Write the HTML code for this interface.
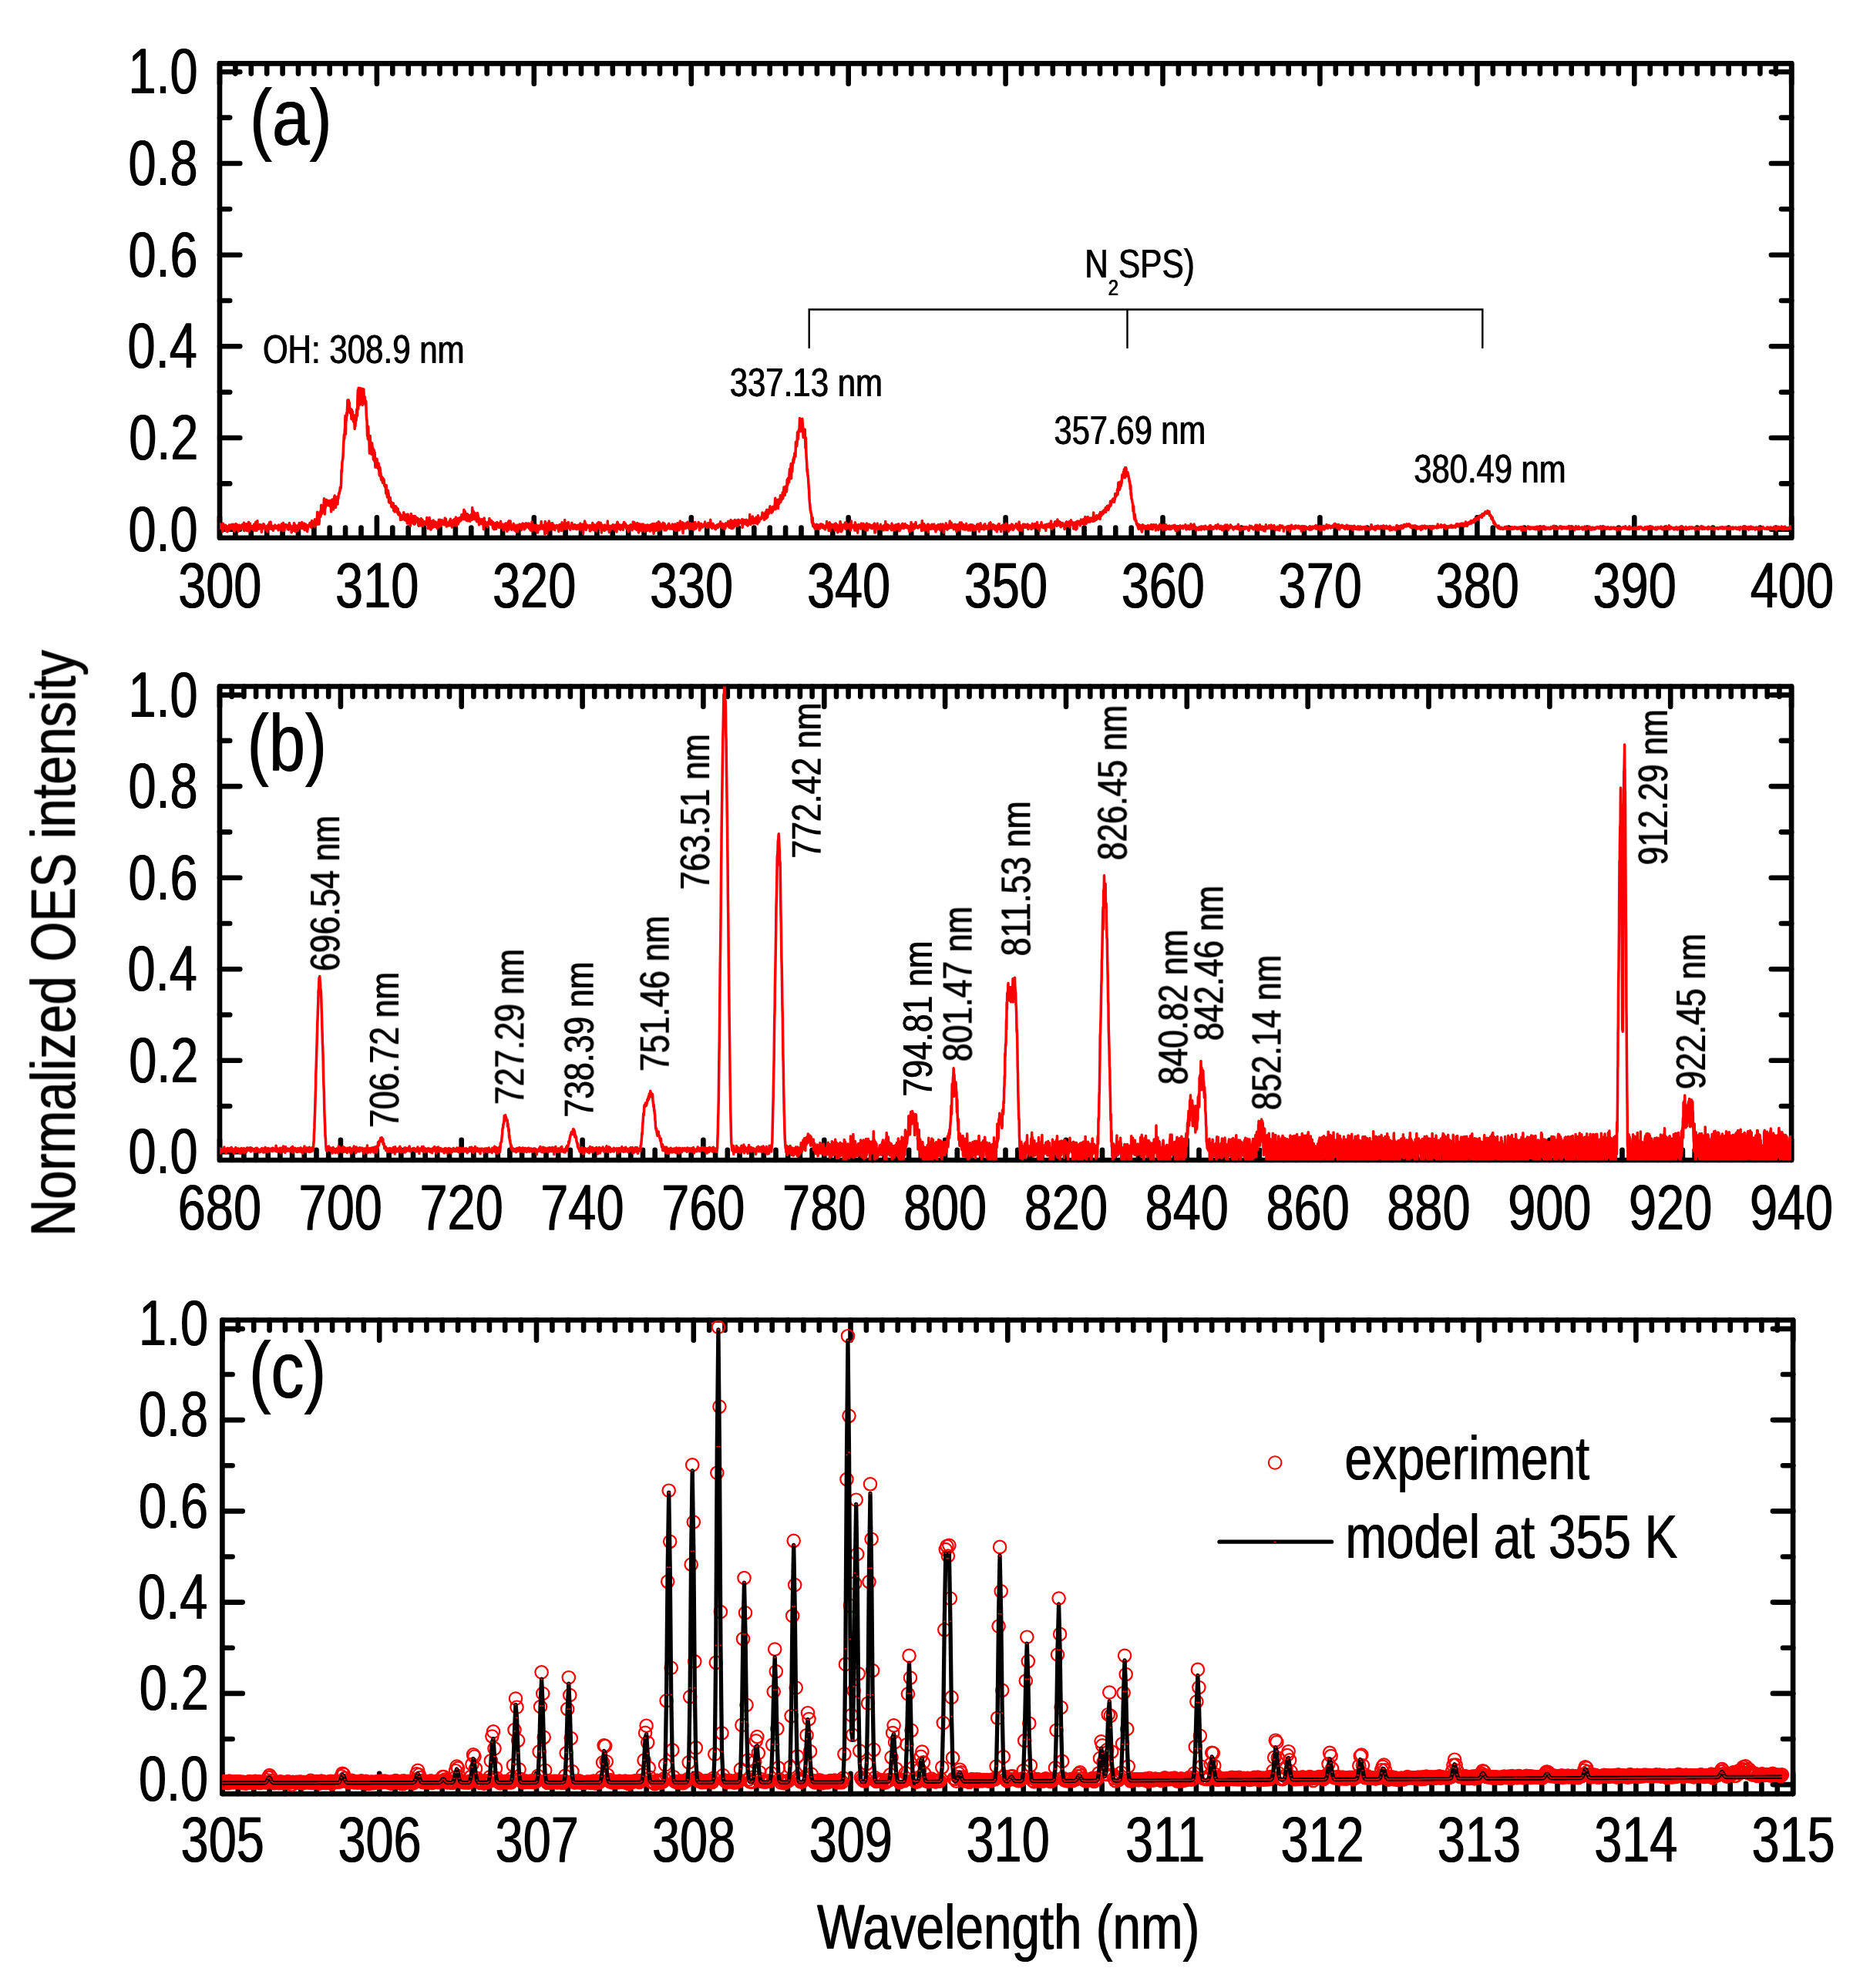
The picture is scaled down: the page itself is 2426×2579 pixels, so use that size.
<!DOCTYPE html><html><head><meta charset="utf-8"><title>OES spectra</title><style>html,body{margin:0;padding:0;background:#fff}svg{display:block}text{font-family:"Liberation Sans", sans-serif;fill:#000;filter:url(#bd)}</style></head><body>
<svg width="2426" height="2579" viewBox="0 0 2426 2579"><rect width="2426" height="2579" fill="#fff"/>
<defs><filter id="bd" x="-5%" y="-20%" width="110%" height="140%"><feOffset dx="1.2" dy="0" result="o"/><feMerge><feMergeNode in="SourceGraphic"/><feMergeNode in="o"/></feMerge></filter></defs>
<path d="M305.4 697.7v-13.2M305.4 82.4v13.2M325.8 697.7v-13.2M325.8 82.4v13.2M346.2 697.7v-13.2M346.2 82.4v13.2M366.6 697.7v-13.2M366.6 82.4v13.2M387 697.7v-13.2M387 82.4v13.2M407.4 697.7v-13.2M407.4 82.4v13.2M427.7 697.7v-13.2M427.7 82.4v13.2M448.1 697.7v-13.2M448.1 82.4v13.2M468.5 697.7v-13.2M468.5 82.4v13.2M509.3 697.7v-13.2M509.3 82.4v13.2M529.7 697.7v-13.2M529.7 82.4v13.2M550.1 697.7v-13.2M550.1 82.4v13.2M570.5 697.7v-13.2M570.5 82.4v13.2M590.9 697.7v-13.2M590.9 82.4v13.2M611.3 697.7v-13.2M611.3 82.4v13.2M631.7 697.7v-13.2M631.7 82.4v13.2M652.1 697.7v-13.2M652.1 82.4v13.2M672.4 697.7v-13.2M672.4 82.4v13.2M713.2 697.7v-13.2M713.2 82.4v13.2M733.6 697.7v-13.2M733.6 82.4v13.2M754 697.7v-13.2M754 82.4v13.2M774.4 697.7v-13.2M774.4 82.4v13.2M794.8 697.7v-13.2M794.8 82.4v13.2M815.2 697.7v-13.2M815.2 82.4v13.2M835.6 697.7v-13.2M835.6 82.4v13.2M856 697.7v-13.2M856 82.4v13.2M876.4 697.7v-13.2M876.4 82.4v13.2M917.2 697.7v-13.2M917.2 82.4v13.2M937.5 697.7v-13.2M937.5 82.4v13.2M957.9 697.7v-13.2M957.9 82.4v13.2M978.3 697.7v-13.2M978.3 82.4v13.2M998.7 697.7v-13.2M998.7 82.4v13.2M1019.1 697.7v-13.2M1019.1 82.4v13.2M1039.5 697.7v-13.2M1039.5 82.4v13.2M1059.9 697.7v-13.2M1059.9 82.4v13.2M1080.3 697.7v-13.2M1080.3 82.4v13.2M1121.1 697.7v-13.2M1121.1 82.4v13.2M1141.5 697.7v-13.2M1141.5 82.4v13.2M1161.9 697.7v-13.2M1161.9 82.4v13.2M1182.2 697.7v-13.2M1182.2 82.4v13.2M1202.6 697.7v-13.2M1202.6 82.4v13.2M1223 697.7v-13.2M1223 82.4v13.2M1243.4 697.7v-13.2M1243.4 82.4v13.2M1263.8 697.7v-13.2M1263.8 82.4v13.2M1284.2 697.7v-13.2M1284.2 82.4v13.2M1325 697.7v-13.2M1325 82.4v13.2M1345.4 697.7v-13.2M1345.4 82.4v13.2M1365.8 697.7v-13.2M1365.8 82.4v13.2M1386.2 697.7v-13.2M1386.2 82.4v13.2M1406.6 697.7v-13.2M1406.6 82.4v13.2M1427 697.7v-13.2M1427 82.4v13.2M1447.3 697.7v-13.2M1447.3 82.4v13.2M1467.7 697.7v-13.2M1467.7 82.4v13.2M1488.1 697.7v-13.2M1488.1 82.4v13.2M1528.9 697.7v-13.2M1528.9 82.4v13.2M1549.3 697.7v-13.2M1549.3 82.4v13.2M1569.7 697.7v-13.2M1569.7 82.4v13.2M1590.1 697.7v-13.2M1590.1 82.4v13.2M1610.5 697.7v-13.2M1610.5 82.4v13.2M1630.9 697.7v-13.2M1630.9 82.4v13.2M1651.3 697.7v-13.2M1651.3 82.4v13.2M1671.7 697.7v-13.2M1671.7 82.4v13.2M1692 697.7v-13.2M1692 82.4v13.2M1732.8 697.7v-13.2M1732.8 82.4v13.2M1753.2 697.7v-13.2M1753.2 82.4v13.2M1773.6 697.7v-13.2M1773.6 82.4v13.2M1794 697.7v-13.2M1794 82.4v13.2M1814.4 697.7v-13.2M1814.4 82.4v13.2M1834.8 697.7v-13.2M1834.8 82.4v13.2M1855.2 697.7v-13.2M1855.2 82.4v13.2M1875.6 697.7v-13.2M1875.6 82.4v13.2M1896 697.7v-13.2M1896 82.4v13.2M1936.8 697.7v-13.2M1936.8 82.4v13.2M1957.1 697.7v-13.2M1957.1 82.4v13.2M1977.5 697.7v-13.2M1977.5 82.4v13.2M1997.9 697.7v-13.2M1997.9 82.4v13.2M2018.3 697.7v-13.2M2018.3 82.4v13.2M2038.7 697.7v-13.2M2038.7 82.4v13.2M2059.1 697.7v-13.2M2059.1 82.4v13.2M2079.5 697.7v-13.2M2079.5 82.4v13.2M2099.9 697.7v-13.2M2099.9 82.4v13.2M2140.7 697.7v-13.2M2140.7 82.4v13.2M2161.1 697.7v-13.2M2161.1 82.4v13.2M2181.5 697.7v-13.2M2181.5 82.4v13.2M2201.8 697.7v-13.2M2201.8 82.4v13.2M2222.2 697.7v-13.2M2222.2 82.4v13.2M2242.6 697.7v-13.2M2242.6 82.4v13.2M2263 697.7v-13.2M2263 82.4v13.2M2283.4 697.7v-13.2M2283.4 82.4v13.2M2303.8 697.7v-13.2M2303.8 82.4v13.2M285 697.7v-26.3M285 82.4v26.3M488.9 697.7v-26.3M488.9 82.4v26.3M692.8 697.7v-26.3M692.8 82.4v26.3M896.8 697.7v-26.3M896.8 82.4v26.3M1100.7 697.7v-26.3M1100.7 82.4v26.3M1304.6 697.7v-26.3M1304.6 82.4v26.3M1508.5 697.7v-26.3M1508.5 82.4v26.3M1712.4 697.7v-26.3M1712.4 82.4v26.3M1916.4 697.7v-26.3M1916.4 82.4v26.3M2120.3 697.7v-26.3M2120.3 82.4v26.3M2324.2 697.7v-26.3M2324.2 82.4v26.3M285 686.7h26.3M2324.2 686.7h-26.3M285 627.4h13.2M2324.2 627.4h-13.2M285 568h26.3M2324.2 568h-26.3M285 508.7h13.2M2324.2 508.7h-13.2M285 449.3h26.3M2324.2 449.3h-26.3M285 390h13.2M2324.2 390h-13.2M285 330.7h26.3M2324.2 330.7h-26.3M285 271.3h13.2M2324.2 271.3h-13.2M285 212h26.3M2324.2 212h-26.3M285 152.6h13.2M2324.2 152.6h-13.2M285 93.3h26.3M2324.2 93.3h-26.3" stroke="#000" stroke-width="6.6" stroke-linecap="round" fill="none"/>
<rect x="285" y="82.4" width="2039.2" height="615.3" fill="none" stroke="#000" stroke-width="6.6" stroke-linejoin="round"/>
<clipPath id="cp1"><rect x="285" y="82.4" width="2039.2" height="615.3"/></clipPath>
<polyline points="285,683.6 285.4,679.5 285.8,680 286.3,685.3 286.7,684.7 287.1,685.4 287.5,682 287.9,683.9 288.3,681.4 288.8,689.4 289.2,678.9 289.6,684 290,681.6 290.4,684.2 290.9,684.9 291.3,682.3 291.7,681.2 292.1,684.4 292.5,684.2 292.9,681.6 293.4,686.4 293.8,688.4 294.2,682.5 294.6,685.8 295,689.7 295.5,686.2 295.9,685.2 296.3,687.4 296.7,688.3 297.1,683.6 297.5,681 298,684.5 298.4,686 298.8,682.5 299.2,681.5 299.6,684.7 300,682.1 300.5,680.5 300.9,684.4 301.3,686.2 301.7,682.7 302.1,683 302.6,680.3 303,687.7 303.4,685.8 303.8,686.3 304.2,689.1 304.6,683.3 305.1,682.1 305.5,686 305.9,679.5 306.3,681.2 306.7,681.8 307.2,682.5 307.6,680.8 308,687.8 308.4,681.8 308.8,681.9 309.2,689.2 309.7,682.7 310.1,684.5 310.5,681.3 310.9,685.1 311.3,683.8 311.8,682.7 312.2,686.4 312.6,681.9 313,684.1 313.4,682.2 313.8,685.3 314.3,680.4 314.7,681.9 315.1,684.3 315.5,681.8 315.9,679.9 316.4,678.2 316.8,688.6 317.2,681 317.6,682.3 318,684 318.4,686.8 318.9,679.9 319.3,687.6 319.7,682 320.1,679.7 320.5,688.7 321,684.7 321.4,687.8 321.8,683 322.2,679.1 322.6,677.5 323,689.2 323.5,685.5 323.9,681.6 324.3,678.9 324.7,682.4 325.1,686 325.5,682.8 326,683.8 326.4,684.4 326.8,686 327.2,682.5 327.6,682.8 328.1,684 328.5,684.4 328.9,687.7 329.3,685.2 329.7,680 330.1,684.3 330.6,688.2 331,679.6 331.4,682.1 331.8,677.3 332.2,683.5 332.7,685.1 333.1,688.2 333.5,679.7 333.9,675.8 334.3,686.3 334.7,685.7 335.2,681.9 335.6,686.3 336,684.6 336.4,684.8 336.8,683.1 337.3,680.4 337.7,683.7 338.1,680.9 338.5,685 338.9,682.7 339.3,690.3 339.8,688.2 340.2,681.3 340.6,685.5 341,682 341.4,682.1 341.9,679.7 342.3,681.2 342.7,680.6 343.1,684.1 343.5,685.9 343.9,686 344.4,685.2 344.8,687.2 345.2,685.4 345.6,684 346,683 346.5,684.8 346.9,689.6 347.3,684 347.7,683 348.1,680.4 348.5,682 349,685.7 349.4,686 349.8,677.6 350.2,681.4 350.6,678.1 351,677.2 351.5,686.2 351.9,682.6 352.3,682.3 352.7,682 353.1,682.1 353.6,683.1 354,683.2 354.4,688.3 354.8,684.2 355.2,686 355.6,683.3 356.1,685.2 356.5,681.8 356.9,681.2 357.3,682.8 357.7,682.8 358.2,683.4 358.6,685.1 359,684.2 359.4,685.3 359.8,682.5 360.2,683.7 360.7,682 361.1,687.8 361.5,681 361.9,686.1 362.3,686 362.8,684.3 363.2,685.5 363.6,682.8 364,685.5 364.4,687 364.8,686.3 365.3,679.7 365.7,683.6 366.1,687.3 366.5,683.7 366.9,688.5 367.4,678.3 367.8,688.4 368.2,682.3 368.6,682.1 369,688.2 369.4,682.8 369.9,680.7 370.3,682.3 370.7,682.9 371.1,680.8 371.5,683.2 372,682.7 372.4,684.1 372.8,681.8 373.2,686.6 373.6,681.3 374,685.3 374.5,687.1 374.9,682.6 375.3,678.6 375.7,680.8 376.1,685.3 376.5,681.6 377,685.1 377.4,684.1 377.8,683.5 378.2,690.8 378.6,683.1 379.1,686.9 379.5,685.9 379.9,688.2 380.3,688.4 380.7,686.6 381.1,681.2 381.6,678.6 382,683.8 382.4,680.4 382.8,684.5 383.2,689.6 383.7,683.3 384.1,682.4 384.5,685 384.9,682.8 385.3,682 385.7,686.4 386.2,688.2 386.6,684.4 387,684.4 387.4,684.8 387.8,680.7 388.3,678.5 388.7,685 389.1,681.6 389.5,680.9 389.9,681.6 390.3,680.5 390.8,684.9 391.2,681.5 391.6,677.6 392,681.3 392.4,685.6 392.9,681.9 393.3,679.9 393.7,682.6 394.1,685.5 394.5,679 394.9,687.5 395.4,682.2 395.8,683.8 396.2,687.4 396.6,680 397,682.7 397.5,687.3 397.9,681.9 398.3,685 398.7,689.5 399.1,685.8 399.5,682.7 400,681.3 400.4,682.5 400.8,682.6 401.2,681 401.6,682.9 402.1,678.3 402.5,681.2 402.9,680.5 403.3,679.5 403.7,684.2 404.1,682.9 404.6,675.6 405,679.1 405.4,680.8 405.8,678.5 406.2,680.9 406.6,678.2 407.1,680.9 407.5,677.7 407.9,683.3 408.3,673.8 408.7,679.4 409.2,682.6 409.6,678 410,678.2 410.4,676.2 410.8,680.2 411.2,674.9 411.7,664.2 412.1,679.9 412.5,674.3 412.9,676.2 413.3,674.3 413.8,680 414.2,676.6 414.6,670 415,670.5 415.4,663.5 415.8,670.4 416.3,666.1 416.7,655.2 417.1,667 417.5,666.3 417.9,662 418.4,660.8 418.8,656.3 419.2,657.7 419.6,659.9 420,656.1 420.4,646.7 420.9,651.7 421.3,667 421.7,656.8 422.1,659.4 422.5,653.6 423,656.5 423.4,648.3 423.8,651.9 424.2,651.9 424.6,654.5 425,655.2 425.5,653.6 425.9,649.8 426.3,652.5 426.7,655.8 427.1,649.4 427.6,653.4 428,654.2 428.4,656.7 428.8,655.6 429.2,655.7 429.6,663.8 430.1,648.8 430.5,650.3 430.9,653.1 431.3,647.9 431.7,650 432.1,650 432.6,661 433,651.9 433.4,648.7 433.8,644.2 434.2,643 434.7,644.4 435.1,654.4 435.5,658.3 435.9,647 436.3,649 436.7,645 437.2,649.1 437.6,647.5 438,653.9 438.4,644.6 438.8,646.7 439.3,641.9 439.7,639.9 440.1,640.8 440.5,637.4 440.9,637.3 441.3,632.4 441.8,632 442.2,633.3 442.6,627.2 443,609.7 443.4,612.4 443.9,600.4 444.3,597.1 444.7,596 445.1,590.8 445.5,579.5 445.9,572.3 446.4,563.7 446.8,569.3 447.2,559.5 447.6,553.4 448,539.2 448.5,563.1 448.9,541.3 449.3,545.2 449.7,535.6 450.1,539.3 450.5,530.4 451,518.9 451.4,524.8 451.8,521.3 452.2,518.9 452.6,529.3 453.1,521.7 453.5,529.3 453.9,535.7 454.3,532 454.7,535.4 455.1,530.4 455.6,538.1 456,543.5 456.4,531.4 456.8,535.2 457.2,533.8 457.6,538.9 458.1,544.4 458.5,547.1 458.9,546.6 459.3,538.8 459.7,545.1 460.2,556.5 460.6,545.7 461,552.6 461.4,539.1 461.8,546.1 462.2,544.1 462.7,531.7 463.1,530.5 463.5,539.5 463.9,519.2 464.3,506.1 464.8,530.8 465.2,503.2 465.6,520.3 466,518.4 466.4,515.6 466.8,524.9 467.3,503.4 467.7,509.2 468.1,518.3 468.5,514.2 468.9,523.4 469.4,513.9 469.8,504.2 470.2,525.5 470.6,516.4 471,512.7 471.4,506.6 471.9,505.1 472.3,519.7 472.7,522.6 473.1,514.4 473.5,521.3 474,525 474.4,519.9 474.8,520.7 475.2,536 475.6,544.2 476,544.1 476.5,565.5 476.9,558.2 477.3,569.8 477.7,553.3 478.1,564.8 478.6,569.6 479,572.9 479.4,588.1 479.8,569.8 480.2,565.6 480.6,580.9 481.1,573.7 481.5,574.7 481.9,589.3 482.3,576 482.7,574.8 483.1,582.5 483.6,585.4 484,581.8 484.4,596.2 484.8,588.2 485.2,584.1 485.7,598.1 486.1,586.9 486.5,595.9 486.9,606.2 487.3,596.6 487.7,602.5 488.2,596.8 488.6,605.9 489,595.3 489.4,606 489.8,601.5 490.3,607.6 490.7,607.4 491.1,600.9 491.5,607.1 491.9,611.4 492.3,616.9 492.8,606.1 493.2,609.4 493.6,615.9 494,614.3 494.4,621.7 494.9,622.8 495.3,623.1 495.7,618.7 496.1,620.2 496.5,626.3 496.9,620.6 497.4,621.6 497.8,625.6 498.2,622.8 498.6,630 499,630.4 499.5,628.9 499.9,632.3 500.3,629.9 500.7,640 501.1,629.5 501.5,640.2 502,638.7 502.4,645 502.8,637.9 503.2,636.2 503.6,638.3 504.1,640.5 504.5,651.4 504.9,649.4 505.3,649.2 505.7,652.3 506.1,645.3 506.6,650.2 507,652.1 507.4,651.2 507.8,657.2 508.2,657.6 508.6,658 509.1,653.3 509.5,654.5 509.9,654.1 510.3,652.8 510.7,662.5 511.2,660 511.6,658 512,664 512.4,661.6 512.8,656.4 513.2,656.7 513.7,657.3 514.1,661.6 514.5,663.1 514.9,659 515.3,664.8 515.8,662.8 516.2,659.9 516.6,666.4 517,667.8 517.4,666.2 517.8,664.6 518.3,665.6 518.7,667.3 519.1,666.5 519.5,674.4 519.9,672 520.4,668.7 520.8,672.5 521.2,674.1 521.6,673.8 522,672.9 522.4,670.6 522.9,673.6 523.3,669.5 523.7,664.7 524.1,671.1 524.5,666.5 525,669.9 525.4,674.8 525.8,672.1 526.2,674.7 526.6,669 527,675.5 527.5,667.4 527.9,670.1 528.3,678.9 528.7,669.7 529.1,667.3 529.6,675.2 530,669.5 530.4,678.9 530.8,672.3 531.2,678.7 531.6,671.8 532.1,679.4 532.5,682.3 532.9,672.6 533.3,666.5 533.7,676.1 534.1,671.6 534.6,674.1 535,675.7 535.4,672.8 535.8,669.6 536.2,679.1 536.7,673.4 537.1,674.3 537.5,680.2 537.9,670.5 538.3,669.6 538.7,679.1 539.2,670.6 539.6,676.2 540,677 540.4,671.8 540.8,676.1 541.3,675.9 541.7,672.3 542.1,673.1 542.5,674.4 542.9,681.8 543.3,682.4 543.8,673.9 544.2,680.4 544.6,677.1 545,681 545.4,678.2 545.9,681.8 546.3,672.6 546.7,681 547.1,678.3 547.5,678.5 547.9,674.2 548.4,682.5 548.8,678.2 549.2,678.8 549.6,676.5 550,676.8 550.5,679.8 550.9,677.6 551.3,679.6 551.7,677 552.1,678.8 552.5,680.6 553,678.7 553.4,677.5 553.8,671.6 554.2,680.3 554.6,677.9 555.1,674.3 555.5,685.5 555.9,684.5 556.3,682.8 556.7,679.5 557.1,671.6 557.6,678 558,675.5 558.4,680 558.8,687.1 559.2,686.6 559.6,676.3 560.1,679 560.5,683.6 560.9,676.1 561.3,684.4 561.7,676.1 562.2,675.1 562.6,682 563,683 563.4,677 563.8,683 564.2,676.9 564.7,683.3 565.1,677.1 565.5,679.3 565.9,680.9 566.3,682.4 566.8,678.8 567.2,685.5 567.6,680.4 568,680.8 568.4,677.5 568.8,683.5 569.3,674.3 569.7,680.5 570.1,683.1 570.5,675.3 570.9,674.4 571.4,680.2 571.8,682.3 572.2,679.5 572.6,681.7 573,680.5 573.4,674.7 573.9,678.4 574.3,679.1 574.7,678.5 575.1,679.8 575.5,677 576,676.9 576.4,680.7 576.8,679.3 577.2,672.1 577.6,678.3 578,680.2 578.5,673.2 578.9,679.5 579.3,683 579.7,677.5 580.1,682.4 580.6,681.1 581,678.6 581.4,680 581.8,681.9 582.2,681.3 582.6,681.4 583.1,676 583.5,681.8 583.9,681.4 584.3,673.3 584.7,681.3 585.1,675 585.6,675.5 586,680.1 586.4,684 586.8,678.2 587.2,677.2 587.7,676.1 588.1,678.6 588.5,674.8 588.9,674 589.3,681.4 589.7,673.4 590.2,677.1 590.6,679.2 591,678.1 591.4,670.9 591.8,673.5 592.3,682.1 592.7,675.9 593.1,676.4 593.5,676.2 593.9,677.1 594.3,679.9 594.8,672.2 595.2,677.7 595.6,675.7 596,676.2 596.4,676.3 596.9,671.3 597.3,672 597.7,674.9 598.1,675.2 598.5,673.1 598.9,667.7 599.4,669.9 599.8,669 600.2,670.3 600.6,669.5 601,667.3 601.5,673.7 601.9,661.3 602.3,669.5 602.7,669.2 603.1,663.2 603.5,667.5 604,668.6 604.4,671.1 604.8,674.9 605.2,669.5 605.6,666.7 606.1,674.1 606.5,667.1 606.9,675.8 607.3,674.8 607.7,670.3 608.1,671.5 608.6,668.8 609,673.2 609.4,673.8 609.8,676.2 610.2,673.6 610.7,672.7 611.1,673.5 611.5,667.2 611.9,670.1 612.3,674.3 612.7,658.6 613.2,669.5 613.6,671.1 614,663 614.4,663.7 614.8,672 615.2,673.5 615.7,672.4 616.1,665.6 616.5,670.9 616.9,673 617.3,670.8 617.8,667.2 618.2,676.2 618.6,673.3 619,676.8 619.4,665.5 619.8,666.9 620.3,670 620.7,673.9 621.1,671.6 621.5,680.8 621.9,673.4 622.4,678.9 622.8,679.1 623.2,677.4 623.6,676.6 624,673.9 624.4,673.8 624.9,675.5 625.3,679.6 625.7,674.7 626.1,677.5 626.5,673.7 627,680.6 627.4,686.7 627.8,679.8 628.2,671.9 628.6,677.4 629,679.8 629.5,676.7 629.9,678.1 630.3,678.3 630.7,681.3 631.1,679.6 631.6,679.3 632,681.9 632.4,683.5 632.8,679.7 633.2,677.2 633.6,678.2 634.1,678.8 634.5,678.8 634.9,672.5 635.3,679.7 635.7,677.4 636.2,674.6 636.6,680.5 637,679.9 637.4,677.6 637.8,675.7 638.2,680 638.7,679.9 639.1,680.8 639.5,684.8 639.9,677.8 640.3,682 640.7,686.6 641.2,681.8 641.6,686.7 642,684.6 642.4,681.5 642.8,684.4 643.3,678.5 643.7,686.2 644.1,681.1 644.5,680.2 644.9,677.6 645.3,679.3 645.8,681.4 646.2,681.9 646.6,682.4 647,678.9 647.4,684.3 647.9,680.9 648.3,682.8 648.7,681.9 649.1,683.4 649.5,676.3 649.9,684.7 650.4,682.1 650.8,682.1 651.2,681.2 651.6,681.7 652,681.8 652.5,680.2 652.9,687.6 653.3,683.1 653.7,686.8 654.1,682.4 654.5,686.6 655,686 655.4,683.3 655.8,678.9 656.2,681.4 656.6,682.2 657.1,678.9 657.5,685.9 657.9,689.3 658.3,684.4 658.7,683.9 659.1,679.4 659.6,676.7 660,687.1 660.4,675.7 660.8,678.5 661.2,680.6 661.7,682 662.1,675.9 662.5,682.9 662.9,684.5 663.3,682.7 663.7,687.2 664.2,681.7 664.6,683.4 665,682.1 665.4,682 665.8,686.3 666.2,679.2 666.7,686.1 667.1,680.5 667.5,687.9 667.9,682 668.3,685.6 668.8,683 669.2,685 669.6,689.6 670,686.4 670.4,682.9 670.8,681.3 671.3,687.5 671.7,689.4 672.1,685.7 672.5,683.7 672.9,685 673.4,685.5 673.8,680.6 674.2,680.2 674.6,680.9 675,685.9 675.4,682.9 675.9,683.7 676.3,687.4 676.7,680.5 677.1,682.9 677.5,684.6 678,678.9 678.4,680.9 678.8,680.6 679.2,679.6 679.6,681 680,686.9 680.5,684.3 680.9,680.1 681.3,685.4 681.7,683 682.1,681.9 682.6,678.8 683,679.3 683.4,680.5 683.8,683.7 684.2,680.4 684.6,681.6 685.1,683.6 685.5,679.1 685.9,681.7 686.3,685.4 686.7,679.4 687.2,683.9 687.6,681.4 688,687.7 688.4,683.2 688.8,685.9 689.2,686 689.7,688.8 690.1,676.8 690.5,683.6 690.9,682.4 691.3,679.9 691.7,683.5 692.2,681.6 692.6,687.2 693,682.6 693.4,684.4 693.8,681.7 694.3,682.6 694.7,687.3 695.1,688.6 695.5,686.2 695.9,681 696.3,681.9 696.8,682 697.2,689.1 697.6,691.1 698,685 698.4,684.2 698.9,685 699.3,682.1 699.7,683.7 700.1,686.7 700.5,685.8 700.9,682.8 701.4,683 701.8,683.4 702.2,676.5 702.6,684 703,682.8 703.5,686.1 703.9,684.2 704.3,681.6 704.7,681.5 705.1,683.7 705.5,682 706,683 706.4,688.8 706.8,692.9 707.2,676.4 707.6,680.7 708.1,683.4 708.5,688.3 708.9,687 709.3,679.2 709.7,691.4 710.1,684.2 710.6,680.6 711,682.8 711.4,681 711.8,683.6 712.2,676.1 712.7,686.2 713.1,687.2 713.5,682.4 713.9,679 714.3,683.4 714.7,680.1 715.2,684.8 715.6,686.7 716,679.1 716.4,678.6 716.8,678.7 717.2,684.5 717.7,686.6 718.1,686.7 718.5,683.9 718.9,681.5 719.3,681.7 719.8,687.4 720.2,682.6 720.6,683.2 721,682.9 721.4,683.3 721.8,683.8 722.3,681.5 722.7,682.8 723.1,682.5 723.5,685.3 723.9,682 724.4,683.6 724.8,689.5 725.2,681.8 725.6,684 726,680.5 726.4,683.7 726.9,683.5 727.3,682.6 727.7,683.2 728.1,684.5 728.5,688.5 729,677.8 729.4,687.9 729.8,684.2 730.2,681.3 730.6,682.1 731,681.5 731.5,680.9 731.9,679.5 732.3,682.3 732.7,674.6 733.1,686.2 733.6,682.5 734,684.3 734.4,684.8 734.8,682.4 735.2,678.9 735.6,685.3 736.1,685.3 736.5,681.1 736.9,681.6 737.3,677.5 737.7,680.2 738.2,682.5 738.6,684.2 739,682.6 739.4,683.7 739.8,687.2 740.2,683.2 740.7,683.7 741.1,683.9 741.5,684.5 741.9,678.2 742.3,681.2 742.7,680.5 743.2,685 743.6,686.2 744,684.1 744.4,682.5 744.8,684.2 745.3,683.8 745.7,680.4 746.1,682.3 746.5,686.1 746.9,684.5 747.3,685.2 747.8,682.7 748.2,686.7 748.6,683.8 749,681.2 749.4,683.1 749.9,685.9 750.3,685 750.7,682.9 751.1,681.8 751.5,680.8 751.9,683.7 752.4,687.1 752.8,679 753.2,682.4 753.6,682 754,682.3 754.5,686.3 754.9,684.2 755.3,682.5 755.7,680.2 756.1,683.1 756.5,692.4 757,683.9 757.4,682.2 757.8,679.4 758.2,681.1 758.6,675.9 759.1,679.1 759.5,679.3 759.9,680.5 760.3,687.3 760.7,680.7 761.1,681.5 761.6,684.8 762,681.5 762.4,682 762.8,684.6 763.2,683.6 763.7,684 764.1,682.6 764.5,684.5 764.9,681.6 765.3,688.9 765.7,684.1 766.2,688.2 766.6,684.7 767,681.7 767.4,683.2 767.8,683.6 768.2,683 768.7,678.6 769.1,686.5 769.5,680.6 769.9,687.7 770.3,684.6 770.8,682.8 771.2,685.7 771.6,682.6 772,681.1 772.4,686.8 772.8,683.5 773.3,684.4 773.7,688.9 774.1,683.8 774.5,685.6 774.9,679.3 775.4,685.8 775.8,678.3 776.2,684.8 776.6,677.6 777,681.7 777.4,681.9 777.9,680.9 778.3,680.6 778.7,679.1 779.1,678.2 779.5,684.3 780,686.9 780.4,691.1 780.8,684.4 781.2,681 781.6,682.1 782,682.9 782.5,684.3 782.9,685.1 783.3,684.1 783.7,682.1 784.1,688.4 784.6,681.1 785,687.5 785.4,683.7 785.8,685.1 786.2,684.3 786.6,686.3 787.1,686.6 787.5,683.9 787.9,686.4 788.3,676.1 788.7,684.5 789.2,685.2 789.6,684.9 790,686.4 790.4,690.5 790.8,684 791.2,682.4 791.7,687.7 792.1,683.3 792.5,686.8 792.9,683.4 793.3,682.2 793.7,681.9 794.2,682 794.6,685.3 795,680.7 795.4,684.6 795.8,682.2 796.3,681.2 796.7,684.2 797.1,687 797.5,681.5 797.9,686.5 798.3,685.9 798.8,686.5 799.2,680.8 799.6,683.8 800,689.9 800.4,681.1 800.9,677.2 801.3,678 801.7,684.9 802.1,683 802.5,681.8 802.9,680.7 803.4,683.2 803.8,686.5 804.2,681.1 804.6,681.5 805,687.2 805.5,684.4 805.9,682.5 806.3,683.3 806.7,681.7 807.1,681 807.5,681.7 808,683.6 808.4,687.2 808.8,681.5 809.2,679.2 809.6,677.5 810.1,683.4 810.5,683.4 810.9,679 811.3,679.1 811.7,682.3 812.1,681.2 812.6,685.5 813,681.6 813.4,685.7 813.8,683.7 814.2,683.6 814.7,684.6 815.1,689.5 815.5,685.7 815.9,682.3 816.3,683.5 816.7,684.4 817.2,682 817.6,681.3 818,680.8 818.4,685.6 818.8,683.2 819.3,684.3 819.7,685.8 820.1,687.7 820.5,683.6 820.9,685.8 821.3,677 821.8,683.6 822.2,683.9 822.6,684.4 823,677.8 823.4,686 823.8,683.7 824.3,685.5 824.7,683.6 825.1,683.4 825.5,680.1 825.9,687.4 826.4,683.3 826.8,678.6 827.2,684.8 827.6,683.8 828,685.9 828.4,690.9 828.9,683.6 829.3,679.8 829.7,684.6 830.1,688.7 830.5,682.5 831,683 831.4,680.3 831.8,680.6 832.2,684 832.6,682.1 833,688.5 833.5,680 833.9,682.7 834.3,680.1 834.7,680.2 835.1,684.1 835.6,683.7 836,685.8 836.4,689.3 836.8,683.6 837.2,682.8 837.6,686.4 838.1,681.2 838.5,683 838.9,681.9 839.3,685.5 839.7,688.4 840.2,681 840.6,681.5 841,683.6 841.4,684.5 841.8,684 842.2,683.6 842.7,684.7 843.1,689.1 843.5,680.9 843.9,687.6 844.3,684.2 844.8,684.1 845.2,682.5 845.6,687.9 846,679.7 846.4,681.3 846.8,681 847.3,679.5 847.7,685.5 848.1,692.3 848.5,682.2 848.9,679.4 849.3,679.8 849.8,684.7 850.2,683.4 850.6,682.3 851,688.4 851.4,685.1 851.9,685 852.3,678.5 852.7,685.1 853.1,678.6 853.5,683.1 853.9,688 854.4,676.7 854.8,686 855.2,681.3 855.6,678.2 856,684.7 856.5,686.7 856.9,680.1 857.3,682.9 857.7,686.7 858.1,686.3 858.5,684.2 859,680.3 859.4,683.9 859.8,681.2 860.2,678.3 860.6,679.4 861.1,678.9 861.5,679.5 861.9,687.8 862.3,679.5 862.7,682.1 863.1,683.4 863.6,686.2 864,687.7 864.4,686.3 864.8,683.1 865.2,686.5 865.7,685.4 866.1,684.9 866.5,681.1 866.9,683.9 867.3,683.5 867.7,679.2 868.2,684 868.6,681.3 869,686.1 869.4,682.1 869.8,682.7 870.3,682.5 870.7,684.4 871.1,686 871.5,683.9 871.9,684.4 872.3,680 872.8,680.4 873.2,686.5 873.6,681.2 874,684.4 874.4,681.7 874.8,684.4 875.3,687.3 875.7,680 876.1,681.7 876.5,686.5 876.9,688.5 877.4,684.5 877.8,686.4 878.2,684 878.6,681.1 879,678.7 879.4,684 879.9,678.9 880.3,679.5 880.7,684.2 881.1,687.8 881.5,680.4 882,681.1 882.4,676 882.8,678.7 883.2,680.6 883.6,678 884,685.9 884.5,682.3 884.9,683.6 885.3,677.8 885.7,681.2 886.1,691.7 886.6,678.8 887,685.5 887.4,680.5 887.8,684.2 888.2,682.1 888.6,680.9 889.1,682.2 889.5,685.5 889.9,678.7 890.3,681.6 890.7,682.8 891.2,680.7 891.6,684.3 892,677.2 892.4,682 892.8,681.6 893.2,681.7 893.7,685.3 894.1,686.1 894.5,682 894.9,681.6 895.3,678.7 895.8,681.3 896.2,685.8 896.6,681.1 897,680.2 897.4,679.7 897.8,681.6 898.3,686.1 898.7,679.2 899.1,684.7 899.5,680.9 899.9,687.1 900.3,680.3 900.8,684.8 901.2,679.4 901.6,677.4 902,679.1 902.4,685.9 902.9,685.2 903.3,685 903.7,680.5 904.1,681.5 904.5,682 904.9,681.5 905.4,680.7 905.8,680.5 906.2,677.5 906.6,682.6 907,681.8 907.5,687.8 907.9,686.2 908.3,684.4 908.7,685.8 909.1,681.7 909.5,679.3 910,683.6 910.4,683.7 910.8,683.8 911.2,681.9 911.6,683.9 912.1,681 912.5,681.4 912.9,681.2 913.3,680 913.7,682.1 914.1,681.8 914.6,677.1 915,682.3 915.4,679.9 915.8,682 916.2,683.5 916.7,683.5 917.1,684.5 917.5,682.1 917.9,683.9 918.3,683.3 918.7,678.5 919.2,682.4 919.6,678.7 920,681.2 920.4,679.5 920.8,683.8 921.3,681.5 921.7,674.3 922.1,679.5 922.5,679 922.9,681.2 923.3,679.4 923.8,685.3 924.2,684.3 924.6,680.6 925,679.4 925.4,683 925.8,682.3 926.3,682.8 926.7,682.3 927.1,685.2 927.5,685.9 927.9,681.9 928.4,686.8 928.8,684.5 929.2,683.6 929.6,684.7 930,680.9 930.4,682.9 930.9,681.8 931.3,684.5 931.7,683.7 932.1,680 932.5,680.4 933,682.8 933.4,680.4 933.8,680.9 934.2,680.9 934.6,676.7 935,682.5 935.5,680.1 935.9,680.1 936.3,682 936.7,684.7 937.1,679.2 937.6,680.4 938,681 938.4,681.1 938.8,681.1 939.2,683.7 939.6,680.2 940.1,686.3 940.5,681.1 940.9,685.4 941.3,682 941.7,678.8 942.2,681.7 942.6,682.3 943,679.3 943.4,681.6 943.8,682 944.2,681.9 944.7,676.2 945.1,678.7 945.5,679.2 945.9,684.1 946.3,678.7 946.8,684.3 947.2,679.1 947.6,683.7 948,674.6 948.4,685.3 948.8,676.7 949.3,677.9 949.7,685.5 950.1,680.9 950.5,675.9 950.9,676.8 951.3,685 951.8,681.6 952.2,683.5 952.6,683 953,681.8 953.4,674.4 953.9,679.4 954.3,680.4 954.7,680.7 955.1,677.7 955.5,677.5 955.9,682.3 956.4,675.1 956.8,682.6 957.2,680.2 957.6,678 958,674.2 958.5,680.2 958.9,678.3 959.3,675.2 959.7,677.2 960.1,675.6 960.5,675.8 961,678 961.4,676.9 961.8,675.9 962.2,678.7 962.6,673.8 963.1,684.4 963.5,681.2 963.9,674 964.3,677 964.7,680.1 965.1,677 965.6,674.8 966,679.6 966.4,675.6 966.8,678.2 967.2,678.1 967.7,677.8 968.1,674.2 968.5,680.8 968.9,678.5 969.3,675.3 969.7,680.9 970.2,681.9 970.6,675.3 971,676.9 971.4,677.2 971.8,676.3 972.3,679.6 972.7,667.6 973.1,679.4 973.5,677.6 973.9,680.5 974.3,677.3 974.8,671.3 975.2,675.8 975.6,673.9 976,677.1 976.4,669.9 976.8,674.8 977.3,679.1 977.7,672.7 978.1,676.1 978.5,673 978.9,674.3 979.4,673.7 979.8,674 980.2,677.1 980.6,678.8 981,670.9 981.4,674.2 981.9,672.8 982.3,675 982.7,679.7 983.1,677.2 983.5,668.7 984,675.3 984.4,673.9 984.8,677.1 985.2,674 985.6,673.3 986,672.7 986.5,672 986.9,673.6 987.3,673.2 987.7,671.2 988.1,670 988.6,671.2 989,665 989.4,669.7 989.8,669.6 990.2,672 990.6,666.4 991.1,672.7 991.5,674.4 991.9,672.1 992.3,666.7 992.7,672.1 993.2,664 993.6,668 994,672.6 994.4,668.1 994.8,661.2 995.2,669.6 995.7,670.8 996.1,664.5 996.5,661.5 996.9,662.2 997.3,666.3 997.8,664.3 998.2,663.5 998.6,660.3 999,656.7 999.4,663.9 999.8,658.8 1000.3,663.9 1000.7,660.4 1001.1,665.2 1001.5,664.2 1001.9,659.8 1002.3,663.8 1002.8,657.3 1003.2,661.8 1003.6,659.2 1004,659.3 1004.4,659.7 1004.9,657.6 1005.3,653.8 1005.7,646.2 1006.1,660.7 1006.5,655 1006.9,656.1 1007.4,658.2 1007.8,653.4 1008.2,657 1008.6,653.5 1009,648.2 1009.5,659.4 1009.9,650.5 1010.3,649.1 1010.7,653.6 1011.1,647.5 1011.5,647.5 1012,649.4 1012.4,642.8 1012.8,651.5 1013.2,643.5 1013.6,646 1014.1,648.3 1014.5,644.2 1014.9,644 1015.3,638.7 1015.7,646.8 1016.1,640.9 1016.6,641 1017,632.1 1017.4,641.8 1017.8,632.1 1018.2,642.4 1018.7,633 1019.1,633.9 1019.5,630.7 1019.9,634.1 1020.3,638.1 1020.7,635.4 1021.2,622.2 1021.6,625.6 1022,629 1022.4,620.2 1022.8,626 1023.3,624.7 1023.7,625.4 1024.1,613.5 1024.5,608.5 1024.9,620.1 1025.3,613 1025.8,608.3 1026.2,601.5 1026.6,620.8 1027,607.3 1027.4,603.2 1027.8,611.6 1028.3,600.8 1028.7,600 1029.1,595.5 1029.5,600.1 1029.9,593.1 1030.4,596.3 1030.8,588.1 1031.2,588.2 1031.6,588.8 1032,592.1 1032.4,573.6 1032.9,574.1 1033.3,572.9 1033.7,578.8 1034.1,574.6 1034.5,560.7 1035,563.2 1035.4,569.6 1035.8,561.6 1036.2,558.2 1036.6,557.3 1037,558.8 1037.5,542.4 1037.9,546.4 1038.3,551.2 1038.7,559.6 1039.1,553.6 1039.6,550 1040,544.7 1040.4,552.2 1040.8,543.2 1041.2,549.1 1041.6,554.5 1042.1,567.5 1042.5,559.1 1042.9,563.1 1043.3,558 1043.7,558.9 1044.2,557.1 1044.6,569.9 1045,581.5 1045.4,568.3 1045.8,585.2 1046.2,594.3 1046.7,600.6 1047.1,612 1047.5,609.1 1047.9,616.5 1048.3,617.5 1048.8,625.5 1049.2,632.1 1049.6,636 1050,646.8 1050.4,651.9 1050.8,654.6 1051.3,662.5 1051.7,662.2 1052.1,665.9 1052.5,665.5 1052.9,670.1 1053.4,678 1053.8,674 1054.2,671.5 1054.6,682.4 1055,680.4 1055.4,679.2 1055.9,683.9 1056.3,682.3 1056.7,681.2 1057.1,685.5 1057.5,681.4 1057.9,681.4 1058.4,686.3 1058.8,682.9 1059.2,680.2 1059.6,683.8 1060,682.2 1060.5,681.7 1060.9,684.2 1061.3,680.9 1061.7,682.5 1062.1,686.4 1062.5,682.2 1063,681.3 1063.4,681.5 1063.8,685.4 1064.2,682.4 1064.6,679.9 1065.1,683 1065.5,680.4 1065.9,680.1 1066.3,683.8 1066.7,681.9 1067.1,684.5 1067.6,680.7 1068,683.9 1068.4,685.2 1068.8,683.7 1069.2,683.9 1069.7,682.6 1070.1,682.4 1070.5,686.9 1070.9,685.4 1071.3,682.7 1071.7,682.3 1072.2,683.4 1072.6,676.4 1073,680.6 1073.4,683.9 1073.8,681.7 1074.3,680 1074.7,682.6 1075.1,688.4 1075.5,683.4 1075.9,683.5 1076.3,677.8 1076.8,688.6 1077.2,679.4 1077.6,684 1078,681.1 1078.4,684.4 1078.9,683.1 1079.3,680.5 1079.7,683.4 1080.1,680.7 1080.5,683.8 1080.9,684.7 1081.4,684.2 1081.8,685 1082.2,683.9 1082.6,679.9 1083,686.8 1083.4,688.1 1083.9,683.6 1084.3,679 1084.7,680.7 1085.1,680 1085.5,680.2 1086,685.6 1086.4,683.2 1086.8,690.8 1087.2,685.2 1087.6,681.9 1088,687.8 1088.5,689.1 1088.9,687.1 1089.3,683 1089.7,680.4 1090.1,676.5 1090.6,679.7 1091,687.6 1091.4,689.8 1091.8,683.1 1092.2,680.7 1092.6,687.9 1093.1,684.9 1093.5,684.7 1093.9,683.4 1094.3,684 1094.7,682.1 1095.2,680.6 1095.6,683.3 1096,681.5 1096.4,678.1 1096.8,686.2 1097.2,686.3 1097.7,682.1 1098.1,678.5 1098.5,683 1098.9,680.5 1099.3,684.3 1099.8,681 1100.2,685.1 1100.6,681.6 1101,682.4 1101.4,682.4 1101.8,679.7 1102.3,680.5 1102.7,685 1103.1,681 1103.5,688 1103.9,680.7 1104.4,676 1104.8,682 1105.2,682 1105.6,683.2 1106,681.1 1106.4,684.6 1106.9,681.5 1107.3,684.1 1107.7,684.5 1108.1,683 1108.5,683.5 1108.9,688 1109.4,677.8 1109.8,682.9 1110.2,687.9 1110.6,680.4 1111,683.4 1111.5,682.8 1111.9,681.4 1112.3,685.7 1112.7,691.2 1113.1,683.6 1113.5,682.7 1114,680.6 1114.4,685.3 1114.8,684 1115.2,682.2 1115.6,684.2 1116.1,684 1116.5,682.6 1116.9,686 1117.3,679.1 1117.7,685.8 1118.1,683.2 1118.6,684.2 1119,685.2 1119.4,681.9 1119.8,680.6 1120.2,679.4 1120.7,681.8 1121.1,684.5 1121.5,681 1121.9,687.2 1122.3,683.2 1122.7,681.9 1123.2,681.8 1123.6,686.4 1124,687.3 1124.4,678.9 1124.8,684.7 1125.3,687.7 1125.7,686.7 1126.1,683.3 1126.5,680.2 1126.9,683.4 1127.3,680.2 1127.8,682.8 1128.2,682.1 1128.6,680.8 1129,684.4 1129.4,682.6 1129.9,684.4 1130.3,685.1 1130.7,681.7 1131.1,685.6 1131.5,683.2 1131.9,685.5 1132.4,683.7 1132.8,684.8 1133.2,680.6 1133.6,683.2 1134,683.3 1134.4,679.1 1134.9,691.1 1135.3,686.4 1135.7,690.7 1136.1,683.5 1136.5,682.4 1137,681.8 1137.4,682.8 1137.8,685.8 1138.2,678.9 1138.6,682.7 1139,684.2 1139.5,686.5 1139.9,682.5 1140.3,684.9 1140.7,684.7 1141.1,683 1141.6,683 1142,685.7 1142.4,680.3 1142.8,686.2 1143.2,686.5 1143.6,682.8 1144.1,683.3 1144.5,683.4 1144.9,684.7 1145.3,683.5 1145.7,685.1 1146.2,687.9 1146.6,681.7 1147,686.3 1147.4,684.2 1147.8,681.7 1148.2,683.6 1148.7,676.4 1149.1,687.3 1149.5,685.6 1149.9,683.4 1150.3,680.1 1150.8,684.3 1151.2,687.4 1151.6,680.7 1152,686 1152.4,684.2 1152.8,681.3 1153.3,685.4 1153.7,684.8 1154.1,682.4 1154.5,684.2 1154.9,682.9 1155.4,686.1 1155.8,684 1156.2,686.5 1156.6,687.7 1157,679.1 1157.4,682.5 1157.9,681.3 1158.3,686.2 1158.7,683.7 1159.1,684.2 1159.5,687.4 1159.9,682.3 1160.4,685.6 1160.8,684.2 1161.2,687.6 1161.6,681.1 1162,681.7 1162.5,682.7 1162.9,686 1163.3,685.1 1163.7,680.5 1164.1,684.4 1164.5,683 1165,683.3 1165.4,686.6 1165.8,679.7 1166.2,688.8 1166.6,683.1 1167.1,683.9 1167.5,687.9 1167.9,682.8 1168.3,682.3 1168.7,683.6 1169.1,685.8 1169.6,682.5 1170,680.8 1170.4,683.1 1170.8,679.2 1171.2,681.5 1171.7,681.7 1172.1,680.1 1172.5,685.4 1172.9,685 1173.3,682.4 1173.7,682.3 1174.2,679.8 1174.6,680.7 1175,683.2 1175.4,683.1 1175.8,684.4 1176.3,684.6 1176.7,684.8 1177.1,681.4 1177.5,684.9 1177.9,684.6 1178.3,683.3 1178.8,685 1179.2,684.3 1179.6,689.3 1180,682.7 1180.4,684.4 1180.9,683.2 1181.3,682.7 1181.7,688.4 1182.1,677.5 1182.5,683.2 1182.9,683.1 1183.4,688.1 1183.8,681.9 1184.2,682.5 1184.6,684.4 1185,682.8 1185.4,680.2 1185.9,684.3 1186.3,685.7 1186.7,680 1187.1,682.7 1187.5,683.8 1188,677.5 1188.4,682.9 1188.8,683.8 1189.2,682.7 1189.6,684.4 1190,682.8 1190.5,683 1190.9,685 1191.3,684 1191.7,682.6 1192.1,682.4 1192.6,681.9 1193,681.4 1193.4,682.7 1193.8,682.1 1194.2,684.3 1194.6,684 1195.1,680.7 1195.5,688.4 1195.9,682.5 1196.3,675.4 1196.7,688.1 1197.2,679.6 1197.6,687.9 1198,682.5 1198.4,679.4 1198.8,679.7 1199.2,685.8 1199.7,686.8 1200.1,687.2 1200.5,681.7 1200.9,684.5 1201.3,683.5 1201.8,682.9 1202.2,682.5 1202.6,682.2 1203,683.3 1203.4,687.7 1203.8,679.9 1204.3,690.5 1204.7,680.5 1205.1,685.1 1205.5,684.1 1205.9,684.9 1206.4,684.6 1206.8,683.7 1207.2,684.3 1207.6,686.4 1208,681.5 1208.4,685.1 1208.9,680.2 1209.3,684 1209.7,685.4 1210.1,682.5 1210.5,681.4 1210.9,686 1211.4,684.3 1211.8,680 1212.2,686.1 1212.6,685.8 1213,683.2 1213.5,686.7 1213.9,689.8 1214.3,687.8 1214.7,682.7 1215.1,682 1215.5,682.1 1216,682.7 1216.4,686.7 1216.8,681.9 1217.2,680.7 1217.6,685.4 1218.1,681.3 1218.5,684.6 1218.9,683.2 1219.3,682.7 1219.7,687.4 1220.1,680 1220.6,685.8 1221,683.9 1221.4,684.9 1221.8,682.5 1222.2,682.6 1222.7,683.6 1223.1,680.1 1223.5,682.9 1223.9,684.6 1224.3,690.8 1224.7,684.3 1225.2,684.4 1225.6,685.8 1226,685.8 1226.4,682.2 1226.8,681 1227.3,678.9 1227.7,680.8 1228.1,685.4 1228.5,683 1228.9,687 1229.3,681.8 1229.8,682.7 1230.2,685.2 1230.6,683.9 1231,684.3 1231.4,685.2 1231.9,680.3 1232.3,675.9 1232.7,681.6 1233.1,681 1233.5,683.2 1233.9,684.5 1234.4,678.2 1234.8,684.5 1235.2,682.6 1235.6,683.9 1236,682.2 1236.4,683.7 1236.9,682.2 1237.3,686.8 1237.7,683.9 1238.1,680.2 1238.5,686.2 1239,685.3 1239.4,680.2 1239.8,682.6 1240.2,681 1240.6,689.2 1241,683.3 1241.5,686.8 1241.9,687.1 1242.3,682.6 1242.7,680.7 1243.1,687.3 1243.6,686.4 1244,685.1 1244.4,683.9 1244.8,686.9 1245.2,678.1 1245.6,682.2 1246.1,684.5 1246.5,684.9 1246.9,677.9 1247.3,678.1 1247.7,684.8 1248.2,682.8 1248.6,680.5 1249,686.6 1249.4,685.1 1249.8,680.3 1250.2,685.4 1250.7,684.7 1251.1,687 1251.5,685.5 1251.9,682 1252.3,685.7 1252.8,686.9 1253.2,685.2 1253.6,679.3 1254,683.2 1254.4,685.1 1254.8,683.3 1255.3,682.6 1255.7,683.4 1256.1,688.1 1256.5,682.9 1256.9,684.2 1257.4,681.6 1257.8,687 1258.2,681.1 1258.6,684.9 1259,687.9 1259.4,680.4 1259.9,685 1260.3,682.8 1260.7,684.1 1261.1,681 1261.5,681 1262,681 1262.4,682 1262.8,687.7 1263.2,687.8 1263.6,683.2 1264,686.1 1264.5,682.6 1264.9,683.3 1265.3,687.2 1265.7,686.3 1266.1,686.5 1266.5,685.9 1267,684.2 1267.4,682 1267.8,680.4 1268.2,686.1 1268.6,685.1 1269.1,679.9 1269.5,681.5 1269.9,683.1 1270.3,689.5 1270.7,686.2 1271.1,683.3 1271.6,685.2 1272,678.8 1272.4,683.5 1272.8,683 1273.2,686.4 1273.7,686.3 1274.1,685.3 1274.5,685.2 1274.9,684.3 1275.3,682.8 1275.7,683.1 1276.2,681.3 1276.6,687 1277,683.2 1277.4,683.1 1277.8,679.8 1278.3,684.2 1278.7,682.9 1279.1,685.7 1279.5,682.7 1279.9,682.7 1280.3,685.2 1280.8,684.8 1281.2,683.8 1281.6,682.3 1282,686.5 1282.4,681.5 1282.9,684.5 1283.3,679.1 1283.7,680.1 1284.1,684.7 1284.5,685.2 1284.9,677.7 1285.4,682.1 1285.8,682.3 1286.2,684.7 1286.6,684 1287,681.7 1287.5,682.2 1287.9,685.7 1288.3,680.6 1288.7,682.9 1289.1,686 1289.5,681.2 1290,684.1 1290.4,681.8 1290.8,685 1291.2,682.8 1291.6,687.6 1292,682.7 1292.5,687.3 1292.9,683.2 1293.3,689.8 1293.7,683.8 1294.1,681.9 1294.6,682.5 1295,680.7 1295.4,686.2 1295.8,679.8 1296.2,679.7 1296.6,686.5 1297.1,685.5 1297.5,685 1297.9,683.7 1298.3,683.2 1298.7,689.6 1299.2,682.2 1299.6,684.2 1300,686.1 1300.4,681.3 1300.8,684.4 1301.2,680.9 1301.7,682.3 1302.1,684.4 1302.5,680.8 1302.9,681.7 1303.3,684.8 1303.8,687.5 1304.2,684.9 1304.6,682.1 1305,684.1 1305.4,679.3 1305.8,682.9 1306.3,683.1 1306.7,682.6 1307.1,685.7 1307.5,683.9 1307.9,685.1 1308.4,689.2 1308.8,687.8 1309.2,681.8 1309.6,684.6 1310,683.8 1310.4,687.1 1310.9,684.9 1311.3,681.7 1311.7,683.3 1312.1,684.8 1312.5,679.9 1313,683.7 1313.4,684.4 1313.8,680.8 1314.2,687.6 1314.6,682.2 1315,686.2 1315.5,685.4 1315.9,685.1 1316.3,683.2 1316.7,683.2 1317.1,682.8 1317.5,683 1318,680.2 1318.4,679.5 1318.8,681.8 1319.2,681.7 1319.6,684.4 1320.1,686.1 1320.5,682.1 1320.9,683.4 1321.3,681.4 1321.7,687.7 1322.1,677.1 1322.6,686.4 1323,683.3 1323.4,681.1 1323.8,686.7 1324.2,684.7 1324.7,688.2 1325.1,686.8 1325.5,687.9 1325.9,683.1 1326.3,682.7 1326.7,684.1 1327.2,680.4 1327.6,680.1 1328,683.4 1328.4,683.9 1328.8,684 1329.3,684.4 1329.7,680.3 1330.1,682.8 1330.5,684.1 1330.9,683.8 1331.3,682 1331.8,684.2 1332.2,682.6 1332.6,683.4 1333,680.1 1333.4,680.6 1333.9,686.6 1334.3,683.6 1334.7,681.6 1335.1,684.3 1335.5,681.4 1335.9,682.5 1336.4,681.8 1336.8,683.4 1337.2,682.5 1337.6,682 1338,686.6 1338.5,685.3 1338.9,685.5 1339.3,679.3 1339.7,682.5 1340.1,682.3 1340.5,682.7 1341,684.3 1341.4,684.9 1341.8,681.2 1342.2,684 1342.6,679.4 1343,682.6 1343.5,682.9 1343.9,683.6 1344.3,683.2 1344.7,683 1345.1,679.5 1345.6,677.6 1346,685.7 1346.4,682.4 1346.8,681.4 1347.2,685.1 1347.6,684.4 1348.1,684 1348.5,688.5 1348.9,681.4 1349.3,683 1349.7,683.1 1350.2,682.7 1350.6,682.3 1351,677.6 1351.4,682.5 1351.8,680.9 1352.2,684 1352.7,682 1353.1,683.5 1353.5,683.1 1353.9,684.9 1354.3,684.6 1354.8,681.7 1355.2,681 1355.6,681.7 1356,684.2 1356.4,682 1356.8,688.5 1357.3,680.5 1357.7,682.7 1358.1,682 1358.5,680 1358.9,683.6 1359.4,680.4 1359.8,683.6 1360.2,681.3 1360.6,683.5 1361,681.8 1361.4,679.2 1361.9,684 1362.3,683.8 1362.7,683.1 1363.1,681.6 1363.5,675.9 1364,683.3 1364.4,686.5 1364.8,683.1 1365.2,685 1365.6,682.4 1366,680.9 1366.5,682.9 1366.9,682 1367.3,684.5 1367.7,679.5 1368.1,681.4 1368.5,676.9 1369,676.8 1369.4,681.1 1369.8,679.7 1370.2,678.6 1370.6,676.8 1371.1,682.4 1371.5,678.6 1371.9,674 1372.3,678.6 1372.7,677.9 1373.1,678.4 1373.6,681.3 1374,676.4 1374.4,678.1 1374.8,678.5 1375.2,677.4 1375.7,677.4 1376.1,683.8 1376.5,678.5 1376.9,681.1 1377.3,679.6 1377.7,681.8 1378.2,682.3 1378.6,678.4 1379,680.7 1379.4,681.5 1379.8,681.6 1380.3,680.9 1380.7,681.2 1381.1,686.5 1381.5,683.2 1381.9,681.7 1382.3,679.5 1382.8,678.1 1383.2,683.2 1383.6,676.7 1384,680.8 1384.4,679.8 1384.9,682.1 1385.3,682.2 1385.7,677.6 1386.1,681.3 1386.5,681 1386.9,678.1 1387.4,676.8 1387.8,684 1388.2,681 1388.6,680.5 1389,676.4 1389.5,674.8 1389.9,680.4 1390.3,679.4 1390.7,678.3 1391.1,677.6 1391.5,680.8 1392,678.1 1392.4,681.6 1392.8,686 1393.2,683 1393.6,679.3 1394,678 1394.5,684.8 1394.9,683.7 1395.3,679.6 1395.7,687.1 1396.1,678.2 1396.6,677 1397,686 1397.4,677.5 1397.8,679.6 1398.2,675.9 1398.6,678.4 1399.1,679.5 1399.5,678.6 1399.9,676.6 1400.3,678.3 1400.7,678.5 1401.2,681.8 1401.6,677.3 1402,678.3 1402.4,674.1 1402.8,678.2 1403.2,678.3 1403.7,679.4 1404.1,676.3 1404.5,678.3 1404.9,679.3 1405.3,674 1405.8,673.5 1406.2,678.4 1406.6,679.6 1407,674.6 1407.4,679 1407.8,670.6 1408.3,677.2 1408.7,674.6 1409.1,679.6 1409.5,676.6 1409.9,673.9 1410.4,675.3 1410.8,677.4 1411.2,670.4 1411.6,674.2 1412,676.3 1412.4,677 1412.9,676.1 1413.3,672.2 1413.7,677 1414.1,675 1414.5,676.8 1415,671.9 1415.4,675 1415.8,672.4 1416.2,673 1416.6,675.5 1417,672.3 1417.5,671.6 1417.9,676.3 1418.3,671.8 1418.7,664.9 1419.1,673.7 1419.5,671.4 1420,675.8 1420.4,671.4 1420.8,673.6 1421.2,670.2 1421.6,671.9 1422.1,674.4 1422.5,668.8 1422.9,671.7 1423.3,673.3 1423.7,670.5 1424.1,672.7 1424.6,669.2 1425,670.1 1425.4,670.6 1425.8,667.8 1426.2,672.2 1426.7,666.5 1427.1,673.4 1427.5,664.4 1427.9,667.5 1428.3,668.3 1428.7,669.2 1429.2,665.7 1429.6,667.1 1430,666.8 1430.4,663.5 1430.8,666.8 1431.3,665.9 1431.7,663.9 1432.1,661.9 1432.5,664.6 1432.9,663.4 1433.3,663.3 1433.8,661.1 1434.2,658.8 1434.6,664.5 1435,662 1435.4,661.4 1435.9,659.3 1436.3,656.5 1436.7,659.9 1437.1,658.8 1437.5,655.9 1437.9,661.6 1438.4,659.8 1438.8,658.4 1439.2,656.7 1439.6,655.5 1440,656.9 1440.5,650.2 1440.9,656.2 1441.3,654.2 1441.7,650.1 1442.1,650.3 1442.5,651.8 1443,650 1443.4,648 1443.8,649.6 1444.2,647 1444.6,650.7 1445,647.1 1445.5,651.2 1445.9,648.2 1446.3,648.1 1446.7,640.4 1447.1,644.5 1447.6,641.3 1448,644 1448.4,640.9 1448.8,640.2 1449.2,640.9 1449.6,634.7 1450.1,641.4 1450.5,633.3 1450.9,625.9 1451.3,635.6 1451.7,631.7 1452.2,635.6 1452.6,629.5 1453,633.8 1453.4,624.9 1453.8,627.2 1454.2,630.4 1454.7,627.2 1455.1,626.8 1455.5,621 1455.9,615.7 1456.3,618.4 1456.8,619.6 1457.2,616.9 1457.6,611.9 1458,619.5 1458.4,608.8 1458.8,609.4 1459.3,619.7 1459.7,606.7 1460.1,616.8 1460.5,611.7 1460.9,606.8 1461.4,616.8 1461.8,617.5 1462.2,615 1462.6,615.3 1463,612.8 1463.4,615.4 1463.9,616.9 1464.3,618.9 1464.7,620.2 1465.1,625.1 1465.5,624.2 1466,628.4 1466.4,634.8 1466.8,629.5 1467.2,642.3 1467.6,639.8 1468,647.5 1468.5,647.8 1468.9,650.6 1469.3,652.9 1469.7,654.6 1470.1,663.1 1470.6,656.7 1471,665.2 1471.4,670.3 1471.8,673.5 1472.2,667 1472.6,670.3 1473.1,675.5 1473.5,675.1 1473.9,675.1 1474.3,678.7 1474.7,680.6 1475.1,680.5 1475.6,679.4 1476,681.6 1476.4,684.6 1476.8,680.9 1477.2,686.3 1477.7,684.5 1478.1,680.7 1478.5,682.9 1478.9,683.1 1479.3,683.4 1479.7,681.7 1480.2,683.9 1480.6,687.8 1481,683.4 1481.4,690.1 1481.8,688.1 1482.3,680.8 1482.7,681.9 1483.1,684.9 1483.5,684.2 1483.9,683.9 1484.3,682 1484.8,685.6 1485.2,685.8 1485.6,685.3 1486,683.8 1486.4,683.5 1486.9,684.8 1487.3,682.5 1487.7,686.1 1488.1,684.2 1488.5,685.4 1488.9,686.1 1489.4,681.6 1489.8,684.7 1490.2,686.1 1490.6,684 1491,686 1491.5,682.9 1491.9,682.4 1492.3,682 1492.7,686.2 1493.1,684.4 1493.5,680.4 1494,684.5 1494.4,681.6 1494.8,681.1 1495.2,686.8 1495.6,681.7 1496.1,682.6 1496.5,682.3 1496.9,680.7 1497.3,683.2 1497.7,683.9 1498.1,682.9 1498.6,684.7 1499,683.1 1499.4,688 1499.8,680.7 1500.2,685.1 1500.6,683 1501.1,683.5 1501.5,683.9 1501.9,683.9 1502.3,684 1502.7,687.3 1503.2,685.1 1503.6,681.7 1504,686.1 1504.4,686.1 1504.8,680 1505.2,681.7 1505.7,681 1506.1,684.1 1506.5,683.6 1506.9,682.6 1507.3,683 1507.8,684.3 1508.2,686.9 1508.6,685.5 1509,687 1509.4,681.1 1509.8,684.9 1510.3,684.5 1510.7,683.6 1511.1,684.1 1511.5,683.1 1511.9,685.3 1512.4,687.1 1512.8,680.8 1513.2,685.5 1513.6,685.1 1514,685.7 1514.4,685.2 1514.9,684.1 1515.3,682.7 1515.7,686.2 1516.1,683.6 1516.5,685.5 1517,681.9 1517.4,686.5 1517.8,684 1518.2,682.8 1518.6,686.8 1519,684 1519.5,683.9 1519.9,685.7 1520.3,684.6 1520.7,682.3 1521.1,683.7 1521.6,685 1522,684.6 1522.4,683.4 1522.8,681.8 1523.2,682.7 1523.6,682.8 1524.1,681.3 1524.5,687.1 1524.9,686.9 1525.3,688.5 1525.7,682.7 1526.1,688.5 1526.6,684.3 1527,682.8 1527.4,686.9 1527.8,685.5 1528.2,684.7 1528.7,682.9 1529.1,687.1 1529.5,683.7 1529.9,682.9 1530.3,684 1530.7,684 1531.2,681.9 1531.6,683.8 1532,684.3 1532.4,684.9 1532.8,683.1 1533.3,684.8 1533.7,683.1 1534.1,684.1 1534.5,682.2 1534.9,685.7 1535.3,684.1 1535.8,683.6 1536.2,683.5 1536.6,682.2 1537,683.5 1537.4,682.6 1537.9,680.7 1538.3,682.7 1538.7,686.2 1539.1,686.9 1539.5,683.1 1539.9,685 1540.4,683.8 1540.8,684.6 1541.2,681.9 1541.6,682.1 1542,686.3 1542.5,683.8 1542.9,684.8 1543.3,686.7 1543.7,683.1 1544.1,684.6 1544.5,683.5 1545,679.8 1545.4,681.9 1545.8,682.3 1546.2,685 1546.6,686.4 1547.1,682 1547.5,684.8 1547.9,684.2 1548.3,685 1548.7,684.1 1549.1,680 1549.6,684.9 1550,684.8 1550.4,683.9 1550.8,683.8 1551.2,686.5 1551.6,687.5 1552.1,685.4 1552.5,684.7 1552.9,685.7 1553.3,686.1 1553.7,686 1554.2,685 1554.6,684.6 1555,687.3 1555.4,685.3 1555.8,683.7 1556.2,684.6 1556.7,686.8 1557.1,685 1557.5,684.4 1557.9,683 1558.3,687.3 1558.8,683.2 1559.2,685.2 1559.6,684 1560,683.2 1560.4,685.9 1560.8,685.8 1561.3,684.6 1561.7,683.1 1562.1,685.4 1562.5,686.9 1562.9,685.6 1563.4,683.7 1563.8,682.3 1564.2,685.3 1564.6,685 1565,684.7 1565.4,684.6 1565.9,686.1 1566.3,685.2 1566.7,684 1567.1,684.2 1567.5,684.4 1568,686.2 1568.4,685.4 1568.8,685.7 1569.2,682.6 1569.6,681.9 1570,683.8 1570.5,681.6 1570.9,684.9 1571.3,684.9 1571.7,686.7 1572.1,684 1572.6,685.2 1573,684.3 1573.4,683.6 1573.8,684.8 1574.2,686.4 1574.6,684.5 1575.1,684.5 1575.5,684.4 1575.9,683.3 1576.3,684.8 1576.7,684.9 1577.1,681.4 1577.6,682.6 1578,684.6 1578.4,686 1578.8,685.2 1579.2,683.8 1579.7,683 1580.1,680.3 1580.5,684.8 1580.9,684.1 1581.3,685 1581.7,684.3 1582.2,685.1 1582.6,686.2 1583,682.6 1583.4,684.2 1583.8,682.2 1584.3,685.2 1584.7,683.9 1585.1,683.3 1585.5,687.6 1585.9,686.6 1586.3,683.1 1586.8,684.2 1587.2,687.5 1587.6,685.6 1588,686.2 1588.4,685.2 1588.9,681.8 1589.3,685.3 1589.7,680.9 1590.1,684.8 1590.5,685.6 1590.9,681.7 1591.4,682.8 1591.8,682 1592.2,681.1 1592.6,682.6 1593,682.3 1593.5,687.2 1593.9,685.7 1594.3,683.6 1594.7,684 1595.1,683.1 1595.5,685.1 1596,682.5 1596.4,681 1596.8,683.4 1597.2,682.9 1597.6,683.5 1598.1,682.8 1598.5,684 1598.9,685.2 1599.3,684 1599.7,684.1 1600.1,686.9 1600.6,683.9 1601,684.3 1601.4,684 1601.8,685.2 1602.2,683.5 1602.6,683.3 1603.1,685.5 1603.5,683.8 1603.9,683 1604.3,683.1 1604.7,685.9 1605.2,686 1605.6,684.3 1606,686.1 1606.4,680.2 1606.8,685.7 1607.2,685.7 1607.7,683.3 1608.1,685.2 1608.5,688.3 1608.9,684.6 1609.3,686 1609.8,685.3 1610.2,687.1 1610.6,685.9 1611,684.7 1611.4,684.6 1611.8,686.3 1612.3,685.6 1612.7,685.9 1613.1,684.3 1613.5,684.7 1613.9,686.5 1614.4,683.4 1614.8,685.6 1615.2,683.9 1615.6,686 1616,684 1616.4,684.7 1616.9,684.4 1617.3,683.7 1617.7,683.8 1618.1,684.3 1618.5,684.3 1619,686.6 1619.4,684.6 1619.8,688.1 1620.2,688.2 1620.6,685 1621,684.9 1621.5,682.1 1621.9,683.5 1622.3,682.7 1622.7,685 1623.1,683.8 1623.6,682.6 1624,683.7 1624.4,684 1624.8,684.4 1625.2,686 1625.6,686 1626.1,686.8 1626.5,683.9 1626.9,684.9 1627.3,685.6 1627.7,683.9 1628.1,685.4 1628.6,682.8 1629,681.4 1629.4,683.8 1629.8,685.6 1630.2,686.9 1630.7,681.3 1631.1,683.8 1631.5,686.4 1631.9,682.8 1632.3,687.2 1632.7,685.2 1633.2,684.9 1633.6,685.1 1634,686.3 1634.4,680.7 1634.8,685.1 1635.3,683.9 1635.7,684.4 1636.1,687.1 1636.5,685.4 1636.9,684.2 1637.3,683 1637.8,685.1 1638.2,683.9 1638.6,685 1639,683.6 1639.4,688.5 1639.9,683.5 1640.3,685.5 1640.7,685.4 1641.1,689 1641.5,686.2 1641.9,683.5 1642.4,680.8 1642.8,685.6 1643.2,685.6 1643.6,683.7 1644,684 1644.5,685.4 1644.9,684.8 1645.3,685.1 1645.7,683.5 1646.1,683.2 1646.5,681.7 1647,683 1647.4,683.4 1647.8,684.3 1648.2,683 1648.6,686.1 1649.1,681.1 1649.5,684.1 1649.9,682.3 1650.3,685.8 1650.7,682.9 1651.1,683.9 1651.6,684.8 1652,685.6 1652.4,685.9 1652.8,681.6 1653.2,682.6 1653.6,684.3 1654.1,684.2 1654.5,685.7 1654.9,687.4 1655.3,687.3 1655.7,685.5 1656.2,684.7 1656.6,686.4 1657,683.2 1657.4,683.7 1657.8,684.3 1658.2,687.3 1658.7,684.8 1659.1,684.6 1659.5,686.5 1659.9,688 1660.3,681.5 1660.8,683.5 1661.2,685.1 1661.6,682 1662,682.8 1662.4,683.8 1662.8,684.2 1663.3,683.3 1663.7,682.2 1664.1,684.4 1664.5,684.9 1664.9,683.6 1665.4,689 1665.8,684.4 1666.2,685.2 1666.6,684.6 1667,684.8 1667.4,684 1667.9,684.4 1668.3,684.4 1668.7,684.7 1669.1,683.8 1669.5,685.3 1670,683 1670.4,687.2 1670.8,684.2 1671.2,683.8 1671.6,686.5 1672,685.2 1672.5,682.5 1672.9,684.7 1673.3,685.9 1673.7,689.2 1674.1,684 1674.6,684.4 1675,683.6 1675.4,681.3 1675.8,684.5 1676.2,684.3 1676.6,685.6 1677.1,684.6 1677.5,684.6 1677.9,683.4 1678.3,683.7 1678.7,685.7 1679.2,685.3 1679.6,682.4 1680,686 1680.4,683.4 1680.8,682 1681.2,683.5 1681.7,684.2 1682.1,682.4 1682.5,684 1682.9,684.6 1683.3,684.9 1683.7,682.8 1684.2,683.5 1684.6,682.2 1685,685.1 1685.4,685 1685.8,685.2 1686.3,684.1 1686.7,685.6 1687.1,683.1 1687.5,684 1687.9,686.1 1688.3,689.1 1688.8,687.4 1689.2,682.4 1689.6,684.7 1690,684.3 1690.4,685.2 1690.9,684 1691.3,687.5 1691.7,687.6 1692.1,687.1 1692.5,684.5 1692.9,683.5 1693.4,683.8 1693.8,684.8 1694.2,686.5 1694.6,683.4 1695,685 1695.5,684.6 1695.9,684.7 1696.3,685.3 1696.7,685.7 1697.1,685.5 1697.5,686.5 1698,684.2 1698.4,684.8 1698.8,683 1699.2,687.3 1699.6,682.8 1700.1,684.7 1700.5,684.8 1700.9,685.8 1701.3,685.8 1701.7,686.9 1702.1,683.2 1702.6,684.9 1703,683.5 1703.4,683.3 1703.8,685.3 1704.2,685 1704.7,685.1 1705.1,683 1705.5,684.4 1705.9,684.3 1706.3,683.5 1706.7,684.7 1707.2,681.5 1707.6,686 1708,682.7 1708.4,682.5 1708.8,686.3 1709.2,683.3 1709.7,684.2 1710.1,683.3 1710.5,686.4 1710.9,684.2 1711.3,686.1 1711.8,685.1 1712.2,682.5 1712.6,684.8 1713,688 1713.4,686.7 1713.8,686.3 1714.3,683 1714.7,685.6 1715.1,686.8 1715.5,682.8 1715.9,684.1 1716.4,683.9 1716.8,685.5 1717.2,682.2 1717.6,684.4 1718,687.1 1718.4,685.8 1718.9,685.3 1719.3,684.2 1719.7,682.8 1720.1,685 1720.5,684.7 1721,680.5 1721.4,683.5 1721.8,684.4 1722.2,683.5 1722.6,685.3 1723,682.6 1723.5,681.8 1723.9,684.1 1724.3,681.6 1724.7,683.5 1725.1,682.6 1725.6,684 1726,684 1726.4,685 1726.8,682.4 1727.2,683.1 1727.6,683 1728.1,684.2 1728.5,684.2 1728.9,683.4 1729.3,681.7 1729.7,681.9 1730.2,683.4 1730.6,681.9 1731,679.7 1731.4,682.1 1731.8,679.2 1732.2,681.6 1732.7,680.3 1733.1,683 1733.5,680.5 1733.9,684 1734.3,681.9 1734.7,682.8 1735.2,685.3 1735.6,684.4 1736,680.7 1736.4,681.7 1736.8,680.6 1737.3,682.2 1737.7,686.9 1738.1,682.3 1738.5,683.5 1738.9,683.5 1739.3,683.5 1739.8,684 1740.2,684.4 1740.6,681.2 1741,682.4 1741.4,684.1 1741.9,683.9 1742.3,681.9 1742.7,682.8 1743.1,683.2 1743.5,685.3 1743.9,684.3 1744.4,685.3 1744.8,686.5 1745.2,682.6 1745.6,684.4 1746,684.6 1746.5,685.4 1746.9,683 1747.3,681.2 1747.7,683.4 1748.1,683 1748.5,686.2 1749,684.2 1749.4,684.1 1749.8,682.3 1750.2,684.5 1750.6,685.9 1751.1,684.7 1751.5,685.2 1751.9,682.6 1752.3,683.7 1752.7,684.2 1753.1,684.4 1753.6,683.4 1754,685.4 1754.4,686 1754.8,687.4 1755.2,683 1755.7,683.9 1756.1,683.7 1756.5,684.6 1756.9,682.3 1757.3,686.1 1757.7,682.9 1758.2,685.9 1758.6,685.3 1759,686.4 1759.4,684.5 1759.8,685.1 1760.2,684.1 1760.7,685.5 1761.1,686.7 1761.5,683.9 1761.9,682.8 1762.3,683.6 1762.8,684.8 1763.2,684.1 1763.6,687.1 1764,685.2 1764.4,683 1764.8,684 1765.3,685.9 1765.7,683.5 1766.1,684.9 1766.5,683.6 1766.9,686.7 1767.4,685.4 1767.8,684.2 1768.2,684.3 1768.6,683.9 1769,684.7 1769.4,685 1769.9,684 1770.3,683.5 1770.7,686.8 1771.1,685.1 1771.5,685 1772,684.5 1772.4,683.3 1772.8,686.5 1773.2,683.9 1773.6,687.1 1774,685.7 1774.5,685.4 1774.9,685.1 1775.3,685.5 1775.7,685.4 1776.1,685.2 1776.6,685.1 1777,687.2 1777.4,686.6 1777.8,685.3 1778.2,683.9 1778.6,683.3 1779.1,680.7 1779.5,684.5 1779.9,685.8 1780.3,684.4 1780.7,683.7 1781.2,684.5 1781.6,686.1 1782,684.8 1782.4,684.7 1782.8,686.6 1783.2,686.3 1783.7,683 1784.1,687.7 1784.5,684.4 1784.9,685 1785.3,682.8 1785.7,683.8 1786.2,685.9 1786.6,682.9 1787,685.4 1787.4,681.9 1787.8,682.4 1788.3,684.8 1788.7,683.6 1789.1,684.4 1789.5,685.9 1789.9,683.2 1790.3,684.1 1790.8,683.5 1791.2,683.2 1791.6,682.7 1792,683.2 1792.4,684.8 1792.9,684.5 1793.3,684.1 1793.7,684.8 1794.1,685 1794.5,682.1 1794.9,684 1795.4,682.1 1795.8,685.7 1796.2,684.7 1796.6,685.2 1797,685.2 1797.5,685 1797.9,684.8 1798.3,685.2 1798.7,682.2 1799.1,683.7 1799.5,685.6 1800,685.4 1800.4,683.6 1800.8,683.9 1801.2,685.4 1801.6,683.4 1802.1,686.5 1802.5,685.2 1802.9,682.3 1803.3,688.1 1803.7,684.9 1804.1,683.3 1804.6,684.8 1805,685.6 1805.4,685.8 1805.8,687.4 1806.2,686.4 1806.7,684.5 1807.1,685.4 1807.5,684.6 1807.9,684.8 1808.3,684.2 1808.7,686.8 1809.2,685 1809.6,685 1810,685 1810.4,685.8 1810.8,687.5 1811.2,683.7 1811.7,683.5 1812.1,681.4 1812.5,683.6 1812.9,682.4 1813.3,683.8 1813.8,685.1 1814.2,683.9 1814.6,686.1 1815,684.2 1815.4,684.6 1815.8,685.8 1816.3,682.8 1816.7,682.8 1817.1,683.6 1817.5,683 1817.9,681.8 1818.4,684 1818.8,685.5 1819.2,684.8 1819.6,682.5 1820,682.9 1820.4,685 1820.9,681.1 1821.3,682.5 1821.7,680.4 1822.1,680.9 1822.5,682.9 1823,682 1823.4,683 1823.8,683 1824.2,682.2 1824.6,681 1825,679.8 1825.5,682.8 1825.9,680.6 1826.3,681.4 1826.7,681.8 1827.1,680 1827.6,682 1828,679.7 1828.4,682.1 1828.8,682.9 1829.2,680.7 1829.6,683.8 1830.1,683.5 1830.5,682.3 1830.9,682.2 1831.3,682.7 1831.7,685.1 1832.2,684.4 1832.6,682.1 1833,682.3 1833.4,684.4 1833.8,682.9 1834.2,683.1 1834.7,682.2 1835.1,684.6 1835.5,681.9 1835.9,684.3 1836.3,682.1 1836.7,682.9 1837.2,685.5 1837.6,684.6 1838,683.9 1838.4,683 1838.8,686.1 1839.3,684.9 1839.7,683.5 1840.1,683.6 1840.5,685.6 1840.9,685.4 1841.3,683.7 1841.8,685.6 1842.2,683.9 1842.6,683 1843,684.2 1843.4,687.6 1843.9,682.7 1844.3,682.7 1844.7,682.4 1845.1,683.1 1845.5,686.3 1845.9,682.4 1846.4,683.7 1846.8,682.9 1847.2,684.3 1847.6,684.4 1848,684.4 1848.5,682.1 1848.9,683.8 1849.3,684.4 1849.7,685.7 1850.1,683.5 1850.5,684.1 1851,683.9 1851.4,682.8 1851.8,683.1 1852.2,684 1852.6,683.7 1853.1,683.9 1853.5,683.1 1853.9,683.1 1854.3,683.8 1854.7,685 1855.1,682.9 1855.6,682.8 1856,685.3 1856.4,683.4 1856.8,684.4 1857.2,686.7 1857.7,683.9 1858.1,682.7 1858.5,684.8 1858.9,684.7 1859.3,682.6 1859.7,685.2 1860.2,685 1860.6,684.2 1861,683 1861.4,683 1861.8,684.4 1862.2,684.1 1862.7,683.6 1863.1,684.2 1863.5,684.8 1863.9,685 1864.3,682.8 1864.8,683.9 1865.2,680 1865.6,682.8 1866,684.5 1866.4,683.6 1866.8,683.1 1867.3,683 1867.7,683 1868.1,682.9 1868.5,683.7 1868.9,682.6 1869.4,680.7 1869.8,684 1870.2,683.9 1870.6,682.5 1871,681.8 1871.4,682.3 1871.9,681.8 1872.3,683.3 1872.7,683.5 1873.1,682.4 1873.5,682.4 1874,681.1 1874.4,681.2 1874.8,685.4 1875.2,682.1 1875.6,683.9 1876,685.7 1876.5,682.5 1876.9,683.2 1877.3,683.4 1877.7,684.5 1878.1,684.2 1878.6,683.1 1879,684.7 1879.4,682.9 1879.8,682.6 1880.2,682.9 1880.6,682.3 1881.1,682.8 1881.5,684.1 1881.9,683.9 1882.3,682.4 1882.7,681.3 1883.2,682.3 1883.6,683.1 1884,682.2 1884.4,684.6 1884.8,683.6 1885.2,682.7 1885.7,682.3 1886.1,682.6 1886.5,682.5 1886.9,683.6 1887.3,682.8 1887.8,681.7 1888.2,684.2 1888.6,683.4 1889,682.3 1889.4,679.9 1889.8,680.9 1890.3,679.7 1890.7,679.9 1891.1,682.1 1891.5,681.6 1891.9,682.9 1892.3,679.9 1892.8,680.4 1893.2,680.5 1893.6,680.3 1894,680.5 1894.4,680.8 1894.9,680.6 1895.3,679.4 1895.7,681.8 1896.1,682 1896.5,680.6 1896.9,679.1 1897.4,680.2 1897.8,680.7 1898.2,679.3 1898.6,680.1 1899,682.5 1899.5,681.3 1899.9,682.6 1900.3,680.1 1900.7,680.3 1901.1,679.1 1901.5,676.9 1902,680.2 1902.4,679.3 1902.8,679.7 1903.2,682.6 1903.6,679.9 1904.1,679.8 1904.5,678.4 1904.9,679.7 1905.3,680.1 1905.7,677.6 1906.1,678.3 1906.6,679.2 1907,678.9 1907.4,678.2 1907.8,676.6 1908.2,675.6 1908.7,679 1909.1,675.7 1909.5,676.9 1909.9,676.4 1910.3,675.4 1910.7,677.7 1911.2,675.2 1911.6,677.8 1912,676.5 1912.4,676.8 1912.8,673.3 1913.3,673.2 1913.7,674.1 1914.1,674.2 1914.5,675.4 1914.9,672.1 1915.3,672.4 1915.8,672.8 1916.2,673.9 1916.6,673.9 1917,673.3 1917.4,671.2 1917.8,674 1918.3,672.3 1918.7,669.9 1919.1,670.6 1919.5,669.2 1919.9,670.7 1920.4,670.3 1920.8,668.7 1921.2,669.4 1921.6,669.5 1922,670.3 1922.4,671.3 1922.9,666.8 1923.3,669.1 1923.7,669.2 1924.1,666.5 1924.5,668.6 1925,668.8 1925.4,667.3 1925.8,666.2 1926.2,665.2 1926.6,664.5 1927,663.9 1927.5,665.4 1927.9,664.7 1928.3,665.4 1928.7,666.2 1929.1,664.7 1929.6,664.7 1930,662.6 1930.4,664.4 1930.8,666.2 1931.2,664.5 1931.6,665.9 1932.1,663.7 1932.5,668.8 1932.9,667.9 1933.3,668.5 1933.7,668.1 1934.2,669.2 1934.6,672.1 1935,673.3 1935.4,671.5 1935.8,670.7 1936.2,671.7 1936.7,675 1937.1,674.8 1937.5,677.3 1937.9,678.9 1938.3,676.4 1938.8,677.9 1939.2,679.8 1939.6,680.5 1940,679.6 1940.4,680.8 1940.8,682.1 1941.3,681.8 1941.7,682.6 1942.1,683.4 1942.5,684 1942.9,682.4 1943.3,684.2 1943.8,685.2 1944.2,682.1 1944.6,682.8 1945,683.7 1945.4,684.5 1945.9,684.3 1946.3,686.2 1946.7,684.7 1947.1,684.4 1947.5,684.9 1947.9,684.3 1948.4,685.6 1948.8,684.6 1949.2,686.5 1949.6,684.9 1950,685.5 1950.5,686.3 1950.9,685.3 1951.3,684.8 1951.7,685.5 1952.1,683.8 1952.5,685.6 1953,683.8 1953.4,684.1 1953.8,685.5 1954.2,683.3 1954.6,686.4 1955.1,684.3 1955.5,684.8 1955.9,684 1956.3,686.6 1956.7,686.2 1957.1,685.8 1957.6,684.9 1958,684.8 1958.4,684.9 1958.8,685.2 1959.2,685.7 1959.7,686.4 1960.1,685.4 1960.5,684.3 1960.9,683.8 1961.3,685.4 1961.7,683.7 1962.2,686.4 1962.6,684.1 1963,686.1 1963.4,684.6 1963.8,685.9 1964.3,686 1964.7,685.5 1965.1,683.4 1965.5,685.6 1965.9,684.2 1966.3,684.7 1966.8,684.6 1967.2,684.6 1967.6,684.2 1968,686.2 1968.4,684.9 1968.8,684.5 1969.3,685.5 1969.7,684.5 1970.1,686 1970.5,684.1 1970.9,685.7 1971.4,685.2 1971.8,684.1 1972.2,683.8 1972.6,685.5 1973,685.6 1973.4,683.9 1973.9,688 1974.3,683.5 1974.7,683.6 1975.1,686 1975.5,683.7 1976,684.5 1976.4,684.4 1976.8,687.4 1977.2,685.4 1977.6,685.1 1978,685.4 1978.5,685.3 1978.9,685.2 1979.3,687.9 1979.7,685.1 1980.1,685.7 1980.6,685 1981,685.4 1981.4,684.9 1981.8,684.6 1982.2,683.1 1982.6,685.8 1983.1,683.2 1983.5,685.2 1983.9,685.9 1984.3,686.4 1984.7,684 1985.2,686.5 1985.6,684 1986,684.6 1986.4,685.5 1986.8,685.6 1987.2,684.4 1987.7,684.8 1988.1,684.2 1988.5,684.9 1988.9,685.5 1989.3,684.4 1989.8,686.2 1990.2,684.1 1990.6,684.9 1991,686.1 1991.4,686 1991.8,685.3 1992.3,686.8 1992.7,683.5 1993.1,684 1993.5,686.1 1993.9,685.1 1994.3,683.2 1994.8,684.5 1995.2,686 1995.6,687.2 1996,686.6 1996.4,683.7 1996.9,684.6 1997.3,686.3 1997.7,684.2 1998.1,685.3 1998.5,685.6 1998.9,685.5 1999.4,685.4 1999.8,683.2 2000.2,685.9 2000.6,685.4 2001,683.6 2001.5,683.4 2001.9,686 2002.3,682.8 2002.7,683.8 2003.1,686.5 2003.5,683.1 2004,686.5 2004.4,684.3 2004.8,686.1 2005.2,686.8 2005.6,684.1 2006.1,684.5 2006.5,685 2006.9,684.8 2007.3,685.1 2007.7,685.2 2008.1,686 2008.6,684.4 2009,684.9 2009.4,685.2 2009.8,685.5 2010.2,685.2 2010.7,686.5 2011.1,685.3 2011.5,686 2011.9,683.7 2012.3,685.9 2012.7,685.4 2013.2,684.9 2013.6,684.2 2014,684.5 2014.4,684.9 2014.8,682.8 2015.3,685 2015.7,684.6 2016.1,682.2 2016.5,685.9 2016.9,684 2017.3,684.5 2017.8,686.3 2018.2,685.6 2018.6,684.1 2019,686.4 2019.4,685.2 2019.8,684 2020.3,685.2 2020.7,684.7 2021.1,685.6 2021.5,685.6 2021.9,685.6 2022.4,685.3 2022.8,684.3 2023.2,684.9 2023.6,683 2024,684.4 2024.4,684.7 2024.9,682.7 2025.3,685.1 2025.7,685.8 2026.1,684.8 2026.5,686.1 2027,684.5 2027.4,683.6 2027.8,684.3 2028.2,685.4 2028.6,685.1 2029,684.5 2029.5,683.8 2029.9,685.4 2030.3,685.4 2030.7,683.9 2031.1,684.8 2031.6,684.6 2032,684.5 2032.4,685.7 2032.8,685.1 2033.2,683.9 2033.6,685.1 2034.1,685.2 2034.5,684.7 2034.9,684.6 2035.3,682.4 2035.7,685.8 2036.2,684.8 2036.6,683 2037,684.9 2037.4,684.6 2037.8,686.4 2038.2,684 2038.7,684.1 2039.1,684.2 2039.5,685.2 2039.9,684.6 2040.3,685 2040.8,684.1 2041.2,685 2041.6,684.2 2042,686.3 2042.4,685.3 2042.8,687.8 2043.3,685.1 2043.7,684.2 2044.1,685.2 2044.5,682.7 2044.9,686 2045.3,685.3 2045.8,685.9 2046.2,685.5 2046.6,685.4 2047,686.4 2047.4,686 2047.9,683 2048.3,685.2 2048.7,684.1 2049.1,686.2 2049.5,685.1 2049.9,684.5 2050.4,685.2 2050.8,685.5 2051.2,685.2 2051.6,685 2052,684.2 2052.5,683.8 2052.9,686.3 2053.3,687 2053.7,685.2 2054.1,685 2054.5,684.3 2055,683.9 2055.4,685.7 2055.8,683 2056.2,684.7 2056.6,686.7 2057.1,684 2057.5,684.7 2057.9,684.7 2058.3,686.6 2058.7,685.3 2059.1,684.8 2059.6,685.1 2060,684.3 2060.4,683.8 2060.8,683.5 2061.2,683.8 2061.7,685.1 2062.1,683.3 2062.5,684.7 2062.9,684.2 2063.3,685.2 2063.7,686.4 2064.2,687.2 2064.6,684.8 2065,685.7 2065.4,685 2065.8,684.1 2066.3,686.5 2066.7,686.7 2067.1,684.7 2067.5,684.6 2067.9,685.3 2068.3,685.5 2068.8,686.6 2069.2,685.1 2069.6,685.7 2070,684.6 2070.4,684.1 2070.8,685.6 2071.3,684.6 2071.7,684.8 2072.1,684.3 2072.5,683.5 2072.9,684.4 2073.4,684.3 2073.8,684.2 2074.2,685.4 2074.6,685 2075,684.7 2075.4,683.8 2075.9,683.7 2076.3,682.8 2076.7,686.1 2077.1,685.1 2077.5,686.7 2078,685.5 2078.4,686.6 2078.8,683.9 2079.2,684.3 2079.6,686.1 2080,684.7 2080.5,684.3 2080.9,683.3 2081.3,684.2 2081.7,684.9 2082.1,685.1 2082.6,684.4 2083,684.7 2083.4,685.5 2083.8,686.2 2084.2,684 2084.6,685.7 2085.1,685.3 2085.5,684.2 2085.9,685.1 2086.3,683.9 2086.7,686.1 2087.2,684.3 2087.6,686.3 2088,686.5 2088.4,686 2088.8,684.9 2089.2,685.7 2089.7,686.4 2090.1,683.9 2090.5,686 2090.9,685.1 2091.3,684.8 2091.8,685.5 2092.2,684.7 2092.6,684.4 2093,685.1 2093.4,684 2093.8,685.6 2094.3,686.1 2094.7,684.8 2095.1,686 2095.5,684.7 2095.9,685.1 2096.3,685.5 2096.8,684.5 2097.2,684.5 2097.6,687.9 2098,685.3 2098.4,684.9 2098.9,684.6 2099.3,685.6 2099.7,686.1 2100.1,684.9 2100.5,684.4 2100.9,687 2101.4,686.5 2101.8,685.6 2102.2,687.6 2102.6,685.6 2103,684.2 2103.5,686.1 2103.9,684.9 2104.3,685.9 2104.7,684.6 2105.1,684.4 2105.5,683.8 2106,685 2106.4,684 2106.8,684.7 2107.2,685.5 2107.6,683.6 2108.1,685.6 2108.5,684.9 2108.9,682.7 2109.3,684.2 2109.7,685.8 2110.1,684.8 2110.6,685.6 2111,685.2 2111.4,686.5 2111.8,684.8 2112.2,686.5 2112.7,684.7 2113.1,684.7 2113.5,684.2 2113.9,682.9 2114.3,686.7 2114.7,686.2 2115.2,686 2115.6,685.6 2116,684.2 2116.4,685.4 2116.8,685.6 2117.3,686.1 2117.7,685.7 2118.1,685.5 2118.5,685.2 2118.9,686.4 2119.3,685.1 2119.8,684.5 2120.2,684.7 2120.6,686.3 2121,684.3 2121.4,684.3 2121.9,684.8 2122.3,686.2 2122.7,686.5 2123.1,685 2123.5,686 2123.9,686.3 2124.4,684.2 2124.8,684.2 2125.2,684.4 2125.6,683.8 2126,684.2 2126.4,686.2 2126.9,684 2127.3,684.9 2127.7,684.6 2128.1,683.5 2128.5,684.6 2129,683.5 2129.4,685 2129.8,685.4 2130.2,685.7 2130.6,685.2 2131,686.7 2131.5,685.1 2131.9,685.2 2132.3,685.6 2132.7,687.2 2133.1,687.1 2133.6,684.4 2134,686 2134.4,683.7 2134.8,685.8 2135.2,684.7 2135.6,686.5 2136.1,685.7 2136.5,685.3 2136.9,684.5 2137.3,683.4 2137.7,684.1 2138.2,686.5 2138.6,685.1 2139,685.2 2139.4,685.7 2139.8,684.5 2140.2,683.5 2140.7,685.5 2141.1,684 2141.5,683.7 2141.9,686.1 2142.3,683.4 2142.8,683.4 2143.2,684.8 2143.6,683.4 2144,684.8 2144.4,684 2144.8,684.4 2145.3,685.9 2145.7,684.8 2146.1,685.2 2146.5,685.5 2146.9,686.2 2147.4,685.8 2147.8,686.3 2148.2,684 2148.6,687 2149,685 2149.4,685.7 2149.9,686.3 2150.3,684.4 2150.7,685.8 2151.1,683.9 2151.5,685.2 2151.9,684.8 2152.4,685.2 2152.8,684.5 2153.2,684.2 2153.6,685.5 2154,685.1 2154.5,683.4 2154.9,685.6 2155.3,683.3 2155.7,685.5 2156.1,685.6 2156.5,686.7 2157,685.9 2157.4,686.7 2157.8,685.6 2158.2,684.4 2158.6,685.1 2159.1,685.7 2159.5,686.1 2159.9,685.7 2160.3,686.5 2160.7,686.3 2161.1,683.2 2161.6,684.9 2162,686 2162.4,684.4 2162.8,683.7 2163.2,685.7 2163.7,685.2 2164.1,686.3 2164.5,686.6 2164.9,683.8 2165.3,681.8 2165.7,685.8 2166.2,686.6 2166.6,683.7 2167,684.1 2167.4,684.6 2167.8,683.7 2168.3,685.4 2168.7,684.8 2169.1,684.3 2169.5,685.4 2169.9,684.6 2170.3,685.3 2170.8,684.7 2171.2,684.9 2171.6,687 2172,685 2172.4,686.5 2172.9,685.9 2173.3,686.7 2173.7,684.3 2174.1,685.4 2174.5,685.5 2174.9,683.9 2175.4,684.4 2175.8,685.3 2176.2,687.1 2176.6,684.5 2177,685.4 2177.4,685.4 2177.9,684.4 2178.3,685.7 2178.7,685.2 2179.1,684.3 2179.5,684.6 2180,685.7 2180.4,683.7 2180.8,684 2181.2,683.3 2181.6,685.2 2182,684.9 2182.5,684.1 2182.9,684.7 2183.3,685 2183.7,685.2 2184.1,685.4 2184.6,685.7 2185,685.7 2185.4,684.7 2185.8,685.4 2186.2,686.4 2186.6,685.1 2187.1,683.5 2187.5,683.8 2187.9,687 2188.3,685.9 2188.7,684.4 2189.2,685 2189.6,685 2190,685.2 2190.4,685 2190.8,686.1 2191.2,684 2191.7,686.1 2192.1,685.2 2192.5,683.7 2192.9,684.1 2193.3,685.1 2193.8,685.1 2194.2,685.7 2194.6,685.6 2195,685.3 2195.4,683.9 2195.8,685.5 2196.3,684.6 2196.7,684.7 2197.1,684.7 2197.5,685.4 2197.9,684.4 2198.4,685 2198.8,685 2199.2,685.5 2199.6,687.1 2200,684.4 2200.4,684.4 2200.9,685.6 2201.3,685.3 2201.7,684.8 2202.1,686 2202.5,684.4 2202.9,684.4 2203.4,684.3 2203.8,684.2 2204.2,686.9 2204.6,684.6 2205,685.5 2205.5,684.1 2205.9,684.1 2206.3,684.3 2206.7,685.2 2207.1,682.5 2207.5,685.1 2208,686.1 2208.4,684.2 2208.8,686.4 2209.2,683.3 2209.6,684.1 2210.1,683.9 2210.5,684.1 2210.9,684.7 2211.3,686.3 2211.7,685.6 2212.1,684.6 2212.6,685.3 2213,684.7 2213.4,685.7 2213.8,685.8 2214.2,684.8 2214.7,684.4 2215.1,685.1 2215.5,686 2215.9,686.6 2216.3,683.2 2216.7,686.1 2217.2,685.9 2217.6,685.8 2218,684.3 2218.4,685.8 2218.8,684.6 2219.3,684.8 2219.7,686.2 2220.1,685 2220.5,686.2 2220.9,685.3 2221.3,684.4 2221.8,685.3 2222.2,685.9 2222.6,685.5 2223,685.3 2223.4,684.8 2223.9,687.2 2224.3,686.8 2224.7,684.7 2225.1,685.2 2225.5,685.1 2225.9,684.9 2226.4,685.3 2226.8,685.5 2227.2,685 2227.6,684.5 2228,684.8 2228.4,685.1 2228.9,686.1 2229.3,684.9 2229.7,686.2 2230.1,685.8 2230.5,685 2231,685 2231.4,684.1 2231.8,684.3 2232.2,684.7 2232.6,685.4 2233,685.2 2233.5,685.4 2233.9,683.6 2234.3,684.7 2234.7,685.7 2235.1,685.9 2235.6,684 2236,685.9 2236.4,684.8 2236.8,685 2237.2,684.2 2237.6,685.9 2238.1,684.7 2238.5,685 2238.9,684.4 2239.3,683.9 2239.7,685.1 2240.2,685.4 2240.6,684.3 2241,686.4 2241.4,685 2241.8,686 2242.2,686.2 2242.7,686.6 2243.1,686.7 2243.5,684.4 2243.9,684.4 2244.3,685.1 2244.8,684.2 2245.2,685.1 2245.6,685.6 2246,686.1 2246.4,684.4 2246.8,684.4 2247.3,684 2247.7,685.9 2248.1,685.4 2248.5,686.4 2248.9,684.1 2249.4,684.5 2249.8,684.7 2250.2,685.2 2250.6,685.3 2251,685.5 2251.4,684.2 2251.9,685.7 2252.3,684.3 2252.7,684.9 2253.1,686.1 2253.5,686.5 2253.9,685.9 2254.4,685.2 2254.8,686.3 2255.2,684.6 2255.6,684.1 2256,684.7 2256.5,686.7 2256.9,687.3 2257.3,684.4 2257.7,683.8 2258.1,685.5 2258.5,684.7 2259,685.4 2259.4,685.7 2259.8,684.2 2260.2,685.6 2260.6,684.4 2261.1,683.6 2261.5,685.3 2261.9,683.5 2262.3,686.3 2262.7,684.3 2263.1,685.1 2263.6,682.8 2264,685.1 2264.4,685.9 2264.8,683.7 2265.2,686.5 2265.7,684.7 2266.1,685.8 2266.5,683.9 2266.9,685.2 2267.3,684.4 2267.7,685.2 2268.2,686.2 2268.6,687.1 2269,683.5 2269.4,684.9 2269.8,686.2 2270.3,685.4 2270.7,684.3 2271.1,686.5 2271.5,683.1 2271.9,685.4 2272.3,685.5 2272.8,684 2273.2,685 2273.6,686.1 2274,684.3 2274.4,684.8 2274.9,684.1 2275.3,686 2275.7,686.2 2276.1,684.6 2276.5,685.6 2276.9,687.1 2277.4,685.7 2277.8,684.6 2278.2,685.8 2278.6,684 2279,685.6 2279.4,685.3 2279.9,686.6 2280.3,685.9 2280.7,685.3 2281.1,684.7 2281.5,685 2282,684.2 2282.4,687.1 2282.8,685.2 2283.2,685.3 2283.6,686.1 2284,685.2 2284.5,685.9 2284.9,684.8 2285.3,685.5 2285.7,684.7 2286.1,686 2286.6,684 2287,684.8 2287.4,683.6 2287.8,685.3 2288.2,685.6 2288.6,685.1 2289.1,685.6 2289.5,686.1 2289.9,685.2 2290.3,685.2 2290.7,685.8 2291.2,685.5 2291.6,686.1 2292,685.1 2292.4,686.4 2292.8,683.7 2293.2,685.2 2293.7,684.3 2294.1,686.3 2294.5,684.9 2294.9,685.3 2295.3,684.3 2295.8,684.4 2296.2,686.7 2296.6,684.2 2297,686.5 2297.4,684 2297.8,685.2 2298.3,686.3 2298.7,684.6 2299.1,685.2 2299.5,686.1 2299.9,685.9 2300.4,684.8 2300.8,686.4 2301.2,686 2301.6,683.5 2302,685.9 2302.4,684.9 2302.9,684.8 2303.3,684.3 2303.7,684.4 2304.1,687.5 2304.5,685.6 2304.9,684.1 2305.4,685.9 2305.8,683.6 2306.2,685 2306.6,686.3 2307,684.7 2307.5,683.4 2307.9,685.8 2308.3,684.7 2308.7,686 2309.1,685.7 2309.5,685.1 2310,684.7 2310.4,684.9 2310.8,685 2311.2,683 2311.6,686.2 2312.1,686.9 2312.5,684.7 2312.9,685 2313.3,686.5 2313.7,683.7 2314.1,685.8 2314.6,686.5 2315,684.8 2315.4,684.6 2315.8,683.1 2316.2,686.6 2316.7,686.4 2317.1,685.5 2317.5,685.6 2317.9,685.3 2318.3,685.8 2318.7,686.6 2319.2,685.6 2319.6,684.6 2320,684.5 2320.4,685.8 2320.8,684.7 2321.3,684.8 2321.7,685.7 2322.1,685.5 2322.5,685.2 2322.9,682.7 2323.3,685.1 2323.8,686 2324.2,685.4" fill="none" stroke="#ff0000" stroke-width="3.5" stroke-linejoin="round" clip-path="url(#cp1)"/>
<path d="M300.7 1505v-13.2M300.7 890.5v13.2M316.4 1505v-13.2M316.4 890.5v13.2M332.1 1505v-13.2M332.1 890.5v13.2M347.7 1505v-13.2M347.7 890.5v13.2M363.4 1505v-13.2M363.4 890.5v13.2M379.1 1505v-13.2M379.1 890.5v13.2M394.8 1505v-13.2M394.8 890.5v13.2M410.5 1505v-13.2M410.5 890.5v13.2M426.2 1505v-13.2M426.2 890.5v13.2M457.5 1505v-13.2M457.5 890.5v13.2M473.2 1505v-13.2M473.2 890.5v13.2M488.9 1505v-13.2M488.9 890.5v13.2M504.6 1505v-13.2M504.6 890.5v13.2M520.3 1505v-13.2M520.3 890.5v13.2M536 1505v-13.2M536 890.5v13.2M551.7 1505v-13.2M551.7 890.5v13.2M567.3 1505v-13.2M567.3 890.5v13.2M583 1505v-13.2M583 890.5v13.2M614.4 1505v-13.2M614.4 890.5v13.2M630.1 1505v-13.2M630.1 890.5v13.2M645.8 1505v-13.2M645.8 890.5v13.2M661.4 1505v-13.2M661.4 890.5v13.2M677.1 1505v-13.2M677.1 890.5v13.2M692.8 1505v-13.2M692.8 890.5v13.2M708.5 1505v-13.2M708.5 890.5v13.2M724.2 1505v-13.2M724.2 890.5v13.2M739.9 1505v-13.2M739.9 890.5v13.2M771.2 1505v-13.2M771.2 890.5v13.2M786.9 1505v-13.2M786.9 890.5v13.2M802.6 1505v-13.2M802.6 890.5v13.2M818.3 1505v-13.2M818.3 890.5v13.2M834 1505v-13.2M834 890.5v13.2M849.7 1505v-13.2M849.7 890.5v13.2M865.4 1505v-13.2M865.4 890.5v13.2M881 1505v-13.2M881 890.5v13.2M896.7 1505v-13.2M896.7 890.5v13.2M928.1 1505v-13.2M928.1 890.5v13.2M943.8 1505v-13.2M943.8 890.5v13.2M959.5 1505v-13.2M959.5 890.5v13.2M975.2 1505v-13.2M975.2 890.5v13.2M990.8 1505v-13.2M990.8 890.5v13.2M1006.5 1505v-13.2M1006.5 890.5v13.2M1022.2 1505v-13.2M1022.2 890.5v13.2M1037.9 1505v-13.2M1037.9 890.5v13.2M1053.6 1505v-13.2M1053.6 890.5v13.2M1085 1505v-13.2M1085 890.5v13.2M1100.6 1505v-13.2M1100.6 890.5v13.2M1116.3 1505v-13.2M1116.3 890.5v13.2M1132 1505v-13.2M1132 890.5v13.2M1147.7 1505v-13.2M1147.7 890.5v13.2M1163.4 1505v-13.2M1163.4 890.5v13.2M1179.1 1505v-13.2M1179.1 890.5v13.2M1194.8 1505v-13.2M1194.8 890.5v13.2M1210.4 1505v-13.2M1210.4 890.5v13.2M1241.8 1505v-13.2M1241.8 890.5v13.2M1257.5 1505v-13.2M1257.5 890.5v13.2M1273.2 1505v-13.2M1273.2 890.5v13.2M1288.9 1505v-13.2M1288.9 890.5v13.2M1304.5 1505v-13.2M1304.5 890.5v13.2M1320.2 1505v-13.2M1320.2 890.5v13.2M1335.9 1505v-13.2M1335.9 890.5v13.2M1351.6 1505v-13.2M1351.6 890.5v13.2M1367.3 1505v-13.2M1367.3 890.5v13.2M1398.7 1505v-13.2M1398.7 890.5v13.2M1414.3 1505v-13.2M1414.3 890.5v13.2M1430 1505v-13.2M1430 890.5v13.2M1445.7 1505v-13.2M1445.7 890.5v13.2M1461.4 1505v-13.2M1461.4 890.5v13.2M1477.1 1505v-13.2M1477.1 890.5v13.2M1492.8 1505v-13.2M1492.8 890.5v13.2M1508.5 1505v-13.2M1508.5 890.5v13.2M1524.1 1505v-13.2M1524.1 890.5v13.2M1555.5 1505v-13.2M1555.5 890.5v13.2M1571.2 1505v-13.2M1571.2 890.5v13.2M1586.9 1505v-13.2M1586.9 890.5v13.2M1602.6 1505v-13.2M1602.6 890.5v13.2M1618.3 1505v-13.2M1618.3 890.5v13.2M1633.9 1505v-13.2M1633.9 890.5v13.2M1649.6 1505v-13.2M1649.6 890.5v13.2M1665.3 1505v-13.2M1665.3 890.5v13.2M1681 1505v-13.2M1681 890.5v13.2M1712.4 1505v-13.2M1712.4 890.5v13.2M1728.1 1505v-13.2M1728.1 890.5v13.2M1743.7 1505v-13.2M1743.7 890.5v13.2M1759.4 1505v-13.2M1759.4 890.5v13.2M1775.1 1505v-13.2M1775.1 890.5v13.2M1790.8 1505v-13.2M1790.8 890.5v13.2M1806.5 1505v-13.2M1806.5 890.5v13.2M1822.2 1505v-13.2M1822.2 890.5v13.2M1837.9 1505v-13.2M1837.9 890.5v13.2M1869.2 1505v-13.2M1869.2 890.5v13.2M1884.9 1505v-13.2M1884.9 890.5v13.2M1900.6 1505v-13.2M1900.6 890.5v13.2M1916.3 1505v-13.2M1916.3 890.5v13.2M1932 1505v-13.2M1932 890.5v13.2M1947.7 1505v-13.2M1947.7 890.5v13.2M1963.3 1505v-13.2M1963.3 890.5v13.2M1979 1505v-13.2M1979 890.5v13.2M1994.7 1505v-13.2M1994.7 890.5v13.2M2026.1 1505v-13.2M2026.1 890.5v13.2M2041.8 1505v-13.2M2041.8 890.5v13.2M2057.4 1505v-13.2M2057.4 890.5v13.2M2073.1 1505v-13.2M2073.1 890.5v13.2M2088.8 1505v-13.2M2088.8 890.5v13.2M2104.5 1505v-13.2M2104.5 890.5v13.2M2120.2 1505v-13.2M2120.2 890.5v13.2M2135.9 1505v-13.2M2135.9 890.5v13.2M2151.6 1505v-13.2M2151.6 890.5v13.2M2182.9 1505v-13.2M2182.9 890.5v13.2M2198.6 1505v-13.2M2198.6 890.5v13.2M2214.3 1505v-13.2M2214.3 890.5v13.2M2230 1505v-13.2M2230 890.5v13.2M2245.7 1505v-13.2M2245.7 890.5v13.2M2261.4 1505v-13.2M2261.4 890.5v13.2M2277 1505v-13.2M2277 890.5v13.2M2292.7 1505v-13.2M2292.7 890.5v13.2M2308.4 1505v-13.2M2308.4 890.5v13.2M285 1505v-26.3M285 890.5v26.3M441.9 1505v-26.3M441.9 890.5v26.3M598.7 1505v-26.3M598.7 890.5v26.3M755.6 1505v-26.3M755.6 890.5v26.3M912.4 1505v-26.3M912.4 890.5v26.3M1069.3 1505v-26.3M1069.3 890.5v26.3M1226.1 1505v-26.3M1226.1 890.5v26.3M1383 1505v-26.3M1383 890.5v26.3M1539.8 1505v-26.3M1539.8 890.5v26.3M1696.7 1505v-26.3M1696.7 890.5v26.3M1853.5 1505v-26.3M1853.5 890.5v26.3M2010.4 1505v-26.3M2010.4 890.5v26.3M2167.2 1505v-26.3M2167.2 890.5v26.3M2324.1 1505v-26.3M2324.1 890.5v26.3M285 1494.3h26.3M2324.1 1494.3h-26.3M285 1435h13.2M2324.1 1435h-13.2M285 1375.8h26.3M2324.1 1375.8h-26.3M285 1316.5h13.2M2324.1 1316.5h-13.2M285 1257.2h26.3M2324.1 1257.2h-26.3M285 1198h13.2M2324.1 1198h-13.2M285 1138.7h26.3M2324.1 1138.7h-26.3M285 1079.4h13.2M2324.1 1079.4h-13.2M285 1020.1h26.3M2324.1 1020.1h-26.3M285 960.9h13.2M2324.1 960.9h-13.2M285 901.6h26.3M2324.1 901.6h-26.3" stroke="#000" stroke-width="6.6" stroke-linecap="round" fill="none"/>
<rect x="285" y="890.5" width="2039.1" height="614.5" fill="none" stroke="#000" stroke-width="6.6" stroke-linejoin="round"/>
<clipPath id="cp2"><rect x="285" y="890.5" width="2039.1" height="614.5"/></clipPath>
<polyline points="285,1492.9 285.3,1489.9 285.7,1495.7 286,1493.8 286.3,1490.5 286.6,1491.2 287,1491.9 287.3,1490.6 287.6,1494.2 288,1491.3 288.3,1493.9 288.6,1494.2 289,1491 289.3,1493.3 289.6,1492.5 289.9,1490.8 290.3,1493.7 290.6,1490.8 290.9,1488 291.3,1492.3 291.6,1490.2 291.9,1490.5 292.2,1494.1 292.6,1494.3 292.9,1491.9 293.2,1495.7 293.6,1491.8 293.9,1491.4 294.2,1491.1 294.6,1491.1 294.9,1489.6 295.2,1492.5 295.5,1489.5 295.9,1491 296.2,1491 296.5,1492.2 296.9,1490.2 297.2,1493.2 297.5,1490.6 297.8,1489.9 298.2,1493.1 298.5,1493.6 298.8,1493.2 299.2,1492 299.5,1491.2 299.8,1490.3 300.2,1488.5 300.5,1489 300.8,1491.4 301.1,1492.6 301.5,1494 301.8,1490.4 302.1,1491 302.5,1492.4 302.8,1492.2 303.1,1492.1 303.4,1496.4 303.8,1492 304.1,1491.3 304.4,1492.1 304.8,1493.8 305.1,1491.8 305.4,1491 305.8,1488.7 306.1,1490 306.4,1490.8 306.7,1492 307.1,1494.2 307.4,1492.7 307.7,1494.3 308.1,1492.1 308.4,1490 308.7,1490 309,1490.3 309.4,1491.8 309.7,1490.1 310,1492.4 310.4,1495.3 310.7,1491.6 311,1491.8 311.4,1494.9 311.7,1492.8 312,1496.2 312.3,1492.7 312.7,1489.7 313,1493 313.3,1489.6 313.7,1491.5 314,1493.2 314.3,1495 314.6,1490.6 315,1490.7 315.3,1494.5 315.6,1492.6 316,1489.9 316.3,1493.2 316.6,1491.2 317,1495.3 317.3,1493.5 317.6,1490.6 317.9,1494 318.3,1494.4 318.6,1494.3 318.9,1492.5 319.3,1494.7 319.6,1492.1 319.9,1490.9 320.2,1489.2 320.6,1492.6 320.9,1489 321.2,1490.9 321.6,1492.3 321.9,1491 322.2,1489.2 322.6,1489.2 322.9,1490.5 323.2,1492 323.5,1490.4 323.9,1491.5 324.2,1491.6 324.5,1491.4 324.9,1488.7 325.2,1494 325.5,1492 325.8,1493.8 326.2,1490.3 326.5,1489.9 326.8,1489.5 327.2,1492.5 327.5,1491.8 327.8,1490.5 328.2,1491.5 328.5,1491.3 328.8,1491.5 329.1,1491.4 329.5,1492.1 329.8,1491.1 330.1,1494.4 330.5,1492.6 330.8,1494.2 331.1,1492 331.4,1493.1 331.8,1490.9 332.1,1489.6 332.4,1494 332.8,1493.2 333.1,1491.3 333.4,1489.3 333.8,1490.5 334.1,1491.1 334.4,1492 334.7,1492.6 335.1,1491.2 335.4,1491 335.7,1491.6 336.1,1492.9 336.4,1494.7 336.7,1493.4 337,1492.5 337.4,1493.9 337.7,1491.3 338,1494.4 338.4,1492.4 338.7,1491.2 339,1490.4 339.3,1491.4 339.7,1489.7 340,1492.9 340.3,1493.2 340.7,1489.9 341,1493.4 341.3,1492.1 341.7,1494.9 342,1489.9 342.3,1490.6 342.6,1493.2 343,1494.9 343.3,1491.4 343.6,1491.4 344,1489.8 344.3,1488.6 344.6,1491.4 344.9,1492.2 345.3,1492.3 345.6,1492.4 345.9,1494.3 346.3,1493.4 346.6,1492 346.9,1494.8 347.3,1494.2 347.6,1489.7 347.9,1493 348.2,1490.5 348.6,1489.9 348.9,1491.8 349.2,1490.4 349.6,1492.2 349.9,1493.4 350.2,1492.1 350.5,1491.7 350.9,1491.6 351.2,1491.7 351.5,1492.6 351.9,1490 352.2,1492.2 352.5,1492.6 352.9,1490.2 353.2,1493.6 353.5,1491.9 353.8,1489.3 354.2,1491.7 354.5,1489.4 354.8,1492.3 355.2,1492.7 355.5,1492.1 355.8,1492.8 356.1,1492.5 356.5,1492.6 356.8,1490.4 357.1,1491.1 357.5,1492.2 357.8,1493.1 358.1,1486.2 358.5,1492.2 358.8,1489.4 359.1,1493.9 359.4,1493.1 359.8,1489.7 360.1,1493.8 360.4,1493.7 360.8,1491.9 361.1,1493.1 361.4,1492.3 361.7,1491.6 362.1,1490.3 362.4,1491.5 362.7,1491.3 363.1,1489.5 363.4,1489.3 363.7,1492.4 364.1,1495.1 364.4,1493.6 364.7,1489.9 365,1492.7 365.4,1493.1 365.7,1492.6 366,1489 366.4,1491.7 366.7,1492.5 367,1493 367.3,1493.7 367.7,1486.9 368,1491.9 368.3,1491.6 368.7,1492.4 369,1489.9 369.3,1493.6 369.7,1495.2 370,1492.8 370.3,1491.2 370.6,1487.8 371,1491.9 371.3,1493.3 371.6,1492.2 372,1493.2 372.3,1493.2 372.6,1491.7 372.9,1491.3 373.3,1493 373.6,1489.9 373.9,1491.9 374.3,1491.6 374.6,1492.7 374.9,1491.2 375.3,1491.1 375.6,1490.6 375.9,1493.2 376.2,1490.7 376.6,1492.8 376.9,1491.6 377.2,1490.5 377.6,1489.1 377.9,1492.6 378.2,1493.7 378.5,1491.5 378.9,1489.6 379.2,1492.4 379.5,1487.5 379.9,1495.1 380.2,1489.1 380.5,1489.7 380.9,1489.8 381.2,1493.2 381.5,1489.4 381.8,1489.7 382.2,1489.6 382.5,1492.2 382.8,1492.2 383.2,1489.5 383.5,1491.2 383.8,1492.4 384.1,1493.3 384.5,1491.3 384.8,1494.2 385.1,1490.8 385.5,1491.5 385.8,1494.5 386.1,1491 386.5,1489.7 386.8,1491.3 387.1,1494.1 387.4,1492.9 387.8,1490.3 388.1,1494.1 388.4,1492.4 388.8,1489.8 389.1,1492.3 389.4,1492.8 389.7,1490.4 390.1,1489 390.4,1491.1 390.7,1494.1 391.1,1494.6 391.4,1492.2 391.7,1495 392.1,1491.9 392.4,1490.2 392.7,1496.5 393,1492.1 393.4,1491.2 393.7,1492.7 394,1491.1 394.4,1490.9 394.7,1489.9 395,1487 395.3,1491.2 395.7,1493.4 396,1493.6 396.3,1494 396.7,1490.5 397,1491.2 397.3,1491 397.7,1491.4 398,1489 398.3,1489.9 398.6,1490 399,1493 399.3,1492.4 399.6,1494.1 400,1492.9 400.3,1491.6 400.6,1494 400.9,1492.9 401.3,1488.2 401.6,1492.1 401.9,1494.4 402.3,1494 402.6,1491.9 402.9,1490.3 403.3,1491.9 403.6,1490.3 403.9,1491.2 404.2,1493.8 404.6,1490 404.9,1492.6 405.2,1488.5 405.6,1492.8 405.9,1492 406.2,1491.5 406.5,1488.4 406.9,1483.1 407.2,1478.9 407.5,1469.7 407.9,1463.4 408.2,1452.1 408.5,1445.4 408.9,1432.1 409.2,1420.9 409.5,1412.2 409.8,1393.2 410.2,1383.2 410.5,1373.1 410.8,1362.8 411.2,1350.3 411.5,1338.9 411.8,1326.4 412.1,1320.4 412.5,1307.1 412.8,1300.8 413.1,1285.7 413.5,1282.5 413.8,1274.3 414.1,1268.2 414.5,1272.6 414.8,1266.4 415.1,1272.8 415.4,1274 415.8,1283 416.1,1284.2 416.4,1285.8 416.8,1296.3 417.1,1307.6 417.4,1315.8 417.7,1328.4 418.1,1339.2 418.4,1353.1 418.7,1357.9 419.1,1370.4 419.4,1386.2 419.7,1401.7 420.1,1411.2 420.4,1417.8 420.7,1436.8 421,1445.6 421.4,1455.4 421.7,1461.8 422,1473.7 422.4,1477.4 422.7,1484.9 423,1488.2 423.3,1492.4 423.7,1490.7 424,1492.6 424.3,1492.8 424.7,1489.8 425,1491.1 425.3,1487.6 425.7,1491 426,1491.6 426.3,1491.5 426.6,1486.9 427,1489.5 427.3,1492.2 427.6,1491.2 428,1492.6 428.3,1490.5 428.6,1492.6 428.9,1492.7 429.3,1490.9 429.6,1489.3 429.9,1490.2 430.3,1490.4 430.6,1491.6 430.9,1496 431.3,1492 431.6,1492.1 431.9,1490.8 432.2,1488.6 432.6,1490.4 432.9,1494.8 433.2,1491.7 433.6,1492.1 433.9,1490.5 434.2,1491.8 434.5,1495.1 434.9,1493.3 435.2,1492.3 435.5,1495.4 435.9,1492 436.2,1492.2 436.5,1489.9 436.9,1492 437.2,1492.9 437.5,1492 437.8,1491.7 438.2,1490 438.5,1493.4 438.8,1495.7 439.2,1486.9 439.5,1490.4 439.8,1491.7 440.1,1487.5 440.5,1493.8 440.8,1493.2 441.1,1492.5 441.5,1490.9 441.8,1492.6 442.1,1490.4 442.4,1492.4 442.8,1489.5 443.1,1490.9 443.4,1494.7 443.8,1491.8 444.1,1493.8 444.4,1492 444.8,1491.8 445.1,1487.8 445.4,1492.2 445.7,1494.6 446.1,1491.6 446.4,1493.9 446.7,1488.5 447.1,1490.5 447.4,1489 447.7,1492.5 448,1493.7 448.4,1491.3 448.7,1494.2 449,1493.5 449.4,1493.1 449.7,1492.1 450,1494.5 450.4,1495.5 450.7,1489.3 451,1492.8 451.3,1492.1 451.7,1490.7 452,1491 452.3,1493 452.7,1492.6 453,1488.9 453.3,1489.5 453.6,1490.5 454,1488.8 454.3,1495.1 454.6,1491.5 455,1492.3 455.3,1495.2 455.6,1491.2 456,1490.6 456.3,1491.3 456.6,1495 456.9,1492.2 457.3,1491.4 457.6,1492.2 457.9,1491.3 458.3,1490.9 458.6,1489.2 458.9,1491.3 459.2,1487 459.6,1491.4 459.9,1491.2 460.2,1490.3 460.6,1491.9 460.9,1492.3 461.2,1489.5 461.6,1495.6 461.9,1494.9 462.2,1488 462.5,1490.4 462.9,1490.8 463.2,1491.2 463.5,1491.2 463.9,1493.4 464.2,1492.2 464.5,1493.6 464.8,1489.7 465.2,1490.6 465.5,1491.3 465.8,1491 466.2,1492 466.5,1493.8 466.8,1488.7 467.2,1490.5 467.5,1492 467.8,1490.7 468.1,1489.4 468.5,1489.6 468.8,1490.5 469.1,1490.2 469.5,1492.1 469.8,1489.3 470.1,1490 470.4,1490 470.8,1494 471.1,1490.6 471.4,1490.5 471.8,1490.3 472.1,1496.4 472.4,1495.1 472.8,1491.2 473.1,1493.4 473.4,1491 473.7,1491.9 474.1,1490.2 474.4,1492.7 474.7,1493.6 475.1,1490.8 475.4,1492.2 475.7,1493.9 476,1495.3 476.4,1486.1 476.7,1492.4 477,1492.2 477.4,1495.3 477.7,1493.6 478,1492 478.4,1491.2 478.7,1490.4 479,1493.1 479.3,1490.9 479.7,1489.7 480,1492.7 480.3,1491.9 480.7,1495 481,1493.2 481.3,1494.3 481.6,1490.6 482,1492.1 482.3,1488.9 482.6,1491.4 483,1490.3 483.3,1490.8 483.6,1491.4 484,1493.7 484.3,1488.8 484.6,1491.9 484.9,1495.1 485.3,1492.8 485.6,1493.8 485.9,1489.6 486.3,1489.9 486.6,1489 486.9,1487.7 487.2,1492.7 487.6,1494.7 487.9,1492.6 488.2,1489.7 488.6,1494.9 488.9,1490.4 489.2,1487.1 489.6,1489.6 489.9,1487.5 490.2,1488.2 490.5,1482.4 490.9,1481.2 491.2,1486.1 491.5,1485 491.9,1482.5 492.2,1480.7 492.5,1480.7 492.8,1479.7 493.2,1478.6 493.5,1477.9 493.8,1476.3 494.2,1479.4 494.5,1480.7 494.8,1480 495.2,1475.7 495.5,1478.6 495.8,1479.2 496.1,1478.5 496.5,1479.3 496.8,1477.7 497.1,1484.4 497.5,1483.2 497.8,1482.9 498.1,1483.6 498.4,1486.6 498.8,1489.7 499.1,1488 499.4,1489.5 499.8,1489.1 500.1,1487.5 500.4,1488.8 500.8,1492.6 501.1,1492.3 501.4,1490.9 501.7,1489.4 502.1,1491.7 502.4,1491.2 502.7,1494.4 503.1,1492.5 503.4,1493.1 503.7,1491.3 504,1492.1 504.4,1493.2 504.7,1493.6 505,1491.3 505.4,1492.9 505.7,1489.6 506,1491.4 506.4,1492.2 506.7,1490 507,1493.9 507.3,1490 507.7,1493 508,1490.4 508.3,1493 508.7,1493.5 509,1495.1 509.3,1491.7 509.6,1490.9 510,1494.3 510.3,1488.5 510.6,1491.8 511,1493.8 511.3,1488.2 511.6,1492.5 512,1489.1 512.3,1496.9 512.6,1487.8 512.9,1491.4 513.3,1491.8 513.6,1491.2 513.9,1493.9 514.3,1490.1 514.6,1491 514.9,1491.2 515.2,1492.8 515.6,1493.9 515.9,1491.1 516.2,1490.3 516.6,1491.5 516.9,1492.1 517.2,1492.7 517.6,1490.5 517.9,1489.1 518.2,1492.1 518.5,1493.3 518.9,1487.3 519.2,1494.6 519.5,1491.3 519.9,1492 520.2,1489.4 520.5,1492 520.8,1494.8 521.2,1493.8 521.5,1491.6 521.8,1491.8 522.2,1493 522.5,1492.8 522.8,1494.6 523.2,1494.5 523.5,1492.9 523.8,1493 524.1,1492 524.5,1493.9 524.8,1488.9 525.1,1495 525.5,1490.2 525.8,1490.8 526.1,1488.9 526.4,1489.2 526.8,1494.1 527.1,1491.1 527.4,1490.4 527.8,1490 528.1,1490.8 528.4,1492.8 528.8,1489.4 529.1,1491.9 529.4,1492.6 529.7,1491.4 530.1,1492.5 530.4,1492.9 530.7,1491.5 531.1,1486.9 531.4,1491.1 531.7,1491.6 532,1492.5 532.4,1491.1 532.7,1493.8 533,1490.8 533.4,1491.2 533.7,1491.5 534,1490.8 534.4,1492.1 534.7,1490.5 535,1490.7 535.3,1490.7 535.7,1491.7 536,1490.1 536.3,1492 536.7,1489.4 537,1491.9 537.3,1489.4 537.6,1491.2 538,1491.7 538.3,1493.5 538.6,1490.5 539,1491 539.3,1491.6 539.6,1490.9 540,1491.4 540.3,1493.3 540.6,1493.8 540.9,1490.5 541.3,1491.4 541.6,1488.9 541.9,1488 542.3,1490.2 542.6,1490.5 542.9,1490.7 543.2,1491.5 543.6,1492.8 543.9,1496.4 544.2,1490.3 544.6,1490.6 544.9,1491.6 545.2,1491.4 545.5,1489.9 545.9,1490 546.2,1491.3 546.5,1492.1 546.9,1490.6 547.2,1490.2 547.5,1487.7 547.9,1493.3 548.2,1490.8 548.5,1493.3 548.8,1492.5 549.2,1487.4 549.5,1492.4 549.8,1491.9 550.2,1492.7 550.5,1490.1 550.8,1492.4 551.1,1494.7 551.5,1491.4 551.8,1490.2 552.1,1491.7 552.5,1491.4 552.8,1492.9 553.1,1493.4 553.5,1491.7 553.8,1493.7 554.1,1492.5 554.4,1493.5 554.8,1492.1 555.1,1490.3 555.4,1491.8 555.8,1489.6 556.1,1491 556.4,1491.9 556.7,1493.4 557.1,1491.5 557.4,1493.8 557.7,1490.3 558.1,1494.2 558.4,1494.2 558.7,1493.3 559.1,1494.8 559.4,1491.5 559.7,1493.1 560,1492.6 560.4,1490.6 560.7,1495.7 561,1492.2 561.4,1491.1 561.7,1489.9 562,1491.5 562.3,1492.9 562.7,1490 563,1490.1 563.3,1487.7 563.7,1487.8 564,1492.1 564.3,1489.2 564.7,1491.3 565,1493.6 565.3,1490.4 565.6,1489.4 566,1496 566.3,1489.3 566.6,1493.2 567,1488.8 567.3,1491.3 567.6,1491.5 567.9,1489.2 568.3,1492.3 568.6,1487.9 568.9,1493.5 569.3,1492.8 569.6,1493.7 569.9,1490.8 570.3,1491.9 570.6,1490.3 570.9,1489.8 571.2,1490.3 571.6,1489.8 571.9,1489.8 572.2,1491.9 572.6,1493.1 572.9,1493.5 573.2,1490.4 573.5,1492.7 573.9,1493.5 574.2,1493.3 574.5,1492.2 574.9,1491.4 575.2,1492.2 575.5,1493.6 575.9,1490.8 576.2,1495.8 576.5,1492.4 576.8,1489.9 577.2,1491.3 577.5,1489.7 577.8,1491.6 578.2,1490.8 578.5,1491.8 578.8,1492.6 579.1,1491.2 579.5,1490.1 579.8,1495.4 580.1,1493.3 580.5,1495.7 580.8,1493.6 581.1,1494.2 581.5,1492.8 581.8,1492.4 582.1,1490.2 582.4,1489.7 582.8,1493.4 583.1,1492.8 583.4,1490.8 583.8,1493.1 584.1,1492.6 584.4,1495.3 584.7,1490.6 585.1,1491.4 585.4,1493.7 585.7,1494.3 586.1,1493.8 586.4,1491.1 586.7,1492.8 587.1,1494.1 587.4,1492.5 587.7,1490.4 588,1489.6 588.4,1489.5 588.7,1491.7 589,1491.4 589.4,1491.3 589.7,1490.7 590,1490.8 590.3,1493.6 590.7,1493.2 591,1492.6 591.3,1490.6 591.7,1492.8 592,1493.2 592.3,1490 592.7,1489.2 593,1493.5 593.3,1492.1 593.6,1489.8 594,1492.6 594.3,1490.2 594.6,1494.4 595,1492.2 595.3,1490.7 595.6,1489.1 595.9,1490.1 596.3,1494.8 596.6,1494.6 596.9,1493.4 597.3,1490.4 597.6,1490.5 597.9,1489.9 598.3,1490.6 598.6,1492.9 598.9,1492.5 599.2,1493.5 599.6,1490.4 599.9,1494.1 600.2,1491.7 600.6,1491.4 600.9,1489.6 601.2,1493.2 601.5,1491.1 601.9,1493.7 602.2,1490 602.5,1492.5 602.9,1492.4 603.2,1493.6 603.5,1492.9 603.9,1493 604.2,1493 604.5,1489.8 604.8,1493.6 605.2,1491.4 605.5,1490.3 605.8,1493.9 606.2,1495.7 606.5,1491 606.8,1494.8 607.1,1493.3 607.5,1492 607.8,1491.4 608.1,1492.3 608.5,1493.1 608.8,1490.1 609.1,1491.4 609.5,1488.4 609.8,1493.5 610.1,1492 610.4,1491.9 610.8,1490.9 611.1,1491.4 611.4,1491.8 611.8,1488.3 612.1,1492.1 612.4,1491 612.7,1491.5 613.1,1492.9 613.4,1490.5 613.7,1495.2 614.1,1489.8 614.4,1494.6 614.7,1492.4 615.1,1491.7 615.4,1492.7 615.7,1492.8 616,1489.7 616.4,1487.5 616.7,1490 617,1491.5 617.4,1493 617.7,1493.2 618,1489.7 618.3,1490.2 618.7,1489.5 619,1490 619.3,1489.5 619.7,1492.9 620,1493.2 620.3,1493.7 620.7,1491.9 621,1492.2 621.3,1491.6 621.6,1494 622,1491.5 622.3,1490.4 622.6,1491.7 623,1496.7 623.3,1491.9 623.6,1492.5 623.9,1490.2 624.3,1492.1 624.6,1490.7 624.9,1492.5 625.3,1491.3 625.6,1490.1 625.9,1492.3 626.3,1491.3 626.6,1491.5 626.9,1490.7 627.2,1492.1 627.6,1491 627.9,1495.1 628.2,1492.3 628.6,1490.4 628.9,1490.6 629.2,1493.6 629.5,1493.3 629.9,1491.1 630.2,1491.2 630.5,1491 630.9,1491.7 631.2,1491.6 631.5,1490 631.9,1493.5 632.2,1494.3 632.5,1490 632.8,1493.2 633.2,1490.6 633.5,1493 633.8,1493.8 634.2,1489.1 634.5,1492 634.8,1494.4 635.1,1492.2 635.5,1492.2 635.8,1492.2 636.1,1491.6 636.5,1493.9 636.8,1492.4 637.1,1491.1 637.5,1490.8 637.8,1491.7 638.1,1493.3 638.4,1495.4 638.8,1489.3 639.1,1493.8 639.4,1492.7 639.8,1491.8 640.1,1491.1 640.4,1491.9 640.7,1493.3 641.1,1491.9 641.4,1488.2 641.7,1487.4 642.1,1492.2 642.4,1490.7 642.7,1495 643.1,1491.5 643.4,1490.6 643.7,1492.4 644,1488.6 644.4,1490.3 644.7,1490.8 645,1496.5 645.4,1492.9 645.7,1490.6 646,1492.7 646.3,1495 646.7,1492.9 647,1489.1 647.3,1490.6 647.7,1490.1 648,1490.9 648.3,1487.6 648.6,1494.4 649,1490.2 649.3,1483 649.6,1482.7 650,1482.2 650.3,1481 650.6,1481.5 651,1476.4 651.3,1473.3 651.6,1472.2 651.9,1465.1 652.3,1463.2 652.6,1463.4 652.9,1458.6 653.3,1458.3 653.6,1455.6 653.9,1455.3 654.2,1447.4 654.6,1454.4 654.9,1450.4 655.2,1447.1 655.6,1446.6 655.9,1452 656.2,1450.7 656.6,1449.3 656.9,1451.5 657.2,1452.2 657.5,1452.6 657.9,1453.9 658.2,1453.1 658.5,1460.9 658.9,1457.4 659.2,1462.3 659.5,1463.2 659.8,1467.5 660.2,1464.8 660.5,1475.5 660.8,1472.3 661.2,1477.9 661.5,1479.9 661.8,1479.1 662.2,1484.2 662.5,1484.1 662.8,1484.8 663.1,1489.9 663.5,1486.4 663.8,1488.7 664.1,1491.9 664.5,1491.4 664.8,1493.1 665.1,1491.3 665.4,1490.2 665.8,1490 666.1,1491.4 666.4,1492.7 666.8,1492.9 667.1,1493.5 667.4,1492.3 667.8,1490.7 668.1,1492.8 668.4,1493 668.7,1493.7 669.1,1490.8 669.4,1492.2 669.7,1494.7 670.1,1489.8 670.4,1489.9 670.7,1491.7 671,1492.4 671.4,1491.8 671.7,1493.4 672,1490 672.4,1489.3 672.7,1489.9 673,1491.3 673.4,1491.4 673.7,1490.8 674,1488.7 674.3,1493.2 674.7,1491.8 675,1493 675.3,1493.9 675.7,1491.2 676,1489.8 676.3,1493.7 676.6,1490 677,1490.6 677.3,1490.9 677.6,1489.4 678,1492.9 678.3,1488.9 678.6,1492.4 679,1490.8 679.3,1494.5 679.6,1490 679.9,1491.7 680.3,1492.8 680.6,1493.6 680.9,1491.4 681.3,1489.4 681.6,1490.8 681.9,1492.4 682.2,1493.1 682.6,1493.6 682.9,1492.4 683.2,1494.6 683.6,1492.5 683.9,1489.8 684.2,1491.9 684.6,1492.1 684.9,1492.9 685.2,1490.5 685.5,1490.7 685.9,1489.3 686.2,1493 686.5,1493.8 686.9,1492.9 687.2,1494 687.5,1491.9 687.8,1492.6 688.2,1493.3 688.5,1491.9 688.8,1490 689.2,1490.5 689.5,1492.9 689.8,1491.7 690.2,1491.3 690.5,1490.6 690.8,1492.4 691.1,1494.1 691.5,1491.2 691.8,1493.5 692.1,1492.5 692.5,1492.3 692.8,1490.2 693.1,1492.7 693.4,1491.5 693.8,1492.2 694.1,1492.8 694.4,1490.3 694.8,1492.6 695.1,1491 695.4,1491.3 695.8,1495.1 696.1,1494.7 696.4,1497.4 696.7,1491.3 697.1,1491.4 697.4,1492.7 697.7,1492.7 698.1,1492.4 698.4,1492.9 698.7,1491.9 699,1491.9 699.4,1493.4 699.7,1489.3 700,1490 700.4,1492.5 700.7,1488 701,1487.5 701.4,1489.6 701.7,1489.7 702,1492.8 702.3,1492.4 702.7,1494.6 703,1492.5 703.3,1490.1 703.7,1492.5 704,1494.8 704.3,1488.9 704.6,1488.3 705,1489.1 705.3,1494.5 705.6,1490.3 706,1493.3 706.3,1492 706.6,1490.5 707,1489.1 707.3,1492.9 707.6,1492.4 707.9,1494 708.3,1491.8 708.6,1493.5 708.9,1492.7 709.3,1490.4 709.6,1491.8 709.9,1491.6 710.2,1491.3 710.6,1490.4 710.9,1489.3 711.2,1493.9 711.6,1494.6 711.9,1490.9 712.2,1490.5 712.6,1489.3 712.9,1490.4 713.2,1488.7 713.5,1490.9 713.9,1492.9 714.2,1490 714.5,1493.4 714.9,1493 715.2,1491 715.5,1492.2 715.8,1490.1 716.2,1492.4 716.5,1488.5 716.8,1493.6 717.2,1490.5 717.5,1492.6 717.8,1489.2 718.2,1492.8 718.5,1490.4 718.8,1497.4 719.1,1493.1 719.5,1488.8 719.8,1491.4 720.1,1491.6 720.5,1490.2 720.8,1487.5 721.1,1493.7 721.4,1491.9 721.8,1492.6 722.1,1490.5 722.4,1493 722.8,1494.5 723.1,1494.5 723.4,1490.6 723.8,1491.4 724.1,1490.2 724.4,1494.6 724.7,1493.4 725.1,1492.7 725.4,1490.2 725.7,1490.9 726.1,1492 726.4,1493.5 726.7,1491.4 727,1492.6 727.4,1490.1 727.7,1488.6 728,1491.5 728.4,1493.7 728.7,1487.5 729,1490.6 729.4,1490.8 729.7,1491.5 730,1491.4 730.3,1491.6 730.7,1491.3 731,1494.4 731.3,1493 731.7,1491.9 732,1491.5 732.3,1491.4 732.6,1490.9 733,1495 733.3,1493.4 733.6,1492.9 734,1491.5 734.3,1492 734.6,1487.9 735,1491.8 735.3,1491.1 735.6,1492.8 735.9,1485.9 736.3,1488.2 736.6,1487.6 736.9,1487.5 737.3,1485 737.6,1484.6 737.9,1480.4 738.2,1482.9 738.6,1480.9 738.9,1479.7 739.2,1476.3 739.6,1475.5 739.9,1473 740.2,1472.6 740.6,1471.4 740.9,1471.4 741.2,1468.7 741.5,1468.7 741.9,1468.3 742.2,1471.5 742.5,1468.8 742.9,1469 743.2,1471 743.5,1464.8 743.8,1464.7 744.2,1465.6 744.5,1467.1 744.8,1465.8 745.2,1472.7 745.5,1467.7 745.8,1475.1 746.2,1471.9 746.5,1473 746.8,1473.5 747.1,1474.4 747.5,1475.6 747.8,1479.6 748.1,1480.9 748.5,1482.5 748.8,1482 749.1,1484.2 749.4,1487.7 749.8,1484.2 750.1,1489.2 750.4,1489 750.8,1490.3 751.1,1491.1 751.4,1489.4 751.7,1492.2 752.1,1493.9 752.4,1492.8 752.7,1493.6 753.1,1494.5 753.4,1490.1 753.7,1489.7 754.1,1494.3 754.4,1488.9 754.7,1488.5 755,1494.2 755.4,1491 755.7,1492.2 756,1490.2 756.4,1497 756.7,1490.6 757,1492.4 757.3,1490.9 757.7,1490.1 758,1496 758.3,1491.8 758.7,1491.7 759,1490.7 759.3,1489.7 759.7,1490.4 760,1493.1 760.3,1490.5 760.6,1493.1 761,1490.4 761.3,1492 761.6,1492 762,1491.5 762.3,1494.6 762.6,1492.3 762.9,1493.9 763.3,1490.1 763.6,1489.5 763.9,1494.3 764.3,1495.7 764.6,1491.3 764.9,1492.7 765.3,1493.4 765.6,1487.6 765.9,1492.5 766.2,1493.6 766.6,1492.2 766.9,1491.2 767.2,1488.9 767.6,1491.2 767.9,1494 768.2,1492.6 768.5,1488.4 768.9,1494.8 769.2,1491.8 769.5,1489.6 769.9,1491.2 770.2,1492.1 770.5,1493.3 770.9,1491.4 771.2,1490.8 771.5,1491.3 771.8,1489.9 772.2,1491.3 772.5,1489.4 772.8,1491.5 773.2,1490.1 773.5,1492.3 773.8,1488.6 774.1,1489.5 774.5,1490.5 774.8,1493.5 775.1,1491.4 775.5,1497 775.8,1492.3 776.1,1491.4 776.5,1493.2 776.8,1491.4 777.1,1490.5 777.4,1488.5 777.8,1491.7 778.1,1494.5 778.4,1495.9 778.8,1492 779.1,1490.1 779.4,1489.7 779.7,1491.5 780.1,1492.9 780.4,1492.9 780.7,1491.9 781.1,1491.5 781.4,1490.6 781.7,1491.5 782.1,1488.1 782.4,1491.4 782.7,1490.8 783,1489.8 783.4,1490 783.7,1492.8 784,1494.6 784.4,1494 784.7,1491 785,1490.6 785.3,1491.1 785.7,1490.3 786,1489.3 786.3,1493 786.7,1487.1 787,1486.9 787.3,1490.3 787.7,1492 788,1491.2 788.3,1494.2 788.6,1491.6 789,1493.1 789.3,1491.8 789.6,1492.2 790,1488 790.3,1493.2 790.6,1491.1 790.9,1492.4 791.3,1488.8 791.6,1489.7 791.9,1494.4 792.3,1493.4 792.6,1491.1 792.9,1492.8 793.3,1490.8 793.6,1491.5 793.9,1493.6 794.2,1492.2 794.6,1490.8 794.9,1491.8 795.2,1491.4 795.6,1491 795.9,1491.9 796.2,1489.2 796.5,1493.9 796.9,1490.8 797.2,1492.6 797.5,1490.9 797.9,1490.1 798.2,1490.5 798.5,1490.4 798.9,1490.3 799.2,1490.7 799.5,1492.1 799.8,1490.3 800.2,1489.9 800.5,1490.1 800.8,1491.1 801.2,1491.1 801.5,1495.2 801.8,1493.1 802.1,1492 802.5,1489.8 802.8,1489.5 803.1,1491.4 803.5,1493.7 803.8,1490.8 804.1,1489.9 804.5,1490.3 804.8,1492.9 805.1,1493.6 805.4,1493.3 805.8,1493.6 806.1,1489.9 806.4,1491.1 806.8,1487.8 807.1,1488.7 807.4,1489.8 807.7,1492.9 808.1,1490.5 808.4,1490.8 808.7,1494.2 809.1,1493.9 809.4,1493 809.7,1489.4 810.1,1492.4 810.4,1494.1 810.7,1491.5 811,1490.6 811.4,1493.8 811.7,1488.2 812,1493 812.4,1489.8 812.7,1490.4 813,1493 813.3,1491.9 813.7,1491.6 814,1492.3 814.3,1490.3 814.7,1491.6 815,1494.8 815.3,1491.5 815.7,1493.7 816,1492.1 816.3,1491.3 816.6,1491.9 817,1489.8 817.3,1491.8 817.6,1492.6 818,1488.7 818.3,1490.4 818.6,1491.9 818.9,1491.7 819.3,1492.4 819.6,1491.5 819.9,1493.4 820.3,1488.5 820.6,1489.5 820.9,1495.7 821.3,1493.4 821.6,1491.8 821.9,1492.8 822.2,1495.5 822.6,1490.4 822.9,1493.8 823.2,1490.5 823.6,1490.9 823.9,1488.9 824.2,1493.3 824.5,1488.4 824.9,1493.9 825.2,1489 825.5,1489.8 825.9,1490.9 826.2,1493.6 826.5,1488.8 826.9,1490.2 827.2,1494.7 827.5,1496.4 827.8,1492.9 828.2,1493.2 828.5,1490.4 828.8,1491.4 829.2,1491.1 829.5,1492.6 829.8,1489.9 830.1,1492.2 830.5,1492.9 830.8,1493.1 831.1,1485.8 831.5,1485.5 831.8,1484.9 832.1,1480.2 832.5,1475.9 832.8,1470.2 833.1,1472 833.4,1464.7 833.8,1458.5 834.1,1455.1 834.4,1450.6 834.8,1444.5 835.1,1447.2 835.4,1443.6 835.7,1437.1 836.1,1433.5 836.4,1434.5 836.7,1434.5 837.1,1435.5 837.4,1430.9 837.7,1431.5 838.1,1434.6 838.4,1433.1 838.7,1433.8 839,1429.8 839.4,1430.9 839.7,1427.1 840,1426.2 840.4,1427.8 840.7,1424.9 841,1424.4 841.3,1422.5 841.7,1426.2 842,1422.8 842.3,1419.1 842.7,1421.1 843,1422.9 843.3,1420.7 843.7,1415.2 844,1421.1 844.3,1421.2 844.6,1417.3 845,1420.1 845.3,1422.9 845.6,1423.1 846,1420.1 846.3,1422.9 846.6,1419.5 846.9,1426.4 847.3,1430.6 847.6,1431.9 847.9,1435.8 848.3,1433.5 848.6,1441.2 848.9,1439.5 849.3,1445 849.6,1445.3 849.9,1453.2 850.2,1454.4 850.6,1463.5 850.9,1462.8 851.2,1465.8 851.6,1464.1 851.9,1468.4 852.2,1468.1 852.5,1471.8 852.9,1473.4 853.2,1471 853.5,1468.1 853.9,1470.9 854.2,1467.9 854.5,1472.1 854.9,1472.7 855.2,1473.4 855.5,1474.1 855.8,1476 856.2,1476.2 856.5,1478.6 856.8,1480.3 857.2,1476.7 857.5,1479.3 857.8,1482.9 858.1,1484.8 858.5,1487.9 858.8,1485.1 859.1,1488.6 859.5,1484.8 859.8,1492.5 860.1,1489.4 860.4,1488.5 860.8,1492.1 861.1,1487.7 861.4,1489.6 861.8,1489.7 862.1,1493 862.4,1489.6 862.8,1489.6 863.1,1491.2 863.4,1488.2 863.7,1490.8 864.1,1495.6 864.4,1490.8 864.7,1488.3 865.1,1492.5 865.4,1490.1 865.7,1492.6 866,1491.5 866.4,1496.4 866.7,1494.7 867,1492 867.4,1492.5 867.7,1494.9 868,1490.2 868.4,1490.8 868.7,1493.1 869,1495.2 869.3,1490.4 869.7,1492.4 870,1490.2 870.3,1489.4 870.7,1492.1 871,1491.9 871.3,1490.1 871.6,1492 872,1495.1 872.3,1490.4 872.6,1491 873,1492.6 873.3,1490.6 873.6,1492.3 874,1492.3 874.3,1490.1 874.6,1494.1 874.9,1494.6 875.3,1491.9 875.6,1494 875.9,1490.1 876.3,1493 876.6,1494.8 876.9,1492.4 877.2,1495.7 877.6,1489.1 877.9,1491.7 878.2,1490.4 878.6,1490.7 878.9,1491.3 879.2,1493.5 879.6,1490.2 879.9,1492.2 880.2,1493 880.5,1495.4 880.9,1489.3 881.2,1492.1 881.5,1492.4 881.9,1495.1 882.2,1489.9 882.5,1491.8 882.8,1489.8 883.2,1491.7 883.5,1493.2 883.8,1490.6 884.2,1494.5 884.5,1494.5 884.8,1491.8 885.2,1490.3 885.5,1489.6 885.8,1491.8 886.1,1491.9 886.5,1491.3 886.8,1492 887.1,1492.6 887.5,1490.7 887.8,1492.6 888.1,1492 888.4,1489.5 888.8,1491.2 889.1,1492.6 889.4,1490.4 889.8,1491.9 890.1,1490.4 890.4,1493.2 890.8,1493 891.1,1494.2 891.4,1489.6 891.7,1489.1 892.1,1489.5 892.4,1491 892.7,1491.3 893.1,1492.1 893.4,1490.6 893.7,1492 894,1493.5 894.4,1489.8 894.7,1490 895,1490.7 895.4,1491.8 895.7,1492.3 896,1491.5 896.4,1491.3 896.7,1493.8 897,1492.5 897.3,1493.6 897.7,1489.6 898,1494.1 898.3,1493.8 898.7,1493.3 899,1491.4 899.3,1493.3 899.6,1488.5 900,1490.3 900.3,1496 900.6,1491.3 901,1491 901.3,1494 901.6,1491.8 902,1491.5 902.3,1492.8 902.6,1491.9 902.9,1491.1 903.3,1492.6 903.6,1491.8 903.9,1493.8 904.3,1490.5 904.6,1492.8 904.9,1489.5 905.2,1488 905.6,1488.7 905.9,1492.5 906.2,1490.9 906.6,1492.1 906.9,1490.8 907.2,1493.2 907.6,1493.5 907.9,1491.8 908.2,1493.1 908.5,1489.5 908.9,1490.4 909.2,1491.1 909.5,1491.9 909.9,1492 910.2,1489.9 910.5,1491.5 910.8,1491.7 911.2,1488.3 911.5,1491.4 911.8,1492.1 912.2,1492.1 912.5,1489.4 912.8,1492.6 913.2,1492.5 913.5,1489.7 913.8,1489.6 914.1,1489.1 914.5,1493.2 914.8,1490.9 915.1,1492.7 915.5,1490.9 915.8,1494.6 916.1,1492 916.4,1489.7 916.8,1491.3 917.1,1496.1 917.4,1489.8 917.8,1491 918.1,1492.2 918.4,1491.7 918.8,1492.3 919.1,1489.5 919.4,1491.7 919.7,1494.6 920.1,1493.3 920.4,1488.6 920.7,1489.5 921.1,1490.1 921.4,1493.1 921.7,1490.6 922,1489.7 922.4,1491.5 922.7,1490.3 923,1489.5 923.4,1489.7 923.7,1490.8 924,1490.7 924.4,1494 924.7,1492.2 925,1490 925.3,1488.3 925.7,1491.3 926,1489.5 926.3,1491.6 926.7,1493.5 927,1490.8 927.3,1490.7 927.6,1493.3 928,1493.3 928.3,1491.5 928.6,1492.6 929,1490.6 929.3,1494.3 929.6,1490 930,1492.8 930.3,1490.2 930.6,1490.1 930.9,1477.9 931.3,1469 931.6,1451.2 931.9,1443.6 932.3,1425.2 932.6,1396.9 932.9,1372.2 933.2,1354.4 933.6,1319.3 933.9,1288.5 934.2,1256.2 934.6,1230 934.9,1205.7 935.2,1176.4 935.6,1125.9 935.9,1103.4 936.2,1070.5 936.5,1049.2 936.9,1021.9 937.2,996.9 937.5,978.8 937.9,954.6 938.2,942.4 938.5,923.2 938.8,901.2 939.2,900 939.5,899.5 939.8,881 940.2,885.3 940.5,898.6 940.8,918.6 941.2,909.3 941.5,923.5 941.8,952.9 942.1,959.9 942.5,996.2 942.8,1017.2 943.1,1044.7 943.5,1069.2 943.8,1100.4 944.1,1123.1 944.4,1163.1 944.8,1191 945.1,1224.3 945.4,1254.7 945.8,1289.3 946.1,1315.7 946.4,1339.1 946.8,1367.5 947.1,1397.8 947.4,1417.6 947.7,1438.8 948.1,1454.8 948.4,1468.6 948.7,1480.8 949.1,1484.8 949.4,1488.4 949.7,1491.3 950,1492.6 950.4,1491.2 950.7,1493.2 951,1489.3 951.4,1486.6 951.7,1497.3 952,1490.8 952.4,1491.5 952.7,1491.2 953,1492.2 953.3,1494.8 953.7,1491.8 954,1492.5 954.3,1491.9 954.7,1491.7 955,1492.7 955.3,1486.6 955.6,1494.3 956,1492.4 956.3,1494.4 956.6,1491.9 957,1488.2 957.3,1491.7 957.6,1493.4 958,1494.5 958.3,1490.4 958.6,1493.2 958.9,1490.2 959.3,1493.1 959.6,1492.8 959.9,1491.7 960.3,1495.2 960.6,1488.9 960.9,1494.1 961.2,1491.3 961.6,1490.6 961.9,1486.3 962.2,1490.5 962.6,1489.7 962.9,1492.7 963.2,1491.9 963.5,1491.6 963.9,1489.2 964.2,1493.8 964.5,1490.7 964.9,1485.1 965.2,1493.8 965.5,1495.8 965.9,1492.8 966.2,1491.9 966.5,1487.8 966.8,1490.5 967.2,1489 967.5,1493.2 967.8,1491.7 968.2,1490.9 968.5,1493.5 968.8,1490.9 969.1,1492.2 969.5,1491 969.8,1494.8 970.1,1496.3 970.5,1488.4 970.8,1491.5 971.1,1491.8 971.5,1485.6 971.8,1489.2 972.1,1490.5 972.4,1493.1 972.8,1490.7 973.1,1491 973.4,1492.1 973.8,1488.2 974.1,1489.7 974.4,1490.2 974.7,1493.4 975.1,1493.1 975.4,1488.9 975.7,1490.9 976.1,1492.8 976.4,1490.7 976.7,1491.4 977.1,1492.5 977.4,1491.9 977.7,1489.7 978,1490.7 978.4,1493.5 978.7,1493.2 979,1490.7 979.4,1493.9 979.7,1491.1 980,1491.7 980.3,1494.6 980.7,1497.2 981,1493.5 981.3,1491.5 981.7,1491.5 982,1488.5 982.3,1491.5 982.7,1491.7 983,1490.6 983.3,1492.6 983.6,1487.3 984,1492.9 984.3,1493.6 984.6,1492.7 985,1488.6 985.3,1492.9 985.6,1493.4 985.9,1490.1 986.3,1488.7 986.6,1492.6 986.9,1489.8 987.3,1493.1 987.6,1488.1 987.9,1494.2 988.3,1492.2 988.6,1492.6 988.9,1493.8 989.2,1491.8 989.6,1489.9 989.9,1493.6 990.2,1486.9 990.6,1491 990.9,1490.7 991.2,1493.5 991.5,1491.7 991.9,1489.4 992.2,1494.1 992.5,1493.3 992.9,1493.7 993.2,1494.9 993.5,1490 993.9,1493.6 994.2,1487.5 994.5,1494.7 994.8,1492.5 995.2,1491.5 995.5,1494.1 995.8,1497 996.2,1493.2 996.5,1491.7 996.8,1494 997.1,1490.9 997.5,1496.3 997.8,1490.8 998.1,1486.3 998.5,1489.1 998.8,1489.1 999.1,1492.5 999.5,1492.7 999.8,1488.7 1000.1,1492.5 1000.4,1490 1000.8,1493.9 1001.1,1488.3 1001.4,1484.2 1001.8,1483.7 1002.1,1468.9 1002.4,1455.6 1002.7,1442.2 1003.1,1427.4 1003.4,1407.4 1003.7,1393.4 1004.1,1376.2 1004.4,1349.4 1004.7,1323 1005.1,1310.7 1005.4,1280.6 1005.7,1265.7 1006,1249.8 1006.4,1225.9 1006.7,1205.4 1007,1175.7 1007.4,1162.9 1007.7,1149.8 1008,1131.2 1008.3,1111 1008.7,1108.3 1009,1103.3 1009.3,1090.5 1009.7,1093.4 1010,1083.9 1010.3,1081.7 1010.7,1089.7 1011,1098.9 1011.3,1103.6 1011.6,1122.5 1012,1117.9 1012.3,1128 1012.6,1156.8 1013,1185.3 1013.3,1197 1013.6,1220.8 1013.9,1243.7 1014.3,1257.1 1014.6,1279.3 1014.9,1303.5 1015.3,1318.4 1015.6,1344.5 1015.9,1369.4 1016.3,1384.3 1016.6,1409.1 1016.9,1423.4 1017.2,1440.9 1017.6,1451.4 1017.9,1465.3 1018.2,1476.3 1018.6,1481.6 1018.9,1486.4 1019.2,1490.2 1019.5,1488.3 1019.9,1494.7 1020.2,1490.4 1020.5,1486.5 1020.9,1491.6 1021.2,1498.4 1021.5,1488.6 1021.9,1492.2 1022.2,1489.6 1022.5,1490.7 1022.8,1489.7 1023.2,1487.7 1023.5,1491.2 1023.8,1489.1 1024.2,1495.8 1024.5,1494.5 1024.8,1492 1025.1,1486.4 1025.5,1494.3 1025.8,1492.7 1026.1,1489.4 1026.5,1493.4 1026.8,1496 1027.1,1498.2 1027.5,1488.9 1027.8,1495.5 1028.1,1490.4 1028.4,1489.8 1028.8,1495.1 1029.1,1490.1 1029.4,1499.1 1029.8,1492 1030.1,1495.3 1030.4,1490.8 1030.7,1490.9 1031,1491 1031.3,1489.4 1031.6,1493.9 1031.9,1496.9 1032.3,1496.1 1032.6,1488 1032.9,1495.4 1033.2,1492.9 1033.5,1490.3 1033.8,1492.2 1034.1,1495.3 1034.4,1499.6 1034.8,1488.1 1035.1,1493.8 1035.4,1497.8 1035.7,1494.1 1036,1491.4 1036.3,1499.1 1036.6,1490.8 1037,1491.2 1037.3,1489.2 1037.6,1490.7 1037.9,1494.4 1038.2,1496.6 1038.5,1490.5 1038.8,1491.4 1039.2,1482.8 1039.5,1489.7 1039.8,1486.3 1040.1,1487.3 1040.4,1494.2 1040.7,1483.4 1041,1487.8 1041.3,1491.4 1041.7,1483.1 1042,1479.1 1042.3,1484.2 1042.6,1484.4 1042.9,1485.4 1043.2,1483.9 1043.5,1476.8 1043.9,1480.7 1044.2,1478.8 1044.5,1477.6 1044.8,1492.6 1045.1,1478.6 1045.4,1476.5 1045.7,1477.7 1046.1,1485 1046.4,1481.6 1046.7,1474.9 1047,1475.9 1047.3,1475.6 1047.6,1482.7 1047.9,1476.2 1048.3,1470.9 1048.6,1477.3 1048.9,1471.4 1049.2,1473.7 1049.5,1474.1 1049.8,1481.3 1050.1,1481.4 1050.4,1481.8 1050.8,1473.6 1051.1,1473.5 1051.4,1484.7 1051.7,1486.3 1052,1480.1 1052.3,1474.9 1052.6,1480.3 1053,1479.1 1053.3,1480.4 1053.6,1480.4 1053.9,1484.4 1054.2,1482 1054.5,1481.6 1054.8,1486 1055.2,1477.9 1055.5,1491.7 1055.8,1488.9 1056.1,1491.7 1056.4,1482.9 1056.7,1483.3 1057,1492.6 1057.3,1489.1 1057.7,1492 1058,1496.8 1058.3,1494.5 1058.6,1489.2 1058.9,1488.3 1059.2,1494.9 1059.5,1491.5 1059.9,1487.5 1060.2,1484.9 1060.5,1490 1060.8,1495.7 1061.1,1499.5 1061.4,1491.4 1061.7,1493.2 1062.1,1494.6 1062.4,1495.1 1062.7,1494.5 1063,1490.9 1063.3,1488.3 1063.6,1495.8 1063.9,1482.4 1064.2,1484.6 1064.6,1492.9 1064.9,1490.1 1065.2,1484 1065.5,1496.3 1065.8,1494.8 1066.1,1494.8 1066.4,1496.8 1066.8,1488 1067.1,1492.8 1067.4,1491.2 1067.7,1491.2 1068,1492.7 1068.3,1483.9 1068.6,1492.5 1069,1496.1 1069.3,1498.8 1069.6,1495.2 1069.9,1490.7 1070.2,1490.8 1070.5,1490.2 1070.8,1493.8 1071.2,1489.4 1071.5,1489.3 1071.8,1497.9 1072.1,1489.6 1072.4,1489.5 1072.7,1493.1 1073,1485.9 1073.3,1491.3 1073.7,1495.6 1074,1486.6 1074.3,1482.2 1074.6,1497.7 1074.9,1492 1075.2,1486.9 1075.5,1488.4 1075.9,1486.2 1076.2,1484.6 1076.5,1501.2 1076.8,1487.9 1077.1,1500.3 1077.4,1496.7 1077.7,1497.5 1078.1,1489 1078.4,1500.6 1078.7,1491.1 1079,1499.8 1079.3,1480.8 1079.6,1494.5 1079.9,1491.7 1080.2,1498.1 1080.6,1494.8 1080.9,1484.4 1081.2,1490.3 1081.5,1498 1081.8,1494.4 1082.1,1492.5 1082.4,1481.9 1082.8,1492.3 1083.1,1489.2 1083.4,1485.8 1083.7,1478.3 1084,1488 1084.3,1497.6 1084.6,1497.2 1085,1482.1 1085.3,1489.3 1085.6,1502.5 1085.9,1494.5 1086.2,1494.2 1086.5,1493.6 1086.8,1488 1087.2,1487.8 1087.5,1484 1087.8,1502.4 1088.1,1489.9 1088.4,1492.8 1088.7,1497.7 1089,1486.8 1089.3,1499.3 1089.7,1499.6 1090,1482.3 1090.3,1489.3 1090.6,1486.9 1090.9,1484 1091.2,1499 1091.5,1483.6 1091.9,1491 1092.2,1488.5 1092.5,1486.9 1092.8,1487.8 1093.1,1493.8 1093.4,1491.7 1093.7,1490.6 1094.1,1485.3 1094.4,1504.6 1094.7,1483.2 1095,1497.1 1095.3,1478.6 1095.6,1488.7 1095.9,1481.1 1096.2,1492.9 1096.6,1481.2 1096.9,1489 1097.2,1489 1097.5,1488.8 1097.8,1506.5 1098.1,1500.5 1098.4,1501.3 1098.8,1491 1099.1,1492.9 1099.4,1486.5 1099.7,1489.4 1100,1484 1100.3,1495.8 1100.6,1489.4 1101,1494.6 1101.3,1498.7 1101.6,1502.4 1101.9,1492.2 1102.2,1497.3 1102.5,1494.9 1102.8,1497.5 1103.1,1498.4 1103.5,1474.1 1103.8,1491.4 1104.1,1499.8 1104.4,1492.9 1104.7,1491.5 1105,1500.8 1105.3,1485 1105.7,1497.5 1106,1488.4 1106.3,1494.6 1106.6,1496.8 1106.9,1471.4 1107.2,1495.6 1107.5,1501.4 1107.9,1495.1 1108.2,1498.1 1108.5,1484.9 1108.8,1489.1 1109.1,1499.4 1109.4,1480.6 1109.7,1493.3 1110.1,1500.3 1110.4,1484.8 1110.7,1487.6 1111,1498.4 1111.3,1499.2 1111.6,1492.9 1111.9,1496.2 1112.2,1488.3 1112.6,1490 1112.9,1499.6 1113.2,1499 1113.5,1493.5 1113.8,1483.4 1114.1,1496.1 1114.4,1488 1114.8,1496.1 1115.1,1489 1115.4,1495.7 1115.7,1489.1 1116,1497.8 1116.3,1496.9 1116.6,1479.1 1117,1485.8 1117.3,1500.3 1117.6,1484.1 1117.9,1493.1 1118.2,1482.9 1118.5,1500.9 1118.8,1492.7 1119.1,1494.9 1119.5,1496.7 1119.8,1499.8 1120.1,1478.9 1120.4,1492 1120.7,1494.1 1121,1503.2 1121.3,1484.4 1121.7,1484.3 1122,1493.1 1122.3,1501.3 1122.6,1488 1122.9,1491.9 1123.2,1501.9 1123.5,1477.6 1123.9,1486.9 1124.2,1498.7 1124.5,1497.5 1124.8,1486.5 1125.1,1483.7 1125.4,1487.8 1125.7,1488.2 1126.1,1494.4 1126.4,1477.4 1126.7,1493.6 1127,1490.1 1127.3,1489 1127.6,1493.6 1127.9,1486.2 1128.2,1480.8 1128.6,1507.1 1128.9,1493.1 1129.2,1482.8 1129.5,1481.7 1129.8,1494.8 1130.1,1486.8 1130.4,1490.2 1130.8,1490.5 1131.1,1496 1131.4,1484.4 1131.7,1483 1132,1480.2 1132.3,1489.6 1132.6,1490.5 1133,1483.4 1133.3,1467.8 1133.6,1493.1 1133.9,1492 1134.2,1478.8 1134.5,1499.5 1134.8,1509.5 1135.1,1484.3 1135.5,1481.3 1135.8,1481.8 1136.1,1484.1 1136.4,1483.4 1136.7,1496.3 1137,1483.7 1137.3,1498.5 1137.7,1502.6 1138,1492.9 1138.3,1500.7 1138.6,1499.3 1138.9,1496.1 1139.2,1494.4 1139.5,1490.3 1139.9,1498.8 1140.2,1495.8 1140.5,1492.5 1140.8,1490.3 1141.1,1487.9 1141.4,1485.8 1141.7,1489.7 1142,1488.1 1142.4,1486.5 1142.7,1491.5 1143,1490.1 1143.3,1498.2 1143.6,1489.7 1143.9,1484.1 1144.2,1496.3 1144.6,1481.6 1144.9,1495.2 1145.2,1483.4 1145.5,1478.9 1145.8,1489.7 1146.1,1494.3 1146.4,1488 1146.8,1494.4 1147.1,1498.2 1147.4,1483.6 1147.7,1505.8 1148,1484.6 1148.3,1497.3 1148.6,1484.4 1149,1495.2 1149.3,1477.7 1149.6,1495.2 1149.9,1508.3 1150.2,1469.4 1150.5,1491.2 1150.8,1492.4 1151.1,1491.5 1151.5,1493.9 1151.8,1489.2 1152.1,1497.2 1152.4,1475 1152.7,1496.7 1153,1486.6 1153.3,1481.4 1153.7,1493.1 1154,1484.9 1154.3,1495.6 1154.6,1499 1154.9,1497.5 1155.2,1483.3 1155.5,1483.6 1155.9,1498.3 1156.2,1483.8 1156.5,1498.3 1156.8,1490.1 1157.1,1486.2 1157.4,1507 1157.7,1486.8 1158,1493.8 1158.4,1502.7 1158.7,1486.4 1159,1489.4 1159.3,1488.9 1159.6,1493.7 1159.9,1496.7 1160.2,1501.5 1160.6,1493.4 1160.9,1499.6 1161.2,1495 1161.5,1488.6 1161.8,1485.6 1162.1,1488.5 1162.4,1489.5 1162.8,1493.7 1163.1,1484.5 1163.4,1482.8 1163.7,1495.4 1164,1495 1164.3,1499.1 1164.6,1493.9 1165,1495 1165.3,1476.9 1165.6,1481.4 1165.9,1501.9 1166.2,1485.8 1166.5,1493.5 1166.8,1504.8 1167.1,1489.8 1167.5,1496.8 1167.8,1489.4 1168.1,1487.8 1168.4,1496.6 1168.7,1480.4 1169,1490.7 1169.3,1497.6 1169.7,1504 1170,1474.9 1170.3,1497.7 1170.6,1491.2 1170.9,1489.6 1171.2,1485 1171.5,1501.9 1171.9,1510.1 1172.2,1490.9 1172.5,1503 1172.8,1493.9 1173.1,1476.1 1173.4,1495.8 1173.7,1485.5 1174,1498.2 1174.4,1466 1174.7,1490.3 1175,1482.9 1175.3,1485.3 1175.6,1487.1 1175.9,1472.4 1176.2,1480.4 1176.6,1483.6 1176.9,1478.7 1177.2,1474.9 1177.5,1469.9 1177.8,1467.7 1178.1,1473.3 1178.4,1469.3 1178.8,1447.7 1179.1,1464.6 1179.4,1450.7 1179.7,1463.6 1180,1456 1180.3,1462.4 1180.6,1471.8 1180.9,1459.3 1181.3,1446.8 1181.6,1442.6 1181.9,1443 1182.2,1454.9 1182.5,1452.3 1182.8,1458.1 1183.1,1446.3 1183.5,1441.6 1183.8,1446 1184.1,1453.7 1184.4,1444.6 1184.7,1447.3 1185,1444.6 1185.3,1450.4 1185.7,1448.1 1186,1456.2 1186.3,1458.1 1186.6,1472.6 1186.9,1452 1187.2,1453.6 1187.5,1463.8 1187.9,1445.4 1188.2,1449.2 1188.5,1446.6 1188.8,1462.4 1189.1,1465.1 1189.4,1462.3 1189.7,1459.5 1190,1457.1 1190.4,1478.4 1190.7,1474.5 1191,1491.1 1191.3,1479.6 1191.6,1472.7 1191.9,1476.5 1192.2,1465.7 1192.6,1480.3 1192.9,1490.4 1193.2,1494.4 1193.5,1487.8 1193.8,1478.1 1194.1,1501 1194.4,1499.1 1194.8,1491.3 1195.1,1494.5 1195.4,1485.1 1195.7,1495.5 1196,1491.6 1196.3,1492 1196.6,1490.3 1196.9,1481.5 1197.3,1501.8 1197.6,1505.1 1197.9,1503.3 1198.2,1494.2 1198.5,1491.1 1198.8,1487.9 1199.1,1489.6 1199.5,1491 1199.8,1505.5 1200.1,1497 1200.4,1488.7 1200.7,1501.4 1201,1495.6 1201.3,1495.3 1201.7,1488.2 1202,1498.7 1202.3,1504.7 1202.6,1494.8 1202.9,1494.2 1203.2,1485.6 1203.5,1496.6 1203.8,1493.7 1204.2,1495.9 1204.5,1495.6 1204.8,1476.2 1205.1,1511.3 1205.4,1487.5 1205.7,1498 1206,1491.4 1206.4,1503.7 1206.7,1490.5 1207,1498.2 1207.3,1487.7 1207.6,1481.6 1207.9,1501.5 1208.2,1504.2 1208.6,1483.2 1208.9,1477.1 1209.2,1491.9 1209.5,1507.8 1209.8,1503.9 1210.1,1484.7 1210.4,1478.6 1210.8,1492.9 1211.1,1502.3 1211.4,1483.2 1211.7,1502.4 1212,1497.2 1212.3,1496.8 1212.6,1496.9 1212.9,1487.8 1213.3,1499.4 1213.6,1490.8 1213.9,1483.7 1214.2,1483.6 1214.5,1481.7 1214.8,1494.8 1215.1,1505 1215.5,1490.5 1215.8,1490.2 1216.1,1489.7 1216.4,1494.9 1216.7,1488.5 1217,1499.8 1217.3,1485.7 1217.7,1478.4 1218,1490.9 1218.3,1491.5 1218.6,1487 1218.9,1487.7 1219.2,1487.5 1219.5,1490.3 1219.8,1494 1220.2,1479.8 1220.5,1501 1220.8,1483.3 1221.1,1498.4 1221.4,1488.2 1221.7,1499.1 1222,1503.7 1222.4,1499.8 1222.7,1499.2 1223,1481.5 1223.3,1496.2 1223.6,1496.7 1223.9,1498.6 1224.2,1491.1 1224.6,1490.7 1224.9,1485.8 1225.2,1495 1225.5,1498.4 1225.8,1489.1 1226.1,1481.4 1226.4,1481.8 1226.8,1494.4 1227.1,1490 1227.4,1482.9 1227.7,1489.2 1228,1494.7 1228.3,1481.7 1228.6,1485.1 1228.9,1479.3 1229.3,1474.2 1229.6,1483.7 1229.9,1487.8 1230.2,1484.1 1230.5,1471.4 1230.8,1475.8 1231.1,1469.4 1231.5,1476.3 1231.8,1465.5 1232.1,1472 1232.4,1469.8 1232.7,1460.9 1233,1457.5 1233.3,1453.7 1233.7,1446.4 1234,1434.1 1234.3,1442 1234.6,1445.6 1234.9,1423 1235.2,1406.1 1235.5,1408.3 1235.8,1422.6 1236.2,1405.2 1236.5,1396.5 1236.8,1395.6 1237.1,1385.8 1237.4,1392.6 1237.7,1422.2 1238,1394.1 1238.4,1406.1 1238.7,1408.7 1239,1417.3 1239.3,1416.4 1239.6,1412 1239.9,1403.7 1240.2,1407.5 1240.6,1416 1240.9,1416.2 1241.2,1434.6 1241.5,1443.3 1241.8,1426.4 1242.1,1443.1 1242.4,1454.5 1242.7,1450.5 1243.1,1466.7 1243.4,1452.3 1243.7,1478.4 1244,1475.4 1244.3,1475 1244.6,1476.8 1244.9,1486.2 1245.3,1470.6 1245.6,1473.3 1245.9,1478.5 1246.2,1475.3 1246.5,1484.2 1246.8,1473.9 1247.1,1486.6 1247.5,1491.2 1247.8,1485.1 1248.1,1486 1248.4,1482.5 1248.7,1480.7 1249,1473.6 1249.3,1497.5 1249.7,1500.1 1250,1486.2 1250.3,1478.9 1250.6,1481.5 1250.9,1490.6 1251.2,1492 1251.5,1492.7 1251.8,1477.3 1252.2,1492.6 1252.5,1488.8 1252.8,1500.7 1253.1,1484.4 1253.4,1492.5 1253.7,1493.5 1254,1493.7 1254.4,1492.5 1254.7,1470.8 1255,1486.8 1255.3,1486.4 1255.6,1497.2 1255.9,1502.2 1256.2,1507.8 1256.6,1495.9 1256.9,1490.1 1257.2,1489.6 1257.5,1502.5 1257.8,1486.4 1258.1,1495.6 1258.4,1482.8 1258.7,1493.3 1259.1,1491 1259.4,1496.9 1259.7,1496.6 1260,1491.1 1260.3,1487 1260.6,1485.9 1260.9,1496.7 1261.3,1500.8 1261.6,1488.1 1261.9,1481.6 1262.2,1495 1262.5,1494.5 1262.8,1494.7 1263.1,1488.8 1263.5,1484 1263.8,1498.4 1264.1,1488 1264.4,1480.4 1264.7,1486.7 1265,1497.1 1265.3,1502.2 1265.7,1491 1266,1481 1266.3,1485.2 1266.6,1480.3 1266.9,1493.9 1267.2,1490.7 1267.5,1497.3 1267.8,1487 1268.2,1492.6 1268.5,1497.1 1268.8,1494 1269.1,1486.8 1269.4,1484.4 1269.7,1485.2 1270,1473.4 1270.4,1485.3 1270.7,1498 1271,1482.8 1271.3,1497.4 1271.6,1499.3 1271.9,1485.5 1272.2,1495.4 1272.6,1490.9 1272.9,1494.7 1273.2,1492.3 1273.5,1504 1273.8,1484.1 1274.1,1481.7 1274.4,1492.7 1274.7,1481.5 1275.1,1484.4 1275.4,1481.8 1275.7,1479.7 1276,1500.1 1276.3,1484.7 1276.6,1491.9 1276.9,1485.1 1277.3,1492.8 1277.6,1475.2 1277.9,1478.2 1278.2,1490.8 1278.5,1487.4 1278.8,1489 1279.1,1488.8 1279.5,1483.7 1279.8,1498 1280.1,1501.4 1280.4,1482.2 1280.7,1488.1 1281,1494.1 1281.3,1495.8 1281.6,1501.9 1282,1492.8 1282.3,1503.8 1282.6,1489.7 1282.9,1488.6 1283.2,1495.8 1283.5,1483.1 1283.8,1485.1 1284.2,1489.4 1284.5,1496.5 1284.8,1495.9 1285.1,1498.1 1285.4,1505.8 1285.7,1491 1286,1485.5 1286.4,1502.6 1286.7,1488.4 1287,1493 1287.3,1490.3 1287.6,1485.7 1287.9,1484.2 1288.2,1496.4 1288.6,1485.6 1288.9,1494.4 1289.2,1510.7 1289.5,1475.8 1289.8,1491 1290.1,1493.7 1290.4,1481.1 1290.7,1487.7 1291.1,1495 1291.4,1488.3 1291.7,1486.3 1292,1488.9 1292.3,1503.9 1292.6,1482.7 1292.9,1489 1293.3,1487.5 1293.6,1476.7 1293.9,1457.9 1294.2,1481.3 1294.5,1467 1294.8,1478.3 1295.1,1476.9 1295.5,1464.7 1295.8,1452.3 1296.1,1455.2 1296.4,1453.3 1296.7,1444.2 1297,1448.6 1297.3,1456 1297.6,1458.2 1298,1452.5 1298.3,1447.2 1298.6,1452.7 1298.9,1452.5 1299.2,1455.9 1299.5,1458.9 1299.8,1463.4 1300.2,1461.1 1300.5,1440.4 1300.8,1444.4 1301.1,1439.2 1301.4,1445.3 1301.7,1442.2 1302,1428.5 1302.4,1431 1302.7,1410.6 1303,1410.2 1303.3,1395.3 1303.6,1398.5 1303.9,1366.3 1304.2,1369.4 1304.5,1354.8 1304.9,1356.6 1305.2,1345.9 1305.5,1323.6 1305.8,1335.2 1306.1,1300.4 1306.4,1309.2 1306.7,1288.2 1307.1,1297.7 1307.4,1288.1 1307.7,1284.3 1308,1275.5 1308.3,1292.3 1308.6,1280.9 1308.9,1284.9 1309.3,1281.8 1309.6,1297.8 1309.9,1290.9 1310.2,1298.3 1310.5,1295.3 1310.8,1281.9 1311.1,1280.7 1311.5,1299.8 1311.8,1292 1312.1,1290.4 1312.4,1297.5 1312.7,1291.3 1313,1296.4 1313.3,1280.2 1313.6,1293 1314,1269.8 1314.3,1300.1 1314.6,1275.6 1314.9,1274.3 1315.2,1285.3 1315.5,1294.6 1315.8,1276.7 1316.2,1289.6 1316.5,1268.2 1316.8,1279 1317.1,1283.5 1317.4,1287.3 1317.7,1287.8 1318,1302.8 1318.4,1306.9 1318.7,1318.9 1319,1338.1 1319.3,1335.9 1319.6,1344.5 1319.9,1362 1320.2,1383.8 1320.5,1392.6 1320.9,1420.2 1321.2,1430.8 1321.5,1443.4 1321.8,1452.2 1322.1,1451.4 1322.4,1473.5 1322.7,1479.9 1323.1,1493 1323.4,1491.7 1323.7,1502.4 1324,1484.7 1324.3,1492.8 1324.6,1484.6 1324.9,1481.3 1325.3,1488.1 1325.6,1489.1 1325.9,1490.6 1326.2,1494.9 1326.5,1508.1 1326.8,1490.3 1327.1,1496.9 1327.5,1499.2 1327.8,1496 1328.1,1491.8 1328.4,1486.4 1328.7,1499.1 1329,1501.2 1329.3,1483.5 1329.6,1487.5 1330,1485.6 1330.3,1493.7 1330.6,1502.1 1330.9,1481.6 1331.2,1482.2 1331.5,1496.2 1331.8,1488.5 1332.2,1483.4 1332.5,1472.8 1332.8,1482.5 1333.1,1487.4 1333.4,1493.2 1333.7,1495 1334,1492 1334.4,1496.5 1334.7,1486.7 1335,1490.4 1335.3,1493.2 1335.6,1499.1 1335.9,1490.6 1336.2,1493.9 1336.5,1488.5 1336.9,1498.5 1337.2,1486.3 1337.5,1492.3 1337.8,1476.9 1338.1,1497.1 1338.4,1476.4 1338.7,1469.3 1339.1,1491.5 1339.4,1475.7 1339.7,1482.5 1340,1500.3 1340.3,1495.3 1340.6,1483.3 1340.9,1488.6 1341.3,1484.3 1341.6,1487.7 1341.9,1479.8 1342.2,1492.7 1342.5,1498.9 1342.8,1495.9 1343.1,1491.1 1343.4,1497.7 1343.8,1491.1 1344.1,1492.5 1344.4,1493.3 1344.7,1491.2 1345,1493.8 1345.3,1483.4 1345.6,1490.1 1346,1485.1 1346.3,1501.8 1346.6,1490.7 1346.9,1494.5 1347.2,1505.7 1347.5,1475.5 1347.8,1500.9 1348.2,1484.7 1348.5,1485.2 1348.8,1482.2 1349.1,1494.3 1349.4,1510.3 1349.7,1486.1 1350,1491.7 1350.4,1485.9 1350.7,1492.1 1351,1481.1 1351.3,1486.9 1351.6,1493.5 1351.9,1472.6 1352.2,1495.3 1352.5,1507.4 1352.9,1489.9 1353.2,1487.2 1353.5,1486.5 1353.8,1494.9 1354.1,1490.9 1354.4,1497.2 1354.7,1493.9 1355.1,1485.7 1355.4,1494.7 1355.7,1485.3 1356,1492.6 1356.3,1490.1 1356.6,1493.2 1356.9,1482.1 1357.3,1489.9 1357.6,1496.7 1357.9,1489.9 1358.2,1481.8 1358.5,1488.8 1358.8,1498.8 1359.1,1496.6 1359.4,1498.7 1359.8,1480.6 1360.1,1489.5 1360.4,1484.3 1360.7,1484.7 1361,1493.4 1361.3,1482.6 1361.6,1491.8 1362,1488.5 1362.3,1506.3 1362.6,1491.8 1362.9,1494.2 1363.2,1497 1363.5,1489.6 1363.8,1500.8 1364.2,1493.3 1364.5,1510.7 1364.8,1493 1365.1,1496.6 1365.4,1478.2 1365.7,1490 1366,1486.9 1366.4,1513.7 1366.7,1494.7 1367,1500.3 1367.3,1481.5 1367.6,1484.1 1367.9,1490.6 1368.2,1490.2 1368.5,1490.7 1368.9,1491.9 1369.2,1486.6 1369.5,1487 1369.8,1492.7 1370.1,1497.1 1370.4,1479.2 1370.7,1494.8 1371.1,1497 1371.4,1473.8 1371.7,1490.7 1372,1492.6 1372.3,1501.7 1372.6,1499.3 1372.9,1480.9 1373.3,1493.8 1373.6,1482.5 1373.9,1499.5 1374.2,1485 1374.5,1490 1374.8,1494.2 1375.1,1504.5 1375.4,1480.8 1375.8,1489.9 1376.1,1491.1 1376.4,1484.1 1376.7,1498.5 1377,1480 1377.3,1484.6 1377.6,1486.5 1378,1486.1 1378.3,1495.7 1378.6,1491.9 1378.9,1487.2 1379.2,1494.5 1379.5,1480.3 1379.8,1484.3 1380.2,1480 1380.5,1502.1 1380.8,1478.8 1381.1,1494.3 1381.4,1496.4 1381.7,1492.8 1382,1479.8 1382.3,1487.1 1382.7,1487.5 1383,1482.7 1383.3,1482.3 1383.6,1481.8 1383.9,1483.4 1384.2,1488.2 1384.5,1486.6 1384.9,1501 1385.2,1491.8 1385.5,1507.4 1385.8,1491.4 1386.1,1489.9 1386.4,1496.4 1386.7,1494.7 1387.1,1482.7 1387.4,1493.4 1387.7,1490.6 1388,1476.3 1388.3,1488.3 1388.6,1483.8 1388.9,1487.4 1389.3,1486.5 1389.6,1482.2 1389.9,1492.5 1390.2,1485.2 1390.5,1494.6 1390.8,1494 1391.1,1486.2 1391.4,1495.6 1391.8,1510.9 1392.1,1492.8 1392.4,1481.2 1392.7,1498.7 1393,1486.6 1393.3,1493.9 1393.6,1502.7 1394,1493.6 1394.3,1508.6 1394.6,1482.2 1394.9,1494.2 1395.2,1488.4 1395.5,1491.4 1395.8,1502.6 1396.2,1494.4 1396.5,1482.4 1396.8,1485.3 1397.1,1494.3 1397.4,1496.9 1397.7,1492 1398,1501.3 1398.3,1489.6 1398.7,1503.9 1399,1497.2 1399.3,1485.1 1399.6,1491.5 1399.9,1496.5 1400.2,1490.4 1400.5,1493.5 1400.9,1489.6 1401.2,1483.3 1401.5,1492.3 1401.8,1504.4 1402.1,1488.3 1402.4,1497.6 1402.7,1482.8 1403.1,1484.1 1403.4,1491.6 1403.7,1488 1404,1502.6 1404.3,1504.7 1404.6,1494.1 1404.9,1488.9 1405.3,1481.2 1405.6,1496.6 1405.9,1498.5 1406.2,1497.9 1406.5,1497.1 1406.8,1490.1 1407.1,1502.3 1407.4,1485.7 1407.8,1501.4 1408.1,1474.4 1408.4,1492.5 1408.7,1490.8 1409,1504 1409.3,1489.3 1409.6,1505.9 1410,1485.1 1410.3,1496.3 1410.6,1489.6 1410.9,1487.6 1411.2,1484.4 1411.5,1481.3 1411.8,1482.9 1412.2,1485.8 1412.5,1496.1 1412.8,1500.1 1413.1,1485.8 1413.4,1489 1413.7,1495.4 1414,1491.9 1414.3,1484.3 1414.7,1484.6 1415,1496 1415.3,1501.4 1415.6,1506 1415.9,1494.9 1416.2,1493.8 1416.5,1501.5 1416.9,1483.4 1417.2,1477.1 1417.5,1497.2 1417.8,1485.8 1418.1,1492.3 1418.4,1487.1 1418.7,1490.1 1419.1,1492 1419.4,1484.3 1419.7,1486.1 1420,1494.5 1420.3,1487.7 1420.6,1495.9 1420.9,1491.7 1421.2,1486.8 1421.6,1487.8 1421.9,1503.1 1422.2,1486.9 1422.5,1500.4 1422.8,1489.7 1423.1,1485.8 1423.4,1500.9 1423.8,1494.5 1424.1,1475.4 1424.4,1472.9 1424.7,1483.7 1425,1451 1425.3,1453 1425.6,1445.9 1426,1421.8 1426.3,1415.4 1426.6,1395.3 1426.9,1378.2 1427.2,1343.8 1427.5,1340.3 1427.8,1329.6 1428.2,1314.4 1428.5,1295.6 1428.8,1277.9 1429.1,1272.2 1429.4,1246 1429.7,1242.5 1430,1227.3 1430.3,1209.5 1430.7,1186.4 1431,1177.2 1431.3,1205.5 1431.6,1155 1431.9,1159.7 1432.2,1154 1432.5,1135.8 1432.9,1155.8 1433.2,1158.4 1433.5,1168.8 1433.8,1162.9 1434.1,1146.4 1434.4,1168.6 1434.7,1177.9 1435.1,1171.9 1435.4,1195.7 1435.7,1204.1 1436,1216.7 1436.3,1218.1 1436.6,1242.8 1436.9,1255.8 1437.2,1268.3 1437.6,1299.6 1437.9,1301.3 1438.2,1331.8 1438.5,1342.8 1438.8,1352.9 1439.1,1364 1439.4,1382.9 1439.8,1387.2 1440.1,1409.6 1440.4,1419.6 1440.7,1440.7 1441,1453.6 1441.3,1445.8 1441.6,1480.8 1442,1466.7 1442.3,1487.8 1442.6,1481.7 1442.9,1499.7 1443.2,1487.8 1443.5,1489.3 1443.8,1507.7 1444.1,1496.6 1444.5,1486.9 1444.8,1484 1445.1,1489.5 1445.4,1496 1445.7,1492.1 1446,1501.6 1446.3,1499.3 1446.7,1490 1447,1491.8 1447.3,1486.4 1447.6,1490.4 1447.9,1487.3 1448.2,1492.5 1448.5,1487.1 1448.9,1473.1 1449.2,1499.1 1449.5,1490.6 1449.8,1495.2 1450.1,1487.9 1450.4,1488.1 1450.7,1497.7 1451.1,1490.4 1451.4,1490 1451.7,1492.4 1452,1489.1 1452.3,1481 1452.6,1486.9 1452.9,1493.4 1453.2,1489.6 1453.6,1476.3 1453.9,1496.1 1454.2,1482.9 1454.5,1496.5 1454.8,1503.5 1455.1,1496.6 1455.4,1488.8 1455.8,1493.2 1456.1,1496.7 1456.4,1497.4 1456.7,1498.7 1457,1499.5 1457.3,1496 1457.6,1510.3 1458,1488.2 1458.3,1489.3 1458.6,1490.7 1458.9,1484.6 1459.2,1496 1459.5,1491.5 1459.8,1511.2 1460.1,1490.1 1460.5,1494.5 1460.8,1486.9 1461.1,1485.1 1461.4,1492.9 1461.7,1501.1 1462,1489 1462.3,1485.1 1462.7,1484.6 1463,1495.5 1463.3,1498.6 1463.6,1493.6 1463.9,1499.5 1464.2,1508 1464.5,1488.8 1464.9,1488.3 1465.2,1486.6 1465.5,1498.2 1465.8,1491.9 1466.1,1500.9 1466.4,1503 1466.7,1488.1 1467.1,1505.6 1467.4,1494.3 1467.7,1473.7 1468,1482.4 1468.3,1486.5 1468.6,1487 1468.9,1493.2 1469.2,1496.2 1469.6,1476.2 1469.9,1493.1 1470.2,1496.2 1470.5,1486.5 1470.8,1492.1 1471.1,1481.6 1471.4,1496.5 1471.8,1497.9 1472.1,1494.7 1472.4,1479.2 1472.7,1484.3 1473,1489.5 1473.3,1490.8 1473.6,1488.8 1474,1499 1474.3,1487.5 1474.6,1495.3 1474.9,1489.6 1475.2,1491.3 1475.5,1489.1 1475.8,1495 1476.1,1484 1476.5,1488.6 1476.8,1497.4 1477.1,1488 1477.4,1494 1477.7,1488.4 1478,1484.8 1478.3,1495.2 1478.7,1491.6 1479,1490.8 1479.3,1491.1 1479.6,1475.5 1479.9,1488.6 1480.2,1500.2 1480.5,1490.5 1480.9,1495.6 1481.2,1472.3 1481.5,1496.3 1481.8,1500 1482.1,1485.6 1482.4,1495.4 1482.7,1494.3 1483,1493.1 1483.4,1496.6 1483.7,1494.5 1484,1508.5 1484.3,1492.1 1484.6,1486.2 1484.9,1476.6 1485.2,1490.7 1485.6,1484.7 1485.9,1496.9 1486.2,1479.7 1486.5,1473.5 1486.8,1488.5 1487.1,1493.8 1487.4,1490.7 1487.8,1478.9 1488.1,1500.9 1488.4,1481 1488.7,1498.9 1489,1497.6 1489.3,1489 1489.6,1486 1490,1483.4 1490.3,1479.8 1490.6,1500 1490.9,1490.5 1491.2,1485 1491.5,1488.9 1491.8,1482.1 1492.1,1490.7 1492.5,1493.4 1492.8,1508.8 1493.1,1506 1493.4,1484.8 1493.7,1500.2 1494,1488.6 1494.3,1485.9 1494.7,1492 1495,1483 1495.3,1496.2 1495.6,1486.4 1495.9,1492.1 1496.2,1502.9 1496.5,1507.1 1496.9,1492.6 1497.2,1478.1 1497.5,1481.8 1497.8,1487.3 1498.1,1484.7 1498.4,1483.9 1498.7,1493.1 1499,1480.6 1499.4,1489 1499.7,1495.2 1500,1460.1 1500.3,1485.7 1500.6,1492.1 1500.9,1484.9 1501.2,1500.9 1501.6,1501 1501.9,1475.6 1502.2,1486.1 1502.5,1499.8 1502.8,1504.3 1503.1,1492 1503.4,1499.6 1503.8,1480.5 1504.1,1506.8 1504.4,1481.3 1504.7,1499.6 1505,1501.5 1505.3,1491 1505.6,1501.7 1506,1496.1 1506.3,1495.9 1506.6,1511.2 1506.9,1501.1 1507.2,1488.6 1507.5,1508.4 1507.8,1502.6 1508.1,1499 1508.5,1483.9 1508.8,1483.9 1509.1,1479.2 1509.4,1499.4 1509.7,1484.8 1510,1489.5 1510.3,1502.2 1510.7,1487.2 1511,1491.6 1511.3,1497 1511.6,1500.5 1511.9,1504.9 1512.2,1487.4 1512.5,1487.8 1512.9,1493.9 1513.2,1494.7 1513.5,1496.5 1513.8,1485.2 1514.1,1489.9 1514.4,1506.3 1514.7,1490.8 1515,1487.6 1515.4,1496.5 1515.7,1495.5 1516,1496.4 1516.3,1486.2 1516.6,1494.9 1516.9,1491.8 1517.2,1490.8 1517.6,1478.6 1517.9,1504.1 1518.2,1472 1518.5,1501.6 1518.8,1493.3 1519.1,1498.3 1519.4,1490.4 1519.8,1486.9 1520.1,1471.9 1520.4,1481.5 1520.7,1497.2 1521,1489.6 1521.3,1490.5 1521.6,1497.1 1521.9,1486.5 1522.3,1489.2 1522.6,1495.2 1522.9,1497.3 1523.2,1485.5 1523.5,1492.4 1523.8,1481.4 1524.1,1484.1 1524.5,1501.7 1524.8,1509.2 1525.1,1491.1 1525.4,1497.2 1525.7,1500.2 1526,1497.6 1526.3,1479.2 1526.7,1493.3 1527,1475.3 1527.3,1484.8 1527.6,1506.2 1527.9,1487.6 1528.2,1478.7 1528.5,1506.6 1528.9,1502.2 1529.2,1492.3 1529.5,1496.1 1529.8,1477 1530.1,1498.7 1530.4,1476.8 1530.7,1503.4 1531,1498.7 1531.4,1488.5 1531.7,1486.9 1532,1490.1 1532.3,1477.6 1532.6,1475.8 1532.9,1474.4 1533.2,1492.1 1533.6,1483.8 1533.9,1493.6 1534.2,1479 1534.5,1511.2 1534.8,1496.9 1535.1,1493.1 1535.4,1495.5 1535.8,1477.5 1536.1,1503.2 1536.4,1497.9 1536.7,1500.6 1537,1489.6 1537.3,1495.9 1537.6,1478.3 1537.9,1476.9 1538.3,1501 1538.6,1498.9 1538.9,1470.6 1539.2,1471.8 1539.5,1486.5 1539.8,1470 1540.1,1477.8 1540.5,1456.8 1540.8,1472.9 1541.1,1463.8 1541.4,1451.4 1541.7,1452.6 1542,1441.2 1542.3,1444.7 1542.7,1460.2 1543,1442.7 1543.3,1453.7 1543.6,1429.2 1543.9,1427.1 1544.2,1430.7 1544.5,1420.8 1544.9,1433.6 1545.2,1427.7 1545.5,1432.9 1545.8,1433.9 1546.1,1434.7 1546.4,1440.7 1546.7,1427.7 1547,1455.1 1547.4,1460.6 1547.7,1454.4 1548,1434.2 1548.3,1452.4 1548.6,1458.7 1548.9,1460.4 1549.2,1450 1549.6,1456.1 1549.9,1446.2 1550.2,1461.4 1550.5,1451.6 1550.8,1469 1551.1,1457.2 1551.4,1434.8 1551.8,1463.5 1552.1,1461.6 1552.4,1449.7 1552.7,1464.9 1553,1456.8 1553.3,1453.8 1553.6,1442.3 1553.9,1453 1554.3,1422.7 1554.6,1430.2 1554.9,1425.2 1555.2,1424 1555.5,1418.5 1555.8,1435.9 1556.1,1397.8 1556.5,1414.6 1556.8,1394.9 1557.1,1401.1 1557.4,1398.9 1557.7,1389.8 1558,1376.4 1558.3,1392.1 1558.7,1395.8 1559,1385.2 1559.3,1413.7 1559.6,1398.5 1559.9,1400.7 1560.2,1396 1560.5,1407.7 1560.8,1388.8 1561.2,1403.1 1561.5,1402.4 1561.8,1407.7 1562.1,1415.4 1562.4,1423.6 1562.7,1410.3 1563,1420.2 1563.4,1419.6 1563.7,1440.9 1564,1442.7 1564.3,1447.7 1564.6,1459.7 1564.9,1462 1565.2,1481.3 1565.6,1482.2 1565.9,1484 1566.2,1489.9 1566.5,1479.2 1566.8,1483.1 1567.1,1484.9 1567.4,1492.3 1567.8,1482.9 1568.1,1484 1568.4,1486.9 1568.7,1493.5 1569,1477.2 1569.3,1501.3 1569.6,1506.2 1569.9,1501.3 1570.3,1482.8 1570.6,1490.4 1570.9,1496.7 1571.2,1509.3 1571.5,1494.2 1571.8,1500.7 1572.1,1509.5 1572.5,1483.4 1572.8,1492.4 1573.1,1478.3 1573.4,1492.1 1573.7,1485.7 1574,1496.9 1574.3,1487.8 1574.7,1493.2 1575,1484.8 1575.3,1489.7 1575.6,1499.8 1575.9,1491.9 1576.2,1489.6 1576.5,1495.1 1576.8,1493.6 1577.2,1483.2 1577.5,1483.8 1577.8,1491.3 1578.1,1510.8 1578.4,1482.7 1578.7,1474.8 1579,1492.1 1579.3,1500.5 1579.5,1487.7 1579.7,1487.8 1579.9,1484 1580.1,1497 1580.3,1475.3 1580.5,1486.2 1580.7,1501.7 1581,1485.1 1581.2,1494.8 1581.4,1489.3 1581.6,1492.3 1581.8,1494.3 1582,1485.3 1582.2,1496.5 1582.4,1499.3 1582.6,1495.6 1582.9,1489.2 1583.1,1485.5 1583.3,1489.1 1583.5,1501.1 1583.7,1485.8 1583.9,1493.6 1584.1,1483.3 1584.3,1489 1584.5,1487.1 1584.8,1484.9 1585,1502.8 1585.2,1479.7 1585.4,1477.1 1585.6,1485.6 1585.8,1491.8 1586,1482.5 1586.2,1494.5 1586.5,1479.7 1586.7,1496.5 1586.9,1501 1587.1,1493 1587.3,1498.1 1587.5,1489.8 1587.7,1491.1 1587.9,1484.9 1588.1,1497.6 1588.4,1479 1588.6,1489.9 1588.8,1485.8 1589,1476 1589.2,1485.7 1589.4,1498.8 1589.6,1492.6 1589.8,1484.6 1590.1,1484.2 1590.3,1497.2 1590.5,1485.5 1590.7,1497.7 1590.9,1507.7 1591.1,1499.6 1591.3,1506 1591.5,1486.8 1591.7,1492.1 1592,1495.1 1592.2,1500.3 1592.4,1494.5 1592.6,1489.6 1592.8,1504.5 1593,1489.1 1593.2,1484.2 1593.4,1488.1 1593.7,1487.9 1593.9,1499.7 1594.1,1479.7 1594.3,1491.6 1594.5,1478.1 1594.7,1499.2 1594.9,1489 1595.1,1491.1 1595.3,1497.6 1595.6,1495.4 1595.8,1491.9 1596,1495.4 1596.2,1483.2 1596.4,1486.1 1596.6,1497.5 1596.8,1497.3 1597,1479.9 1597.3,1500.4 1597.5,1481 1597.7,1478.1 1597.9,1486.2 1598.1,1487.3 1598.3,1492.6 1598.5,1493 1598.7,1497.5 1598.9,1505.4 1599.2,1501.9 1599.4,1497 1599.6,1487.3 1599.8,1476.4 1600,1484.5 1600.2,1483 1600.4,1491.7 1600.6,1494.6 1600.9,1500.6 1601.1,1478.2 1601.3,1495.2 1601.5,1485.1 1601.7,1499.8 1601.9,1504.3 1602.1,1485.4 1602.3,1497.9 1602.5,1488 1602.8,1488.3 1603,1496.7 1603.2,1503 1603.4,1491.1 1603.6,1483.9 1603.8,1472.8 1604,1498.9 1604.2,1494 1604.5,1490.8 1604.7,1483.5 1604.9,1510.4 1605.1,1500.3 1605.3,1502.7 1605.5,1483.9 1605.7,1499.5 1605.9,1485.8 1606.1,1484.4 1606.4,1493.8 1606.6,1479.1 1606.8,1486.7 1607,1495.9 1607.2,1479.4 1607.4,1492.1 1607.6,1493.3 1607.8,1493.2 1608.1,1500.9 1608.3,1501 1608.5,1501 1608.7,1479.2 1608.9,1490.4 1609.1,1488 1609.3,1494.8 1609.5,1504.9 1609.7,1482.9 1610,1491.9 1610.2,1495.1 1610.4,1481.6 1610.6,1490.7 1610.8,1485.6 1611,1495 1611.2,1485.3 1611.4,1488.8 1611.7,1491.9 1611.9,1496.1 1612.1,1492.7 1612.3,1486.6 1612.5,1490.6 1612.7,1484.6 1612.9,1499.3 1613.1,1486.1 1613.3,1495.7 1613.6,1482.3 1613.8,1492.7 1614,1495.6 1614.2,1499.3 1614.4,1479.2 1614.6,1494.5 1614.8,1500.3 1615,1502.4 1615.3,1503.7 1615.5,1481.1 1615.7,1476.2 1615.9,1487.7 1616.1,1487.8 1616.3,1494.7 1616.5,1484 1616.7,1493 1616.9,1493.2 1617.2,1505 1617.4,1491 1617.6,1491.3 1617.8,1492.8 1618,1494.7 1618.2,1477.2 1618.4,1486.5 1618.6,1491.5 1618.9,1492.3 1619.1,1503.9 1619.3,1497.9 1619.5,1484.3 1619.7,1498.5 1619.9,1499.7 1620.1,1496.5 1620.3,1480.3 1620.5,1502.6 1620.8,1503.4 1621,1478.1 1621.2,1490.3 1621.4,1492.3 1621.6,1505.3 1621.8,1495.3 1622,1492 1622.2,1510.8 1622.5,1498.5 1622.7,1501.9 1622.9,1487.5 1623.1,1497.6 1623.3,1502.6 1623.5,1494.9 1623.7,1487.8 1623.9,1488.2 1624.1,1490.7 1624.4,1506.5 1624.6,1483.4 1624.8,1503.8 1625,1482.7 1625.2,1480.2 1625.4,1498.7 1625.6,1477.4 1625.8,1495 1626.1,1483.9 1626.3,1483.9 1626.5,1485.3 1626.7,1487.1 1626.9,1490.5 1627.1,1501.7 1627.3,1497.9 1627.5,1482.4 1627.7,1486.7 1628,1481.1 1628.2,1500.3 1628.4,1475.4 1628.6,1477.8 1628.8,1472.5 1629,1480.4 1629.2,1487.9 1629.4,1496.6 1629.7,1500.6 1629.9,1494.2 1630.1,1491.9 1630.3,1469.8 1630.5,1468.5 1630.7,1478.2 1630.9,1486.7 1631.1,1470.3 1631.3,1491.6 1631.6,1471.3 1631.8,1479.6 1632,1480.2 1632.2,1479.9 1632.4,1471.5 1632.6,1458.9 1632.8,1482.8 1633,1454.3 1633.3,1456.9 1633.5,1456.7 1633.7,1486.1 1633.9,1467 1634.1,1472 1634.3,1466.9 1634.5,1476.1 1634.7,1486.2 1634.9,1465.5 1635.2,1455.1 1635.4,1472.6 1635.6,1463.6 1635.8,1455.1 1636,1464.2 1636.2,1476.3 1636.4,1472.2 1636.6,1451.9 1636.9,1460.2 1637.1,1475.4 1637.3,1472.5 1637.5,1473 1637.7,1454.5 1637.9,1471.6 1638.1,1481.5 1638.3,1457.1 1638.5,1470.1 1638.8,1472.3 1639,1492.4 1639.2,1463 1639.4,1498.4 1639.6,1485.3 1639.8,1475.3 1640,1489.1 1640.2,1488.2 1640.5,1465.4 1640.7,1464.4 1640.9,1496.1 1641.1,1481.2 1641.3,1480.2 1641.5,1492.5 1641.7,1472.8 1641.9,1483.9 1642.1,1477.9 1642.4,1484.7 1642.6,1476.4 1642.8,1491.9 1643,1507.4 1643.2,1511 1643.4,1503.7 1643.6,1483.1 1643.8,1506.6 1644.1,1483.4 1644.3,1503.1 1644.5,1472.5 1644.7,1507.5 1644.9,1503.2 1645.1,1497.8 1645.3,1479.4 1645.5,1499.3 1645.7,1481 1646,1485.9 1646.2,1470.3 1646.4,1495.6 1646.6,1496.8 1646.8,1478.1 1647,1508.1 1647.2,1487.4 1647.4,1492.1 1647.7,1477.6 1647.9,1486.5 1648.1,1497.8 1648.3,1489.2 1648.5,1481.6 1648.7,1490.5 1648.9,1498.5 1649.1,1506.9 1649.3,1489.5 1649.6,1511 1649.8,1491.3 1650,1494.5 1650.2,1487.9 1650.4,1503.4 1650.6,1487.9 1650.8,1491.3 1651,1489.4 1651.3,1470.3 1651.5,1503.1 1651.7,1505.3 1651.9,1505.6 1652.1,1507.1 1652.3,1476.2 1652.5,1488.3 1652.7,1487.6 1652.9,1494.6 1653.2,1498.1 1653.4,1502.7 1653.6,1485.5 1653.8,1472.4 1654,1486.9 1654.2,1475.2 1654.4,1499 1654.6,1502.1 1654.9,1472.5 1655.1,1489 1655.3,1503.5 1655.5,1509.8 1655.7,1503.2 1655.9,1509.5 1656.1,1487.9 1656.3,1488.9 1656.5,1490.4 1656.8,1497.8 1657,1503.4 1657.2,1488.6 1657.4,1481.5 1657.6,1506.6 1657.8,1497.4 1658,1486.2 1658.2,1504.6 1658.5,1504.5 1658.7,1474.1 1658.9,1474.8 1659.1,1500 1659.3,1480.6 1659.5,1502.6 1659.7,1504.7 1659.9,1484.3 1660.1,1500 1660.4,1478 1660.6,1483.6 1660.8,1492.1 1661,1486.7 1661.2,1498.9 1661.4,1492.2 1661.6,1500.4 1661.8,1495.6 1662.1,1498 1662.3,1497 1662.5,1505.1 1662.7,1500 1662.9,1485.1 1663.1,1476.1 1663.3,1482.6 1663.5,1484.1 1663.7,1479.9 1664,1473.3 1664.2,1487.3 1664.4,1494.9 1664.6,1497.1 1664.8,1479.5 1665,1507.9 1665.2,1475.7 1665.4,1491.6 1665.7,1488.4 1665.9,1479.2 1666.1,1485.2 1666.3,1498.3 1666.5,1482.8 1666.7,1480.5 1666.9,1476.4 1667.1,1490 1667.3,1492.6 1667.6,1505.8 1667.8,1479.6 1668,1484.4 1668.2,1502.4 1668.4,1487.1 1668.6,1488.3 1668.8,1491.1 1669,1494.4 1669.3,1503.8 1669.5,1487.2 1669.7,1477.8 1669.9,1512.9 1670.1,1502.3 1670.3,1485.8 1670.5,1498.8 1670.7,1484.8 1670.9,1478.9 1671.2,1506.5 1671.4,1500.7 1671.6,1487.9 1671.8,1502.3 1672,1496.6 1672.2,1492.6 1672.4,1503.8 1672.6,1481.9 1672.9,1508.3 1673.1,1478.3 1673.3,1502.9 1673.5,1485.7 1673.7,1494.7 1673.9,1473.1 1674.1,1499.2 1674.3,1478.3 1674.5,1506.2 1674.8,1481.4 1675,1497 1675.2,1500.1 1675.4,1488.6 1675.6,1498.3 1675.8,1490.9 1676,1485.1 1676.2,1485.1 1676.5,1478.7 1676.7,1484.2 1676.9,1510.7 1677.1,1474.2 1677.3,1482 1677.5,1474.7 1677.7,1503.7 1677.9,1507.1 1678.1,1488.9 1678.4,1497.7 1678.6,1480 1678.8,1499.8 1679,1473.6 1679.2,1481.1 1679.4,1506.5 1679.6,1499.7 1679.8,1476.4 1680.1,1489.6 1680.3,1506.5 1680.5,1500.3 1680.7,1495.1 1680.9,1484.9 1681.1,1508 1681.3,1475.7 1681.5,1473 1681.7,1499.5 1682,1486.8 1682.2,1493.8 1682.4,1482.1 1682.6,1471.6 1682.8,1483.6 1683,1485.9 1683.2,1500.1 1683.4,1496.3 1683.7,1506 1683.9,1487.9 1684.1,1504.6 1684.3,1483.5 1684.5,1479.5 1684.7,1493.9 1684.9,1503.5 1685.1,1487.3 1685.3,1491.5 1685.6,1510.8 1685.8,1479.9 1686,1475.3 1686.2,1487.2 1686.4,1482.5 1686.6,1497.8 1686.8,1490.6 1687,1500.1 1687.2,1491.9 1687.5,1503.7 1687.7,1492.9 1687.9,1489.4 1688.1,1476.5 1688.3,1493.4 1688.5,1505.4 1688.7,1488.6 1688.9,1481 1689.2,1470.5 1689.4,1502.3 1689.6,1478.6 1689.8,1500.8 1690,1487.7 1690.2,1494.2 1690.4,1488.1 1690.6,1482.4 1690.8,1484.3 1691.1,1493.4 1691.3,1510.1 1691.5,1484 1691.7,1491.9 1691.9,1473.2 1692.1,1503.5 1692.3,1479.3 1692.5,1496 1692.8,1495 1693,1501.8 1693.2,1504.7 1693.4,1478.5 1693.6,1486.1 1693.8,1497 1694,1490.5 1694.2,1473.3 1694.4,1478.4 1694.7,1493.4 1694.9,1507.4 1695.1,1480.9 1695.3,1484.3 1695.5,1493 1695.7,1479.7 1695.9,1487.2 1696.1,1487.1 1696.4,1472.1 1696.6,1502.4 1696.8,1484.4 1697,1484 1697.2,1468.8 1697.4,1502.1 1697.6,1509.6 1697.8,1483.5 1698,1486.8 1698.3,1500.3 1698.5,1486.8 1698.7,1496.5 1698.9,1509.7 1699.1,1481.5 1699.3,1501.9 1699.5,1481.5 1699.7,1474.9 1700,1491.5 1700.2,1503.6 1700.4,1474 1700.6,1488 1700.8,1478 1701,1499 1701.2,1482.8 1701.4,1496.3 1701.6,1495.7 1701.9,1503.5 1702.1,1483.4 1702.3,1478.6 1702.5,1504.5 1702.7,1497.3 1702.9,1490.9 1703.1,1487.1 1703.3,1496.7 1703.6,1495.6 1703.8,1498.7 1704,1506.5 1704.2,1488 1704.4,1483.4 1704.6,1506.8 1704.8,1503.4 1705,1508.5 1705.2,1498 1705.5,1500.2 1705.7,1511 1705.9,1488.6 1706.1,1486.7 1706.3,1488.4 1706.5,1501.5 1706.7,1503.3 1706.9,1496.9 1707.2,1487.2 1707.4,1493.5 1707.6,1502.7 1707.8,1498.3 1708,1499.7 1708.2,1498.4 1708.4,1514.9 1708.6,1490.1 1708.8,1488.3 1709.1,1503.2 1709.3,1493.5 1709.5,1483.9 1709.7,1483.7 1709.9,1489.9 1710.1,1487.9 1710.3,1508.1 1710.5,1504.6 1710.8,1498.1 1711,1480 1711.2,1492.3 1711.4,1478.5 1711.6,1511.4 1711.8,1498.5 1712,1476.1 1712.2,1497.3 1712.4,1492.3 1712.7,1504.6 1712.9,1493.3 1713.1,1482.1 1713.3,1492.1 1713.5,1492.1 1713.7,1485.2 1713.9,1477.5 1714.1,1493.1 1714.4,1487.7 1714.6,1477.9 1714.8,1500.8 1715,1506.6 1715.2,1475.2 1715.4,1496.6 1715.6,1484.1 1715.8,1490.8 1716,1504.6 1716.3,1505.4 1716.5,1504 1716.7,1501.3 1716.9,1488.7 1717.1,1486.7 1717.3,1488.8 1717.5,1473.8 1717.7,1485.5 1718,1496.1 1718.2,1475.7 1718.4,1495.1 1718.6,1499.7 1718.8,1501.2 1719,1485.5 1719.2,1475.7 1719.4,1495.6 1719.6,1477.3 1719.9,1487.1 1720.1,1498.4 1720.3,1482.9 1720.5,1509.6 1720.7,1499.7 1720.9,1502.8 1721.1,1486.8 1721.3,1490.6 1721.6,1498.6 1721.8,1475.3 1722,1497.8 1722.2,1481.2 1722.4,1498.1 1722.6,1483.3 1722.8,1493.4 1723,1496.9 1723.2,1468.2 1723.5,1498.1 1723.7,1482.4 1723.9,1488.7 1724.1,1508.2 1724.3,1484.4 1724.5,1489.9 1724.7,1493.4 1724.9,1493.8 1725.2,1507.6 1725.4,1481.2 1725.6,1511.5 1725.8,1472.5 1726,1486.4 1726.2,1506.8 1726.4,1479 1726.6,1484.6 1726.8,1488.5 1727.1,1483.3 1727.3,1474.8 1727.5,1477.2 1727.7,1501.3 1727.9,1501.4 1728.1,1509 1728.3,1498.6 1728.5,1481.7 1728.8,1482.5 1729,1473.3 1729.2,1483.6 1729.4,1503.7 1729.6,1482.4 1729.8,1502.3 1730,1468.9 1730.2,1482.6 1730.4,1478.2 1730.7,1484.3 1730.9,1484.7 1731.1,1500.6 1731.3,1495.7 1731.5,1492.6 1731.7,1494.3 1731.9,1479.1 1732.1,1482.7 1732.4,1500.3 1732.6,1491.7 1732.8,1492.3 1733,1496.1 1733.2,1499.6 1733.4,1497.6 1733.6,1499.5 1733.8,1486.2 1734,1487.3 1734.3,1483.6 1734.5,1498.1 1734.7,1477.7 1734.9,1497.9 1735.1,1471 1735.3,1508.6 1735.5,1500.8 1735.7,1495.8 1736,1475.5 1736.2,1489.6 1736.4,1476.4 1736.6,1499.4 1736.8,1485.7 1737,1501.2 1737.2,1488.9 1737.4,1502.3 1737.6,1504.4 1737.9,1481.8 1738.1,1475.7 1738.3,1473.4 1738.5,1482 1738.7,1480.3 1738.9,1490.7 1739.1,1480.5 1739.3,1493.5 1739.6,1477.8 1739.8,1501.5 1740,1499.1 1740.2,1502.6 1740.4,1505.9 1740.6,1504.7 1740.8,1484.6 1741,1508.9 1741.2,1501.4 1741.5,1496.4 1741.7,1496 1741.9,1497.5 1742.1,1494.7 1742.3,1481.9 1742.5,1501.6 1742.7,1481.7 1742.9,1480.3 1743.2,1499.3 1743.4,1474.6 1743.6,1498.3 1743.8,1493.6 1744,1478.3 1744.2,1505.7 1744.4,1496.8 1744.6,1491.9 1744.8,1502.9 1745.1,1510.3 1745.3,1490.4 1745.5,1503.9 1745.7,1509 1745.9,1490.7 1746.1,1478.9 1746.3,1478.7 1746.5,1495.8 1746.8,1478.3 1747,1487 1747.2,1496.9 1747.4,1499.9 1747.6,1495.5 1747.8,1481.2 1748,1489 1748.2,1501.5 1748.4,1501.5 1748.7,1504.4 1748.9,1486.5 1749.1,1473.1 1749.3,1474.2 1749.5,1486.6 1749.7,1494.7 1749.9,1494.8 1750.1,1498.6 1750.4,1473.8 1750.6,1498.8 1750.8,1490.6 1751,1495.7 1751.2,1507.8 1751.4,1501.7 1751.6,1496.2 1751.8,1480.2 1752,1507.7 1752.3,1493.1 1752.5,1476.6 1752.7,1484.4 1752.9,1479.3 1753.1,1498 1753.3,1482.2 1753.5,1489.8 1753.7,1471.2 1754,1499.6 1754.2,1500.9 1754.4,1485.2 1754.6,1495.2 1754.8,1507 1755,1505.8 1755.2,1487 1755.4,1480.1 1755.6,1501.9 1755.9,1483.4 1756.1,1510.5 1756.3,1495.6 1756.5,1482.2 1756.7,1490 1756.9,1497.3 1757.1,1499.7 1757.3,1484.6 1757.6,1508.1 1757.8,1481.6 1758,1476.1 1758.2,1474.2 1758.4,1500.5 1758.6,1503.2 1758.8,1490.9 1759,1479.1 1759.2,1484.2 1759.5,1474.8 1759.7,1476 1759.9,1476.6 1760.1,1505.1 1760.3,1490.2 1760.5,1487.7 1760.7,1481.4 1760.9,1497 1761.2,1496.9 1761.4,1501.1 1761.6,1503.1 1761.8,1472.9 1762,1481 1762.2,1509.4 1762.4,1503.4 1762.6,1489.4 1762.8,1486.1 1763.1,1507 1763.3,1494.5 1763.5,1502.8 1763.7,1493.7 1763.9,1479.2 1764.1,1489.9 1764.3,1482.3 1764.5,1485.9 1764.8,1489.9 1765,1501.9 1765.2,1488.4 1765.4,1496.1 1765.6,1498.1 1765.8,1490.8 1766,1503.4 1766.2,1496.2 1766.4,1480 1766.7,1493.3 1766.9,1507 1767.1,1504.3 1767.3,1485.8 1767.5,1512 1767.7,1504.2 1767.9,1474.9 1768.1,1474.7 1768.4,1474.7 1768.6,1479.6 1768.8,1487.8 1769,1502.2 1769.2,1505.2 1769.4,1488.3 1769.6,1501.5 1769.8,1476.6 1770,1484.6 1770.3,1498.4 1770.5,1489.2 1770.7,1491.4 1770.9,1474.4 1771.1,1486.2 1771.3,1501 1771.5,1493.4 1771.7,1500.4 1772,1505 1772.2,1489.1 1772.4,1478.1 1772.6,1497.8 1772.8,1486.3 1773,1476.9 1773.2,1477.6 1773.4,1476.6 1773.6,1494.3 1773.9,1489.3 1774.1,1494.6 1774.3,1501.7 1774.5,1480.4 1774.7,1504.5 1774.9,1484.1 1775.1,1503.9 1775.3,1494.3 1775.6,1486.4 1775.8,1487.5 1776,1500.4 1776.2,1497.5 1776.4,1485.2 1776.6,1492.3 1776.8,1488 1777,1476.6 1777.2,1505.3 1777.5,1503.9 1777.7,1506 1777.9,1485 1778.1,1507.5 1778.3,1503.3 1778.5,1480.7 1778.7,1495.5 1778.9,1485.3 1779.2,1500.3 1779.4,1498.4 1779.6,1506.4 1779.8,1487.8 1780,1504.6 1780.2,1481.9 1780.4,1497.8 1780.6,1484.2 1780.8,1505.3 1781.1,1485 1781.3,1488.5 1781.5,1484.1 1781.7,1467.8 1781.9,1489 1782.1,1505.4 1782.3,1481.5 1782.5,1479.2 1782.8,1490.5 1783,1478.6 1783.2,1490.9 1783.4,1506.1 1783.6,1489.4 1783.8,1503.4 1784,1494.2 1784.2,1509.8 1784.4,1479 1784.7,1482.5 1784.9,1474.3 1785.1,1479.9 1785.3,1480.7 1785.5,1502.1 1785.7,1474.7 1785.9,1480.6 1786.1,1479.7 1786.4,1483.6 1786.6,1490.9 1786.8,1492.1 1787,1495.3 1787.2,1506.1 1787.4,1491.9 1787.6,1490.8 1787.8,1491.4 1788,1487.8 1788.3,1501.2 1788.5,1485.7 1788.7,1499.3 1788.9,1495 1789.1,1474.5 1789.3,1477.4 1789.5,1497.3 1789.7,1501.2 1789.9,1481.3 1790.2,1486.5 1790.4,1494.8 1790.6,1502.9 1790.8,1478.2 1791,1475 1791.2,1481.5 1791.4,1499.2 1791.6,1499.5 1791.9,1495.9 1792.1,1472.5 1792.3,1502.9 1792.5,1493.6 1792.7,1480.4 1792.9,1494.2 1793.1,1476.2 1793.3,1507.5 1793.5,1491.9 1793.8,1507.6 1794,1508.9 1794.2,1476.6 1794.4,1502.4 1794.6,1495.1 1794.8,1479.6 1795,1499.3 1795.2,1494.4 1795.5,1500.5 1795.7,1488.7 1795.9,1481.4 1796.1,1489 1796.3,1505.8 1796.5,1495 1796.7,1480.8 1796.9,1474.5 1797.1,1488.1 1797.4,1497.9 1797.6,1491.9 1797.8,1502.9 1798,1501.1 1798.2,1500.6 1798.4,1490.1 1798.6,1510.7 1798.8,1475.4 1799.1,1479.9 1799.3,1487.5 1799.5,1489.6 1799.7,1470.7 1799.9,1498.8 1800.1,1496 1800.3,1475.7 1800.5,1490.9 1800.7,1491.9 1801,1502.7 1801.2,1474.9 1801.4,1486.7 1801.6,1485.5 1801.8,1481.5 1802,1490.4 1802.2,1503.7 1802.4,1491.1 1802.7,1497.8 1802.9,1491.5 1803.1,1482 1803.3,1497.1 1803.5,1503.8 1803.7,1479.2 1803.9,1505.1 1804.1,1488 1804.3,1487.3 1804.6,1491.9 1804.8,1488.1 1805,1503.6 1805.2,1501.1 1805.4,1497.1 1805.6,1481.2 1805.8,1498.3 1806,1492.5 1806.3,1496.8 1806.5,1510.6 1806.7,1480.4 1806.9,1490.6 1807.1,1485.5 1807.3,1492.9 1807.5,1497.1 1807.7,1500.5 1807.9,1498.7 1808.2,1471.7 1808.4,1470.1 1808.6,1493.2 1808.8,1494.1 1809,1478.5 1809.2,1486.6 1809.4,1509 1809.6,1501.8 1809.9,1480.9 1810.1,1483.9 1810.3,1496.8 1810.5,1499.3 1810.7,1494.2 1810.9,1501.6 1811.1,1485.1 1811.3,1509.7 1811.5,1504.6 1811.8,1498.1 1812,1499.5 1812.2,1497.1 1812.4,1502 1812.6,1485.6 1812.8,1481.1 1813,1493.6 1813.2,1503.1 1813.5,1496.9 1813.7,1491.3 1813.9,1495.1 1814.1,1479.8 1814.3,1491.4 1814.5,1479.7 1814.7,1497.9 1814.9,1480.1 1815.1,1481 1815.4,1487.7 1815.6,1479.4 1815.8,1483 1816,1505.6 1816.2,1500.2 1816.4,1487.8 1816.6,1494.6 1816.8,1495.5 1817.1,1490.9 1817.3,1490.7 1817.5,1480.6 1817.7,1481.4 1817.9,1477.2 1818.1,1484.2 1818.3,1488.4 1818.5,1495 1818.7,1501.1 1819,1477.1 1819.2,1480.2 1819.4,1484.4 1819.6,1498.7 1819.8,1495.9 1820,1487.5 1820.2,1487.4 1820.4,1471.7 1820.7,1489.3 1820.9,1490.1 1821.1,1490.3 1821.3,1502.8 1821.5,1493.4 1821.7,1476.2 1821.9,1491.6 1822.1,1490.5 1822.3,1485.7 1822.6,1491.4 1822.8,1500.6 1823,1490.4 1823.2,1488.4 1823.4,1479.6 1823.6,1482.2 1823.8,1483.2 1824,1489.8 1824.3,1496 1824.5,1484.1 1824.7,1495.9 1824.9,1492.8 1825.1,1491.8 1825.3,1478.8 1825.5,1500.4 1825.7,1506.8 1825.9,1483 1826.2,1487.7 1826.4,1503.4 1826.6,1487.2 1826.8,1502.2 1827,1500.6 1827.2,1490.3 1827.4,1488.9 1827.6,1490.6 1827.9,1495.8 1828.1,1495.5 1828.3,1490.8 1828.5,1491 1828.7,1481.3 1828.9,1474.6 1829.1,1507.8 1829.3,1469.7 1829.5,1485.9 1829.8,1495.6 1830,1479.2 1830.2,1487.7 1830.4,1477.2 1830.6,1487.4 1830.8,1493.5 1831,1501.7 1831.2,1501.9 1831.5,1479.6 1831.7,1500.9 1831.9,1487.1 1832.1,1488.9 1832.3,1490.9 1832.5,1492.7 1832.7,1501.2 1832.9,1494.5 1833.1,1488.4 1833.4,1500 1833.6,1482.3 1833.8,1498.5 1834,1501.5 1834.2,1492.8 1834.4,1502.5 1834.6,1483.1 1834.8,1487.3 1835.1,1503.5 1835.3,1489.6 1835.5,1482.1 1835.7,1501.2 1835.9,1504.4 1836.1,1478 1836.3,1500.7 1836.5,1493.5 1836.7,1482.3 1837,1512.9 1837.2,1482.6 1837.4,1509.8 1837.6,1498.2 1837.8,1470.6 1838,1510.7 1838.2,1484.2 1838.4,1484.2 1838.7,1511.5 1838.9,1499.8 1839.1,1484 1839.3,1499.4 1839.5,1484.8 1839.7,1488.4 1839.9,1492.7 1840.1,1488 1840.3,1484.1 1840.6,1477 1840.8,1495.6 1841,1493.3 1841.2,1492.4 1841.4,1480 1841.6,1493.7 1841.8,1489.9 1842,1495.5 1842.3,1484.5 1842.5,1492.2 1842.7,1496.8 1842.9,1487.1 1843.1,1489.7 1843.3,1503.5 1843.5,1493.7 1843.7,1479.4 1843.9,1506 1844.2,1495.1 1844.4,1503.1 1844.6,1502 1844.8,1487.5 1845,1480.1 1845.2,1477.5 1845.4,1477.8 1845.6,1483.9 1845.9,1496.9 1846.1,1482.7 1846.3,1497.4 1846.5,1501.6 1846.7,1514 1846.9,1498.3 1847.1,1485.9 1847.3,1500.2 1847.5,1502.9 1847.8,1488.9 1848,1477.9 1848.2,1474.5 1848.4,1485.8 1848.6,1485.5 1848.8,1490.9 1849,1493.2 1849.2,1490.9 1849.5,1487.1 1849.7,1479.3 1849.9,1487.8 1850.1,1487.5 1850.3,1500.8 1850.5,1486.6 1850.7,1489.4 1850.9,1473.9 1851.1,1483.5 1851.4,1505.1 1851.6,1501.2 1851.8,1509.3 1852,1494 1852.2,1495.1 1852.4,1496.3 1852.6,1495.5 1852.8,1485.1 1853.1,1484 1853.3,1485.3 1853.5,1484.1 1853.7,1479.6 1853.9,1481.4 1854.1,1484.9 1854.3,1499.8 1854.5,1494.6 1854.7,1477.3 1855,1505 1855.2,1482.8 1855.4,1486.2 1855.6,1504.3 1855.8,1502.8 1856,1498.9 1856.2,1498.7 1856.4,1490.7 1856.7,1490.9 1856.9,1504.2 1857.1,1499.5 1857.3,1485.7 1857.5,1509.8 1857.7,1486.8 1857.9,1484.2 1858.1,1470.4 1858.3,1481.4 1858.6,1501.1 1858.8,1485.1 1859,1487.9 1859.2,1486.9 1859.4,1490.5 1859.6,1480.4 1859.8,1490.8 1860,1498.4 1860.3,1501.5 1860.5,1498.7 1860.7,1487.2 1860.9,1477.5 1861.1,1485.3 1861.3,1496.7 1861.5,1488.6 1861.7,1491.1 1861.9,1502.4 1862.2,1502 1862.4,1495.1 1862.6,1492.5 1862.8,1496.5 1863,1473.1 1863.2,1478.8 1863.4,1481.9 1863.6,1515.2 1863.9,1481.3 1864.1,1489.2 1864.3,1488.4 1864.5,1509.2 1864.7,1482.2 1864.9,1494.1 1865.1,1487.5 1865.3,1486.5 1865.5,1497.2 1865.8,1494.1 1866,1485.3 1866.2,1499.9 1866.4,1479.2 1866.6,1500 1866.8,1486.8 1867,1486.9 1867.2,1492.3 1867.5,1480.6 1867.7,1497.9 1867.9,1482.8 1868.1,1503.7 1868.3,1507.2 1868.5,1504.5 1868.7,1486.7 1868.9,1479.7 1869.1,1482.7 1869.4,1477.1 1869.6,1479.5 1869.8,1477.5 1870,1492.3 1870.2,1497.7 1870.4,1483 1870.6,1491 1870.8,1491.7 1871.1,1490.6 1871.3,1494.6 1871.5,1495.5 1871.7,1473.3 1871.9,1484.7 1872.1,1470.4 1872.3,1504.2 1872.5,1498.3 1872.7,1500 1873,1471.4 1873.2,1494.7 1873.4,1475.5 1873.6,1496.5 1873.8,1493.4 1874,1479.3 1874.2,1493.4 1874.4,1499.4 1874.7,1502.2 1874.9,1483.1 1875.1,1474.2 1875.3,1480.3 1875.5,1481.9 1875.7,1479.3 1875.9,1479.7 1876.1,1510.2 1876.3,1476.1 1876.6,1500 1876.8,1497.9 1877,1480.9 1877.2,1502.5 1877.4,1484.6 1877.6,1492.8 1877.8,1496.6 1878,1507.7 1878.3,1508.5 1878.5,1506.4 1878.7,1472.3 1878.9,1505.7 1879.1,1481.5 1879.3,1496.9 1879.5,1477.8 1879.7,1502.2 1879.9,1478.1 1880.2,1511.3 1880.4,1492.9 1880.6,1489.3 1880.8,1488.1 1881,1482.8 1881.2,1496.2 1881.4,1479.4 1881.6,1502.3 1881.9,1500.1 1882.1,1492.3 1882.3,1490.2 1882.5,1495 1882.7,1497 1882.9,1480.8 1883.1,1506 1883.3,1502.1 1883.5,1494.9 1883.8,1487.6 1884,1493.7 1884.2,1510 1884.4,1481.6 1884.6,1485.8 1884.8,1489.4 1885,1492.5 1885.2,1472.3 1885.5,1495.4 1885.7,1483.5 1885.9,1502.2 1886.1,1506.6 1886.3,1503.7 1886.5,1496.3 1886.7,1498.9 1886.9,1489.1 1887.1,1489.3 1887.4,1492.5 1887.6,1494.3 1887.8,1485.4 1888,1495.1 1888.2,1506.8 1888.4,1503.5 1888.6,1489.6 1888.8,1512.2 1889.1,1474.6 1889.3,1498.3 1889.5,1483 1889.7,1504.6 1889.9,1485.8 1890.1,1482.2 1890.3,1500.3 1890.5,1496.1 1890.7,1473.5 1891,1482.2 1891.2,1483.9 1891.4,1508.1 1891.6,1495.3 1891.8,1489.1 1892,1503.6 1892.2,1481.2 1892.4,1489.7 1892.6,1485.5 1892.9,1506.3 1893.1,1495.5 1893.3,1490.8 1893.5,1501.3 1893.7,1501.6 1893.9,1485.9 1894.1,1489.8 1894.3,1483.3 1894.6,1503.3 1894.8,1496.1 1895,1497 1895.2,1493.5 1895.4,1475.8 1895.6,1483.9 1895.8,1475 1896,1500.7 1896.2,1484.3 1896.5,1485.2 1896.7,1504.4 1896.9,1496.5 1897.1,1479.9 1897.3,1490.4 1897.5,1496.1 1897.7,1489.2 1897.9,1492 1898.2,1505.5 1898.4,1481.8 1898.6,1474.9 1898.8,1497.2 1899,1484.9 1899.2,1478.5 1899.4,1509.2 1899.6,1477.1 1899.8,1497.8 1900.1,1474.6 1900.3,1498.8 1900.5,1482.5 1900.7,1500.7 1900.9,1484.4 1901.1,1507.9 1901.3,1497.6 1901.5,1476.1 1901.8,1506.2 1902,1502.5 1902.2,1478.1 1902.4,1500.3 1902.6,1496.5 1902.8,1474.3 1903,1510.1 1903.2,1498.9 1903.4,1498.1 1903.7,1481.6 1903.9,1483.2 1904.1,1494.7 1904.3,1490 1904.5,1482.2 1904.7,1481 1904.9,1499.3 1905.1,1486.7 1905.4,1478.7 1905.6,1494.5 1905.8,1477.6 1906,1495.4 1906.2,1489.9 1906.4,1500 1906.6,1502.7 1906.8,1492.2 1907,1490.6 1907.3,1500.5 1907.5,1473.7 1907.7,1496.9 1907.9,1504.8 1908.1,1497 1908.3,1484.1 1908.5,1491.1 1908.7,1474.8 1909,1495.2 1909.2,1509.5 1909.4,1494.9 1909.6,1507.6 1909.8,1470.8 1910,1500.7 1910.2,1492.1 1910.4,1476.9 1910.6,1489.2 1910.9,1483.6 1911.1,1483.5 1911.3,1488.9 1911.5,1488.9 1911.7,1486.4 1911.9,1500 1912.1,1503.3 1912.3,1484 1912.6,1480.1 1912.8,1507.9 1913,1490.5 1913.2,1476.8 1913.4,1501.9 1913.6,1480.6 1913.8,1506 1914,1485.8 1914.2,1481.6 1914.5,1506.1 1914.7,1498.3 1914.9,1478.3 1915.1,1480.1 1915.3,1477.3 1915.5,1496.3 1915.7,1508.7 1915.9,1503.4 1916.2,1489 1916.4,1507.5 1916.6,1503.9 1916.8,1482.4 1917,1480.4 1917.2,1479.2 1917.4,1499.5 1917.6,1497 1917.8,1478 1918.1,1484.3 1918.3,1485.7 1918.5,1506.7 1918.7,1492.1 1918.9,1497.4 1919.1,1480.3 1919.3,1476.4 1919.5,1498.8 1919.8,1493.7 1920,1487.5 1920.2,1480 1920.4,1494.1 1920.6,1505 1920.8,1499.7 1921,1486.2 1921.2,1505.4 1921.4,1500.6 1921.7,1484.8 1921.9,1490.7 1922.1,1500.9 1922.3,1509.6 1922.5,1485 1922.7,1481.6 1922.9,1489.9 1923.1,1500.7 1923.4,1504.9 1923.6,1486.4 1923.8,1481.4 1924,1483.2 1924.2,1489.5 1924.4,1492.3 1924.6,1492.1 1924.8,1506 1925,1481.1 1925.3,1480 1925.5,1477.6 1925.7,1472.5 1925.9,1490.6 1926.1,1487.8 1926.3,1482.4 1926.5,1506.6 1926.7,1476.7 1927,1489.9 1927.2,1503.1 1927.4,1486.3 1927.6,1505.2 1927.8,1477.9 1928,1500.6 1928.2,1508.7 1928.4,1499.1 1928.6,1505 1928.9,1476.2 1929.1,1502.7 1929.3,1499.1 1929.5,1503.5 1929.7,1477.3 1929.9,1501.4 1930.1,1495.3 1930.3,1489.9 1930.6,1497.1 1930.8,1493.3 1931,1476.7 1931.2,1494 1931.4,1488.1 1931.6,1479.4 1931.8,1506.7 1932,1478.2 1932.2,1499.7 1932.5,1492.1 1932.7,1492.9 1932.9,1488.8 1933.1,1483.7 1933.3,1480.7 1933.5,1474.6 1933.7,1497.2 1933.9,1503 1934.2,1501.3 1934.4,1492 1934.6,1506.2 1934.8,1494.5 1935,1511.5 1935.2,1507.5 1935.4,1487.9 1935.6,1471.4 1935.8,1503.6 1936.1,1480.7 1936.3,1492.5 1936.5,1497.7 1936.7,1469.4 1936.9,1491.5 1937.1,1480.9 1937.3,1507.8 1937.5,1481 1937.8,1500.5 1938,1495.8 1938.2,1493.8 1938.4,1480.9 1938.6,1475 1938.8,1479.5 1939,1497.1 1939.2,1494.7 1939.4,1477.9 1939.7,1479.9 1939.9,1498.3 1940.1,1502.6 1940.3,1491.7 1940.5,1484.2 1940.7,1476.2 1940.9,1488.5 1941.1,1477.6 1941.4,1487.2 1941.6,1483.1 1941.8,1482.6 1942,1508.5 1942.2,1502.7 1942.4,1475.5 1942.6,1474.5 1942.8,1498.4 1943,1485.7 1943.3,1486.6 1943.5,1481.7 1943.7,1488.4 1943.9,1492.1 1944.1,1507.7 1944.3,1498.1 1944.5,1507.5 1944.7,1492.8 1945,1484.5 1945.2,1487.3 1945.4,1498.7 1945.6,1488.7 1945.8,1484.2 1946,1497.4 1946.2,1513.3 1946.4,1484.9 1946.6,1481.5 1946.9,1494.8 1947.1,1504.4 1947.3,1489.2 1947.5,1475.7 1947.7,1476.8 1947.9,1487.4 1948.1,1500.8 1948.3,1509.7 1948.6,1480 1948.8,1494.2 1949,1497.4 1949.2,1506 1949.4,1506.1 1949.6,1497.2 1949.8,1496.6 1950,1507.4 1950.2,1505.8 1950.5,1486.3 1950.7,1504.4 1950.9,1493 1951.1,1495.1 1951.3,1494.8 1951.5,1484.3 1951.7,1500.2 1951.9,1490.4 1952.2,1493.1 1952.4,1503.1 1952.6,1474.4 1952.8,1479.2 1953,1498.6 1953.2,1489.4 1953.4,1495.2 1953.6,1490.7 1953.8,1501.9 1954.1,1511 1954.3,1498.7 1954.5,1489.1 1954.7,1502.1 1954.9,1506.8 1955.1,1504.2 1955.3,1503.9 1955.5,1498 1955.8,1508.5 1956,1489.5 1956.2,1485.6 1956.4,1486.9 1956.6,1473.3 1956.8,1484.3 1957,1485.8 1957.2,1489.8 1957.4,1496.6 1957.7,1488.7 1957.9,1510.2 1958.1,1487.7 1958.3,1477.7 1958.5,1487.4 1958.7,1477.3 1958.9,1503.9 1959.1,1482.4 1959.4,1475.2 1959.6,1478.6 1959.8,1499.4 1960,1489.2 1960.2,1506 1960.4,1502.3 1960.6,1479.8 1960.8,1487.7 1961,1509.1 1961.3,1472.6 1961.5,1487.2 1961.7,1501.1 1961.9,1484.5 1962.1,1478.8 1962.3,1488.9 1962.5,1496.1 1962.7,1507.3 1963,1483 1963.2,1504.2 1963.4,1477.4 1963.6,1500.3 1963.8,1484.9 1964,1485.8 1964.2,1506.5 1964.4,1500.1 1964.6,1512.2 1964.9,1491.2 1965.1,1478.5 1965.3,1484.4 1965.5,1504.1 1965.7,1505.1 1965.9,1485.1 1966.1,1503 1966.3,1503.3 1966.6,1471.5 1966.8,1483.8 1967,1502.1 1967.2,1477.8 1967.4,1506 1967.6,1505.1 1967.8,1495.7 1968,1502.7 1968.2,1506.1 1968.5,1496.9 1968.7,1481.5 1968.9,1498 1969.1,1479.1 1969.3,1493.5 1969.5,1499 1969.7,1488.3 1969.9,1492.2 1970.2,1480 1970.4,1501.2 1970.6,1504 1970.8,1499.3 1971,1492.5 1971.2,1505.5 1971.4,1497.3 1971.6,1487.2 1971.8,1484.3 1972.1,1496.9 1972.3,1493.8 1972.5,1478.6 1972.7,1493.4 1972.9,1488.7 1973.1,1484.2 1973.3,1479.4 1973.5,1495.5 1973.8,1501 1974,1475.3 1974.2,1499.6 1974.4,1506.6 1974.6,1500.5 1974.8,1478.4 1975,1483.6 1975.2,1495.2 1975.4,1506.5 1975.7,1475.3 1975.9,1469.8 1976.1,1487.1 1976.3,1503.4 1976.5,1489.2 1976.7,1477.3 1976.9,1502.2 1977.1,1492.9 1977.4,1482.2 1977.6,1489.8 1977.8,1486.4 1978,1492.8 1978.2,1492.6 1978.4,1487.4 1978.6,1494.6 1978.8,1501.5 1979,1489.3 1979.3,1481.1 1979.5,1488.8 1979.7,1505.9 1979.9,1500.5 1980.1,1477.2 1980.3,1488.4 1980.5,1481.8 1980.7,1487.7 1981,1489.4 1981.2,1501.5 1981.4,1475 1981.6,1486.8 1981.8,1492.8 1982,1505.7 1982.2,1502.7 1982.4,1497.7 1982.6,1485.8 1982.9,1494.9 1983.1,1483.7 1983.3,1495.1 1983.5,1493 1983.7,1475.7 1983.9,1475.6 1984.1,1486.7 1984.3,1482.3 1984.6,1479.6 1984.8,1490.7 1985,1502.5 1985.2,1491.3 1985.4,1478.8 1985.6,1494.3 1985.8,1492.5 1986,1490 1986.2,1477.8 1986.5,1502.3 1986.7,1472.9 1986.9,1497.3 1987.1,1489.5 1987.3,1501.3 1987.5,1492.3 1987.7,1487.4 1987.9,1487.4 1988.2,1485.4 1988.4,1498 1988.6,1496.7 1988.8,1489.5 1989,1474.1 1989.2,1509.4 1989.4,1499.8 1989.6,1480.8 1989.8,1496.3 1990.1,1486.1 1990.3,1478.3 1990.5,1484.2 1990.7,1490.9 1990.9,1497.8 1991.1,1493.3 1991.3,1488.1 1991.5,1499.4 1991.8,1485.6 1992,1473.4 1992.2,1504.5 1992.4,1508.6 1992.6,1490.3 1992.8,1497.5 1993,1482.7 1993.2,1498.4 1993.4,1481.5 1993.7,1496.3 1993.9,1504.9 1994.1,1488.7 1994.3,1507.4 1994.5,1492.5 1994.7,1482.8 1994.9,1484.5 1995.1,1505.5 1995.4,1478.9 1995.6,1501.8 1995.8,1483.6 1996,1479.6 1996.2,1503 1996.4,1501.2 1996.6,1493.1 1996.8,1497.9 1997,1481.7 1997.3,1491.4 1997.5,1485 1997.7,1506.3 1997.9,1492.9 1998.1,1489 1998.3,1488.7 1998.5,1481 1998.7,1496.5 1998.9,1496.1 1999.2,1483.9 1999.4,1474.5 1999.6,1469.6 1999.8,1497.3 2000,1491.9 2000.2,1501.1 2000.4,1471.3 2000.6,1492.2 2000.9,1490.4 2001.1,1477.3 2001.3,1492.1 2001.5,1479.1 2001.7,1479.8 2001.9,1482.9 2002.1,1495.8 2002.3,1481.8 2002.5,1487.8 2002.8,1507 2003,1504.3 2003.2,1478 2003.4,1490.8 2003.6,1498.6 2003.8,1496.2 2004,1483.4 2004.2,1507.6 2004.5,1487.9 2004.7,1502.5 2004.9,1478.4 2005.1,1498.1 2005.3,1478.8 2005.5,1512.2 2005.7,1501.4 2005.9,1491.6 2006.1,1497.3 2006.4,1500 2006.6,1487.1 2006.8,1500.1 2007,1497.9 2007.2,1487.8 2007.4,1505 2007.6,1485.4 2007.8,1503.5 2008.1,1481.7 2008.3,1490.1 2008.5,1495.8 2008.7,1499.3 2008.9,1492.9 2009.1,1496.5 2009.3,1497.9 2009.5,1498.7 2009.7,1504.4 2010,1481.4 2010.2,1487.1 2010.4,1481.8 2010.6,1489.7 2010.8,1505.1 2011,1487.3 2011.2,1498.2 2011.4,1492.3 2011.7,1494.7 2011.9,1504 2012.1,1481.8 2012.3,1487.8 2012.5,1482.6 2012.7,1500.2 2012.9,1474.4 2013.1,1487.1 2013.3,1487.3 2013.6,1489.4 2013.8,1486.9 2014,1485 2014.2,1487.7 2014.4,1481.8 2014.6,1487.8 2014.8,1491 2015,1474.6 2015.3,1495.2 2015.5,1493.8 2015.7,1497.3 2015.9,1500.6 2016.1,1494.4 2016.3,1496.2 2016.5,1505.7 2016.7,1475.3 2016.9,1497.9 2017.2,1487.4 2017.4,1504.3 2017.6,1496.7 2017.8,1502.3 2018,1504.4 2018.2,1503.9 2018.4,1497.5 2018.6,1497.9 2018.9,1483.3 2019.1,1506.1 2019.3,1479.1 2019.5,1499.3 2019.7,1503.8 2019.9,1493.2 2020.1,1499.2 2020.3,1491.6 2020.5,1491.9 2020.8,1487.6 2021,1497.3 2021.2,1475 2021.4,1473.3 2021.6,1471.3 2021.8,1494 2022,1501.7 2022.2,1492.8 2022.5,1478.8 2022.7,1481.9 2022.9,1471.9 2023.1,1501.5 2023.3,1489.7 2023.5,1500.9 2023.7,1477.4 2023.9,1496.5 2024.1,1500.5 2024.4,1508.7 2024.6,1474.8 2024.8,1482.2 2025,1483.6 2025.2,1501.7 2025.4,1509.8 2025.6,1477.8 2025.8,1506.2 2026.1,1501.3 2026.3,1485.9 2026.5,1489.2 2026.7,1491.9 2026.9,1492.2 2027.1,1502 2027.3,1501.5 2027.5,1501.1 2027.7,1492.3 2028,1498.3 2028.2,1486.8 2028.4,1487.9 2028.6,1500 2028.8,1479.7 2029,1492.9 2029.2,1498 2029.4,1480 2029.7,1497.4 2029.9,1488.7 2030.1,1476.1 2030.3,1484.2 2030.5,1480.3 2030.7,1478.5 2030.9,1493.4 2031.1,1501.8 2031.3,1475 2031.6,1504.6 2031.8,1476 2032,1492.7 2032.2,1506 2032.4,1482 2032.6,1490.8 2032.8,1496.3 2033,1493.3 2033.3,1491.9 2033.5,1483.9 2033.7,1481 2033.9,1493.9 2034.1,1499.2 2034.3,1481 2034.5,1474.4 2034.7,1505.6 2034.9,1482.4 2035.2,1505.1 2035.4,1514.2 2035.6,1480.8 2035.8,1476.3 2036,1482.7 2036.2,1494.5 2036.4,1487.5 2036.6,1498.5 2036.9,1501.7 2037.1,1478.1 2037.3,1485.7 2037.5,1508 2037.7,1511.3 2037.9,1474.5 2038.1,1479.4 2038.3,1479.4 2038.5,1508 2038.8,1498 2039,1476.8 2039.2,1500.4 2039.4,1485.5 2039.6,1490.7 2039.8,1508.2 2040,1489.7 2040.2,1473.6 2040.5,1495.5 2040.7,1479 2040.9,1506.4 2041.1,1495 2041.3,1493.2 2041.5,1506.4 2041.7,1481 2041.9,1504.3 2042.1,1509.2 2042.4,1497.5 2042.6,1492.8 2042.8,1482.2 2043,1483.4 2043.2,1501.3 2043.4,1487.2 2043.6,1488.2 2043.8,1482.3 2044.1,1471.4 2044.3,1482.6 2044.5,1478.6 2044.7,1487.6 2044.9,1480.3 2045.1,1478.8 2045.3,1479.7 2045.5,1487 2045.7,1495.4 2046,1474.8 2046.2,1498.8 2046.4,1509.1 2046.6,1500.5 2046.8,1507.4 2047,1474.4 2047.2,1493 2047.4,1495.7 2047.7,1500.7 2047.9,1483.1 2048.1,1493.2 2048.3,1486.8 2048.5,1500.3 2048.7,1498 2048.9,1498.5 2049.1,1505.7 2049.3,1470.1 2049.6,1489.7 2049.8,1484.3 2050,1486.1 2050.2,1503.2 2050.4,1478 2050.6,1497.5 2050.8,1503.8 2051,1506 2051.3,1502.5 2051.5,1480.2 2051.7,1514.7 2051.9,1471.7 2052.1,1477.9 2052.3,1478.7 2052.5,1483.3 2052.7,1479.2 2052.9,1492.6 2053.2,1475.7 2053.4,1492.7 2053.6,1509 2053.8,1480.6 2054,1483.4 2054.2,1511.3 2054.4,1504.7 2054.6,1488.1 2054.9,1499 2055.1,1476.5 2055.3,1484.2 2055.5,1494.2 2055.7,1511.3 2055.9,1488.5 2056.1,1474.9 2056.3,1476.4 2056.5,1506.5 2056.8,1500.4 2057,1502.3 2057.2,1483.6 2057.4,1486.4 2057.6,1476.5 2057.8,1501 2058,1506.8 2058.2,1486.9 2058.5,1508.5 2058.7,1470.8 2058.9,1485.3 2059.1,1495.3 2059.3,1492.8 2059.5,1475.2 2059.7,1499.9 2059.9,1479.6 2060.1,1501.3 2060.4,1483.9 2060.6,1494.8 2060.8,1476.6 2061,1480.1 2061.2,1494.5 2061.4,1475.6 2061.6,1502.5 2061.8,1506.2 2062.1,1476.9 2062.3,1508.2 2062.5,1492 2062.7,1503.2 2062.9,1493.3 2063.1,1471.2 2063.3,1492.3 2063.5,1481.9 2063.7,1491.5 2064,1485.3 2064.2,1489.7 2064.4,1483.4 2064.6,1500.8 2064.8,1504.8 2065,1500.5 2065.2,1485.5 2065.4,1508.1 2065.7,1506 2065.9,1503.3 2066.1,1478.4 2066.3,1500 2066.5,1484.9 2066.7,1471.6 2066.9,1481.9 2067.1,1499.8 2067.3,1485.3 2067.6,1497.3 2067.8,1504 2068,1485.1 2068.2,1489 2068.4,1488.4 2068.6,1481.6 2068.8,1493.3 2069,1487.2 2069.3,1488 2069.5,1501.5 2069.7,1503.2 2069.9,1478.6 2070.1,1471.4 2070.3,1475.7 2070.5,1477.8 2070.7,1473.6 2070.9,1504.8 2071.2,1489.4 2071.4,1496.6 2071.6,1477.7 2071.8,1471.3 2072,1473.7 2072.2,1508.2 2072.4,1489.6 2072.6,1502.7 2072.9,1504.6 2073.1,1482 2073.3,1502 2073.5,1503.5 2073.7,1481.8 2073.9,1478.9 2074.1,1499.2 2074.3,1502.6 2074.5,1487.2 2074.8,1479.4 2075,1482.9 2075.2,1481.1 2075.4,1480 2075.6,1477.9 2075.8,1493 2076,1503.4 2076.2,1477.7 2076.5,1503.1 2076.7,1499.5 2076.9,1497.2 2077.1,1491.5 2077.3,1470.2 2077.5,1482.6 2077.7,1494.4 2077.9,1474.4 2078.1,1506.2 2078.4,1500.8 2078.6,1502.1 2078.8,1487.9 2079,1498.2 2079.2,1506 2079.4,1478.5 2079.6,1497.5 2079.8,1506.6 2080.1,1489.3 2080.3,1493.4 2080.5,1486.7 2080.7,1491.5 2080.9,1474.7 2081.1,1491.3 2081.3,1495.1 2081.5,1478.6 2081.7,1488 2082,1471 2082.2,1478 2082.4,1484.6 2082.6,1496.7 2082.8,1500.1 2083,1478.4 2083.2,1492.7 2083.4,1493.2 2083.7,1491.9 2083.9,1510.7 2084.1,1484.9 2084.3,1504.5 2084.5,1503.6 2084.7,1494.5 2084.9,1499.2 2085.1,1475.9 2085.3,1485.7 2085.6,1497.8 2085.8,1501.9 2086,1482.5 2086.2,1492.1 2086.4,1469.5 2086.6,1487.6 2086.8,1486.9 2087,1472.4 2087.3,1479 2087.5,1487.5 2087.7,1480.6 2087.9,1467 2088.1,1478.4 2088.3,1478.5 2088.5,1477 2088.7,1482.8 2088.9,1479.6 2089.2,1497.7 2089.4,1506.3 2089.6,1499.3 2089.8,1476.2 2090,1491.2 2090.2,1485.7 2090.4,1495.2 2090.6,1477 2090.9,1480 2091.1,1494.7 2091.3,1506.4 2091.5,1495.1 2091.7,1503.5 2091.9,1485.8 2092.1,1489.7 2092.3,1493.3 2092.5,1493.2 2092.8,1491.5 2093,1493.3 2093.2,1488.7 2093.4,1490.2 2093.6,1482.5 2093.8,1475.2 2094,1493.4 2094.2,1475.3 2094.5,1502.1 2094.7,1506.8 2094.9,1487.2 2095.1,1503.5 2095.3,1473.9 2095.5,1475.7 2095.7,1508.8 2095.9,1488.8 2096.1,1503.9 2096.4,1500.7 2096.6,1495.3 2096.8,1485.6 2097,1479.9 2097.2,1495.3 2097.4,1496.9 2097.6,1463.3 2097.8,1455.5 2098.1,1468.5 2098.3,1443.6 2098.5,1425.1 2098.7,1386 2098.9,1384.2 2099.1,1336.7 2099.3,1333.2 2099.5,1287.7 2099.7,1271.1 2100,1255.8 2100.2,1231.8 2100.4,1214 2100.6,1173.9 2100.8,1145.8 2101,1116.4 2101.2,1132.9 2101.4,1098.8 2101.6,1084.1 2101.9,1071.1 2102.1,1077.4 2102.3,1042 2102.5,1021.9 2102.7,1023.4 2102.9,1047.4 2103.1,1043.5 2103.3,1064.2 2103.6,1105.2 2103.8,1163.7 2104,1185.4 2104.2,1225.4 2104.4,1266.5 2104.6,1319.6 2104.8,1336 2105,1335.4 2105.2,1338.2 2105.5,1301.6 2105.7,1248.3 2105.9,1201.6 2106.1,1140.7 2106.3,1106.8 2106.5,1048.3 2106.7,999.9 2106.9,1009.7 2107.2,988.8 2107.4,980.2 2107.6,966.1 2107.8,996.3 2108,998.4 2108.2,1025.9 2108.4,1025.5 2108.6,1057.4 2108.8,1108.5 2109.1,1154.5 2109.3,1189.4 2109.5,1206 2109.7,1246.2 2109.9,1308.9 2110.1,1318.2 2110.3,1349.7 2110.5,1381.9 2110.8,1415.8 2111,1428.9 2111.2,1447.3 2111.4,1486.8 2111.6,1470.7 2111.8,1487.5 2112,1505 2112.2,1489.8 2112.4,1471.6 2112.7,1481.3 2112.9,1504.9 2113.1,1471.7 2113.3,1478.8 2113.5,1507.1 2113.7,1493.2 2113.9,1499.1 2114.1,1474.9 2114.4,1488.6 2114.6,1483.9 2114.8,1477.4 2115,1509.5 2115.2,1501.4 2115.4,1487.7 2115.6,1491.7 2115.8,1497 2116,1484.5 2116.3,1491.6 2116.5,1501 2116.7,1493.6 2116.9,1496.6 2117.1,1482.9 2117.3,1491 2117.5,1492.1 2117.7,1502 2118,1487.8 2118.2,1504.9 2118.4,1484.9 2118.6,1471.7 2118.8,1477.5 2119,1508.5 2119.2,1495.6 2119.4,1504.8 2119.6,1493.1 2119.9,1496 2120.1,1495.3 2120.3,1473.9 2120.5,1498.1 2120.7,1490.3 2120.9,1490.7 2121.1,1501.3 2121.3,1487.3 2121.6,1503.3 2121.8,1505.6 2122,1474.7 2122.2,1488.8 2122.4,1482.5 2122.6,1475.7 2122.8,1476.7 2123,1480.9 2123.2,1484.7 2123.5,1487.9 2123.7,1496 2123.9,1478.1 2124.1,1484.7 2124.3,1469.5 2124.5,1500 2124.7,1481.8 2124.9,1509.9 2125.2,1480.3 2125.4,1506.9 2125.6,1505.6 2125.8,1482.7 2126,1513.3 2126.2,1480 2126.4,1499.8 2126.6,1484.1 2126.8,1516.4 2127.1,1480.9 2127.3,1501.7 2127.5,1482.7 2127.7,1504.2 2127.9,1495.4 2128.1,1498.7 2128.3,1468 2128.5,1488.8 2128.8,1508.3 2129,1494.3 2129.2,1486 2129.4,1493.1 2129.6,1505.1 2129.8,1508.3 2130,1495.4 2130.2,1489.6 2130.4,1511.2 2130.7,1481.8 2130.9,1509.8 2131.1,1491.2 2131.3,1502.4 2131.5,1506.8 2131.7,1485 2131.9,1508.7 2132.1,1502.8 2132.4,1501.6 2132.6,1500.4 2132.8,1492.4 2133,1507.7 2133.2,1484.8 2133.4,1507.9 2133.6,1505.4 2133.8,1488.7 2134,1476.7 2134.3,1509.6 2134.5,1473.7 2134.7,1498.4 2134.9,1477.8 2135.1,1493 2135.3,1510.9 2135.5,1489.7 2135.7,1484.7 2136,1471 2136.2,1491.1 2136.4,1482.2 2136.6,1495 2136.8,1500 2137,1489.7 2137.2,1484.3 2137.4,1480.2 2137.6,1470.5 2137.9,1490.9 2138.1,1507 2138.3,1507.2 2138.5,1479.5 2138.7,1473.1 2138.9,1503.7 2139.1,1488.9 2139.3,1471.2 2139.6,1484.5 2139.8,1490.2 2140,1473.4 2140.2,1501.8 2140.4,1473.2 2140.6,1500.1 2140.8,1490.4 2141,1481 2141.2,1492.9 2141.5,1486.6 2141.7,1490.4 2141.9,1506.1 2142.1,1482.8 2142.3,1487.2 2142.5,1477 2142.7,1489.9 2142.9,1477.4 2143.2,1480.9 2143.4,1483.2 2143.6,1488.7 2143.8,1484.6 2144,1497.1 2144.2,1500.6 2144.4,1504 2144.6,1490.6 2144.8,1485.7 2145.1,1490.4 2145.3,1498.5 2145.5,1483.4 2145.7,1496.2 2145.9,1497.4 2146.1,1481.4 2146.3,1486.4 2146.5,1507.4 2146.8,1476.4 2147,1513.1 2147.2,1504.8 2147.4,1505.6 2147.6,1503.7 2147.8,1489.9 2148,1504.7 2148.2,1491.9 2148.4,1491.6 2148.7,1499.9 2148.9,1501.5 2149.1,1494.2 2149.3,1476 2149.5,1477.9 2149.7,1476.7 2149.9,1477.5 2150.1,1503.8 2150.4,1491 2150.6,1480.7 2150.8,1498.3 2151,1504.2 2151.2,1476.7 2151.4,1485.7 2151.6,1501.8 2151.8,1482 2152,1484.4 2152.3,1492.7 2152.5,1493 2152.7,1490.7 2152.9,1508.8 2153.1,1482 2153.3,1508 2153.5,1483.7 2153.7,1497.1 2154,1491.9 2154.2,1478.1 2154.4,1471.9 2154.6,1500.5 2154.8,1486.8 2155,1474.7 2155.2,1510.1 2155.4,1487.2 2155.6,1498.1 2155.9,1476.6 2156.1,1493.5 2156.3,1472.9 2156.5,1509.3 2156.7,1496.9 2156.9,1475 2157.1,1500.4 2157.3,1504.8 2157.6,1483.8 2157.8,1489.1 2158,1475.1 2158.2,1477.6 2158.4,1475.7 2158.6,1487.5 2158.8,1488.1 2159,1470.4 2159.2,1472.8 2159.5,1463.8 2159.7,1484.8 2159.9,1486.2 2160.1,1476.3 2160.3,1512.1 2160.5,1496 2160.7,1496.9 2160.9,1474 2161.2,1479.4 2161.4,1484.2 2161.6,1480.4 2161.8,1483.9 2162,1505.2 2162.2,1485.4 2162.4,1480.4 2162.6,1475.7 2162.8,1497.8 2163.1,1498.1 2163.3,1494.8 2163.5,1510.7 2163.7,1487.6 2163.9,1495.7 2164.1,1478.6 2164.3,1506.7 2164.5,1477.2 2164.8,1485.6 2165,1513.5 2165.2,1480.1 2165.4,1494.2 2165.6,1489.2 2165.8,1481.7 2166,1474.1 2166.2,1473.9 2166.4,1486.3 2166.7,1479.7 2166.9,1480.6 2167.1,1476.2 2167.3,1503.9 2167.5,1480.9 2167.7,1502 2167.9,1497.8 2168.1,1500 2168.4,1504.3 2168.6,1513 2168.8,1502.9 2169,1483.4 2169.2,1493.9 2169.4,1496.6 2169.6,1502.7 2169.8,1501.4 2170,1502.6 2170.3,1479.1 2170.5,1488.6 2170.7,1501.9 2170.9,1482.1 2171.1,1495.2 2171.3,1471.5 2171.5,1489.8 2171.7,1498.8 2172,1480.7 2172.2,1486.3 2172.4,1487.8 2172.6,1472.7 2172.8,1495.3 2173,1508.9 2173.2,1482.1 2173.4,1504.9 2173.6,1470.2 2173.9,1471.3 2174.1,1488.4 2174.3,1496.9 2174.5,1505.6 2174.7,1497.3 2174.9,1491.4 2175.1,1487 2175.3,1499.4 2175.6,1484.3 2175.8,1490 2176,1498.5 2176.2,1484.3 2176.4,1470.2 2176.6,1472.2 2176.8,1476.4 2177,1477.2 2177.2,1480.6 2177.5,1469.6 2177.7,1501.7 2177.9,1481.7 2178.1,1475.3 2178.3,1481.1 2178.5,1475.6 2178.7,1492.4 2178.9,1504.8 2179.2,1487.8 2179.4,1506.7 2179.6,1487.2 2179.8,1477.7 2180,1508.1 2180.2,1495.9 2180.4,1508 2180.6,1494 2180.8,1496.6 2181.1,1500.3 2181.3,1495.2 2181.5,1467.3 2181.7,1481.6 2181.9,1478.6 2182.1,1477.7 2182.3,1494 2182.5,1465 2182.8,1462.9 2183,1469 2183.2,1459.2 2183.4,1450.2 2183.6,1475.9 2183.8,1462.8 2184,1430.3 2184.2,1434.5 2184.4,1459.3 2184.7,1453.3 2184.9,1428.3 2185.1,1439.3 2185.3,1451 2185.5,1438.8 2185.7,1420.9 2185.9,1431.3 2186.1,1445.1 2186.4,1454.4 2186.6,1447 2186.8,1434 2187,1463.1 2187.2,1445.2 2187.4,1439.4 2187.6,1445.9 2187.8,1452.2 2188,1444 2188.3,1440.9 2188.5,1459.4 2188.7,1449.8 2188.9,1460.8 2189.1,1451.8 2189.3,1442.1 2189.5,1435 2189.7,1453.7 2190,1431.9 2190.2,1450.5 2190.4,1434.8 2190.6,1429 2190.8,1439.7 2191,1437.1 2191.2,1429.2 2191.4,1441.7 2191.6,1425.6 2191.9,1456 2192.1,1446.9 2192.3,1455.2 2192.5,1445 2192.7,1461.7 2192.9,1458.8 2193.1,1449.2 2193.3,1451.1 2193.6,1442 2193.8,1460.7 2194,1455.4 2194.2,1426.8 2194.4,1435.1 2194.6,1426.9 2194.8,1440.8 2195,1447.6 2195.2,1455.8 2195.5,1441.4 2195.7,1429.1 2195.9,1432.8 2196.1,1461.6 2196.3,1441.9 2196.5,1462.4 2196.7,1455.6 2196.9,1468.6 2197.2,1478 2197.4,1482.2 2197.6,1465.4 2197.8,1493.7 2198,1480.1 2198.2,1457.9 2198.4,1471.7 2198.6,1493.5 2198.8,1491.5 2199.1,1486.7 2199.3,1497.3 2199.5,1506.9 2199.7,1488.2 2199.9,1491.8 2200.1,1468.8 2200.3,1505.9 2200.5,1474.4 2200.8,1490.4 2201,1481 2201.2,1472.2 2201.4,1497.3 2201.6,1492.2 2201.8,1494.1 2202,1477.6 2202.2,1495.3 2202.4,1490.1 2202.7,1496.5 2202.9,1500.4 2203.1,1485.9 2203.3,1489.8 2203.5,1490.5 2203.7,1498.9 2203.9,1483.8 2204.1,1484.4 2204.3,1489.5 2204.6,1473 2204.8,1470.8 2205,1518.5 2205.2,1509.5 2205.4,1474.2 2205.6,1478.1 2205.8,1478.7 2206,1486.8 2206.3,1475.8 2206.5,1479.5 2206.7,1476.2 2206.9,1500.7 2207.1,1476.4 2207.3,1509.4 2207.5,1470.5 2207.7,1497.5 2207.9,1482.6 2208.2,1510.4 2208.4,1474.8 2208.6,1480.9 2208.8,1504.3 2209,1481.7 2209.2,1498.6 2209.4,1474 2209.6,1478.1 2209.9,1473.2 2210.1,1507.3 2210.3,1473.9 2210.5,1491.7 2210.7,1487.4 2210.9,1499.5 2211.1,1473.2 2211.3,1485.8 2211.5,1498.3 2211.8,1487.4 2212,1511 2212.2,1462.1 2212.4,1474.8 2212.6,1514.2 2212.8,1481.1 2213,1482.6 2213.2,1508.1 2213.5,1495.7 2213.7,1475.6 2213.9,1496.1 2214.1,1485.3 2214.3,1512 2214.5,1478.1 2214.7,1485.1 2214.9,1494.7 2215.1,1496 2215.4,1475.1 2215.6,1471.7 2215.8,1480 2216,1478.6 2216.2,1472.6 2216.4,1480.8 2216.6,1486.9 2216.8,1482.6 2217.1,1484.2 2217.3,1499.2 2217.5,1482.3 2217.7,1509.7 2217.9,1501.8 2218.1,1506.9 2218.3,1490.1 2218.5,1481.2 2218.7,1494.5 2219,1508.6 2219.2,1478.3 2219.4,1499 2219.6,1486.2 2219.8,1501 2220,1508.3 2220.2,1505.1 2220.4,1476.2 2220.7,1504.2 2220.9,1476.2 2221.1,1471.2 2221.3,1480 2221.5,1512.8 2221.7,1488.7 2221.9,1475 2222.1,1504.4 2222.3,1489.1 2222.6,1506.7 2222.8,1497.6 2223,1475.6 2223.2,1512.9 2223.4,1474.3 2223.6,1503.4 2223.8,1467.7 2224,1505.5 2224.3,1470 2224.5,1499.5 2224.7,1485 2224.9,1488.8 2225.1,1467.2 2225.3,1482.5 2225.5,1469.9 2225.7,1503.1 2225.9,1500.3 2226.2,1471.3 2226.4,1482.5 2226.6,1491.6 2226.8,1494.4 2227,1491.7 2227.2,1478 2227.4,1501.2 2227.6,1502.2 2227.9,1503.5 2228.1,1486.8 2228.3,1510.2 2228.5,1502.4 2228.7,1469 2228.9,1506.2 2229.1,1491.5 2229.3,1507.1 2229.5,1499.9 2229.8,1469.8 2230,1508.8 2230.2,1501.8 2230.4,1477.7 2230.6,1479.1 2230.8,1480.6 2231,1496.6 2231.2,1480.2 2231.5,1482.2 2231.7,1495.7 2231.9,1511.5 2232.1,1509 2232.3,1501 2232.5,1474.3 2232.7,1477.7 2232.9,1502.5 2233.1,1500.8 2233.4,1489.5 2233.6,1480.4 2233.8,1513.7 2234,1476 2234.2,1508.8 2234.4,1470.9 2234.6,1479.1 2234.8,1488.7 2235.1,1483.8 2235.3,1486.9 2235.5,1477.6 2235.7,1496.2 2235.9,1508.9 2236.1,1502.2 2236.3,1504.6 2236.5,1485.6 2236.7,1478.5 2237,1514.5 2237.2,1490.7 2237.4,1473.7 2237.6,1511.4 2237.8,1480.8 2238,1482.8 2238.2,1475.2 2238.4,1473.1 2238.7,1479.1 2238.9,1496.8 2239.1,1492.5 2239.3,1477.3 2239.5,1467.8 2239.7,1511.2 2239.9,1494.4 2240.1,1469.1 2240.3,1506.1 2240.6,1479.9 2240.8,1476 2241,1503.2 2241.2,1474.4 2241.4,1484.8 2241.6,1506.8 2241.8,1488.9 2242,1512.3 2242.3,1484.8 2242.5,1503.1 2242.7,1506 2242.9,1491.6 2243.1,1478.1 2243.3,1468.8 2243.5,1480.6 2243.7,1494.2 2243.9,1478.7 2244.2,1498.8 2244.4,1498.8 2244.6,1473.6 2244.8,1483.7 2245,1514.1 2245.2,1485.4 2245.4,1480.8 2245.6,1486.4 2245.9,1493.8 2246.1,1473.3 2246.3,1511.4 2246.5,1475.9 2246.7,1474.3 2246.9,1486.6 2247.1,1484.6 2247.3,1495.4 2247.5,1507.2 2247.8,1475.2 2248,1496.6 2248.2,1507.4 2248.4,1472.3 2248.6,1483.1 2248.8,1507.2 2249,1505.8 2249.2,1509.4 2249.5,1488.8 2249.7,1517.1 2249.9,1499.9 2250.1,1511.1 2250.3,1478.2 2250.5,1493.4 2250.7,1504.1 2250.9,1499.1 2251.1,1472.9 2251.4,1480.9 2251.6,1483.4 2251.8,1470.7 2252,1509.3 2252.2,1496.4 2252.4,1501 2252.6,1489.1 2252.8,1469.3 2253.1,1483.4 2253.3,1499.3 2253.5,1479.6 2253.7,1484.9 2253.9,1472.8 2254.1,1508.7 2254.3,1485.1 2254.5,1511.9 2254.7,1466.5 2255,1492.2 2255.2,1476 2255.4,1475 2255.6,1491.5 2255.8,1494.1 2256,1480.5 2256.2,1497.3 2256.4,1470.8 2256.7,1493 2256.9,1474 2257.1,1492.6 2257.3,1516.5 2257.5,1484.9 2257.7,1485.2 2257.9,1481.6 2258.1,1465.3 2258.3,1503.4 2258.6,1491.5 2258.8,1478.1 2259,1488 2259.2,1472.8 2259.4,1491 2259.6,1507.1 2259.8,1501.2 2260,1502 2260.3,1509.7 2260.5,1474.2 2260.7,1474.5 2260.9,1494.9 2261.1,1492.1 2261.3,1471.4 2261.5,1476.7 2261.7,1507 2261.9,1508.7 2262.2,1495.9 2262.4,1481.2 2262.6,1497.4 2262.8,1501.7 2263,1497.5 2263.2,1469.2 2263.4,1497.7 2263.6,1494.7 2263.9,1493.9 2264.1,1492.4 2264.3,1496.3 2264.5,1473.5 2264.7,1483.7 2264.9,1474.8 2265.1,1485.9 2265.3,1502 2265.5,1511.2 2265.8,1479.4 2266,1485.4 2266.2,1506.8 2266.4,1479.6 2266.6,1479.1 2266.8,1477.8 2267,1470.3 2267.2,1493 2267.5,1479.7 2267.7,1467.5 2267.9,1503.1 2268.1,1473.3 2268.3,1484.7 2268.5,1474.6 2268.7,1491.8 2268.9,1500.8 2269.1,1494.9 2269.4,1470.3 2269.6,1484.9 2269.8,1494.2 2270,1476.7 2270.2,1494.3 2270.4,1497.6 2270.6,1466.8 2270.8,1491 2271.1,1502 2271.3,1509.7 2271.5,1506.5 2271.7,1480.1 2271.9,1483.8 2272.1,1482.3 2272.3,1469 2272.5,1502.8 2272.7,1487.3 2273,1500.3 2273.2,1514 2273.4,1506.6 2273.6,1495.1 2273.8,1484.6 2274,1490.2 2274.2,1481.7 2274.4,1502.4 2274.7,1498.5 2274.9,1497.7 2275.1,1500.6 2275.3,1476.1 2275.5,1482.8 2275.7,1496.8 2275.9,1507.4 2276.1,1511.9 2276.3,1489.9 2276.6,1496.2 2276.8,1504.7 2277,1510 2277.2,1495.7 2277.4,1476.2 2277.6,1499.9 2277.8,1472.9 2278,1513.2 2278.3,1515.9 2278.5,1485.9 2278.7,1515.7 2278.9,1486 2279.1,1482.1 2279.3,1485.4 2279.5,1488.1 2279.7,1466.4 2279.9,1473.8 2280.2,1496.4 2280.4,1466.8 2280.6,1503.7 2280.8,1493.1 2281,1506.2 2281.2,1497.5 2281.4,1480.5 2281.6,1476.5 2281.9,1472 2282.1,1511 2282.3,1478.9 2282.5,1515.9 2282.7,1472.1 2282.9,1486.1 2283.1,1472.8 2283.3,1511.3 2283.5,1485.6 2283.8,1496.5 2284,1509.9 2284.2,1479 2284.4,1502.9 2284.6,1502.9 2284.8,1504.8 2285,1516.1 2285.2,1513 2285.5,1486.2 2285.7,1486 2285.9,1488.7 2286.1,1496.2 2286.3,1495.3 2286.5,1496.1 2286.7,1509.4 2286.9,1514.1 2287.1,1507.1 2287.4,1513.7 2287.6,1505.3 2287.8,1496.7 2288,1494.2 2288.2,1495.6 2288.4,1508.1 2288.6,1468.1 2288.8,1489.3 2289.1,1503.9 2289.3,1466.2 2289.5,1472.1 2289.7,1477.2 2289.9,1480.7 2290.1,1481.5 2290.3,1504.5 2290.5,1485.4 2290.7,1502.4 2291,1507.3 2291.2,1479.4 2291.4,1504.9 2291.6,1485.3 2291.8,1477.2 2292,1477.4 2292.2,1496.4 2292.4,1468.3 2292.7,1481.6 2292.9,1509 2293.1,1498.2 2293.3,1493.7 2293.5,1498.5 2293.7,1490.2 2293.9,1477.8 2294.1,1518.7 2294.3,1517.6 2294.6,1494.8 2294.8,1492.5 2295,1470.4 2295.2,1495.9 2295.4,1478 2295.6,1484 2295.8,1483.2 2296,1498.1 2296.3,1482.7 2296.5,1473.1 2296.7,1467.3 2296.9,1479.3 2297.1,1504.3 2297.3,1464.1 2297.5,1500.4 2297.7,1489.3 2297.9,1510.7 2298.2,1503.9 2298.4,1497.5 2298.6,1514.9 2298.8,1476.8 2299,1495.2 2299.2,1497.5 2299.4,1495 2299.6,1492 2299.9,1481.2 2300.1,1505.1 2300.3,1482.2 2300.5,1511.8 2300.7,1470 2300.9,1482.1 2301.1,1497.3 2301.3,1488.9 2301.5,1505.1 2301.8,1507.7 2302,1491.2 2302.2,1489.1 2302.4,1501.4 2302.6,1473.1 2302.8,1506.7 2303,1500.8 2303.2,1487.6 2303.5,1475.5 2303.7,1484.1 2303.9,1475 2304.1,1477.8 2304.3,1498.4 2304.5,1498.1 2304.7,1507.3 2304.9,1473.3 2305.1,1481.1 2305.4,1479 2305.6,1478.5 2305.8,1497.2 2306,1488.4 2306.2,1500.7 2306.4,1480.4 2306.6,1472.5 2306.8,1483.1 2307,1493.3 2307.3,1482.3 2307.5,1483.4 2307.7,1466.3 2307.9,1463.6 2308.1,1474.8 2308.3,1468.9 2308.5,1494.1 2308.7,1467 2309,1491.4 2309.2,1469.1 2309.4,1502.5 2309.6,1475.4 2309.8,1504.9 2310,1495.6 2310.2,1510.3 2310.4,1512.6 2310.6,1496.8 2310.9,1515.1 2311.1,1489.4 2311.3,1495.6 2311.5,1479.1 2311.7,1478.9 2311.9,1468.8 2312.1,1494.2 2312.3,1486.6 2312.6,1498 2312.8,1496.8 2313,1490.7 2313.2,1480.7 2313.4,1514.9 2313.6,1507.9 2313.8,1487.4 2314,1472 2314.2,1481.6 2314.5,1484 2314.7,1489.1 2314.9,1475.6 2315.1,1500.6 2315.3,1499.3 2315.5,1510 2315.7,1501.8 2315.9,1474.5 2316.2,1505.2 2316.4,1472.4 2316.6,1505 2316.8,1514.3 2317,1473.5 2317.2,1500.8 2317.4,1504.6 2317.6,1476.4 2317.8,1484.2 2318.1,1474.8 2318.3,1487 2318.5,1497.3 2318.7,1494.8 2318.9,1482.2 2319.1,1494.3 2319.3,1499 2319.5,1500.2 2319.8,1512.5 2320,1497.5 2320.2,1498.5 2320.4,1492.8 2320.6,1484.2 2320.8,1498.1 2321,1500.2 2321.2,1483.8 2321.4,1481.5 2321.7,1495.6 2321.9,1476 2322.1,1510.9 2322.3,1476.2 2322.5,1475.4 2322.7,1484.7 2322.9,1496.1 2323.1,1474.6 2323.4,1503 2323.6,1479.3 2323.8,1515.3 2324,1510.5" fill="none" stroke="#ff0000" stroke-width="3.5" stroke-linejoin="round" clip-path="url(#cp2)"/>
<path d="M308.8 2327.1v-13.2M308.8 1712.5v13.2M329.2 2327.1v-13.2M329.2 1712.5v13.2M349.6 2327.1v-13.2M349.6 1712.5v13.2M370 2327.1v-13.2M370 1712.5v13.2M390.3 2327.1v-13.2M390.3 1712.5v13.2M410.7 2327.1v-13.2M410.7 1712.5v13.2M431.1 2327.1v-13.2M431.1 1712.5v13.2M451.5 2327.1v-13.2M451.5 1712.5v13.2M471.8 2327.1v-13.2M471.8 1712.5v13.2M512.6 2327.1v-13.2M512.6 1712.5v13.2M533 2327.1v-13.2M533 1712.5v13.2M553.4 2327.1v-13.2M553.4 1712.5v13.2M573.7 2327.1v-13.2M573.7 1712.5v13.2M594.1 2327.1v-13.2M594.1 1712.5v13.2M614.5 2327.1v-13.2M614.5 1712.5v13.2M634.9 2327.1v-13.2M634.9 1712.5v13.2M655.2 2327.1v-13.2M655.2 1712.5v13.2M675.6 2327.1v-13.2M675.6 1712.5v13.2M716.4 2327.1v-13.2M716.4 1712.5v13.2M736.8 2327.1v-13.2M736.8 1712.5v13.2M757.1 2327.1v-13.2M757.1 1712.5v13.2M777.5 2327.1v-13.2M777.5 1712.5v13.2M797.9 2327.1v-13.2M797.9 1712.5v13.2M818.3 2327.1v-13.2M818.3 1712.5v13.2M838.6 2327.1v-13.2M838.6 1712.5v13.2M859 2327.1v-13.2M859 1712.5v13.2M879.4 2327.1v-13.2M879.4 1712.5v13.2M920.2 2327.1v-13.2M920.2 1712.5v13.2M940.5 2327.1v-13.2M940.5 1712.5v13.2M960.9 2327.1v-13.2M960.9 1712.5v13.2M981.3 2327.1v-13.2M981.3 1712.5v13.2M1001.7 2327.1v-13.2M1001.7 1712.5v13.2M1022 2327.1v-13.2M1022 1712.5v13.2M1042.4 2327.1v-13.2M1042.4 1712.5v13.2M1062.8 2327.1v-13.2M1062.8 1712.5v13.2M1083.2 2327.1v-13.2M1083.2 1712.5v13.2M1123.9 2327.1v-13.2M1123.9 1712.5v13.2M1144.3 2327.1v-13.2M1144.3 1712.5v13.2M1164.7 2327.1v-13.2M1164.7 1712.5v13.2M1185.1 2327.1v-13.2M1185.1 1712.5v13.2M1205.4 2327.1v-13.2M1205.4 1712.5v13.2M1225.8 2327.1v-13.2M1225.8 1712.5v13.2M1246.2 2327.1v-13.2M1246.2 1712.5v13.2M1266.6 2327.1v-13.2M1266.6 1712.5v13.2M1286.9 2327.1v-13.2M1286.9 1712.5v13.2M1327.7 2327.1v-13.2M1327.7 1712.5v13.2M1348.1 2327.1v-13.2M1348.1 1712.5v13.2M1368.5 2327.1v-13.2M1368.5 1712.5v13.2M1388.8 2327.1v-13.2M1388.8 1712.5v13.2M1409.2 2327.1v-13.2M1409.2 1712.5v13.2M1429.6 2327.1v-13.2M1429.6 1712.5v13.2M1450 2327.1v-13.2M1450 1712.5v13.2M1470.3 2327.1v-13.2M1470.3 1712.5v13.2M1490.7 2327.1v-13.2M1490.7 1712.5v13.2M1531.5 2327.1v-13.2M1531.5 1712.5v13.2M1551.9 2327.1v-13.2M1551.9 1712.5v13.2M1572.2 2327.1v-13.2M1572.2 1712.5v13.2M1592.6 2327.1v-13.2M1592.6 1712.5v13.2M1613 2327.1v-13.2M1613 1712.5v13.2M1633.4 2327.1v-13.2M1633.4 1712.5v13.2M1653.7 2327.1v-13.2M1653.7 1712.5v13.2M1674.1 2327.1v-13.2M1674.1 1712.5v13.2M1694.5 2327.1v-13.2M1694.5 1712.5v13.2M1735.3 2327.1v-13.2M1735.3 1712.5v13.2M1755.6 2327.1v-13.2M1755.6 1712.5v13.2M1776 2327.1v-13.2M1776 1712.5v13.2M1796.4 2327.1v-13.2M1796.4 1712.5v13.2M1816.8 2327.1v-13.2M1816.8 1712.5v13.2M1837.1 2327.1v-13.2M1837.1 1712.5v13.2M1857.5 2327.1v-13.2M1857.5 1712.5v13.2M1877.9 2327.1v-13.2M1877.9 1712.5v13.2M1898.3 2327.1v-13.2M1898.3 1712.5v13.2M1939 2327.1v-13.2M1939 1712.5v13.2M1959.4 2327.1v-13.2M1959.4 1712.5v13.2M1979.8 2327.1v-13.2M1979.8 1712.5v13.2M2000.2 2327.1v-13.2M2000.2 1712.5v13.2M2020.5 2327.1v-13.2M2020.5 1712.5v13.2M2040.9 2327.1v-13.2M2040.9 1712.5v13.2M2061.3 2327.1v-13.2M2061.3 1712.5v13.2M2081.7 2327.1v-13.2M2081.7 1712.5v13.2M2102 2327.1v-13.2M2102 1712.5v13.2M2142.8 2327.1v-13.2M2142.8 1712.5v13.2M2163.2 2327.1v-13.2M2163.2 1712.5v13.2M2183.6 2327.1v-13.2M2183.6 1712.5v13.2M2203.9 2327.1v-13.2M2203.9 1712.5v13.2M2224.3 2327.1v-13.2M2224.3 1712.5v13.2M2244.7 2327.1v-13.2M2244.7 1712.5v13.2M2265.1 2327.1v-13.2M2265.1 1712.5v13.2M2285.4 2327.1v-13.2M2285.4 1712.5v13.2M2305.8 2327.1v-13.2M2305.8 1712.5v13.2M288.4 2327.1v-26.3M288.4 1712.5v26.3M492.2 2327.1v-26.3M492.2 1712.5v26.3M696 2327.1v-26.3M696 1712.5v26.3M899.8 2327.1v-26.3M899.8 1712.5v26.3M1103.5 2327.1v-26.3M1103.5 1712.5v26.3M1307.3 2327.1v-26.3M1307.3 1712.5v26.3M1511.1 2327.1v-26.3M1511.1 1712.5v26.3M1714.9 2327.1v-26.3M1714.9 1712.5v26.3M1918.6 2327.1v-26.3M1918.6 1712.5v26.3M2122.4 2327.1v-26.3M2122.4 1712.5v26.3M2326.2 2327.1v-26.3M2326.2 1712.5v26.3M288.4 2315.1h26.3M2326.2 2315.1h-26.3M288.4 2256h13.2M2326.2 2256h-13.2M288.4 2196.9h26.3M2326.2 2196.9h-26.3M288.4 2137.7h13.2M2326.2 2137.7h-13.2M288.4 2078.6h26.3M2326.2 2078.6h-26.3M288.4 2019.5h13.2M2326.2 2019.5h-13.2M288.4 1960.4h26.3M2326.2 1960.4h-26.3M288.4 1901.3h13.2M2326.2 1901.3h-13.2M288.4 1842.1h26.3M2326.2 1842.1h-26.3M288.4 1783h13.2M2326.2 1783h-13.2M288.4 1723.9h26.3M2326.2 1723.9h-26.3" stroke="#000" stroke-width="6.6" stroke-linecap="round" fill="none"/>
<rect x="288.4" y="1712.5" width="2037.7" height="614.6" fill="none" stroke="#000" stroke-width="6.6" stroke-linejoin="round"/>
<clipPath id="cp3"><rect x="288.4" y="1712.5" width="2037.7" height="614.6"/></clipPath>
<defs><marker id="mk" markerWidth="24" markerHeight="24" refX="12" refY="12" markerUnits="userSpaceOnUse" overflow="visible"><circle cx="12" cy="12" r="8.2" fill="none" stroke="#ff0000" stroke-width="2.2"/></marker></defs>
<polyline points="288.4,2312.8 290,2311.1 291.5,2312.5 293,2312.9 294.6,2312.8 296.1,2313.1 297.6,2310.6 299.1,2311.4 300.7,2311.3 302.2,2312.5 303.7,2311.7 305.3,2311.9 306.8,2311.4 308.3,2311.2 309.8,2311.2 311.4,2312.4 312.9,2311.6 314.4,2313.3 316,2311.7 317.5,2312.6 319,2313.7 320.5,2312.2 322.1,2311.6 323.6,2311.1 325.1,2312.5 326.7,2312.7 328.2,2313.2 329.7,2311.5 331.2,2310.7 332.8,2312.4 334.3,2311.7 335.8,2311.2 337.4,2312.9 338.9,2311.7 340.4,2311.5 341.9,2312 343.5,2312.2 345,2312.4 346.5,2309.3 348.1,2305.8 349.6,2303.1 351.1,2305.4 352.6,2309.8 354.2,2310.3 355.7,2313.2 357.2,2312.7 358.8,2312.5 360.3,2312 361.8,2313.1 363.3,2311.3 364.9,2312.1 366.4,2311.8 367.9,2313.3 369.5,2312.5 371,2311.9 372.5,2311.8 374,2311.4 375.6,2312 377.1,2312.4 378.6,2315.3 380.1,2311.7 381.7,2312.2 383.2,2312.3 384.7,2311.8 386.3,2312.7 387.8,2311.7 389.3,2311.6 390.8,2311.8 392.4,2313.4 393.9,2312.1 395.4,2312 397,2312.2 398.5,2311.9 400,2312 401.5,2312.7 403.1,2309.8 404.6,2312.8 406.1,2313 407.7,2311.4 409.2,2311.2 410.7,2311.1 412.2,2311.3 413.8,2313.6 415.3,2313.1 416.8,2310.6 418.4,2311.1 419.9,2312.4 421.4,2311.6 422.9,2312.9 424.5,2312.6 426,2311.9 427.5,2311.3 429.1,2310.9 430.6,2314 432.1,2311.4 433.6,2311.1 435.2,2312 436.7,2311.1 438.2,2311.5 439.8,2311.3 441.3,2311.4 442.8,2304.3 444.3,2300.7 445.9,2301.8 447.4,2306.8 448.9,2309.8 450.5,2311.5 452,2311.9 453.5,2311.9 455,2311.1 456.6,2309.7 458.1,2311.3 459.6,2312.4 461.1,2312 462.7,2311.2 464.2,2312.7 465.7,2312.3 467.3,2311.9 468.8,2310.2 470.3,2311.5 471.8,2313.3 473.4,2312.8 474.9,2310.9 476.4,2313.4 478,2313.8 479.5,2313.3 481,2311.8 482.5,2311.5 484.1,2313.3 485.6,2312.3 487.1,2311.6 488.7,2311.6 490.2,2312.6 491.7,2311.4 493.2,2311.9 494.8,2310.6 496.3,2312 497.8,2311.5 499.4,2310.6 500.9,2311.8 502.4,2311.9 503.9,2312.3 505.5,2311.5 507,2313.7 508.5,2312.8 510.1,2311.8 511.6,2311.3 513.1,2310.1 514.6,2310.6 516.2,2311.4 517.7,2312.5 519.2,2313.5 520.8,2310.7 522.3,2314.3 523.8,2310.2 525.3,2312.8 526.9,2311.1 528.4,2311.2 529.9,2310.9 531.5,2311.5 533,2312 534.5,2311.8 536,2313.4 537.6,2312.1 539.1,2308.6 540.6,2301.2 542.1,2296.8 543.7,2302.3 545.2,2306.1 546.7,2310.3 548.3,2311.9 549.8,2312 551.3,2310.5 552.8,2311.4 554.4,2311.6 555.9,2312.5 557.4,2311.7 559,2310.2 560.5,2312.9 562,2312.3 563.5,2311.2 565.1,2311.1 566.6,2310.8 568.1,2312.1 569.7,2311.5 571.2,2311.2 572.7,2310.6 574.2,2305.1 575.8,2305.1 577.3,2308.6 578.8,2310.3 580.4,2312.5 581.9,2311.1 583.4,2311.7 584.9,2311.6 586.5,2312.8 588,2311.8 589.5,2306.9 591.1,2297.2 592.6,2291.6 594.1,2293.9 595.6,2304.4 597.2,2310.7 598.7,2310.1 600.2,2312 601.8,2312.1 603.3,2312.5 604.8,2312.2 606.3,2312 607.9,2312.7 609.4,2310.8 610.9,2304.8 612.5,2288.9 614,2276.4 615.5,2278.7 617,2294.4 618.6,2306.7 620.1,2310.8 621.6,2309.7 623.2,2312.8 624.7,2310.5 626.2,2312 627.7,2313.6 629.3,2310.6 630.8,2312.1 632.3,2310.2 633.8,2311.6 635.4,2305.3 636.9,2284.2 638.4,2252.6 640,2246.4 641.5,2268.4 643,2293.9 644.5,2307.1 646.1,2311.5 647.6,2311.4 649.1,2313.3 650.7,2311.2 652.2,2311.8 653.7,2311.8 655.2,2311.1 656.8,2312 658.3,2310.6 659.8,2312.3 661.4,2311.6 662.9,2312.5 664.4,2306.7 665.9,2290.1 667.5,2244.1 669,2203.5 670.5,2214.7 672.1,2257.8 673.6,2295.6 675.1,2307.8 676.6,2310.7 678.2,2312.1 679.7,2312 681.2,2311.2 682.8,2310.6 684.3,2311.4 685.8,2311.8 687.3,2310.8 688.9,2311.3 690.4,2310.2 691.9,2311.9 693.5,2310.3 695,2311.4 696.5,2309.5 698,2303.9 699.6,2272.4 701.1,2214 702.6,2169.4 704.2,2197 705.7,2253.8 707.2,2296.7 708.7,2310.4 710.3,2312.8 711.8,2310.1 713.3,2312.1 714.8,2312.2 716.4,2312.4 717.9,2310.8 719.4,2311 721,2310.8 722.5,2312.4 724,2310.7 725.5,2312.1 727.1,2311.7 728.6,2311.7 730.1,2312.8 731.7,2310.5 733.2,2303.8 734.7,2274.3 736.2,2217.1 737.8,2176.2 739.3,2199 740.8,2255.1 742.4,2298 743.9,2310.4 745.4,2312.7 746.9,2310.8 748.5,2311.9 750,2312 751.5,2310.4 753.1,2312.6 754.6,2311.8 756.1,2312.1 757.6,2312.9 759.2,2312.6 760.7,2311.7 762.2,2311.7 763.8,2311.6 765.3,2312.3 766.8,2312.9 768.3,2312.5 769.9,2310.6 771.4,2313.1 772.9,2313.1 774.5,2311.2 776,2311.4 777.5,2312.1 779,2310.2 780.6,2305.5 782.1,2286.4 783.6,2264.3 785.2,2265 786.7,2285.3 788.2,2302.7 789.7,2309.4 791.3,2311.5 792.8,2309.4 794.3,2312.5 795.8,2311.5 797.4,2311.6 798.9,2311.6 800.4,2311.3 802,2312.1 803.5,2310.6 805,2311.7 806.5,2311.3 808.1,2311.6 809.6,2311.6 811.1,2310.5 812.7,2313 814.2,2311.4 815.7,2313.9 817.2,2311.3 818.8,2312.3 820.3,2311.2 821.8,2311.4 823.4,2310.4 824.9,2310.9 826.4,2310.7 827.9,2310.3 829.5,2311.9 831,2310.2 832.5,2309.8 834.1,2302.4 835.6,2283.6 837.1,2247.9 838.6,2238.7 840.2,2260.6 841.7,2293.4 843.2,2305.7 844.8,2311.5 846.3,2311.3 847.8,2312.7 849.3,2314.2 850.9,2311 852.4,2309.9 853.9,2311.6 855.5,2312.9 857,2312.3 858.5,2310.5 860,2311.5 861.6,2307.3 863.1,2289.4 864.6,2206.3 866.2,2051.8 867.7,1933.7 869.2,1999.8 870.7,2163.7 872.3,2270.4 873.8,2305.2 875.3,2311 876.9,2311.6 878.4,2312.3 879.9,2311.5 881.4,2311.6 883,2310.5 884.5,2312.2 886,2313.3 887.5,2310.6 889.1,2311.1 890.6,2309.8 892.1,2308 893.7,2286.3 895.2,2201.3 896.7,2029.6 898.2,1900.4 899.8,1974.5 901.3,2155.4 902.8,2267.4 904.4,2306.9 905.9,2310.2 907.4,2309.6 908.9,2311.4 910.5,2312.1 912,2310.7 913.5,2311.9 915.1,2310.4 916.6,2311.2 918.1,2310.1 919.6,2310.3 921.2,2311 922.7,2310.3 924.2,2311.8 925.8,2306.7 927.3,2275.7 928.8,2156.8 930.3,1910.7 931.9,1721.7 933.4,1824.8 934.9,2091 936.5,2248.3 938,2303 939.5,2309.5 941,2309.8 942.6,2311.8 944.1,2311.7 945.6,2310.6 947.2,2310 948.7,2311.3 950.2,2310.7 951.7,2312.5 953.3,2312.4 954.8,2312.2 956.3,2309.4 957.9,2308.5 959.4,2310.1 960.9,2295.4 962.4,2237.9 964,2126.1 965.5,2047 967,2092.3 968.5,2211.8 970.1,2283.6 971.6,2308.5 973.1,2311.6 974.7,2311.2 976.2,2311.7 977.7,2305.3 979.2,2285.6 980.8,2258.3 982.3,2253.1 983.8,2274.2 985.4,2299.2 986.9,2308.1 988.4,2311 989.9,2311.1 991.5,2311.4 993,2311.5 994.5,2311.4 996.1,2310.8 997.6,2310.4 999.1,2310.5 1000.6,2300.4 1002.2,2263.5 1003.7,2194.5 1005.2,2139.6 1006.8,2168.3 1008.3,2242.7 1009.8,2293.4 1011.3,2308.6 1012.9,2312.5 1014.4,2310.7 1015.9,2311.4 1017.5,2313.1 1019,2311.6 1020.5,2311.4 1022,2310.6 1023.6,2309.6 1025.1,2292.5 1026.6,2226.1 1028.2,2096.2 1029.7,1998.8 1031.2,2056 1032.7,2189.5 1034.3,2278.6 1035.8,2307.5 1037.3,2309.1 1038.9,2311.6 1040.4,2311.3 1041.9,2308.9 1043.4,2306 1045,2290.4 1046.5,2251.2 1048,2222.2 1049.5,2230.1 1051.1,2272.1 1052.6,2301.6 1054.1,2309.8 1055.7,2311.5 1057.2,2312.4 1058.7,2311.4 1060.2,2311 1061.8,2310.4 1063.3,2309.3 1064.8,2311.4 1066.4,2313.3 1067.9,2310.9 1069.4,2312.4 1070.9,2311.8 1072.5,2311.9 1074,2312.1 1075.5,2310.9 1077.1,2310 1078.6,2310.2 1080.1,2310.9 1081.6,2309.9 1083.2,2309.7 1084.7,2310 1086.2,2312.1 1087.8,2310.6 1089.3,2312.3 1090.8,2310.1 1092.3,2312.1 1093.9,2306.6 1095.4,2275.6 1096.9,2158.9 1098.5,1919.1 1100,1733.2 1101.5,1836.8 1103,2083.1 1104.6,2225 1106.1,2250.8 1107.6,2193.3 1109.2,2054 1110.7,1945.7 1112.2,2016 1113.7,2171.3 1115.3,2271.3 1116.8,2305.8 1118.3,2308.2 1119.9,2309.8 1121.4,2310.7 1122.9,2307 1124.4,2288.1 1126,2209.7 1127.5,2052.1 1129,1925.3 1130.6,1996.7 1132.1,2167.1 1133.6,2269.8 1135.1,2306.1 1136.7,2310.9 1138.2,2310 1139.7,2308.8 1141.2,2310.3 1142.8,2310.3 1144.3,2311.3 1145.8,2309.4 1147.4,2312.7 1148.9,2312.2 1150.4,2311.3 1151.9,2309.2 1153.5,2309.4 1155,2302.2 1156.5,2279.8 1158.1,2248 1159.6,2238.3 1161.1,2259.9 1162.6,2294.7 1164.2,2307.8 1165.7,2309.8 1167.2,2312.1 1168.8,2309.1 1170.3,2308.8 1171.8,2310 1173.3,2310.1 1174.9,2300.1 1176.4,2263.2 1177.9,2197.5 1179.5,2147.9 1181,2176.6 1182.5,2244.8 1184,2293.5 1185.6,2308.9 1187.1,2310.5 1188.6,2311.6 1190.2,2311.3 1191.7,2306 1193.2,2295.4 1194.7,2278.8 1196.3,2272.5 1197.8,2286.4 1199.3,2300.9 1200.9,2310.1 1202.4,2309 1203.9,2311.3 1205.4,2309.3 1207,2309.8 1208.5,2307.6 1210,2309.8 1211.6,2309.7 1213.1,2311.5 1214.6,2311.2 1216.1,2310.6 1217.7,2310.5 1219.2,2310.6 1220.7,2308.3 1222.2,2292.8 1223.8,2235 1225.3,2114.3 1226.8,2010.1 1228.4,2005.8 1229.9,2018.5 1231.4,2004.8 1232.9,2073.7 1234.5,2201.9 1236,2280.4 1237.5,2307.3 1239.1,2307.8 1240.6,2310.7 1242.1,2305.4 1243.6,2300.5 1245.2,2295.7 1246.7,2299.3 1248.2,2305.6 1249.8,2307.7 1251.3,2310.5 1252.8,2310.3 1254.3,2309.9 1255.9,2310.5 1257.4,2311.8 1258.9,2310.4 1260.5,2308.1 1262,2309.6 1263.5,2309.1 1265,2309.7 1266.6,2308.2 1268.1,2311 1269.6,2308.7 1271.2,2308.9 1272.7,2309 1274.2,2310.4 1275.7,2309 1277.3,2309.6 1278.8,2309.5 1280.3,2309 1281.9,2310.6 1283.4,2309.9 1284.9,2310.4 1286.4,2309.3 1288,2308.4 1289.5,2308.3 1291,2308.2 1292.6,2291.5 1294.1,2228.7 1295.6,2109.7 1297.1,2006.9 1298.7,2064.3 1300.2,2192.8 1301.7,2279 1303.2,2304.9 1304.8,2308 1306.3,2310.4 1307.8,2309.2 1309.4,2307.8 1310.9,2304.7 1312.4,2304.3 1313.9,2304.4 1315.5,2308.1 1317,2308.3 1318.5,2308.6 1320.1,2309.6 1321.6,2310.3 1323.1,2309.3 1324.6,2308.9 1326.2,2307.3 1327.7,2297.1 1329.2,2258.1 1330.8,2180.5 1332.3,2123.7 1333.8,2155.1 1335.3,2235.7 1336.9,2290.3 1338.4,2306.1 1339.9,2310 1341.5,2311.4 1343,2308.5 1344.5,2309 1346,2308.1 1347.6,2309.1 1349.1,2310.3 1350.6,2310.5 1352.2,2309 1353.7,2310.7 1355.2,2308.8 1356.7,2307.2 1358.3,2308.9 1359.8,2309.8 1361.3,2309.5 1362.9,2311.1 1364.4,2308.5 1365.9,2309.5 1367.4,2307.3 1369,2293.4 1370.5,2244.7 1372,2146.5 1373.6,2073.5 1375.1,2119.9 1376.6,2215.1 1378.1,2284.9 1379.7,2307 1381.2,2309.7 1382.7,2308.8 1384.3,2310.4 1385.8,2309 1387.3,2309.6 1388.8,2308.3 1390.4,2307.8 1391.9,2309.9 1393.4,2309.1 1394.9,2307.3 1396.5,2307.9 1398,2304.3 1399.5,2301.2 1401.1,2299.4 1402.6,2303.6 1404.1,2307.2 1405.6,2307.4 1407.2,2309.7 1408.7,2310.4 1410.2,2308.8 1411.8,2309.7 1413.3,2308.8 1414.8,2308.8 1416.3,2307.6 1417.9,2306.8 1419.4,2310.9 1420.9,2309.1 1422.5,2308.2 1424,2306.3 1425.5,2300.4 1427,2281 1428.6,2259.3 1430.1,2264.3 1431.6,2286.1 1433.2,2301.1 1434.7,2301.8 1436.2,2270.1 1437.7,2224.2 1439.3,2195.5 1440.8,2225.8 1442.3,2272.6 1443.9,2302.4 1445.4,2306.9 1446.9,2310.1 1448.4,2305.9 1450,2306.9 1451.5,2308.9 1453,2306.9 1454.6,2299.7 1456.1,2262.2 1457.6,2196.2 1459.1,2147.8 1460.7,2172.1 1462.2,2242.9 1463.7,2291.6 1465.3,2308.2 1466.8,2310.7 1468.3,2309 1469.8,2308.4 1471.4,2308.3 1472.9,2308.6 1474.4,2308 1475.9,2308.9 1477.5,2309.1 1479,2308.2 1480.5,2308.5 1482.1,2308.6 1483.6,2309.1 1485.1,2307.9 1486.6,2307.8 1488.2,2308.6 1489.7,2311.1 1491.2,2306.7 1492.8,2309 1494.3,2308.6 1495.8,2309.5 1497.3,2309.3 1498.9,2307.6 1500.4,2308.8 1501.9,2308.2 1503.5,2308.3 1505,2309 1506.5,2309.9 1508,2308.7 1509.6,2308.8 1511.1,2306.2 1512.6,2308 1514.2,2308.3 1515.7,2307.7 1517.2,2308.2 1518.7,2307.6 1520.3,2307.3 1521.8,2307.3 1523.3,2306.6 1524.9,2309.1 1526.4,2308.3 1527.9,2310.9 1529.4,2308.6 1531,2309 1532.5,2307.3 1534,2310.4 1535.6,2308.2 1537.1,2308.4 1538.6,2309.3 1540.1,2308.1 1541.7,2307.7 1543.2,2305.7 1544.7,2308.4 1546.3,2308.4 1547.8,2307.2 1549.3,2300.5 1550.8,2266.1 1552.4,2207.6 1553.9,2165.9 1555.4,2189 1556.9,2251.8 1558.5,2291.9 1560,2306.4 1561.5,2307.5 1563.1,2307.5 1564.6,2308 1566.1,2307.3 1567.6,2307.9 1569.2,2303.3 1570.7,2288.7 1572.2,2273.8 1573.8,2274.3 1575.3,2290.7 1576.8,2302.1 1578.3,2305.5 1579.9,2308.8 1581.4,2307.6 1582.9,2307.4 1584.5,2307.1 1586,2308.5 1587.5,2308 1589,2307.9 1590.6,2307.2 1592.1,2308.1 1593.6,2308.4 1595.2,2306.7 1596.7,2307.5 1598.2,2305.7 1599.7,2307.2 1601.3,2308.3 1602.8,2306.2 1604.3,2307.4 1605.9,2308.4 1607.4,2305.8 1608.9,2307.7 1610.4,2308.3 1612,2307.4 1613.5,2306.7 1615,2307.7 1616.6,2307.3 1618.1,2306.7 1619.6,2307 1621.1,2309 1622.7,2307.9 1624.2,2307.3 1625.7,2308.1 1627.3,2305.8 1628.8,2307.2 1630.3,2307.7 1631.8,2305.6 1633.4,2309.5 1634.9,2306.9 1636.4,2308.1 1637.9,2306.6 1639.5,2308.6 1641,2306.7 1642.5,2308.3 1644.1,2308.5 1645.6,2305.6 1647.1,2307.9 1648.6,2305 1650.2,2305.3 1651.7,2297.3 1653.2,2279.9 1654.8,2257.7 1656.3,2260 1657.8,2280.6 1659.3,2300.7 1660.9,2307.2 1662.4,2307.8 1663.9,2308.2 1665.5,2307.5 1667,2304.1 1668.5,2294.2 1670,2277 1671.6,2272.2 1673.1,2283.4 1674.6,2298.1 1676.2,2305.3 1677.7,2306.3 1679.2,2307.9 1680.7,2308.1 1682.3,2306.1 1683.8,2307.3 1685.3,2307.9 1686.9,2306.6 1688.4,2307.2 1689.9,2305.4 1691.4,2307.4 1693,2307.5 1694.5,2307.4 1696,2306 1697.6,2305.9 1699.1,2305.1 1700.6,2305.6 1702.1,2307.3 1703.7,2310 1705.2,2306.4 1706.7,2306.3 1708.3,2305.7 1709.8,2306.7 1711.3,2305 1712.8,2306.1 1714.4,2305.4 1715.9,2306.4 1717.4,2307.9 1719,2306.2 1720.5,2304.6 1722,2302.1 1723.5,2288.3 1725.1,2273.9 1726.6,2278 1728.1,2294.4 1729.6,2305.5 1731.2,2306.2 1732.7,2306.3 1734.2,2305.4 1735.8,2305.1 1737.3,2307.4 1738.8,2307.1 1740.3,2307.1 1741.9,2305.5 1743.4,2307.5 1744.9,2306.2 1746.5,2307.7 1748,2307.2 1749.5,2306.1 1751,2305.7 1752.6,2306.8 1754.1,2305.8 1755.6,2307.9 1757.2,2307 1758.7,2306 1760.2,2305.6 1761.7,2303.9 1763.3,2290.7 1764.8,2278.2 1766.3,2276.6 1767.9,2290.3 1769.4,2301.7 1770.9,2306.1 1772.4,2305.9 1774,2304.4 1775.5,2305.9 1777,2306.6 1778.6,2307 1780.1,2306.3 1781.6,2306.6 1783.1,2306.8 1784.7,2307.7 1786.2,2306.2 1787.7,2306.4 1789.3,2306.5 1790.8,2304.5 1792.3,2296.2 1793.8,2291.8 1795.4,2289.6 1796.9,2296.3 1798.4,2304.3 1800,2305 1801.5,2308.7 1803,2306.8 1804.5,2306 1806.1,2305.3 1807.6,2307.4 1809.1,2308.5 1810.6,2306.3 1812.2,2307.4 1813.7,2308.9 1815.2,2307.5 1816.8,2306.7 1818.3,2306.7 1819.8,2306.7 1821.3,2308.5 1822.9,2306.9 1824.4,2306.6 1825.9,2305 1827.5,2306.4 1829,2306.3 1830.5,2306 1832,2306.3 1833.6,2306.5 1835.1,2306.5 1836.6,2306.4 1838.2,2307.4 1839.7,2305.5 1841.2,2306.4 1842.7,2305.9 1844.3,2307.9 1845.8,2305.4 1847.3,2307 1848.9,2307.7 1850.4,2304.6 1851.9,2306.5 1853.4,2305.6 1855,2305.9 1856.5,2305.8 1858,2305.3 1859.6,2306 1861.1,2306.8 1862.6,2305.4 1864.1,2305.5 1865.7,2306.1 1867.2,2304.2 1868.7,2306.6 1870.3,2306.2 1871.8,2305.8 1873.3,2305.5 1874.8,2306.2 1876.4,2306 1877.9,2306.2 1879.4,2305.8 1881,2305.6 1882.5,2305.1 1884,2297.9 1885.5,2289.9 1887.1,2282.7 1888.6,2289.5 1890.1,2296.7 1891.6,2303 1893.2,2304.5 1894.7,2305.1 1896.2,2305 1897.8,2305.1 1899.3,2306.1 1900.8,2304.1 1902.3,2306 1903.9,2306.9 1905.4,2306.1 1906.9,2306.9 1908.5,2305.2 1910,2304.5 1911.5,2306.8 1913,2307.4 1914.6,2304.1 1916.1,2306 1917.6,2306.1 1919.2,2304.2 1920.7,2303 1922.2,2300.9 1923.7,2297.2 1925.3,2298.4 1926.8,2303 1928.3,2304.9 1929.9,2304.9 1931.4,2305.7 1932.9,2305.5 1934.4,2305.4 1936,2306.4 1937.5,2305.1 1939,2306.7 1940.6,2305.2 1942.1,2305.6 1943.6,2306.3 1945.1,2305.9 1946.7,2306.9 1948.2,2305.8 1949.7,2305 1951.3,2304.6 1952.8,2305 1954.3,2306 1955.8,2304.7 1957.4,2305.1 1958.9,2304.5 1960.4,2307.3 1962,2304 1963.5,2305.7 1965,2305.6 1966.5,2305.2 1968.1,2306.1 1969.6,2304.1 1971.1,2304.1 1972.7,2305.5 1974.2,2305.7 1975.7,2306.2 1977.2,2305.4 1978.8,2305 1980.3,2303.9 1981.8,2304.4 1983.3,2305.6 1984.9,2304.4 1986.4,2306 1987.9,2304.6 1989.5,2305.2 1991,2305 1992.5,2305.3 1994,2305.8 1995.6,2305.7 1997.1,2305 1998.6,2305.5 2000.2,2304.6 2001.7,2306.1 2003.2,2304 2004.7,2300.5 2006.3,2298.5 2007.8,2298.7 2009.3,2300.4 2010.9,2302.1 2012.4,2304.1 2013.9,2304 2015.4,2303.2 2017,2304.7 2018.5,2304.9 2020,2304.2 2021.6,2305 2023.1,2304.3 2024.6,2305 2026.1,2303.3 2027.7,2306 2029.2,2304.1 2030.7,2305.2 2032.3,2304.3 2033.8,2303.5 2035.3,2305.4 2036.8,2305 2038.4,2304.2 2039.9,2303.9 2041.4,2305.7 2043,2304.6 2044.5,2304.4 2046,2305.3 2047.5,2306.2 2049.1,2304 2050.6,2303.3 2052.1,2304.2 2053.7,2301.9 2055.2,2296.7 2056.7,2292.2 2058.2,2293.5 2059.8,2298.3 2061.3,2302 2062.8,2303.6 2064.3,2305.5 2065.9,2303.4 2067.4,2304.9 2068.9,2302.6 2070.5,2305.1 2072,2305.5 2073.5,2303.8 2075,2305.7 2076.6,2304.3 2078.1,2304.3 2079.6,2303.6 2081.2,2302.7 2082.7,2304.5 2084.2,2303.4 2085.7,2303.2 2087.3,2304.9 2088.8,2304.3 2090.3,2303.2 2091.9,2304.3 2093.4,2303.9 2094.9,2303 2096.4,2305.3 2098,2305.4 2099.5,2302.4 2101,2303.7 2102.6,2303.3 2104.1,2303.2 2105.6,2303.2 2107.1,2303.6 2108.7,2305.2 2110.2,2303.9 2111.7,2305.7 2113.3,2305.1 2114.8,2302 2116.3,2304.9 2117.8,2303.2 2119.4,2303.9 2120.9,2304.3 2122.4,2303.7 2124,2302.8 2125.5,2305 2127,2303.4 2128.5,2304.1 2130.1,2304.3 2131.6,2304.1 2133.1,2302.6 2134.7,2303.2 2136.2,2302.8 2137.7,2303.6 2139.2,2303 2140.8,2303.1 2142.3,2304.4 2143.8,2304.2 2145.3,2304.2 2146.9,2303.6 2148.4,2302.3 2149.9,2304 2151.5,2303.6 2153,2302.5 2154.5,2304.6 2156,2303.2 2157.6,2304.6 2159.1,2303.4 2160.6,2304.1 2162.2,2305.8 2163.7,2304.4 2165.2,2303.7 2166.7,2303.1 2168.3,2305.3 2169.8,2305.4 2171.3,2303.2 2172.9,2303.7 2174.4,2305 2175.9,2303 2177.4,2301.9 2179,2303.3 2180.5,2303.8 2182,2303 2183.6,2305.2 2185.1,2303.4 2186.6,2302.8 2188.1,2302.8 2189.7,2303.5 2191.2,2304.2 2192.7,2303 2194.3,2303.9 2195.8,2303.3 2197.3,2305.4 2198.8,2303.4 2200.4,2303.4 2201.9,2303.7 2203.4,2304.2 2205,2302.7 2206.5,2302.3 2208,2302.7 2209.5,2303.9 2211.1,2305 2212.6,2303.3 2214.1,2303.9 2215.7,2304.5 2217.2,2303 2218.7,2304.8 2220.2,2301.5 2221.8,2306.5 2223.3,2303.1 2224.8,2302 2226.4,2302.9 2227.9,2303.4 2229.4,2301.5 2230.9,2301.9 2232.5,2298.1 2234,2295.1 2235.5,2297.3 2237,2300.8 2238.6,2302.6 2240.1,2304.6 2241.6,2303.5 2243.2,2301.7 2244.7,2300.9 2246.2,2302 2247.7,2301.3 2249.3,2299 2250.8,2303.8 2252.3,2303.7 2253.9,2298.8 2255.4,2297.4 2256.9,2300.4 2258.4,2298.5 2260,2295.3 2261.5,2292.4 2263,2295.6 2264.6,2291.4 2266.1,2296.9 2267.6,2299.8 2269.1,2295.3 2270.7,2301 2272.2,2299.1 2273.7,2302.7 2275.3,2300.4 2276.8,2301.1 2278.3,2301.5 2279.8,2304 2281.4,2302.4 2282.9,2302 2284.4,2302 2286,2301.3 2287.5,2301.9 2289,2302.9 2290.5,2302.8 2292.1,2302 2293.6,2302.5 2295.1,2302.2 2296.7,2303.7 2298.2,2302.2 2299.7,2300.8 2301.2,2301.9 2302.8,2302.2 2304.3,2302.8 2305.8,2302.9 2307.4,2302.6 2308.9,2303.7 2310.4,2303.8 2311.9,2302.4" fill="none" stroke="none" marker-start="url(#mk)" marker-mid="url(#mk)" marker-end="url(#mk)" clip-path="url(#cp3)"/>
<polyline points="288.4,2313 290,2313 291.5,2313 293,2313 294.6,2313 296.1,2313 297.6,2313 299.1,2313 300.7,2313 302.2,2313 303.7,2313 305.3,2313 306.8,2313 308.3,2313 309.8,2313 311.4,2313 312.9,2313 314.4,2313 316,2313 317.5,2313 319,2313 320.5,2313 322.1,2313 323.6,2313 325.1,2313 326.7,2313 328.2,2313 329.7,2313 331.2,2313 332.8,2313 334.3,2313 335.8,2313 337.4,2313 338.9,2313 340.4,2313 341.9,2312.9 343.5,2312.9 345,2312.3 346.5,2310.3 348.1,2307.1 349.6,2305.9 351.1,2308.3 352.6,2311.2 354.2,2312.6 355.7,2312.9 357.2,2312.9 358.8,2312.9 360.3,2312.9 361.8,2312.9 363.3,2312.9 364.9,2312.9 366.4,2312.9 367.9,2312.9 369.5,2312.9 371,2312.9 372.5,2312.9 374,2312.9 375.6,2312.9 377.1,2312.9 378.6,2312.9 380.1,2312.9 381.7,2312.9 383.2,2312.9 384.7,2312.9 386.3,2312.9 387.8,2312.9 389.3,2312.9 390.8,2312.9 392.4,2312.9 393.9,2312.9 395.4,2312.9 397,2312.9 398.5,2312.9 400,2312.9 401.5,2312.9 403.1,2312.9 404.6,2312.9 406.1,2312.9 407.7,2312.9 409.2,2312.9 410.7,2312.9 412.2,2312.9 413.8,2312.8 415.3,2312.8 416.8,2312.8 418.4,2312.8 419.9,2312.8 421.4,2312.8 422.9,2312.8 424.5,2312.8 426,2312.8 427.5,2312.8 429.1,2312.8 430.6,2312.8 432.1,2312.8 433.6,2312.8 435.2,2312.8 436.7,2312.8 438.2,2312.8 439.8,2312.3 441.3,2310.4 442.8,2306.1 444.3,2302.3 445.9,2303.9 447.4,2308.6 448.9,2311.7 450.5,2312.6 452,2312.8 453.5,2312.8 455,2312.8 456.6,2312.8 458.1,2312.8 459.6,2312.8 461.1,2312.8 462.7,2312.8 464.2,2312.8 465.7,2312.8 467.3,2312.8 468.8,2312.8 470.3,2312.8 471.8,2312.8 473.4,2312.8 474.9,2312.8 476.4,2312.8 478,2312.8 479.5,2312.8 481,2312.8 482.5,2312.7 484.1,2312.7 485.6,2312.7 487.1,2312.7 488.7,2312.7 490.2,2312.7 491.7,2312.7 493.2,2312.7 494.8,2312.7 496.3,2312.7 497.8,2312.7 499.4,2312.7 500.9,2312.7 502.4,2312.7 503.9,2312.7 505.5,2312.7 507,2312.7 508.5,2312.7 510.1,2312.7 511.6,2312.7 513.1,2312.7 514.6,2312.7 516.2,2312.7 517.7,2312.7 519.2,2312.7 520.8,2312.7 522.3,2312.7 523.8,2312.7 525.3,2312.7 526.9,2312.7 528.4,2312.7 529.9,2312.7 531.5,2312.7 533,2312.7 534.5,2312.7 536,2312.5 537.6,2311.7 539.1,2308.7 540.6,2303.4 542.1,2300.9 543.7,2304.4 545.2,2309.5 546.7,2312 548.3,2312.6 549.8,2312.6 551.3,2312.6 552.8,2312.6 554.4,2312.6 555.9,2312.6 557.4,2312.6 559,2312.6 560.5,2312.6 562,2312.6 563.5,2312.6 565.1,2312.6 566.6,2312.6 568.1,2312.6 569.7,2312.5 571.2,2311.9 572.7,2310.2 574.2,2308.2 575.8,2308.2 577.3,2310.2 578.8,2311.9 580.4,2312.5 581.9,2312.6 583.4,2312.6 584.9,2312.6 586.5,2312.5 588,2311.4 589.5,2307.3 591.1,2299.5 592.6,2294.9 594.1,2299.4 595.6,2307.2 597.2,2311.4 598.7,2312.4 600.2,2312.6 601.8,2312.6 603.3,2312.6 604.8,2312.6 606.3,2312.6 607.9,2312.4 609.4,2311.1 610.9,2305.3 612.5,2292.3 614,2281.6 615.5,2286.6 617,2300.5 618.6,2309.5 620.1,2312.1 621.6,2312.5 623.2,2312.5 624.7,2312.5 626.2,2312.5 627.7,2312.5 629.3,2312.5 630.8,2312.5 632.3,2312.4 633.8,2311.4 635.4,2305.1 636.9,2285.9 638.4,2260.1 640,2255.7 641.5,2278.7 643,2301.4 644.5,2310.5 646.1,2312.3 647.6,2312.5 649.1,2312.5 650.7,2312.5 652.2,2312.5 653.7,2312.5 655.2,2312.5 656.8,2312.5 658.3,2312.5 659.8,2312.5 661.4,2312.5 662.9,2312 664.4,2307.7 665.9,2288.3 667.5,2245.8 669,2211.4 670.5,2228.2 672.1,2273.8 673.6,2302.7 675.1,2311.1 676.6,2312.4 678.2,2312.5 679.7,2312.5 681.2,2312.5 682.8,2312.5 684.3,2312.5 685.8,2312.5 687.3,2312.5 688.9,2312.4 690.4,2312.4 691.9,2312.4 693.5,2312.4 695,2312.4 696.5,2311.3 698,2303.3 699.6,2271.8 701.1,2212.9 702.6,2178.2 704.2,2212.9 705.7,2271.8 707.2,2303.3 708.7,2311.3 710.3,2312.3 711.8,2312.4 713.3,2312.4 714.8,2312.4 716.4,2312.4 717.9,2312.4 719.4,2312.4 721,2312.4 722.5,2312.4 724,2312.4 725.5,2312.4 727.1,2312.4 728.6,2312.4 730.1,2312.3 731.7,2311.3 733.2,2303.7 734.7,2273.6 736.2,2217.2 737.8,2184.1 739.3,2217.2 740.8,2273.6 742.4,2303.7 743.9,2311.3 745.4,2312.3 746.9,2312.4 748.5,2312.4 750,2312.4 751.5,2312.4 753.1,2312.4 754.6,2312.4 756.1,2312.4 757.6,2312.4 759.2,2312.3 760.7,2312.3 762.2,2312.3 763.8,2312.3 765.3,2312.3 766.8,2312.3 768.3,2312.3 769.9,2312.3 771.4,2312.3 772.9,2312.3 774.5,2312.3 776,2312.3 777.5,2312.2 779,2310.9 780.6,2304.5 782.1,2288.2 783.6,2271.5 785.2,2274.4 786.7,2292.9 788.2,2306.9 789.7,2311.5 791.3,2312.2 792.8,2312.3 794.3,2312.3 795.8,2312.3 797.4,2312.3 798.9,2312.3 800.4,2312.3 802,2312.3 803.5,2312.3 805,2312.3 806.5,2312.3 808.1,2312.3 809.6,2312.3 811.1,2312.3 812.7,2312.3 814.2,2312.3 815.7,2312.3 817.2,2312.3 818.8,2312.3 820.3,2312.3 821.8,2312.3 823.4,2312.3 824.9,2312.3 826.4,2312.3 827.9,2312.2 829.5,2312.2 831,2312.1 832.5,2311 834.1,2304.2 835.6,2283.3 837.1,2254.8 838.6,2249.6 840.2,2274.7 841.7,2299.8 843.2,2310 844.8,2312 846.3,2312.2 847.8,2312.2 849.3,2312.2 850.9,2312.2 852.4,2312.2 853.9,2312.2 855.5,2312.2 857,2312.2 858.5,2312.2 860,2312 861.6,2309.1 863.1,2286.7 864.6,2198.5 866.2,2033.3 867.7,1936.2 869.2,2033.3 870.7,2198.4 872.3,2286.7 873.8,2309 875.3,2312 876.9,2312.2 878.4,2312.2 879.9,2312.2 881.4,2312.2 883,2312.2 884.5,2312.2 886,2312.2 887.5,2312.2 889.1,2312.2 890.6,2311.9 892.1,2308.8 893.7,2284.7 895.2,2189.8 896.7,2012.3 898.2,1907.8 899.8,2012.2 901.3,2189.8 902.8,2284.7 904.4,2308.8 905.9,2311.9 907.4,2312.1 908.9,2312.1 910.5,2312.1 912,2312.1 913.5,2312.1 915.1,2312.1 916.6,2312.1 918.1,2312.1 919.6,2312.1 921.2,2312.1 922.7,2312.1 924.2,2311.8 925.8,2307.2 927.3,2272.3 928.8,2134.5 930.3,1876.7 931.9,1725 933.4,1876.7 934.9,2134.5 936.5,2272.3 938,2307.2 939.5,2311.8 941,2312.1 942.6,2312.1 944.1,2312.1 945.6,2312.1 947.2,2312.1 948.7,2312.1 950.2,2312.1 951.7,2312.1 953.3,2312.1 954.8,2312.1 956.3,2312.1 957.9,2311.9 959.4,2309.9 960.9,2294.5 962.4,2233.7 964,2120 965.5,2053.1 967,2120 968.5,2233.7 970.1,2294.5 971.6,2309.9 973.1,2311.9 974.7,2311.9 976.2,2310.8 977.7,2304.7 979.2,2287.3 980.8,2266 982.3,2264.9 983.8,2285.5 985.4,2303.8 986.9,2310.6 988.4,2311.9 989.9,2312 991.5,2312 993,2312 994.5,2312 996.1,2312 997.6,2311.9 999.1,2310.6 1000.6,2301 1002.2,2263 1003.7,2191.9 1005.2,2150 1006.8,2191.9 1008.3,2263 1009.8,2301 1011.3,2310.6 1012.9,2311.9 1014.4,2312 1015.9,2312 1017.5,2312 1019,2312 1020.5,2312 1022,2311.8 1023.6,2309.4 1025.1,2291.1 1026.6,2219 1028.2,2084 1029.7,2004.5 1031.2,2084 1032.7,2219 1034.3,2291.1 1035.8,2309.4 1037.3,2311.8 1038.9,2311.9 1040.4,2311.9 1041.9,2311.4 1043.4,2307.5 1045,2290.6 1046.5,2255.7 1048,2230.7 1049.5,2247.3 1051.1,2283.7 1052.6,2305.1 1054.1,2311 1055.7,2311.9 1057.2,2311.9 1058.7,2311.9 1060.2,2311.9 1061.8,2311.9 1063.3,2311.9 1064.8,2311.9 1066.4,2311.9 1067.9,2311.9 1069.4,2311.9 1070.9,2311.9 1072.5,2311.9 1074,2311.9 1075.5,2311.9 1077.1,2311.9 1078.6,2311.9 1080.1,2311.9 1081.6,2311.9 1083.2,2311.9 1084.7,2311.9 1086.2,2311.9 1087.8,2311.9 1089.3,2311.9 1090.8,2311.9 1092.3,2311.5 1093.9,2307.1 1095.4,2273 1096.9,2138.7 1098.5,1887.4 1100,1739 1101.5,1884 1103,2126.3 1104.6,2246.2 1106.1,2257.2 1107.6,2187.8 1109.2,2040.4 1110.7,1951.5 1112.2,2045.1 1113.7,2203.1 1115.3,2287.4 1116.8,2308.8 1118.3,2311.6 1119.9,2311.7 1121.4,2311.5 1122.9,2308.6 1124.4,2286.3 1126,2198.5 1127.5,2034.2 1129,1937.5 1130.6,2034.2 1132.1,2198.5 1133.6,2286.3 1135.1,2308.5 1136.7,2311.5 1138.2,2311.7 1139.7,2311.7 1141.2,2311.6 1142.8,2311.6 1144.3,2311.6 1145.8,2311.6 1147.4,2311.6 1148.9,2311.6 1150.4,2311.6 1151.9,2311.5 1153.5,2310.3 1155,2303.2 1156.5,2281.7 1158.1,2253.5 1159.6,2249.3 1161.1,2274.9 1162.6,2299.7 1164.2,2309.4 1165.7,2311.3 1167.2,2311.5 1168.8,2311.5 1170.3,2311.5 1171.8,2311.4 1173.3,2310.2 1174.9,2301 1176.4,2264.8 1177.9,2197 1179.5,2157.1 1181,2197 1182.5,2264.8 1184,2300.9 1185.6,2310.1 1187.1,2311.3 1188.6,2311.3 1190.2,2310.8 1191.7,2307.4 1193.2,2297.2 1194.7,2283.5 1196.3,2281.3 1197.8,2293.5 1199.3,2305.5 1200.9,2310.3 1202.4,2311.2 1203.9,2311.3 1205.4,2311.3 1207,2311.3 1208.5,2311.3 1210,2311.3 1211.6,2311.3 1213.1,2311.3 1214.6,2311.3 1216.1,2311.2 1217.7,2311.2 1219.2,2311.1 1220.7,2308.9 1222.2,2292.4 1223.8,2227.2 1225.3,2103.2 1226.8,2015.1 1228.4,2021.7 1229.9,2021.7 1231.4,2015.1 1232.9,2103.2 1234.5,2227.1 1236,2292.3 1237.5,2308.8 1239.1,2310.8 1240.6,2310.1 1242.1,2307 1243.6,2301.8 1245.2,2299.3 1246.7,2302.9 1248.2,2308 1249.8,2310.4 1251.3,2311 1252.8,2311 1254.3,2311 1255.9,2311 1257.4,2311 1258.9,2311 1260.5,2311 1262,2311 1263.5,2311 1265,2311 1266.6,2311 1268.1,2311 1269.6,2311 1271.2,2311 1272.7,2310.9 1274.2,2310.9 1275.7,2310.9 1277.3,2310.9 1278.8,2310.9 1280.3,2310.9 1281.9,2310.9 1283.4,2310.9 1284.9,2310.9 1286.4,2310.9 1288,2310.9 1289.5,2310.7 1291,2308.4 1292.6,2291 1294.1,2222.3 1295.6,2093.8 1297.1,2018.2 1298.7,2093.8 1300.2,2222.3 1301.7,2290.9 1303.2,2308.3 1304.8,2310.6 1306.3,2310.7 1307.8,2310.1 1309.4,2308.3 1310.9,2305.7 1312.4,2305 1313.9,2307.1 1315.5,2309.5 1317,2310.5 1318.5,2310.7 1320.1,2310.7 1321.6,2310.7 1323.1,2310.7 1324.6,2310.6 1326.2,2309.2 1327.7,2298.5 1329.2,2256.6 1330.8,2178.2 1332.3,2132.1 1333.8,2178.2 1335.3,2256.6 1336.9,2298.5 1338.4,2309.1 1339.9,2310.5 1341.5,2310.6 1343,2310.6 1344.5,2310.6 1346,2310.6 1347.6,2310.6 1349.1,2310.5 1350.6,2310.5 1352.2,2310.5 1353.7,2310.5 1355.2,2310.5 1356.7,2310.5 1358.3,2310.5 1359.8,2310.5 1361.3,2310.5 1362.9,2310.5 1364.4,2310.5 1365.9,2310.3 1367.4,2308.5 1369,2294.9 1370.5,2241 1372,2140.3 1373.6,2081 1375.1,2140.3 1376.6,2241 1378.1,2294.8 1379.7,2308.5 1381.2,2310.2 1382.7,2310.4 1384.3,2310.4 1385.8,2310.3 1387.3,2310.3 1388.8,2310.3 1390.4,2310.3 1391.9,2310.3 1393.4,2310.3 1394.9,2310 1396.5,2308.8 1398,2306 1399.5,2303.4 1401.1,2304.1 1402.6,2307.3 1404.1,2309.4 1405.6,2310.1 1407.2,2310.2 1408.7,2310.2 1410.2,2310.2 1411.8,2310.2 1413.3,2310.2 1414.8,2310.2 1416.3,2310.2 1417.9,2310.2 1419.4,2310.2 1420.9,2310.1 1422.5,2309.9 1424,2308.2 1425.5,2300.3 1427,2282.8 1428.6,2268.1 1430.1,2274.7 1431.6,2293.6 1433.2,2304.6 1434.7,2299.9 1436.2,2271.5 1437.7,2225.1 1439.3,2207 1440.8,2241.2 1442.3,2284.8 1443.9,2304.9 1445.4,2309.5 1446.9,2310 1448.4,2310 1450,2310 1451.5,2309.9 1453,2308.7 1454.6,2299.4 1456.1,2262.8 1457.6,2194.2 1459.1,2153.9 1460.7,2194.2 1462.2,2262.7 1463.7,2299.3 1465.3,2308.6 1466.8,2309.8 1468.3,2309.9 1469.8,2309.9 1471.4,2309.9 1472.9,2309.9 1474.4,2309.9 1475.9,2309.9 1477.5,2309.9 1479,2309.9 1480.5,2309.8 1482.1,2309.8 1483.6,2309.8 1485.1,2309.8 1486.6,2309.8 1488.2,2309.8 1489.7,2309.8 1491.2,2309.8 1492.8,2309.8 1494.3,2309.8 1495.8,2309.8 1497.3,2309.8 1498.9,2309.7 1500.4,2309.7 1501.9,2309.7 1503.5,2309.7 1505,2309.7 1506.5,2309.7 1508,2309.7 1509.6,2309.7 1511.1,2309.7 1512.6,2309.7 1514.2,2309.7 1515.7,2309.7 1517.2,2309.6 1518.7,2309.6 1520.3,2309.6 1521.8,2309.6 1523.3,2309.6 1524.9,2309.6 1526.4,2309.6 1527.9,2309.6 1529.4,2309.6 1531,2309.6 1532.5,2309.6 1534,2309.6 1535.6,2309.6 1537.1,2309.5 1538.6,2309.5 1540.1,2309.5 1541.7,2309.5 1543.2,2309.5 1544.7,2309.5 1546.3,2309.4 1547.8,2308.3 1549.3,2300.2 1550.8,2268.3 1552.4,2208.6 1553.9,2173.5 1555.4,2208.6 1556.9,2268.3 1558.5,2300.2 1560,2308.3 1561.5,2309.3 1563.1,2309.4 1564.6,2309.4 1566.1,2309.3 1567.6,2308.2 1569.2,2303 1570.7,2290.5 1572.2,2278.9 1573.8,2282.2 1575.3,2296.1 1576.8,2305.8 1578.3,2308.8 1579.9,2309.3 1581.4,2309.3 1582.9,2309.3 1584.5,2309.3 1586,2309.3 1587.5,2309.3 1589,2309.3 1590.6,2309.3 1592.1,2309.2 1593.6,2309.2 1595.2,2309.2 1596.7,2309.2 1598.2,2309.2 1599.7,2309.2 1601.3,2309.2 1602.8,2309.2 1604.3,2309.2 1605.9,2309.2 1607.4,2309.2 1608.9,2309.2 1610.4,2309.2 1612,2309.1 1613.5,2309.1 1615,2309.1 1616.6,2309.1 1618.1,2309.1 1619.6,2309.1 1621.1,2309.1 1622.7,2309.1 1624.2,2309.1 1625.7,2309.1 1627.3,2309.1 1628.8,2309.1 1630.3,2309 1631.8,2309 1633.4,2309 1634.9,2309 1636.4,2309 1637.9,2309 1639.5,2309 1641,2309 1642.5,2309 1644.1,2309 1645.6,2309 1647.1,2308.9 1648.6,2308.8 1650.2,2307.2 1651.7,2299.9 1653.2,2282.6 1654.8,2266.8 1656.3,2271.8 1657.8,2290.9 1659.3,2304.1 1660.9,2308.2 1662.4,2308.8 1663.9,2308.8 1665.5,2308.3 1667,2305.1 1668.5,2295.4 1670,2282.5 1671.6,2280.5 1673.1,2292 1674.6,2303.3 1676.2,2307.8 1677.7,2308.7 1679.2,2308.8 1680.7,2308.8 1682.3,2308.8 1683.8,2308.8 1685.3,2308.8 1686.9,2308.7 1688.4,2308.7 1689.9,2308.7 1691.4,2308.7 1693,2308.7 1694.5,2308.7 1696,2308.7 1697.6,2308.7 1699.1,2308.7 1700.6,2308.7 1702.1,2308.7 1703.7,2308.7 1705.2,2308.6 1706.7,2308.6 1708.3,2308.6 1709.8,2308.6 1711.3,2308.6 1712.8,2308.6 1714.4,2308.6 1715.9,2308.6 1717.4,2308.6 1719,2308.4 1720.5,2307.2 1722,2301.9 1723.5,2290.7 1725.1,2282.1 1726.6,2287 1728.1,2298.9 1729.6,2306.1 1731.2,2308.2 1732.7,2308.5 1734.2,2308.5 1735.8,2308.5 1737.3,2308.5 1738.8,2308.5 1740.3,2308.4 1741.9,2308.4 1743.4,2308.4 1744.9,2308.4 1746.5,2308.4 1748,2308.4 1749.5,2308.4 1751,2308.4 1752.6,2308.4 1754.1,2308.4 1755.6,2308.4 1757.2,2308.3 1758.7,2308.2 1760.2,2307.4 1761.7,2303.1 1763.3,2292.6 1764.8,2282.5 1766.3,2285.1 1767.9,2296.8 1769.4,2305.1 1770.9,2307.8 1772.4,2308.2 1774,2308.3 1775.5,2308.2 1777,2308.2 1778.6,2308.2 1780.1,2308.2 1781.6,2308.2 1783.1,2308.2 1784.7,2308.2 1786.2,2308.2 1787.7,2308.1 1789.3,2307.7 1790.8,2305.6 1792.3,2300.1 1793.8,2294.2 1795.4,2294.7 1796.9,2301 1798.4,2306 1800,2307.8 1801.5,2308.1 1803,2308.1 1804.5,2308.1 1806.1,2308.1 1807.6,2308.1 1809.1,2308 1810.6,2308 1812.2,2308 1813.7,2308 1815.2,2308 1816.8,2308 1818.3,2308 1819.8,2308 1821.3,2308 1822.9,2308 1824.4,2308 1825.9,2308 1827.5,2307.9 1829,2307.9 1830.5,2307.9 1832,2307.9 1833.6,2307.9 1835.1,2307.9 1836.6,2307.9 1838.2,2307.9 1839.7,2307.9 1841.2,2307.9 1842.7,2307.9 1844.3,2307.8 1845.8,2307.8 1847.3,2307.8 1848.9,2307.8 1850.4,2307.8 1851.9,2307.8 1853.4,2307.8 1855,2307.8 1856.5,2307.8 1858,2307.8 1859.6,2307.8 1861.1,2307.7 1862.6,2307.7 1864.1,2307.7 1865.7,2307.7 1867.2,2307.7 1868.7,2307.7 1870.3,2307.7 1871.8,2307.7 1873.3,2307.7 1874.8,2307.7 1876.4,2307.7 1877.9,2307.7 1879.4,2307.6 1881,2307.5 1882.5,2306.2 1884,2301.6 1885.5,2293.2 1887.1,2288.7 1888.6,2293.9 1890.1,2302.1 1891.6,2306.4 1893.2,2307.4 1894.7,2307.5 1896.2,2307.5 1897.8,2307.5 1899.3,2307.5 1900.8,2307.5 1902.3,2307.5 1903.9,2307.5 1905.4,2307.5 1906.9,2307.5 1908.5,2307.5 1910,2307.5 1911.5,2307.5 1913,2307.4 1914.6,2307.4 1916.1,2307.4 1917.6,2307.4 1919.2,2307 1920.7,2305.3 1922.2,2302.2 1923.7,2300.3 1925.3,2302 1926.8,2305.1 1928.3,2306.8 1929.9,2307.3 1931.4,2307.3 1932.9,2307.3 1934.4,2307.3 1936,2307.3 1937.5,2307.3 1939,2307.3 1940.6,2307.3 1942.1,2307.3 1943.6,2307.3 1945.1,2307.3 1946.7,2307.3 1948.2,2307.2 1949.7,2307.2 1951.3,2307.2 1952.8,2307.2 1954.3,2307.2 1955.8,2307.2 1957.4,2307.2 1958.9,2307.2 1960.4,2307.2 1962,2307.2 1963.5,2307.2 1965,2307.1 1966.5,2307.1 1968.1,2307.1 1969.6,2307.1 1971.1,2307.1 1972.7,2307.1 1974.2,2307.1 1975.7,2307.1 1977.2,2307.1 1978.8,2307.1 1980.3,2307.1 1981.8,2307 1983.3,2307 1984.9,2307 1986.4,2307 1987.9,2307 1989.5,2307 1991,2307 1992.5,2307 1994,2307 1995.6,2307 1997.1,2307 1998.6,2306.9 2000.2,2306.9 2001.7,2306.8 2003.2,2306 2004.7,2303.8 2006.3,2301.4 2007.8,2301.5 2009.3,2303.9 2010.9,2306 2012.4,2306.7 2013.9,2306.8 2015.4,2306.9 2017,2306.8 2018.5,2306.8 2020,2306.8 2021.6,2306.8 2023.1,2306.8 2024.6,2306.8 2026.1,2306.8 2027.7,2306.8 2029.2,2306.8 2030.7,2306.8 2032.3,2306.8 2033.8,2306.7 2035.3,2306.7 2036.8,2306.7 2038.4,2306.7 2039.9,2306.7 2041.4,2306.7 2043,2306.7 2044.5,2306.7 2046,2306.7 2047.5,2306.7 2049.1,2306.7 2050.6,2306.6 2052.1,2306.1 2053.7,2303.8 2055.2,2298.9 2056.7,2294.9 2058.2,2296.9 2059.8,2302.1 2061.3,2305.5 2062.8,2306.4 2064.3,2306.6 2065.9,2306.6 2067.4,2306.6 2068.9,2306.5 2070.5,2306.5 2072,2306.5 2073.5,2306.5 2075,2306.5 2076.6,2306.5 2078.1,2306.5 2079.6,2306.5 2081.2,2306.5 2082.7,2306.5 2084.2,2306.5 2085.7,2306.4 2087.3,2306.4 2088.8,2306.4 2090.3,2306.4 2091.9,2306.4 2093.4,2306.4 2094.9,2306.4 2096.4,2306.4 2098,2306.4 2099.5,2306.4 2101,2306.4 2102.6,2306.3 2104.1,2306.3 2105.6,2306.3 2107.1,2306.3 2108.7,2306.3 2110.2,2306.3 2111.7,2306.3 2113.3,2306.3 2114.8,2306.3 2116.3,2306.3 2117.8,2306.3 2119.4,2306.2 2120.9,2306.2 2122.4,2306.2 2124,2306.2 2125.5,2306.2 2127,2306.2 2128.5,2306.2 2130.1,2306.2 2131.6,2306.2 2133.1,2306.2 2134.7,2306.2 2136.2,2306.2 2137.7,2306.1 2139.2,2306.1 2140.8,2306.1 2142.3,2306.1 2143.8,2306.1 2145.3,2306.1 2146.9,2306.1 2148.4,2306.1 2149.9,2306.1 2151.5,2306.1 2153,2306.1 2154.5,2306 2156,2306 2157.6,2306 2159.1,2306 2160.6,2306 2162.2,2306 2163.7,2306 2165.2,2306 2166.7,2306 2168.3,2306 2169.8,2306 2171.3,2305.9 2172.9,2305.9 2174.4,2305.9 2175.9,2305.9 2177.4,2305.9 2179,2305.9 2180.5,2305.9 2182,2305.9 2183.6,2305.9 2185.1,2305.9 2186.6,2305.9 2188.1,2305.9 2189.7,2305.8 2191.2,2305.8 2192.7,2305.8 2194.3,2305.8 2195.8,2305.8 2197.3,2305.8 2198.8,2305.8 2200.4,2305.8 2201.9,2305.8 2203.4,2305.8 2205,2305.8 2206.5,2305.7 2208,2305.7 2209.5,2305.7 2211.1,2305.7 2212.6,2305.7 2214.1,2305.7 2215.7,2305.7 2217.2,2305.7 2218.7,2305.7 2220.2,2305.7 2221.8,2305.7 2223.3,2305.6 2224.8,2305.6 2226.4,2305.6 2227.9,2305.5 2229.4,2305 2230.9,2303.1 2232.5,2299.9 2234,2298.5 2235.5,2300.7 2237,2303.7 2238.6,2305.2 2240.1,2305.5 2241.6,2305.5 2243.2,2305.5 2244.7,2305.5 2246.2,2305.5 2247.7,2305.5 2249.3,2305.5 2250.8,2305.5 2252.3,2305.5 2253.9,2305.5 2255.4,2305.5 2256.9,2305.5 2258.4,2305.4 2260,2305.4 2261.5,2305.4 2263,2305.4 2264.6,2305.4 2266.1,2305.4 2267.6,2305.4 2269.1,2305.4 2270.7,2305.4 2272.2,2305.4 2273.7,2305.4 2275.3,2305.3 2276.8,2305.3 2278.3,2305.3 2279.8,2305.3 2281.4,2305.3 2282.9,2305.3 2284.4,2305.3 2286,2305.3 2287.5,2305.3 2289,2305.3 2290.5,2305.3 2292.1,2305.2 2293.6,2305.2 2295.1,2305.2 2296.7,2305.2 2298.2,2305.2 2299.7,2305.2 2301.2,2305.2 2302.8,2305.2 2304.3,2305.2 2305.8,2305.2 2307.4,2305.2 2308.9,2305.2 2310.4,2305.1 2311.9,2305.1" fill="none" stroke="#000" stroke-width="5.3" stroke-linejoin="round" clip-path="url(#cp3)"/>
<path d="M287.1 2313h2.6M288.7 2313h2.6M290.2 2313h2.6M291.7 2313h2.6M293.3 2313h2.6M294.8 2313h2.6M296.3 2313h2.6M297.8 2313h2.6M299.4 2313h2.6M300.9 2313h2.6M302.4 2313h2.6M304 2313h2.6M305.5 2313h2.6M307 2313h2.6M308.5 2313h2.6M310.1 2313h2.6M311.6 2313h2.6M313.1 2313h2.6M314.7 2313h2.6M316.2 2313h2.6M317.7 2313h2.6M319.2 2313h2.6M320.8 2313h2.6M322.3 2313h2.6M323.8 2313h2.6M325.4 2313h2.6M326.9 2313h2.6M328.4 2313h2.6M329.9 2313h2.6M331.5 2313h2.6M333 2313h2.6M334.5 2313h2.6M336.1 2313h2.6M337.6 2313h2.6M339.1 2313h2.6M340.6 2312.9h2.6M342.2 2312.9h2.6M343.7 2312.3h2.6M345.2 2310.3h2.6M346.8 2307.1h2.6M348.3 2305.9h2.6M349.8 2308.3h2.6M351.3 2311.2h2.6M352.9 2312.6h2.6M354.4 2312.9h2.6M355.9 2312.9h2.6M357.5 2312.9h2.6M359 2312.9h2.6M360.5 2312.9h2.6M362 2312.9h2.6M363.6 2312.9h2.6M365.1 2312.9h2.6M366.6 2312.9h2.6M368.2 2312.9h2.6M369.7 2312.9h2.6M371.2 2312.9h2.6M372.7 2312.9h2.6M374.3 2312.9h2.6M375.8 2312.9h2.6M377.3 2312.9h2.6M378.8 2312.9h2.6M380.4 2312.9h2.6M381.9 2312.9h2.6M383.4 2312.9h2.6M385 2312.9h2.6M386.5 2312.9h2.6M388 2312.9h2.6M389.5 2312.9h2.6M391.1 2312.9h2.6M392.6 2312.9h2.6M394.1 2312.9h2.6M395.7 2312.9h2.6M397.2 2312.9h2.6M398.7 2312.9h2.6M400.2 2312.9h2.6M401.8 2312.9h2.6M403.3 2312.9h2.6M404.8 2312.9h2.6M406.4 2312.9h2.6M407.9 2312.9h2.6M409.4 2312.9h2.6M410.9 2312.9h2.6M412.5 2312.8h2.6M414 2312.8h2.6M415.5 2312.8h2.6M417.1 2312.8h2.6M418.6 2312.8h2.6M420.1 2312.8h2.6M421.6 2312.8h2.6M423.2 2312.8h2.6M424.7 2312.8h2.6M426.2 2312.8h2.6M427.8 2312.8h2.6M429.3 2312.8h2.6M430.8 2312.8h2.6M432.3 2312.8h2.6M433.9 2312.8h2.6M435.4 2312.8h2.6M436.9 2312.8h2.6M438.5 2312.3h2.6M440 2310.4h2.6M441.5 2306.1h2.6M443 2302.3h2.6M444.6 2303.9h2.6M446.1 2308.6h2.6M447.6 2311.7h2.6M449.2 2312.6h2.6M450.7 2312.8h2.6M452.2 2312.8h2.6M453.7 2312.8h2.6M455.3 2312.8h2.6M456.8 2312.8h2.6M458.3 2312.8h2.6M459.8 2312.8h2.6M461.4 2312.8h2.6M462.9 2312.8h2.6M464.4 2312.8h2.6M466 2312.8h2.6M467.5 2312.8h2.6M469 2312.8h2.6M470.5 2312.8h2.6M472.1 2312.8h2.6M473.6 2312.8h2.6M475.1 2312.8h2.6M476.7 2312.8h2.6M478.2 2312.8h2.6M479.7 2312.8h2.6M481.2 2312.7h2.6M482.8 2312.7h2.6M484.3 2312.7h2.6M485.8 2312.7h2.6M487.4 2312.7h2.6M488.9 2312.7h2.6M490.4 2312.7h2.6M491.9 2312.7h2.6M493.5 2312.7h2.6M495 2312.7h2.6M496.5 2312.7h2.6M498.1 2312.7h2.6M499.6 2312.7h2.6M501.1 2312.7h2.6M502.6 2312.7h2.6M504.2 2312.7h2.6M505.7 2312.7h2.6M507.2 2312.7h2.6M508.8 2312.7h2.6M510.3 2312.7h2.6M511.8 2312.7h2.6M513.3 2312.7h2.6M514.9 2312.7h2.6M516.4 2312.7h2.6M517.9 2312.7h2.6M519.5 2312.7h2.6M521 2312.7h2.6M522.5 2312.7h2.6M524 2312.7h2.6M525.6 2312.7h2.6M527.1 2312.7h2.6M528.6 2312.7h2.6M530.2 2312.7h2.6M531.7 2312.7h2.6M533.2 2312.7h2.6M534.7 2312.5h2.6M536.3 2311.7h2.6M537.8 2308.7h2.6M539.3 2303.4h2.6M540.8 2300.9h2.6M542.4 2304.4h2.6M543.9 2309.5h2.6M545.4 2312h2.6M547 2312.6h2.6M548.5 2312.6h2.6M550 2312.6h2.6M551.5 2312.6h2.6M553.1 2312.6h2.6M554.6 2312.6h2.6M556.1 2312.6h2.6M557.7 2312.6h2.6M559.2 2312.6h2.6M560.7 2312.6h2.6M562.2 2312.6h2.6M563.8 2312.6h2.6M565.3 2312.6h2.6M566.8 2312.6h2.6M568.4 2312.5h2.6M569.9 2311.9h2.6M571.4 2310.2h2.6M572.9 2308.2h2.6M574.5 2308.2h2.6M576 2310.2h2.6M577.5 2311.9h2.6M579.1 2312.5h2.6M580.6 2312.6h2.6M582.1 2312.6h2.6M583.6 2312.6h2.6M585.2 2312.5h2.6M586.7 2311.4h2.6M588.2 2307.3h2.6M589.8 2299.5h2.6M591.3 2294.9h2.6M592.8 2299.4h2.6M594.3 2307.2h2.6M595.9 2311.4h2.6M597.4 2312.4h2.6M598.9 2312.6h2.6M600.5 2312.6h2.6M602 2312.6h2.6M603.5 2312.6h2.6M605 2312.6h2.6M606.6 2312.4h2.6M608.1 2311.1h2.6M609.6 2305.3h2.6M611.2 2292.3h2.6M612.7 2281.6h2.6M614.2 2286.6h2.6M615.7 2300.5h2.6M617.3 2309.5h2.6M618.8 2312.1h2.6M620.3 2312.5h2.6M621.9 2312.5h2.6M623.4 2312.5h2.6M624.9 2312.5h2.6M626.4 2312.5h2.6M628 2312.5h2.6M629.5 2312.5h2.6M631 2312.4h2.6M632.5 2311.4h2.6M634.1 2305.1h2.6M635.6 2285.9h2.6M637.1 2260.1h2.6M638.7 2255.7h2.6M640.2 2278.7h2.6M641.7 2301.4h2.6M643.2 2310.5h2.6M644.8 2312.3h2.6M646.3 2312.5h2.6M647.8 2312.5h2.6M649.4 2312.5h2.6M650.9 2312.5h2.6M652.4 2312.5h2.6M653.9 2312.5h2.6M655.5 2312.5h2.6M657 2312.5h2.6M658.5 2312.5h2.6M660.1 2312.5h2.6M661.6 2312h2.6M663.1 2307.7h2.6M664.6 2288.3h2.6M666.2 2245.8h2.6M667.7 2211.4h2.6M669.2 2228.2h2.6M670.8 2273.8h2.6M672.3 2302.7h2.6M673.8 2311.1h2.6M675.3 2312.4h2.6M676.9 2312.5h2.6M678.4 2312.5h2.6M679.9 2312.5h2.6M681.5 2312.5h2.6M683 2312.5h2.6M684.5 2312.5h2.6M686 2312.5h2.6M687.6 2312.4h2.6M689.1 2312.4h2.6M690.6 2312.4h2.6M692.2 2312.4h2.6M693.7 2312.4h2.6M695.2 2311.3h2.6M696.7 2303.3h2.6M698.3 2271.8h2.6M699.8 2212.9h2.6M701.3 2178.2h2.6M702.9 2212.9h2.6M704.4 2271.8h2.6M705.9 2303.3h2.6M707.4 2311.3h2.6M709 2312.3h2.6M710.5 2312.4h2.6M712 2312.4h2.6M713.5 2312.4h2.6M715.1 2312.4h2.6M716.6 2312.4h2.6M718.1 2312.4h2.6M719.7 2312.4h2.6M721.2 2312.4h2.6M722.7 2312.4h2.6M724.2 2312.4h2.6M725.8 2312.4h2.6M727.3 2312.4h2.6M728.8 2312.3h2.6M730.4 2311.3h2.6M731.9 2303.7h2.6M733.4 2273.6h2.6M734.9 2217.2h2.6M736.5 2184.1h2.6M738 2217.2h2.6M739.5 2273.6h2.6M741.1 2303.7h2.6M742.6 2311.3h2.6M744.1 2312.3h2.6M745.6 2312.4h2.6M747.2 2312.4h2.6M748.7 2312.4h2.6M750.2 2312.4h2.6M751.8 2312.4h2.6M753.3 2312.4h2.6M754.8 2312.4h2.6M756.3 2312.4h2.6M757.9 2312.3h2.6M759.4 2312.3h2.6M760.9 2312.3h2.6M762.5 2312.3h2.6M764 2312.3h2.6M765.5 2312.3h2.6M767 2312.3h2.6M768.6 2312.3h2.6M770.1 2312.3h2.6M771.6 2312.3h2.6M773.2 2312.3h2.6M774.7 2312.3h2.6M776.2 2312.2h2.6M777.7 2310.9h2.6M779.3 2304.5h2.6M780.8 2288.2h2.6M782.3 2271.5h2.6M783.9 2274.4h2.6M785.4 2292.9h2.6M786.9 2306.9h2.6M788.4 2311.5h2.6M790 2312.2h2.6M791.5 2312.3h2.6M793 2312.3h2.6M794.5 2312.3h2.6M796.1 2312.3h2.6M797.6 2312.3h2.6M799.1 2312.3h2.6M800.7 2312.3h2.6M802.2 2312.3h2.6M803.7 2312.3h2.6M805.2 2312.3h2.6M806.8 2312.3h2.6M808.3 2312.3h2.6M809.8 2312.3h2.6M811.4 2312.3h2.6M812.9 2312.3h2.6M814.4 2312.3h2.6M815.9 2312.3h2.6M817.5 2312.3h2.6M819 2312.3h2.6M820.5 2312.3h2.6M822.1 2312.3h2.6M823.6 2312.3h2.6M825.1 2312.3h2.6M826.6 2312.2h2.6M828.2 2312.2h2.6M829.7 2312.1h2.6M831.2 2311h2.6M832.8 2304.2h2.6M834.3 2283.3h2.6M835.8 2254.8h2.6M837.3 2249.6h2.6M838.9 2274.7h2.6M840.4 2299.8h2.6M841.9 2310h2.6M843.5 2312h2.6M845 2312.2h2.6M846.5 2312.2h2.6M848 2312.2h2.6M849.6 2312.2h2.6M851.1 2312.2h2.6M852.6 2312.2h2.6M854.2 2312.2h2.6M855.7 2312.2h2.6M857.2 2312.2h2.6M858.7 2312h2.6M860.3 2309.1h2.6M861.8 2286.7h2.6M863.3 2198.5h2.6M864.9 2033.3h2.6M866.4 1936.2h2.6M867.9 2033.3h2.6M869.4 2198.4h2.6M871 2286.7h2.6M872.5 2309h2.6M874 2312h2.6M875.6 2312.2h2.6M877.1 2312.2h2.6M878.6 2312.2h2.6M880.1 2312.2h2.6M881.7 2312.2h2.6M883.2 2312.2h2.6M884.7 2312.2h2.6M886.2 2312.2h2.6M887.8 2312.2h2.6M889.3 2311.9h2.6M890.8 2308.8h2.6M892.4 2284.7h2.6M893.9 2189.8h2.6M895.4 2012.3h2.6M896.9 1907.8h2.6M898.5 2012.2h2.6M900 2189.8h2.6M901.5 2284.7h2.6M903.1 2308.8h2.6M904.6 2311.9h2.6M906.1 2312.1h2.6M907.6 2312.1h2.6M909.2 2312.1h2.6M910.7 2312.1h2.6M912.2 2312.1h2.6M913.8 2312.1h2.6M915.3 2312.1h2.6M916.8 2312.1h2.6M918.3 2312.1h2.6M919.9 2312.1h2.6M921.4 2312.1h2.6M922.9 2311.8h2.6M924.5 2307.2h2.6M926 2272.3h2.6M927.5 2134.5h2.6M929 1876.7h2.6M930.6 1725h2.6M932.1 1876.7h2.6M933.6 2134.5h2.6M935.2 2272.3h2.6M936.7 2307.2h2.6M938.2 2311.8h2.6M939.7 2312.1h2.6M941.3 2312.1h2.6M942.8 2312.1h2.6M944.3 2312.1h2.6M945.9 2312.1h2.6M947.4 2312.1h2.6M948.9 2312.1h2.6M950.4 2312.1h2.6M952 2312.1h2.6M953.5 2312.1h2.6M955 2312.1h2.6M956.6 2311.9h2.6M958.1 2309.9h2.6M959.6 2294.5h2.6M961.1 2233.7h2.6M962.7 2120h2.6M964.2 2053.1h2.6M965.7 2120h2.6M967.2 2233.7h2.6M968.8 2294.5h2.6M970.3 2309.9h2.6M971.8 2311.9h2.6M973.4 2311.9h2.6M974.9 2310.8h2.6M976.4 2304.7h2.6M977.9 2287.3h2.6M979.5 2266h2.6M981 2264.9h2.6M982.5 2285.5h2.6M984.1 2303.8h2.6M985.6 2310.6h2.6M987.1 2311.9h2.6M988.6 2312h2.6M990.2 2312h2.6M991.7 2312h2.6M993.2 2312h2.6M994.8 2312h2.6M996.3 2311.9h2.6M997.8 2310.6h2.6M999.3 2301h2.6M1000.9 2263h2.6M1002.4 2191.9h2.6M1003.9 2150h2.6M1005.5 2191.9h2.6M1007 2263h2.6M1008.5 2301h2.6M1010 2310.6h2.6M1011.6 2311.9h2.6M1013.1 2312h2.6M1014.6 2312h2.6M1016.2 2312h2.6M1017.7 2312h2.6M1019.2 2312h2.6M1020.7 2311.8h2.6M1022.3 2309.4h2.6M1023.8 2291.1h2.6M1025.3 2219h2.6M1026.9 2084h2.6M1028.4 2004.5h2.6M1029.9 2084h2.6M1031.4 2219h2.6M1033 2291.1h2.6M1034.5 2309.4h2.6M1036 2311.8h2.6M1037.6 2311.9h2.6M1039.1 2311.9h2.6M1040.6 2311.4h2.6M1042.1 2307.5h2.6M1043.7 2290.6h2.6M1045.2 2255.7h2.6M1046.7 2230.7h2.6M1048.2 2247.3h2.6M1049.8 2283.7h2.6M1051.3 2305.1h2.6M1052.8 2311h2.6M1054.4 2311.9h2.6M1055.9 2311.9h2.6M1057.4 2311.9h2.6M1058.9 2311.9h2.6M1060.5 2311.9h2.6M1062 2311.9h2.6M1063.5 2311.9h2.6M1065.1 2311.9h2.6M1066.6 2311.9h2.6M1068.1 2311.9h2.6M1069.6 2311.9h2.6M1071.2 2311.9h2.6M1072.7 2311.9h2.6M1074.2 2311.9h2.6M1075.8 2311.9h2.6M1077.3 2311.9h2.6M1078.8 2311.9h2.6M1080.3 2311.9h2.6M1081.9 2311.9h2.6M1083.4 2311.9h2.6M1084.9 2311.9h2.6M1086.5 2311.9h2.6M1088 2311.9h2.6M1089.5 2311.9h2.6M1091 2311.5h2.6M1092.6 2307.1h2.6M1094.1 2273h2.6M1095.6 2138.7h2.6M1097.2 1887.4h2.6M1098.7 1739h2.6M1100.2 1884h2.6M1101.7 2126.3h2.6M1103.3 2246.2h2.6M1104.8 2257.2h2.6M1106.3 2187.8h2.6M1107.9 2040.4h2.6M1109.4 1951.5h2.6M1110.9 2045.1h2.6M1112.4 2203.1h2.6M1114 2287.4h2.6M1115.5 2308.8h2.6M1117 2311.6h2.6M1118.6 2311.7h2.6M1120.1 2311.5h2.6M1121.6 2308.6h2.6M1123.1 2286.3h2.6M1124.7 2198.5h2.6M1126.2 2034.2h2.6M1127.7 1937.5h2.6M1129.3 2034.2h2.6M1130.8 2198.5h2.6M1132.3 2286.3h2.6M1133.8 2308.5h2.6M1135.4 2311.5h2.6M1136.9 2311.7h2.6M1138.4 2311.7h2.6M1139.9 2311.6h2.6M1141.5 2311.6h2.6M1143 2311.6h2.6M1144.5 2311.6h2.6M1146.1 2311.6h2.6M1147.6 2311.6h2.6M1149.1 2311.6h2.6M1150.6 2311.5h2.6M1152.2 2310.3h2.6M1153.7 2303.2h2.6M1155.2 2281.7h2.6M1156.8 2253.5h2.6M1158.3 2249.3h2.6M1159.8 2274.9h2.6M1161.3 2299.7h2.6M1162.9 2309.4h2.6M1164.4 2311.3h2.6M1165.9 2311.5h2.6M1167.5 2311.5h2.6M1169 2311.5h2.6M1170.5 2311.4h2.6M1172 2310.2h2.6M1173.6 2301h2.6M1175.1 2264.8h2.6M1176.6 2197h2.6M1178.2 2157.1h2.6M1179.7 2197h2.6M1181.2 2264.8h2.6M1182.7 2300.9h2.6M1184.3 2310.1h2.6M1185.8 2311.3h2.6M1187.3 2311.3h2.6M1188.9 2310.8h2.6M1190.4 2307.4h2.6M1191.9 2297.2h2.6M1193.4 2283.5h2.6M1195 2281.3h2.6M1196.5 2293.5h2.6M1198 2305.5h2.6M1199.6 2310.3h2.6M1201.1 2311.2h2.6M1202.6 2311.3h2.6M1204.1 2311.3h2.6M1205.7 2311.3h2.6M1207.2 2311.3h2.6M1208.7 2311.3h2.6M1210.3 2311.3h2.6M1211.8 2311.3h2.6M1213.3 2311.3h2.6M1214.8 2311.2h2.6M1216.4 2311.2h2.6M1217.9 2311.1h2.6M1219.4 2308.9h2.6M1220.9 2292.4h2.6M1222.5 2227.2h2.6M1224 2103.2h2.6M1225.5 2015.1h2.6M1227.1 2021.7h2.6M1228.6 2021.7h2.6M1230.1 2015.1h2.6M1231.6 2103.2h2.6M1233.2 2227.1h2.6M1234.7 2292.3h2.6M1236.2 2308.8h2.6M1237.8 2310.8h2.6M1239.3 2310.1h2.6M1240.8 2307h2.6M1242.3 2301.8h2.6M1243.9 2299.3h2.6M1245.4 2302.9h2.6M1246.9 2308h2.6M1248.5 2310.4h2.6M1250 2311h2.6M1251.5 2311h2.6M1253 2311h2.6M1254.6 2311h2.6M1256.1 2311h2.6M1257.6 2311h2.6M1259.2 2311h2.6M1260.7 2311h2.6M1262.2 2311h2.6M1263.7 2311h2.6M1265.3 2311h2.6M1266.8 2311h2.6M1268.3 2311h2.6M1269.9 2311h2.6M1271.4 2310.9h2.6M1272.9 2310.9h2.6M1274.4 2310.9h2.6M1276 2310.9h2.6M1277.5 2310.9h2.6M1279 2310.9h2.6M1280.6 2310.9h2.6M1282.1 2310.9h2.6M1283.6 2310.9h2.6M1285.1 2310.9h2.6M1286.7 2310.9h2.6M1288.2 2310.7h2.6M1289.7 2308.4h2.6M1291.3 2291h2.6M1292.8 2222.3h2.6M1294.3 2093.8h2.6M1295.8 2018.2h2.6M1297.4 2093.8h2.6M1298.9 2222.3h2.6M1300.4 2290.9h2.6M1301.9 2308.3h2.6M1303.5 2310.6h2.6M1305 2310.7h2.6M1306.5 2310.1h2.6M1308.1 2308.3h2.6M1309.6 2305.7h2.6M1311.1 2305h2.6M1312.6 2307.1h2.6M1314.2 2309.5h2.6M1315.7 2310.5h2.6M1317.2 2310.7h2.6M1318.8 2310.7h2.6M1320.3 2310.7h2.6M1321.8 2310.7h2.6M1323.3 2310.6h2.6M1324.9 2309.2h2.6M1326.4 2298.5h2.6M1327.9 2256.6h2.6M1329.5 2178.2h2.6M1331 2132.1h2.6M1332.5 2178.2h2.6M1334 2256.6h2.6M1335.6 2298.5h2.6M1337.1 2309.1h2.6M1338.6 2310.5h2.6M1340.2 2310.6h2.6M1341.7 2310.6h2.6M1343.2 2310.6h2.6M1344.7 2310.6h2.6M1346.3 2310.6h2.6M1347.8 2310.5h2.6M1349.3 2310.5h2.6M1350.9 2310.5h2.6M1352.4 2310.5h2.6M1353.9 2310.5h2.6M1355.4 2310.5h2.6M1357 2310.5h2.6M1358.5 2310.5h2.6M1360 2310.5h2.6M1361.6 2310.5h2.6M1363.1 2310.5h2.6M1364.6 2310.3h2.6M1366.1 2308.5h2.6M1367.7 2294.9h2.6M1369.2 2241h2.6M1370.7 2140.3h2.6M1372.3 2081h2.6M1373.8 2140.3h2.6M1375.3 2241h2.6M1376.8 2294.8h2.6M1378.4 2308.5h2.6M1379.9 2310.2h2.6M1381.4 2310.4h2.6M1383 2310.4h2.6M1384.5 2310.3h2.6M1386 2310.3h2.6M1387.5 2310.3h2.6M1389.1 2310.3h2.6M1390.6 2310.3h2.6M1392.1 2310.3h2.6M1393.6 2310h2.6M1395.2 2308.8h2.6M1396.7 2306h2.6M1398.2 2303.4h2.6M1399.8 2304.1h2.6M1401.3 2307.3h2.6M1402.8 2309.4h2.6M1404.3 2310.1h2.6M1405.9 2310.2h2.6M1407.4 2310.2h2.6M1408.9 2310.2h2.6M1410.5 2310.2h2.6M1412 2310.2h2.6M1413.5 2310.2h2.6M1415 2310.2h2.6M1416.6 2310.2h2.6M1418.1 2310.2h2.6M1419.6 2310.1h2.6M1421.2 2309.9h2.6M1422.7 2308.2h2.6M1424.2 2300.3h2.6M1425.7 2282.8h2.6M1427.3 2268.1h2.6M1428.8 2274.7h2.6M1430.3 2293.6h2.6M1431.9 2304.6h2.6M1433.4 2299.9h2.6M1434.9 2271.5h2.6M1436.4 2225.1h2.6M1438 2207h2.6M1439.5 2241.2h2.6M1441 2284.8h2.6M1442.6 2304.9h2.6M1444.1 2309.5h2.6M1445.6 2310h2.6M1447.1 2310h2.6M1448.7 2310h2.6M1450.2 2309.9h2.6M1451.7 2308.7h2.6M1453.3 2299.4h2.6M1454.8 2262.8h2.6M1456.3 2194.2h2.6M1457.8 2153.9h2.6M1459.4 2194.2h2.6M1460.9 2262.7h2.6M1462.4 2299.3h2.6M1464 2308.6h2.6M1465.5 2309.8h2.6M1467 2309.9h2.6M1468.5 2309.9h2.6M1470.1 2309.9h2.6M1471.6 2309.9h2.6M1473.1 2309.9h2.6M1474.6 2309.9h2.6M1476.2 2309.9h2.6M1477.7 2309.9h2.6M1479.2 2309.8h2.6M1480.8 2309.8h2.6M1482.3 2309.8h2.6M1483.8 2309.8h2.6M1485.3 2309.8h2.6M1486.9 2309.8h2.6M1488.4 2309.8h2.6M1489.9 2309.8h2.6M1491.5 2309.8h2.6M1493 2309.8h2.6M1494.5 2309.8h2.6M1496 2309.8h2.6M1497.6 2309.7h2.6M1499.1 2309.7h2.6M1500.6 2309.7h2.6M1502.2 2309.7h2.6M1503.7 2309.7h2.6M1505.2 2309.7h2.6M1506.7 2309.7h2.6M1508.3 2309.7h2.6M1509.8 2309.7h2.6M1511.3 2309.7h2.6M1512.9 2309.7h2.6M1514.4 2309.7h2.6M1515.9 2309.6h2.6M1517.4 2309.6h2.6M1519 2309.6h2.6M1520.5 2309.6h2.6M1522 2309.6h2.6M1523.6 2309.6h2.6M1525.1 2309.6h2.6M1526.6 2309.6h2.6M1528.1 2309.6h2.6M1529.7 2309.6h2.6M1531.2 2309.6h2.6M1532.7 2309.6h2.6M1534.3 2309.6h2.6M1535.8 2309.5h2.6M1537.3 2309.5h2.6M1538.8 2309.5h2.6M1540.4 2309.5h2.6M1541.9 2309.5h2.6M1543.4 2309.5h2.6M1545 2309.4h2.6M1546.5 2308.3h2.6M1548 2300.2h2.6M1549.5 2268.3h2.6M1551.1 2208.6h2.6M1552.6 2173.5h2.6M1554.1 2208.6h2.6M1555.6 2268.3h2.6M1557.2 2300.2h2.6M1558.7 2308.3h2.6M1560.2 2309.3h2.6M1561.8 2309.4h2.6M1563.3 2309.4h2.6M1564.8 2309.3h2.6M1566.3 2308.2h2.6M1567.9 2303h2.6M1569.4 2290.5h2.6M1570.9 2278.9h2.6M1572.5 2282.2h2.6M1574 2296.1h2.6M1575.5 2305.8h2.6M1577 2308.8h2.6M1578.6 2309.3h2.6M1580.1 2309.3h2.6M1581.6 2309.3h2.6M1583.2 2309.3h2.6M1584.7 2309.3h2.6M1586.2 2309.3h2.6M1587.7 2309.3h2.6M1589.3 2309.3h2.6M1590.8 2309.2h2.6M1592.3 2309.2h2.6M1593.9 2309.2h2.6M1595.4 2309.2h2.6M1596.9 2309.2h2.6M1598.4 2309.2h2.6M1600 2309.2h2.6M1601.5 2309.2h2.6M1603 2309.2h2.6M1604.6 2309.2h2.6M1606.1 2309.2h2.6M1607.6 2309.2h2.6M1609.1 2309.2h2.6M1610.7 2309.1h2.6M1612.2 2309.1h2.6M1613.7 2309.1h2.6M1615.3 2309.1h2.6M1616.8 2309.1h2.6M1618.3 2309.1h2.6M1619.8 2309.1h2.6M1621.4 2309.1h2.6M1622.9 2309.1h2.6M1624.4 2309.1h2.6M1626 2309.1h2.6M1627.5 2309.1h2.6M1629 2309h2.6M1630.5 2309h2.6M1632.1 2309h2.6M1633.6 2309h2.6M1635.1 2309h2.6M1636.6 2309h2.6M1638.2 2309h2.6M1639.7 2309h2.6M1641.2 2309h2.6M1642.8 2309h2.6M1644.3 2309h2.6M1645.8 2308.9h2.6M1647.3 2308.8h2.6M1648.9 2307.2h2.6M1650.4 2299.9h2.6M1651.9 2282.6h2.6M1653.5 2266.8h2.6M1655 2271.8h2.6M1656.5 2290.9h2.6M1658 2304.1h2.6M1659.6 2308.2h2.6M1661.1 2308.8h2.6M1662.6 2308.8h2.6M1664.2 2308.3h2.6M1665.7 2305.1h2.6M1667.2 2295.4h2.6M1668.7 2282.5h2.6M1670.3 2280.5h2.6M1671.8 2292h2.6M1673.3 2303.3h2.6M1674.9 2307.8h2.6M1676.4 2308.7h2.6M1677.9 2308.8h2.6M1679.4 2308.8h2.6M1681 2308.8h2.6M1682.5 2308.8h2.6M1684 2308.8h2.6M1685.6 2308.7h2.6M1687.1 2308.7h2.6M1688.6 2308.7h2.6M1690.1 2308.7h2.6M1691.7 2308.7h2.6M1693.2 2308.7h2.6M1694.7 2308.7h2.6M1696.3 2308.7h2.6M1697.8 2308.7h2.6M1699.3 2308.7h2.6M1700.8 2308.7h2.6M1702.4 2308.7h2.6M1703.9 2308.6h2.6M1705.4 2308.6h2.6M1707 2308.6h2.6M1708.5 2308.6h2.6M1710 2308.6h2.6M1711.5 2308.6h2.6M1713.1 2308.6h2.6M1714.6 2308.6h2.6M1716.1 2308.6h2.6M1717.7 2308.4h2.6M1719.2 2307.2h2.6M1720.7 2301.9h2.6M1722.2 2290.7h2.6M1723.8 2282.1h2.6M1725.3 2287h2.6M1726.8 2298.9h2.6M1728.3 2306.1h2.6M1729.9 2308.2h2.6M1731.4 2308.5h2.6M1732.9 2308.5h2.6M1734.5 2308.5h2.6M1736 2308.5h2.6M1737.5 2308.5h2.6M1739 2308.4h2.6M1740.6 2308.4h2.6M1742.1 2308.4h2.6M1743.6 2308.4h2.6M1745.2 2308.4h2.6M1746.7 2308.4h2.6M1748.2 2308.4h2.6M1749.7 2308.4h2.6M1751.3 2308.4h2.6M1752.8 2308.4h2.6M1754.3 2308.4h2.6M1755.9 2308.3h2.6M1757.4 2308.2h2.6M1758.9 2307.4h2.6M1760.4 2303.1h2.6M1762 2292.6h2.6M1763.5 2282.5h2.6M1765 2285.1h2.6M1766.6 2296.8h2.6M1768.1 2305.1h2.6M1769.6 2307.8h2.6M1771.1 2308.2h2.6M1772.7 2308.3h2.6M1774.2 2308.2h2.6M1775.7 2308.2h2.6M1777.3 2308.2h2.6M1778.8 2308.2h2.6M1780.3 2308.2h2.6M1781.8 2308.2h2.6M1783.4 2308.2h2.6M1784.9 2308.2h2.6M1786.4 2308.1h2.6M1788 2307.7h2.6M1789.5 2305.6h2.6M1791 2300.1h2.6M1792.5 2294.2h2.6M1794.1 2294.7h2.6M1795.6 2301h2.6M1797.1 2306h2.6M1798.7 2307.8h2.6M1800.2 2308.1h2.6M1801.7 2308.1h2.6M1803.2 2308.1h2.6M1804.8 2308.1h2.6M1806.3 2308.1h2.6M1807.8 2308h2.6M1809.3 2308h2.6M1810.9 2308h2.6M1812.4 2308h2.6M1813.9 2308h2.6M1815.5 2308h2.6M1817 2308h2.6M1818.5 2308h2.6M1820 2308h2.6M1821.6 2308h2.6M1823.1 2308h2.6M1824.6 2308h2.6M1826.2 2307.9h2.6M1827.7 2307.9h2.6M1829.2 2307.9h2.6M1830.7 2307.9h2.6M1832.3 2307.9h2.6M1833.8 2307.9h2.6M1835.3 2307.9h2.6M1836.9 2307.9h2.6M1838.4 2307.9h2.6M1839.9 2307.9h2.6M1841.4 2307.9h2.6M1843 2307.8h2.6M1844.5 2307.8h2.6M1846 2307.8h2.6M1847.6 2307.8h2.6M1849.1 2307.8h2.6M1850.6 2307.8h2.6M1852.1 2307.8h2.6M1853.7 2307.8h2.6M1855.2 2307.8h2.6M1856.7 2307.8h2.6M1858.3 2307.8h2.6M1859.8 2307.7h2.6M1861.3 2307.7h2.6M1862.8 2307.7h2.6M1864.4 2307.7h2.6M1865.9 2307.7h2.6M1867.4 2307.7h2.6M1869 2307.7h2.6M1870.5 2307.7h2.6M1872 2307.7h2.6M1873.5 2307.7h2.6M1875.1 2307.7h2.6M1876.6 2307.7h2.6M1878.1 2307.6h2.6M1879.7 2307.5h2.6M1881.2 2306.2h2.6M1882.7 2301.6h2.6M1884.2 2293.2h2.6M1885.8 2288.7h2.6M1887.3 2293.9h2.6M1888.8 2302.1h2.6M1890.3 2306.4h2.6M1891.9 2307.4h2.6M1893.4 2307.5h2.6M1894.9 2307.5h2.6M1896.5 2307.5h2.6M1898 2307.5h2.6M1899.5 2307.5h2.6M1901 2307.5h2.6M1902.6 2307.5h2.6M1904.1 2307.5h2.6M1905.6 2307.5h2.6M1907.2 2307.5h2.6M1908.7 2307.5h2.6M1910.2 2307.5h2.6M1911.7 2307.4h2.6M1913.3 2307.4h2.6M1914.8 2307.4h2.6M1916.3 2307.4h2.6M1917.9 2307h2.6M1919.4 2305.3h2.6M1920.9 2302.2h2.6M1922.4 2300.3h2.6M1924 2302h2.6M1925.5 2305.1h2.6M1927 2306.8h2.6M1928.6 2307.3h2.6M1930.1 2307.3h2.6M1931.6 2307.3h2.6M1933.1 2307.3h2.6M1934.7 2307.3h2.6M1936.2 2307.3h2.6M1937.7 2307.3h2.6M1939.3 2307.3h2.6M1940.8 2307.3h2.6M1942.3 2307.3h2.6M1943.8 2307.3h2.6M1945.4 2307.3h2.6M1946.9 2307.2h2.6M1948.4 2307.2h2.6M1950 2307.2h2.6M1951.5 2307.2h2.6M1953 2307.2h2.6M1954.5 2307.2h2.6M1956.1 2307.2h2.6M1957.6 2307.2h2.6M1959.1 2307.2h2.6M1960.7 2307.2h2.6M1962.2 2307.2h2.6M1963.7 2307.1h2.6M1965.2 2307.1h2.6M1966.8 2307.1h2.6M1968.3 2307.1h2.6M1969.8 2307.1h2.6M1971.4 2307.1h2.6M1972.9 2307.1h2.6M1974.4 2307.1h2.6M1975.9 2307.1h2.6M1977.5 2307.1h2.6M1979 2307.1h2.6M1980.5 2307h2.6M1982 2307h2.6M1983.6 2307h2.6M1985.1 2307h2.6M1986.6 2307h2.6M1988.2 2307h2.6M1989.7 2307h2.6M1991.2 2307h2.6M1992.7 2307h2.6M1994.3 2307h2.6M1995.8 2307h2.6M1997.3 2306.9h2.6M1998.9 2306.9h2.6M2000.4 2306.8h2.6M2001.9 2306h2.6M2003.4 2303.8h2.6M2005 2301.4h2.6M2006.5 2301.5h2.6M2008 2303.9h2.6M2009.6 2306h2.6M2011.1 2306.7h2.6M2012.6 2306.8h2.6M2014.1 2306.9h2.6M2015.7 2306.8h2.6M2017.2 2306.8h2.6M2018.7 2306.8h2.6M2020.3 2306.8h2.6M2021.8 2306.8h2.6M2023.3 2306.8h2.6M2024.8 2306.8h2.6M2026.4 2306.8h2.6M2027.9 2306.8h2.6M2029.4 2306.8h2.6M2031 2306.8h2.6M2032.5 2306.7h2.6M2034 2306.7h2.6M2035.5 2306.7h2.6M2037.1 2306.7h2.6M2038.6 2306.7h2.6M2040.1 2306.7h2.6M2041.7 2306.7h2.6M2043.2 2306.7h2.6M2044.7 2306.7h2.6M2046.2 2306.7h2.6M2047.8 2306.7h2.6M2049.3 2306.6h2.6M2050.8 2306.1h2.6M2052.4 2303.8h2.6M2053.9 2298.9h2.6M2055.4 2294.9h2.6M2056.9 2296.9h2.6M2058.5 2302.1h2.6M2060 2305.5h2.6M2061.5 2306.4h2.6M2063 2306.6h2.6M2064.6 2306.6h2.6M2066.1 2306.6h2.6M2067.6 2306.5h2.6M2069.2 2306.5h2.6M2070.7 2306.5h2.6M2072.2 2306.5h2.6M2073.7 2306.5h2.6M2075.3 2306.5h2.6M2076.8 2306.5h2.6M2078.3 2306.5h2.6M2079.9 2306.5h2.6M2081.4 2306.5h2.6M2082.9 2306.5h2.6M2084.4 2306.4h2.6M2086 2306.4h2.6M2087.5 2306.4h2.6M2089 2306.4h2.6M2090.6 2306.4h2.6M2092.1 2306.4h2.6M2093.6 2306.4h2.6M2095.1 2306.4h2.6M2096.7 2306.4h2.6M2098.2 2306.4h2.6M2099.7 2306.4h2.6M2101.3 2306.3h2.6M2102.8 2306.3h2.6M2104.3 2306.3h2.6M2105.8 2306.3h2.6M2107.4 2306.3h2.6M2108.9 2306.3h2.6M2110.4 2306.3h2.6M2112 2306.3h2.6M2113.5 2306.3h2.6M2115 2306.3h2.6M2116.5 2306.3h2.6M2118.1 2306.2h2.6M2119.6 2306.2h2.6M2121.1 2306.2h2.6M2122.7 2306.2h2.6M2124.2 2306.2h2.6M2125.7 2306.2h2.6M2127.2 2306.2h2.6M2128.8 2306.2h2.6M2130.3 2306.2h2.6M2131.8 2306.2h2.6M2133.4 2306.2h2.6M2134.9 2306.2h2.6M2136.4 2306.1h2.6M2137.9 2306.1h2.6M2139.5 2306.1h2.6M2141 2306.1h2.6M2142.5 2306.1h2.6M2144 2306.1h2.6M2145.6 2306.1h2.6M2147.1 2306.1h2.6M2148.6 2306.1h2.6M2150.2 2306.1h2.6M2151.7 2306.1h2.6M2153.2 2306h2.6M2154.7 2306h2.6M2156.3 2306h2.6M2157.8 2306h2.6M2159.3 2306h2.6M2160.9 2306h2.6M2162.4 2306h2.6M2163.9 2306h2.6M2165.4 2306h2.6M2167 2306h2.6M2168.5 2306h2.6M2170 2305.9h2.6M2171.6 2305.9h2.6M2173.1 2305.9h2.6M2174.6 2305.9h2.6M2176.1 2305.9h2.6M2177.7 2305.9h2.6M2179.2 2305.9h2.6M2180.7 2305.9h2.6M2182.3 2305.9h2.6M2183.8 2305.9h2.6M2185.3 2305.9h2.6M2186.8 2305.9h2.6M2188.4 2305.8h2.6M2189.9 2305.8h2.6M2191.4 2305.8h2.6M2193 2305.8h2.6M2194.5 2305.8h2.6M2196 2305.8h2.6M2197.5 2305.8h2.6M2199.1 2305.8h2.6M2200.6 2305.8h2.6M2202.1 2305.8h2.6M2203.7 2305.8h2.6M2205.2 2305.7h2.6M2206.7 2305.7h2.6M2208.2 2305.7h2.6M2209.8 2305.7h2.6M2211.3 2305.7h2.6M2212.8 2305.7h2.6M2214.4 2305.7h2.6M2215.9 2305.7h2.6M2217.4 2305.7h2.6M2218.9 2305.7h2.6M2220.5 2305.7h2.6M2222 2305.6h2.6M2223.5 2305.6h2.6M2225.1 2305.6h2.6M2226.6 2305.5h2.6M2228.1 2305h2.6M2229.6 2303.1h2.6M2231.2 2299.9h2.6M2232.7 2298.5h2.6M2234.2 2300.7h2.6M2235.7 2303.7h2.6M2237.3 2305.2h2.6M2238.8 2305.5h2.6M2240.3 2305.5h2.6M2241.9 2305.5h2.6M2243.4 2305.5h2.6M2244.9 2305.5h2.6M2246.4 2305.5h2.6M2248 2305.5h2.6M2249.5 2305.5h2.6M2251 2305.5h2.6M2252.6 2305.5h2.6M2254.1 2305.5h2.6M2255.6 2305.5h2.6M2257.1 2305.4h2.6M2258.7 2305.4h2.6M2260.2 2305.4h2.6M2261.7 2305.4h2.6M2263.3 2305.4h2.6M2264.8 2305.4h2.6M2266.3 2305.4h2.6M2267.8 2305.4h2.6M2269.4 2305.4h2.6M2270.9 2305.4h2.6M2272.4 2305.4h2.6M2274 2305.3h2.6M2275.5 2305.3h2.6M2277 2305.3h2.6M2278.5 2305.3h2.6M2280.1 2305.3h2.6M2281.6 2305.3h2.6M2283.1 2305.3h2.6M2284.7 2305.3h2.6M2286.2 2305.3h2.6M2287.7 2305.3h2.6M2289.2 2305.3h2.6M2290.8 2305.2h2.6M2292.3 2305.2h2.6M2293.8 2305.2h2.6M2295.4 2305.2h2.6M2296.9 2305.2h2.6M2298.4 2305.2h2.6M2299.9 2305.2h2.6M2301.5 2305.2h2.6M2303 2305.2h2.6M2304.5 2305.2h2.6M2306.1 2305.2h2.6M2307.6 2305.2h2.6M2309.1 2305.1h2.6M2310.6 2305.1h2.6" stroke="#ff0000" stroke-width="1.5" fill="none" clip-path="url(#cp3)"/>
<text transform="translate(230.7 787.8) scale(0.7750 1)" font-size="83.7">300</text>
<text transform="translate(434.6 787.8) scale(0.7750 1)" font-size="83.7">310</text>
<text transform="translate(638.5 787.8) scale(0.7750 1)" font-size="83.7">320</text>
<text transform="translate(842.4 787.8) scale(0.7750 1)" font-size="83.7">330</text>
<text transform="translate(1046.4 787.8) scale(0.7750 1)" font-size="83.7">340</text>
<text transform="translate(1250.3 787.8) scale(0.7750 1)" font-size="83.7">350</text>
<text transform="translate(1454.2 787.8) scale(0.7750 1)" font-size="83.7">360</text>
<text transform="translate(1658.1 787.8) scale(0.7750 1)" font-size="83.7">370</text>
<text transform="translate(1862.0 787.8) scale(0.7750 1)" font-size="83.7">380</text>
<text transform="translate(2066.0 787.8) scale(0.7750 1)" font-size="83.7">390</text>
<text transform="translate(2270.3 787.8) scale(0.7750 1)" font-size="83.7">400</text>
<text transform="translate(165.9 714.8) scale(0.7750 1)" font-size="83.7">0.0</text>
<text transform="translate(166.7 596.1) scale(0.7750 1)" font-size="83.7">0.2</text>
<text transform="translate(165.1 477.4) scale(0.7750 1)" font-size="83.7">0.4</text>
<text transform="translate(165.9 358.8) scale(0.7750 1)" font-size="83.7">0.6</text>
<text transform="translate(165.9 240.1) scale(0.7750 1)" font-size="83.7">0.8</text>
<text transform="translate(165.9 121.4) scale(0.7750 1)" font-size="83.7">1.0</text>
<text transform="translate(230.3 1594.8) scale(0.7750 1)" font-size="83.7">680</text>
<text transform="translate(387.1 1594.8) scale(0.7750 1)" font-size="83.7">700</text>
<text transform="translate(544.0 1594.8) scale(0.7750 1)" font-size="83.7">720</text>
<text transform="translate(700.8 1594.8) scale(0.7750 1)" font-size="83.7">740</text>
<text transform="translate(857.7 1594.8) scale(0.7750 1)" font-size="83.7">760</text>
<text transform="translate(1014.6 1594.8) scale(0.7750 1)" font-size="83.7">780</text>
<text transform="translate(1171.4 1594.8) scale(0.7750 1)" font-size="83.7">800</text>
<text transform="translate(1328.3 1594.8) scale(0.7750 1)" font-size="83.7">820</text>
<text transform="translate(1485.1 1594.8) scale(0.7750 1)" font-size="83.7">840</text>
<text transform="translate(1642.0 1594.8) scale(0.7750 1)" font-size="83.7">860</text>
<text transform="translate(1798.8 1594.8) scale(0.7750 1)" font-size="83.7">880</text>
<text transform="translate(1955.7 1594.8) scale(0.7750 1)" font-size="83.7">900</text>
<text transform="translate(2112.5 1594.8) scale(0.7750 1)" font-size="83.7">920</text>
<text transform="translate(2269.4 1594.8) scale(0.7750 1)" font-size="83.7">940</text>
<text transform="translate(165.9 1522.4) scale(0.7750 1)" font-size="83.7">0.0</text>
<text transform="translate(166.7 1403.9) scale(0.7750 1)" font-size="83.7">0.2</text>
<text transform="translate(165.1 1285.3) scale(0.7750 1)" font-size="83.7">0.4</text>
<text transform="translate(165.9 1166.8) scale(0.7750 1)" font-size="83.7">0.6</text>
<text transform="translate(165.9 1048.2) scale(0.7750 1)" font-size="83.7">0.8</text>
<text transform="translate(165.9 929.7) scale(0.7750 1)" font-size="83.7">1.0</text>
<text transform="translate(234.1 2415.2) scale(0.7750 1)" font-size="83.7">305</text>
<text transform="translate(437.9 2415.2) scale(0.7750 1)" font-size="83.7">306</text>
<text transform="translate(642.1 2415.2) scale(0.7750 1)" font-size="83.7">307</text>
<text transform="translate(845.5 2415.2) scale(0.7750 1)" font-size="83.7">308</text>
<text transform="translate(1049.2 2415.2) scale(0.7750 1)" font-size="83.7">309</text>
<text transform="translate(1253.0 2415.2) scale(0.7750 1)" font-size="83.7">310</text>
<text transform="translate(1459.5 2415.2) scale(0.7750 1)" font-size="83.7">311</text>
<text transform="translate(1660.9 2415.2) scale(0.7750 1)" font-size="83.7">312</text>
<text transform="translate(1864.3 2415.2) scale(0.7750 1)" font-size="83.7">313</text>
<text transform="translate(2067.7 2415.2) scale(0.7750 1)" font-size="83.7">314</text>
<text transform="translate(2271.9 2415.2) scale(0.7750 1)" font-size="83.7">315</text>
<text transform="translate(179.4 2336.2) scale(0.7750 1)" font-size="83.7">0.0</text>
<text transform="translate(180.2 2218.0) scale(0.7750 1)" font-size="83.7">0.2</text>
<text transform="translate(178.6 2099.7) scale(0.7750 1)" font-size="83.7">0.4</text>
<text transform="translate(179.4 1981.5) scale(0.7750 1)" font-size="83.7">0.6</text>
<text transform="translate(179.4 1863.2) scale(0.7750 1)" font-size="83.7">0.8</text>
<text transform="translate(179.4 1745.0) scale(0.7750 1)" font-size="83.7">1.0</text>
<text transform="translate(1059.4 2528.1) scale(0.8043 1)" font-size="81.5">Wavelength (nm)</text>
<text transform="translate(323.4 188.2) scale(0.8359 1)" font-size="104.5">(a)</text>
<text transform="translate(320.3 998.6) scale(0.8073 1)" font-size="104.5">(b)</text>
<text transform="translate(322.4 1813.2) scale(0.8223 1)" font-size="104.5">(c)</text>
<text transform="translate(340.4 471.0) scale(0.8042 1)" font-size="52.3">OH: 308.9 nm</text>
<text transform="translate(946.2 513.7) scale(0.8022 1)" font-size="52.3">337.13 nm</text>
<text transform="translate(1367.0 576.1) scale(0.7961 1)" font-size="52.3">357.69 nm</text>
<text transform="translate(1833.8 625.5) scale(0.7985 1)" font-size="52.3">380.49 nm</text>
<text transform="translate(1406.8 360.2) scale(0.8085 1)" font-size="52.3">N<tspan font-size="29.5" dy="22.5">2</tspan><tspan dy="-22.5">SPS)</tspan></text>
<text transform="translate(1744.1 1919.4) scale(0.8026 1)" font-size="80">experiment</text>
<text transform="translate(1744.9 2021.4) scale(0.8010 1)" font-size="80">model at 355 K</text>
<text transform="translate(97.2 1604.4) rotate(-90) scale(0.8215 1)" font-size="81.3">Normalized OES intensity</text>
<text transform="translate(440.2 1260.4) rotate(-90) scale(0.7914 1)" font-size="54">696.54 nm</text>
<text transform="translate(517.0 1463.4) rotate(-90) scale(0.7914 1)" font-size="54">706.72 nm</text>
<text transform="translate(679.4 1433.4) rotate(-90) scale(0.7914 1)" font-size="54">727.29 nm</text>
<text transform="translate(769.6 1450.0) rotate(-90) scale(0.7914 1)" font-size="54">738.39 nm</text>
<text transform="translate(867.7 1390.4) rotate(-90) scale(0.7914 1)" font-size="54">751.46 nm</text>
<text transform="translate(920.1 1154.6) rotate(-90) scale(0.7914 1)" font-size="54">763.51 nm</text>
<text transform="translate(1064.7 1114.0) rotate(-90) scale(0.7914 1)" font-size="54">772.42 nm</text>
<text transform="translate(1208.9 1423.0) rotate(-90) scale(0.7914 1)" font-size="54">794.81 nm</text>
<text transform="translate(1260.6 1377.6) rotate(-90) scale(0.7882 1)" font-size="54">801.47 nm</text>
<text transform="translate(1336.4 1240.8) rotate(-90) scale(0.8010 1)" font-size="54">811.53 nm</text>
<text transform="translate(1461.5 1116.5) rotate(-90) scale(0.7882 1)" font-size="54">826.45 nm</text>
<text transform="translate(1540.4 1407.6) rotate(-90) scale(0.7882 1)" font-size="54">840.82 nm</text>
<text transform="translate(1586.6 1350.6) rotate(-90) scale(0.7882 1)" font-size="54">842.46 nm</text>
<text transform="translate(1661.5 1440.6) rotate(-90) scale(0.7882 1)" font-size="54">852.14 nm</text>
<text transform="translate(2162.9 1122.7) rotate(-90) scale(0.7914 1)" font-size="54">912.29 nm</text>
<text transform="translate(2212.1 1413.6) rotate(-90) scale(0.7914 1)" font-size="54">922.45 nm</text>
<path d="M1049.7 452V401.5H1923.3V452M1462.5 401.5V452" fill="none" stroke="#000" stroke-width="2.4"/>
<circle cx="1654.1" cy="1897.5" r="8.3" fill="none" stroke="#ff0000" stroke-width="2.1"/>
<path d="M1582 2000.2H1727.6" stroke="#000" stroke-width="5.3" stroke-linecap="round"/>
<path d="M1653 2000.2h2.4" stroke="#ff0000" stroke-width="1.5"/>
</svg></body></html>
